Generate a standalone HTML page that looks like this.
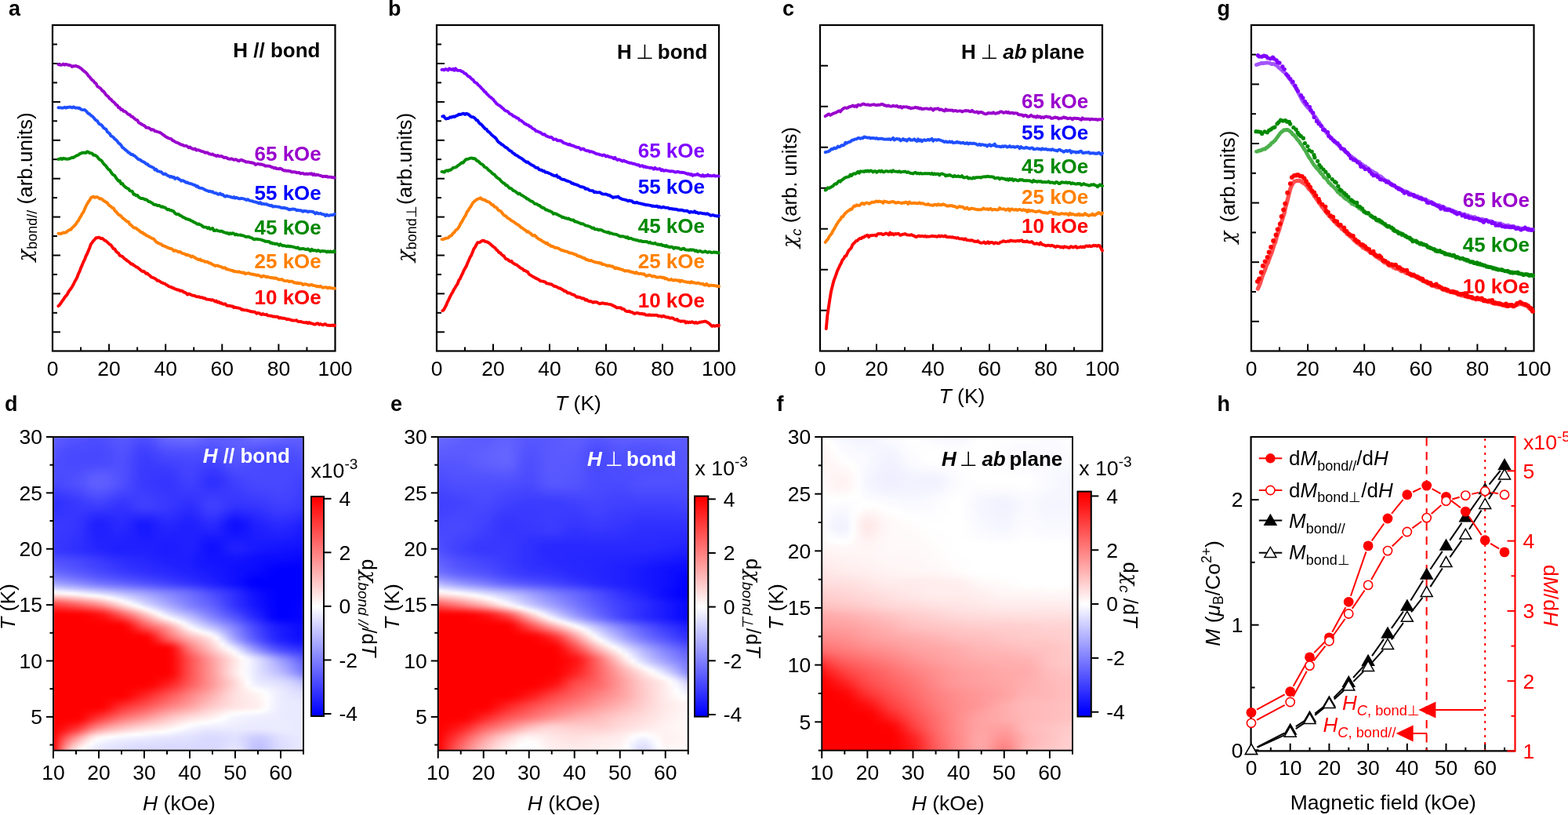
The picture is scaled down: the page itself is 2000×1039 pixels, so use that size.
<!DOCTYPE html>
<html><head><meta charset="utf-8"><title>Figure</title><style>
html,body{margin:0;padding:0;background:#fff}
#fig{position:relative;width:2000px;height:1039px;overflow:hidden;background:#fff}
svg{position:absolute;left:0;top:0}
svg text{font-family:'Liberation Sans', Arial, sans-serif}
</style></head><body><div id="fig">
<div style="position:absolute;left:68.00px;top:557.00px;width:319.00px;height:399.70px;overflow:hidden"><div style="filter:blur(1.2px);margin:-3px 0;padding:3px 0"><div style="height:3px;background:linear-gradient(90deg,#5f5fff 0.0%,#5b5bff 2.5%,#5858ff 5.0%,#5555ff 7.5%,#5353ff 10.0%,#5151ff 12.5%,#4f4fff 15.0%,#4f4fff 17.6%,#5050ff 20.1%,#5353ff 22.6%,#5757ff 25.1%,#5858ff 27.6%,#5656ff 30.1%,#5252ff 32.6%,#4f4fff 35.1%,#4f4fff 37.6%,#5757ff 40.1%,#6161ff 42.6%,#6767ff 45.1%,#6a6aff 47.6%,#6c6cff 50.2%,#6d6dff 52.7%,#6d6dff 55.2%,#6969ff 57.7%,#6363ff 60.2%,#5f5fff 62.7%,#5e5eff 65.2%,#5f5fff 67.7%,#5f5fff 70.2%,#5f5fff 72.7%,#6262ff 75.2%,#6767ff 77.7%,#6c6cff 80.3%,#6d6dff 82.8%,#6b6bff 85.3%,#6969ff 87.8%,#6666ff 90.3%,#6464ff 92.8%,#6262ff 95.3%,#6060ff 97.8%,#5f5fff 100.0%)"></div><div style="height:3px;background:linear-gradient(90deg,#5d5dff 0.0%,#5959ff 2.5%,#5555ff 5.0%,#5353ff 7.5%,#5151ff 10.0%,#4f4fff 12.5%,#4d4dff 15.0%,#4d4dff 17.6%,#4e4eff 20.1%,#5151ff 22.6%,#5555ff 25.1%,#5757ff 27.6%,#5555ff 30.1%,#5050ff 32.6%,#4c4cff 35.1%,#4c4cff 37.6%,#5353ff 40.1%,#5c5cff 42.6%,#6262ff 45.1%,#6565ff 47.6%,#6666ff 50.2%,#6767ff 52.7%,#6767ff 55.2%,#6464ff 57.7%,#5f5fff 60.2%,#5c5cff 62.7%,#5c5cff 65.2%,#5d5dff 67.7%,#5e5eff 70.2%,#5f5fff 72.7%,#6060ff 75.2%,#6464ff 77.7%,#6767ff 80.3%,#6767ff 82.8%,#6666ff 85.3%,#6363ff 87.8%,#6161ff 90.3%,#5f5fff 92.8%,#5e5eff 95.3%,#5e5eff 97.8%,#5d5dff 100.0%)"></div><div style="height:3px;background:linear-gradient(90deg,#5b5bff 0.0%,#5757ff 2.5%,#5353ff 5.0%,#5050ff 7.5%,#4f4fff 10.0%,#4d4dff 12.5%,#4c4cff 15.0%,#4b4bff 17.6%,#4c4cff 20.1%,#5050ff 22.6%,#5454ff 25.1%,#5656ff 27.6%,#5353ff 30.1%,#4d4dff 32.6%,#4949ff 35.1%,#4a4aff 37.6%,#5050ff 40.1%,#5858ff 42.6%,#5e5eff 45.1%,#6060ff 47.6%,#6161ff 50.2%,#6262ff 52.7%,#6262ff 55.2%,#6060ff 57.7%,#5c5cff 60.2%,#5959ff 62.7%,#5959ff 65.2%,#5b5bff 67.7%,#5d5dff 70.2%,#5e5eff 72.7%,#5f5fff 75.2%,#6060ff 77.7%,#6262ff 80.3%,#6262ff 82.8%,#6060ff 85.3%,#5e5eff 87.8%,#5c5cff 90.3%,#5b5bff 92.8%,#5b5bff 95.3%,#5b5bff 97.8%,#5b5bff 100.0%)"></div><div style="height:3px;background:linear-gradient(90deg,#5959ff 0.0%,#5555ff 2.5%,#5151ff 5.0%,#4e4eff 7.5%,#4d4dff 10.0%,#4c4cff 12.5%,#4b4bff 15.0%,#4a4aff 17.6%,#4b4bff 20.1%,#4f4fff 22.6%,#5353ff 25.1%,#5454ff 27.6%,#5151ff 30.1%,#4b4bff 32.6%,#4646ff 35.1%,#4747ff 37.6%,#4c4cff 40.1%,#5454ff 42.6%,#5959ff 45.1%,#5b5bff 47.6%,#5c5cff 50.2%,#5d5dff 52.7%,#5d5dff 55.2%,#5b5bff 57.7%,#5858ff 60.2%,#5656ff 62.7%,#5656ff 65.2%,#5959ff 67.7%,#5c5cff 70.2%,#5d5dff 72.7%,#5d5dff 75.2%,#5d5dff 77.7%,#5d5dff 80.3%,#5c5cff 82.8%,#5b5bff 85.3%,#5959ff 87.8%,#5757ff 90.3%,#5757ff 92.8%,#5757ff 95.3%,#5959ff 97.8%,#5a5aff 100.0%)"></div><div style="height:3px;background:linear-gradient(90deg,#5757ff 0.0%,#5353ff 2.5%,#4f4fff 5.0%,#4d4dff 7.5%,#4c4cff 10.0%,#4b4bff 12.5%,#4a4aff 15.0%,#4949ff 17.6%,#4a4aff 20.1%,#4e4eff 22.6%,#5151ff 25.1%,#5353ff 27.6%,#5050ff 30.1%,#4949ff 32.6%,#4444ff 35.1%,#4444ff 37.6%,#4949ff 40.1%,#5050ff 42.6%,#5555ff 45.1%,#5656ff 47.6%,#5858ff 50.2%,#5858ff 52.7%,#5858ff 55.2%,#5757ff 57.7%,#5555ff 60.2%,#5353ff 62.7%,#5454ff 65.2%,#5757ff 67.7%,#5a5aff 70.2%,#5c5cff 72.7%,#5b5bff 75.2%,#5a5aff 77.7%,#5858ff 80.3%,#5757ff 82.8%,#5656ff 85.3%,#5454ff 87.8%,#5353ff 90.3%,#5353ff 92.8%,#5454ff 95.3%,#5656ff 97.8%,#5858ff 100.0%)"></div><div style="height:3px;background:linear-gradient(90deg,#5555ff 0.0%,#5151ff 2.5%,#4d4dff 5.0%,#4b4bff 7.5%,#4a4aff 10.0%,#4a4aff 12.5%,#4949ff 15.0%,#4949ff 17.6%,#4a4aff 20.1%,#4d4dff 22.6%,#5050ff 25.1%,#5252ff 27.6%,#4f4fff 30.1%,#4848ff 32.6%,#4242ff 35.1%,#4242ff 37.6%,#4747ff 40.1%,#4c4cff 42.6%,#5151ff 45.1%,#5252ff 47.6%,#5353ff 50.2%,#5454ff 52.7%,#5454ff 55.2%,#5353ff 57.7%,#5252ff 60.2%,#5151ff 62.7%,#5151ff 65.2%,#5555ff 67.7%,#5959ff 70.2%,#5a5aff 72.7%,#5a5aff 75.2%,#5757ff 77.7%,#5454ff 80.3%,#5353ff 82.8%,#5252ff 85.3%,#5050ff 87.8%,#5050ff 90.3%,#5050ff 92.8%,#5151ff 95.3%,#5454ff 97.8%,#5656ff 100.0%)"></div><div style="height:3px;background:linear-gradient(90deg,#5454ff 0.0%,#5050ff 2.5%,#4c4cff 5.0%,#4a4aff 7.5%,#4949ff 10.0%,#4949ff 12.5%,#4848ff 15.0%,#4848ff 17.6%,#4949ff 20.1%,#4c4cff 22.6%,#5050ff 25.1%,#5151ff 27.6%,#4e4eff 30.1%,#4646ff 32.6%,#4040ff 35.1%,#4040ff 37.6%,#4444ff 40.1%,#4949ff 42.6%,#4d4dff 45.1%,#4e4eff 47.6%,#4f4fff 50.2%,#5050ff 52.7%,#5050ff 55.2%,#4f4fff 57.7%,#4f4fff 60.2%,#4e4eff 62.7%,#4f4fff 65.2%,#5353ff 67.7%,#5757ff 70.2%,#5959ff 72.7%,#5858ff 75.2%,#5555ff 77.7%,#5151ff 80.3%,#4f4fff 82.8%,#4e4eff 85.3%,#4d4dff 87.8%,#4c4cff 90.3%,#4d4dff 92.8%,#4f4fff 95.3%,#5252ff 97.8%,#5555ff 100.0%)"></div><div style="height:3px;background:linear-gradient(90deg,#5252ff 0.0%,#4e4eff 2.5%,#4b4bff 5.0%,#4949ff 7.5%,#4949ff 10.0%,#4848ff 12.5%,#4848ff 15.0%,#4848ff 17.6%,#4949ff 20.1%,#4c4cff 22.6%,#4f4fff 25.1%,#5050ff 27.6%,#4d4dff 30.1%,#4545ff 32.6%,#3f3fff 35.1%,#3e3eff 37.6%,#4242ff 40.1%,#4646ff 42.6%,#4a4aff 45.1%,#4b4bff 47.6%,#4c4cff 50.2%,#4c4cff 52.7%,#4d4dff 55.2%,#4c4cff 57.7%,#4c4cff 60.2%,#4b4bff 62.7%,#4c4cff 65.2%,#5151ff 67.7%,#5656ff 70.2%,#5858ff 72.7%,#5656ff 75.2%,#5353ff 77.7%,#4e4eff 80.3%,#4c4cff 82.8%,#4b4bff 85.3%,#4b4bff 87.8%,#4a4aff 90.3%,#4b4bff 92.8%,#4d4dff 95.3%,#5050ff 97.8%,#5353ff 100.0%)"></div><div style="height:3px;background:linear-gradient(90deg,#5151ff 0.0%,#4d4dff 2.5%,#4a4aff 5.0%,#4949ff 7.5%,#4848ff 10.0%,#4848ff 12.5%,#4848ff 15.0%,#4848ff 17.6%,#4949ff 20.1%,#4c4cff 22.6%,#4f4fff 25.1%,#5050ff 27.6%,#4c4cff 30.1%,#4444ff 32.6%,#3e3eff 35.1%,#3d3dff 37.6%,#4040ff 40.1%,#4444ff 42.6%,#4747ff 45.1%,#4848ff 47.6%,#4949ff 50.2%,#4a4aff 52.7%,#4a4aff 55.2%,#4a4aff 57.7%,#4949ff 60.2%,#4949ff 62.7%,#4a4aff 65.2%,#4f4fff 67.7%,#5454ff 70.2%,#5656ff 72.7%,#5555ff 75.2%,#5151ff 77.7%,#4c4cff 80.3%,#4b4bff 82.8%,#4a4aff 85.3%,#4949ff 87.8%,#4949ff 90.3%,#4949ff 92.8%,#4b4bff 95.3%,#4e4eff 97.8%,#5151ff 100.0%)"></div><div style="height:3px;background:linear-gradient(90deg,#5050ff 0.0%,#4d4dff 2.5%,#4a4aff 5.0%,#4848ff 7.5%,#4848ff 10.0%,#4848ff 12.5%,#4848ff 15.0%,#4848ff 17.6%,#4949ff 20.1%,#4c4cff 22.6%,#4f4fff 25.1%,#5050ff 27.6%,#4b4bff 30.1%,#4343ff 32.6%,#3d3dff 35.1%,#3c3cff 37.6%,#3f3fff 40.1%,#4242ff 42.6%,#4444ff 45.1%,#4646ff 47.6%,#4747ff 50.2%,#4848ff 52.7%,#4848ff 55.2%,#4848ff 57.7%,#4747ff 60.2%,#4646ff 62.7%,#4747ff 65.2%,#4c4cff 67.7%,#5252ff 70.2%,#5555ff 72.7%,#5353ff 75.2%,#4f4fff 77.7%,#4b4bff 80.3%,#4a4aff 82.8%,#4949ff 85.3%,#4848ff 87.8%,#4848ff 90.3%,#4848ff 92.8%,#4a4aff 95.3%,#4d4dff 97.8%,#5050ff 100.0%)"></div><div style="height:3px;background:linear-gradient(90deg,#4f4fff 0.0%,#4c4cff 2.5%,#4a4aff 5.0%,#4949ff 7.5%,#4848ff 10.0%,#4848ff 12.5%,#4949ff 15.0%,#4949ff 17.6%,#4a4aff 20.1%,#4c4cff 22.6%,#4f4fff 25.1%,#5050ff 27.6%,#4b4bff 30.1%,#4343ff 32.6%,#3d3dff 35.1%,#3c3cff 37.6%,#3d3dff 40.1%,#4040ff 42.6%,#4242ff 45.1%,#4343ff 47.6%,#4545ff 50.2%,#4646ff 52.7%,#4747ff 55.2%,#4646ff 57.7%,#4444ff 60.2%,#4444ff 62.7%,#4545ff 65.2%,#4a4aff 67.7%,#5050ff 70.2%,#5353ff 72.7%,#5151ff 75.2%,#4e4eff 77.7%,#4b4bff 80.3%,#4949ff 82.8%,#4949ff 85.3%,#4848ff 87.8%,#4848ff 90.3%,#4848ff 92.8%,#4949ff 95.3%,#4b4bff 97.8%,#4e4eff 100.0%)"></div><div style="height:3px;background:linear-gradient(90deg,#4e4eff 0.0%,#4c4cff 2.5%,#4a4aff 5.0%,#4949ff 7.5%,#4949ff 10.0%,#4a4aff 12.5%,#4a4aff 15.0%,#4b4bff 17.6%,#4b4bff 20.1%,#4d4dff 22.6%,#4f4fff 25.1%,#4f4fff 27.6%,#4a4aff 30.1%,#4343ff 32.6%,#3c3cff 35.1%,#3b3bff 37.6%,#3c3cff 40.1%,#3e3eff 42.6%,#3f3fff 45.1%,#4141ff 47.6%,#4343ff 50.2%,#4545ff 52.7%,#4646ff 55.2%,#4444ff 57.7%,#4242ff 60.2%,#4141ff 62.7%,#4242ff 65.2%,#4747ff 67.7%,#4e4eff 70.2%,#5151ff 72.7%,#5050ff 75.2%,#4d4dff 77.7%,#4a4aff 80.3%,#4949ff 82.8%,#4949ff 85.3%,#4848ff 87.8%,#4848ff 90.3%,#4848ff 92.8%,#4949ff 95.3%,#4a4aff 97.8%,#4c4cff 100.0%)"></div><div style="height:3px;background:linear-gradient(90deg,#4d4dff 0.0%,#4b4bff 2.5%,#4a4aff 5.0%,#4a4aff 7.5%,#4a4aff 10.0%,#4b4bff 12.5%,#4d4dff 15.0%,#4d4dff 17.6%,#4e4eff 20.1%,#4f4fff 22.6%,#5050ff 25.1%,#4f4fff 27.6%,#4a4aff 30.1%,#4242ff 32.6%,#3c3cff 35.1%,#3a3aff 37.6%,#3b3bff 40.1%,#3c3cff 42.6%,#3d3dff 45.1%,#3f3fff 47.6%,#4242ff 50.2%,#4444ff 52.7%,#4545ff 55.2%,#4343ff 57.7%,#3f3fff 60.2%,#3e3eff 62.7%,#3f3fff 65.2%,#4444ff 67.7%,#4b4bff 70.2%,#4f4fff 72.7%,#4e4eff 75.2%,#4c4cff 77.7%,#4a4aff 80.3%,#4949ff 82.8%,#4949ff 85.3%,#4848ff 87.8%,#4848ff 90.3%,#4848ff 92.8%,#4848ff 95.3%,#4949ff 97.8%,#4a4aff 100.0%)"></div><div style="height:3px;background:linear-gradient(90deg,#4d4dff 0.0%,#4b4bff 2.5%,#4b4bff 5.0%,#4a4aff 7.5%,#4b4bff 10.0%,#4d4dff 12.5%,#5050ff 15.0%,#5151ff 17.6%,#5151ff 20.1%,#5151ff 22.6%,#5151ff 25.1%,#4f4fff 27.6%,#4a4aff 30.1%,#4242ff 32.6%,#3c3cff 35.1%,#3a3aff 37.6%,#3a3aff 40.1%,#3a3aff 42.6%,#3b3bff 45.1%,#3d3dff 47.6%,#4141ff 50.2%,#4343ff 52.7%,#4444ff 55.2%,#4141ff 57.7%,#3d3dff 60.2%,#3b3bff 62.7%,#3b3bff 65.2%,#4141ff 67.7%,#4848ff 70.2%,#4c4cff 72.7%,#4c4cff 75.2%,#4b4bff 77.7%,#4a4aff 80.3%,#4949ff 82.8%,#4848ff 85.3%,#4848ff 87.8%,#4848ff 90.3%,#4848ff 92.8%,#4848ff 95.3%,#4848ff 97.8%,#4848ff 100.0%)"></div><div style="height:3px;background:linear-gradient(90deg,#4c4cff 0.0%,#4b4bff 2.5%,#4b4bff 5.0%,#4b4bff 7.5%,#4d4dff 10.0%,#5050ff 12.5%,#5353ff 15.0%,#5555ff 17.6%,#5454ff 20.1%,#5454ff 22.6%,#5252ff 25.1%,#4f4fff 27.6%,#4a4aff 30.1%,#4242ff 32.6%,#3b3bff 35.1%,#3939ff 37.6%,#3939ff 40.1%,#3939ff 42.6%,#3939ff 45.1%,#3b3bff 47.6%,#3f3fff 50.2%,#4343ff 52.7%,#4343ff 55.2%,#4040ff 57.7%,#3b3bff 60.2%,#3838ff 62.7%,#3838ff 65.2%,#3e3eff 67.7%,#4545ff 70.2%,#4a4aff 72.7%,#4a4aff 75.2%,#4a4aff 77.7%,#4949ff 80.3%,#4949ff 82.8%,#4848ff 85.3%,#4848ff 87.8%,#4848ff 90.3%,#4848ff 92.8%,#4848ff 95.3%,#4747ff 97.8%,#4747ff 100.0%)"></div><div style="height:3px;background:linear-gradient(90deg,#4b4bff 0.0%,#4b4bff 2.5%,#4b4bff 5.0%,#4c4cff 7.5%,#4e4eff 10.0%,#5252ff 12.5%,#5656ff 15.0%,#5858ff 17.6%,#5858ff 20.1%,#5656ff 22.6%,#5353ff 25.1%,#4f4fff 27.6%,#4a4aff 30.1%,#4242ff 32.6%,#3b3bff 35.1%,#3939ff 37.6%,#3838ff 40.1%,#3838ff 42.6%,#3838ff 45.1%,#3939ff 47.6%,#3e3eff 50.2%,#4242ff 52.7%,#4343ff 55.2%,#3f3fff 57.7%,#3939ff 60.2%,#3535ff 62.7%,#3636ff 65.2%,#3b3bff 67.7%,#4242ff 70.2%,#4747ff 72.7%,#4949ff 75.2%,#4949ff 77.7%,#4949ff 80.3%,#4949ff 82.8%,#4848ff 85.3%,#4848ff 87.8%,#4848ff 90.3%,#4848ff 92.8%,#4747ff 95.3%,#4646ff 97.8%,#4545ff 100.0%)"></div><div style="height:3px;background:linear-gradient(90deg,#4b4bff 0.0%,#4a4aff 2.5%,#4b4bff 5.0%,#4d4dff 7.5%,#4f4fff 10.0%,#5454ff 12.5%,#5959ff 15.0%,#5b5bff 17.6%,#5b5bff 20.1%,#5858ff 22.6%,#5454ff 25.1%,#4f4fff 27.6%,#4949ff 30.1%,#4242ff 32.6%,#3b3bff 35.1%,#3939ff 37.6%,#3737ff 40.1%,#3737ff 42.6%,#3636ff 45.1%,#3838ff 47.6%,#3d3dff 50.2%,#4141ff 52.7%,#4242ff 55.2%,#3e3eff 57.7%,#3737ff 60.2%,#3333ff 62.7%,#3434ff 65.2%,#3838ff 67.7%,#3f3fff 70.2%,#4545ff 72.7%,#4747ff 75.2%,#4848ff 77.7%,#4949ff 80.3%,#4949ff 82.8%,#4848ff 85.3%,#4848ff 87.8%,#4848ff 90.3%,#4848ff 92.8%,#4747ff 95.3%,#4545ff 97.8%,#4343ff 100.0%)"></div><div style="height:3px;background:linear-gradient(90deg,#4a4aff 0.0%,#4a4aff 2.5%,#4b4bff 5.0%,#4e4eff 7.5%,#5050ff 10.0%,#5555ff 12.5%,#5b5bff 15.0%,#5e5eff 17.6%,#5d5dff 20.1%,#5959ff 22.6%,#5454ff 25.1%,#4f4fff 27.6%,#4949ff 30.1%,#4141ff 32.6%,#3b3bff 35.1%,#3939ff 37.6%,#3737ff 40.1%,#3636ff 42.6%,#3535ff 45.1%,#3737ff 47.6%,#3c3cff 50.2%,#4040ff 52.7%,#4141ff 55.2%,#3d3dff 57.7%,#3636ff 60.2%,#3131ff 62.7%,#3232ff 65.2%,#3636ff 67.7%,#3d3dff 70.2%,#4343ff 72.7%,#4545ff 75.2%,#4747ff 77.7%,#4848ff 80.3%,#4848ff 82.8%,#4848ff 85.3%,#4848ff 87.8%,#4848ff 90.3%,#4848ff 92.8%,#4646ff 95.3%,#4444ff 97.8%,#4242ff 100.0%)"></div><div style="height:3px;background:linear-gradient(90deg,#4949ff 0.0%,#4a4aff 2.5%,#4b4bff 5.0%,#4e4eff 7.5%,#5151ff 10.0%,#5656ff 12.5%,#5c5cff 15.0%,#5f5fff 17.6%,#5e5eff 20.1%,#5a5aff 22.6%,#5555ff 25.1%,#4f4fff 27.6%,#4949ff 30.1%,#4141ff 32.6%,#3b3bff 35.1%,#3838ff 37.6%,#3737ff 40.1%,#3535ff 42.6%,#3535ff 45.1%,#3737ff 47.6%,#3b3bff 50.2%,#3f3fff 52.7%,#4040ff 55.2%,#3c3cff 57.7%,#3535ff 60.2%,#3030ff 62.7%,#3131ff 65.2%,#3535ff 67.7%,#3c3cff 70.2%,#4141ff 72.7%,#4444ff 75.2%,#4646ff 77.7%,#4848ff 80.3%,#4848ff 82.8%,#4848ff 85.3%,#4848ff 87.8%,#4848ff 90.3%,#4848ff 92.8%,#4646ff 95.3%,#4343ff 97.8%,#4040ff 100.0%)"></div><div style="height:3px;background:linear-gradient(90deg,#4747ff 0.0%,#4949ff 2.5%,#4b4bff 5.0%,#4e4eff 7.5%,#5151ff 10.0%,#5656ff 12.5%,#5c5cff 15.0%,#5f5fff 17.6%,#5e5eff 20.1%,#5a5aff 22.6%,#5454ff 25.1%,#4f4fff 27.6%,#4848ff 30.1%,#4141ff 32.6%,#3b3bff 35.1%,#3838ff 37.6%,#3737ff 40.1%,#3535ff 42.6%,#3535ff 45.1%,#3636ff 47.6%,#3a3aff 50.2%,#3e3eff 52.7%,#3f3fff 55.2%,#3b3bff 57.7%,#3535ff 60.2%,#3030ff 62.7%,#3131ff 65.2%,#3535ff 67.7%,#3b3bff 70.2%,#3f3fff 72.7%,#4242ff 75.2%,#4545ff 77.7%,#4747ff 80.3%,#4848ff 82.8%,#4848ff 85.3%,#4848ff 87.8%,#4848ff 90.3%,#4747ff 92.8%,#4545ff 95.3%,#4242ff 97.8%,#3f3fff 100.0%)"></div><div style="height:3px;background:linear-gradient(90deg,#4545ff 0.0%,#4747ff 2.5%,#4a4aff 5.0%,#4c4cff 7.5%,#5050ff 10.0%,#5555ff 12.5%,#5b5bff 15.0%,#5e5eff 17.6%,#5d5dff 20.1%,#5959ff 22.6%,#5353ff 25.1%,#4e4eff 27.6%,#4747ff 30.1%,#4040ff 32.6%,#3b3bff 35.1%,#3939ff 37.6%,#3737ff 40.1%,#3636ff 42.6%,#3535ff 45.1%,#3636ff 47.6%,#3939ff 50.2%,#3d3dff 52.7%,#3e3eff 55.2%,#3a3aff 57.7%,#3535ff 60.2%,#3131ff 62.7%,#3232ff 65.2%,#3636ff 67.7%,#3a3aff 70.2%,#3e3eff 72.7%,#4141ff 75.2%,#4444ff 77.7%,#4646ff 80.3%,#4747ff 82.8%,#4747ff 85.3%,#4848ff 87.8%,#4848ff 90.3%,#4747ff 92.8%,#4545ff 95.3%,#4242ff 97.8%,#3e3eff 100.0%)"></div><div style="height:3px;background:linear-gradient(90deg,#4242ff 0.0%,#4545ff 2.5%,#4848ff 5.0%,#4a4aff 7.5%,#4d4dff 10.0%,#5353ff 12.5%,#5858ff 15.0%,#5c5cff 17.6%,#5b5bff 20.1%,#5656ff 22.6%,#5151ff 25.1%,#4b4bff 27.6%,#4646ff 30.1%,#4040ff 32.6%,#3c3cff 35.1%,#3a3aff 37.6%,#3838ff 40.1%,#3636ff 42.6%,#3535ff 45.1%,#3636ff 47.6%,#3838ff 50.2%,#3b3bff 52.7%,#3c3cff 55.2%,#3939ff 57.7%,#3636ff 60.2%,#3333ff 62.7%,#3333ff 65.2%,#3636ff 67.7%,#3a3aff 70.2%,#3d3dff 72.7%,#3f3fff 75.2%,#4343ff 77.7%,#4545ff 80.3%,#4646ff 82.8%,#4747ff 85.3%,#4747ff 87.8%,#4747ff 90.3%,#4747ff 92.8%,#4444ff 95.3%,#4141ff 97.8%,#3e3eff 100.0%)"></div><div style="height:3px;background:linear-gradient(90deg,#3f3fff 0.0%,#4242ff 2.5%,#4545ff 5.0%,#4747ff 7.5%,#4a4aff 10.0%,#5050ff 12.5%,#5555ff 15.0%,#5959ff 17.6%,#5757ff 20.1%,#5353ff 22.6%,#4d4dff 25.1%,#4848ff 27.6%,#4444ff 30.1%,#4040ff 32.6%,#3c3cff 35.1%,#3b3bff 37.6%,#3939ff 40.1%,#3737ff 42.6%,#3636ff 45.1%,#3636ff 47.6%,#3838ff 50.2%,#3a3aff 52.7%,#3b3bff 55.2%,#3939ff 57.7%,#3737ff 60.2%,#3535ff 62.7%,#3535ff 65.2%,#3737ff 67.7%,#3939ff 70.2%,#3c3cff 72.7%,#3e3eff 75.2%,#4141ff 77.7%,#4444ff 80.3%,#4545ff 82.8%,#4545ff 85.3%,#4646ff 87.8%,#4747ff 90.3%,#4646ff 92.8%,#4343ff 95.3%,#4040ff 97.8%,#3d3dff 100.0%)"></div><div style="height:3px;background:linear-gradient(90deg,#3c3cff 0.0%,#3e3eff 2.5%,#4141ff 5.0%,#4444ff 7.5%,#4747ff 10.0%,#4c4cff 12.5%,#5252ff 15.0%,#5555ff 17.6%,#5454ff 20.1%,#4f4fff 22.6%,#4949ff 25.1%,#4545ff 27.6%,#4242ff 30.1%,#3f3fff 32.6%,#3d3dff 35.1%,#3c3cff 37.6%,#3a3aff 40.1%,#3838ff 42.6%,#3636ff 45.1%,#3636ff 47.6%,#3737ff 50.2%,#3838ff 52.7%,#3939ff 55.2%,#3838ff 57.7%,#3838ff 60.2%,#3737ff 62.7%,#3737ff 65.2%,#3838ff 67.7%,#3939ff 70.2%,#3b3bff 72.7%,#3d3dff 75.2%,#4040ff 77.7%,#4242ff 80.3%,#4343ff 82.8%,#4444ff 85.3%,#4545ff 87.8%,#4646ff 90.3%,#4545ff 92.8%,#4343ff 95.3%,#4040ff 97.8%,#3c3cff 100.0%)"></div><div style="height:3px;background:linear-gradient(90deg,#3838ff 0.0%,#3b3bff 2.5%,#3d3dff 5.0%,#4040ff 7.5%,#4444ff 10.0%,#4949ff 12.5%,#4e4eff 15.0%,#5050ff 17.6%,#4f4fff 20.1%,#4b4bff 22.6%,#4545ff 25.1%,#4141ff 27.6%,#4040ff 30.1%,#3f3fff 32.6%,#3e3eff 35.1%,#3d3dff 37.6%,#3b3bff 40.1%,#3939ff 42.6%,#3737ff 45.1%,#3636ff 47.6%,#3636ff 50.2%,#3737ff 52.7%,#3737ff 55.2%,#3737ff 57.7%,#3838ff 60.2%,#3939ff 62.7%,#3939ff 65.2%,#3939ff 67.7%,#3939ff 70.2%,#3a3aff 72.7%,#3c3cff 75.2%,#3e3eff 77.7%,#4040ff 80.3%,#4141ff 82.8%,#4242ff 85.3%,#4444ff 87.8%,#4545ff 90.3%,#4444ff 92.8%,#4242ff 95.3%,#3f3fff 97.8%,#3c3cff 100.0%)"></div><div style="height:3px;background:linear-gradient(90deg,#3535ff 0.0%,#3737ff 2.5%,#3a3aff 5.0%,#3d3dff 7.5%,#4040ff 10.0%,#4545ff 12.5%,#4a4aff 15.0%,#4c4cff 17.6%,#4b4bff 20.1%,#4646ff 22.6%,#4141ff 25.1%,#3e3eff 27.6%,#3e3eff 30.1%,#3e3eff 32.6%,#3e3eff 35.1%,#3e3eff 37.6%,#3c3cff 40.1%,#3a3aff 42.6%,#3838ff 45.1%,#3636ff 47.6%,#3636ff 50.2%,#3535ff 52.7%,#3535ff 55.2%,#3737ff 57.7%,#3939ff 60.2%,#3c3cff 62.7%,#3b3bff 65.2%,#3a3aff 67.7%,#3939ff 70.2%,#3939ff 72.7%,#3a3aff 75.2%,#3c3cff 77.7%,#3e3eff 80.3%,#3f3fff 82.8%,#4141ff 85.3%,#4242ff 87.8%,#4444ff 90.3%,#4343ff 92.8%,#4141ff 95.3%,#3e3eff 97.8%,#3b3bff 100.0%)"></div><div style="height:3px;background:linear-gradient(90deg,#3232ff 0.0%,#3535ff 2.5%,#3737ff 5.0%,#3a3aff 7.5%,#3d3dff 10.0%,#4141ff 12.5%,#4545ff 15.0%,#4848ff 17.6%,#4646ff 20.1%,#4242ff 22.6%,#3d3dff 25.1%,#3a3aff 27.6%,#3c3cff 30.1%,#3d3dff 32.6%,#3f3fff 35.1%,#3f3fff 37.6%,#3d3dff 40.1%,#3a3aff 42.6%,#3838ff 45.1%,#3636ff 47.6%,#3535ff 50.2%,#3434ff 52.7%,#3434ff 55.2%,#3636ff 57.7%,#3a3aff 60.2%,#3d3dff 62.7%,#3d3dff 65.2%,#3a3aff 67.7%,#3838ff 70.2%,#3838ff 72.7%,#3939ff 75.2%,#3a3aff 77.7%,#3c3cff 80.3%,#3d3dff 82.8%,#3f3fff 85.3%,#4141ff 87.8%,#4242ff 90.3%,#4242ff 92.8%,#4040ff 95.3%,#3d3dff 97.8%,#3a3aff 100.0%)"></div><div style="height:3px;background:linear-gradient(90deg,#3131ff 0.0%,#3333ff 2.5%,#3535ff 5.0%,#3838ff 7.5%,#3b3bff 10.0%,#3e3eff 12.5%,#4242ff 15.0%,#4444ff 17.6%,#4242ff 20.1%,#3e3eff 22.6%,#3939ff 25.1%,#3737ff 27.6%,#3939ff 30.1%,#3d3dff 32.6%,#3f3fff 35.1%,#3f3fff 37.6%,#3d3dff 40.1%,#3b3bff 42.6%,#3838ff 45.1%,#3636ff 47.6%,#3434ff 50.2%,#3232ff 52.7%,#3232ff 55.2%,#3535ff 57.7%,#3a3aff 60.2%,#3f3fff 62.7%,#3e3eff 65.2%,#3b3bff 67.7%,#3838ff 70.2%,#3737ff 72.7%,#3737ff 75.2%,#3838ff 77.7%,#3a3aff 80.3%,#3b3bff 82.8%,#3d3dff 85.3%,#4040ff 87.8%,#4141ff 90.3%,#4141ff 92.8%,#3f3fff 95.3%,#3d3dff 97.8%,#3939ff 100.0%)"></div><div style="height:3px;background:linear-gradient(90deg,#3030ff 0.0%,#3232ff 2.5%,#3434ff 5.0%,#3737ff 7.5%,#3939ff 10.0%,#3c3cff 12.5%,#3e3eff 15.0%,#4040ff 17.6%,#3f3fff 20.1%,#3b3bff 22.6%,#3737ff 25.1%,#3535ff 27.6%,#3737ff 30.1%,#3c3cff 32.6%,#3f3fff 35.1%,#3f3fff 37.6%,#3e3eff 40.1%,#3b3bff 42.6%,#3838ff 45.1%,#3636ff 47.6%,#3333ff 50.2%,#3131ff 52.7%,#3030ff 55.2%,#3434ff 57.7%,#3b3bff 60.2%,#3f3fff 62.7%,#3f3fff 65.2%,#3b3bff 67.7%,#3737ff 70.2%,#3535ff 72.7%,#3535ff 75.2%,#3636ff 77.7%,#3737ff 80.3%,#3939ff 82.8%,#3b3bff 85.3%,#3e3eff 87.8%,#4040ff 90.3%,#3f3fff 92.8%,#3e3eff 95.3%,#3b3bff 97.8%,#3838ff 100.0%)"></div><div style="height:3px;background:linear-gradient(90deg,#3030ff 0.0%,#3232ff 2.5%,#3535ff 5.0%,#3737ff 7.5%,#3838ff 10.0%,#3a3aff 12.5%,#3b3bff 15.0%,#3c3cff 17.6%,#3b3bff 20.1%,#3838ff 22.6%,#3434ff 25.1%,#3333ff 27.6%,#3535ff 30.1%,#3a3aff 32.6%,#3e3eff 35.1%,#3e3eff 37.6%,#3d3dff 40.1%,#3a3aff 42.6%,#3838ff 45.1%,#3535ff 47.6%,#3232ff 50.2%,#2f2fff 52.7%,#2e2eff 55.2%,#3333ff 57.7%,#3a3aff 60.2%,#3f3fff 62.7%,#3e3eff 65.2%,#3a3aff 67.7%,#3535ff 70.2%,#3333ff 72.7%,#3333ff 75.2%,#3434ff 77.7%,#3535ff 80.3%,#3737ff 82.8%,#3939ff 85.3%,#3c3cff 87.8%,#3e3eff 90.3%,#3e3eff 92.8%,#3d3dff 95.3%,#3a3aff 97.8%,#3636ff 100.0%)"></div><div style="height:3px;background:linear-gradient(90deg,#3131ff 0.0%,#3333ff 2.5%,#3535ff 5.0%,#3636ff 7.5%,#3737ff 10.0%,#3838ff 12.5%,#3838ff 15.0%,#3838ff 17.6%,#3737ff 20.1%,#3535ff 22.6%,#3232ff 25.1%,#3232ff 27.6%,#3333ff 30.1%,#3737ff 32.6%,#3b3bff 35.1%,#3b3bff 37.6%,#3a3aff 40.1%,#3939ff 42.6%,#3737ff 45.1%,#3434ff 47.6%,#3030ff 50.2%,#2d2dff 52.7%,#2c2cff 55.2%,#3131ff 57.7%,#3939ff 60.2%,#3e3eff 62.7%,#3d3dff 65.2%,#3838ff 67.7%,#3232ff 70.2%,#2f2fff 72.7%,#2f2fff 75.2%,#3030ff 77.7%,#3232ff 80.3%,#3434ff 82.8%,#3737ff 85.3%,#3a3aff 87.8%,#3c3cff 90.3%,#3c3cff 92.8%,#3a3aff 95.3%,#3838ff 97.8%,#3434ff 100.0%)"></div><div style="height:3px;background:linear-gradient(90deg,#3232ff 0.0%,#3333ff 2.5%,#3535ff 5.0%,#3636ff 7.5%,#3737ff 10.0%,#3636ff 12.5%,#3535ff 15.0%,#3434ff 17.6%,#3333ff 20.1%,#3232ff 22.6%,#3131ff 25.1%,#3030ff 27.6%,#3131ff 30.1%,#3434ff 32.6%,#3636ff 35.1%,#3737ff 37.6%,#3636ff 40.1%,#3636ff 42.6%,#3535ff 45.1%,#3232ff 47.6%,#2e2eff 50.2%,#2b2bff 52.7%,#2a2aff 55.2%,#2f2fff 57.7%,#3737ff 60.2%,#3b3bff 62.7%,#3b3bff 65.2%,#3535ff 67.7%,#2e2eff 70.2%,#2a2aff 72.7%,#2a2aff 75.2%,#2c2cff 77.7%,#2f2fff 80.3%,#3131ff 82.8%,#3535ff 85.3%,#3838ff 87.8%,#3a3aff 90.3%,#3a3aff 92.8%,#3838ff 95.3%,#3535ff 97.8%,#3131ff 100.0%)"></div><div style="height:3px;background:linear-gradient(90deg,#3333ff 0.0%,#3434ff 2.5%,#3535ff 5.0%,#3636ff 7.5%,#3636ff 10.0%,#3434ff 12.5%,#3131ff 15.0%,#2f2fff 17.6%,#2f2fff 20.1%,#2f2fff 22.6%,#2f2fff 25.1%,#2f2fff 27.6%,#2f2fff 30.1%,#2f2fff 32.6%,#3131ff 35.1%,#3131ff 37.6%,#3131ff 40.1%,#3333ff 42.6%,#3232ff 45.1%,#3030ff 47.6%,#2c2cff 50.2%,#2929ff 52.7%,#2828ff 55.2%,#2d2dff 57.7%,#3535ff 60.2%,#3939ff 62.7%,#3838ff 65.2%,#3131ff 67.7%,#2929ff 70.2%,#2525ff 72.7%,#2525ff 75.2%,#2828ff 77.7%,#2b2bff 80.3%,#2f2fff 82.8%,#3232ff 85.3%,#3535ff 87.8%,#3737ff 90.3%,#3737ff 92.8%,#3535ff 95.3%,#3232ff 97.8%,#2e2eff 100.0%)"></div><div style="height:3px;background:linear-gradient(90deg,#3434ff 0.0%,#3535ff 2.5%,#3636ff 5.0%,#3636ff 7.5%,#3636ff 10.0%,#3232ff 12.5%,#2e2eff 15.0%,#2b2bff 17.6%,#2b2bff 20.1%,#2c2cff 22.6%,#2d2dff 25.1%,#2d2dff 27.6%,#2c2cff 30.1%,#2b2bff 32.6%,#2b2bff 35.1%,#2b2bff 37.6%,#2c2cff 40.1%,#2f2fff 42.6%,#3030ff 45.1%,#2e2eff 47.6%,#2a2aff 50.2%,#2626ff 52.7%,#2626ff 55.2%,#2b2bff 57.7%,#3232ff 60.2%,#3636ff 62.7%,#3535ff 65.2%,#2d2dff 67.7%,#2424ff 70.2%,#1f1fff 72.7%,#2020ff 75.2%,#2424ff 77.7%,#2828ff 80.3%,#2c2cff 82.8%,#2f2fff 85.3%,#3333ff 87.8%,#3535ff 90.3%,#3434ff 92.8%,#3232ff 95.3%,#2f2fff 97.8%,#2a2aff 100.0%)"></div><div style="height:3px;background:linear-gradient(90deg,#3535ff 0.0%,#3636ff 2.5%,#3636ff 5.0%,#3636ff 7.5%,#3535ff 10.0%,#3131ff 12.5%,#2b2bff 15.0%,#2727ff 17.6%,#2727ff 20.1%,#2929ff 22.6%,#2b2bff 25.1%,#2c2cff 27.6%,#2a2aff 30.1%,#2727ff 32.6%,#2525ff 35.1%,#2525ff 37.6%,#2727ff 40.1%,#2b2bff 42.6%,#2d2dff 45.1%,#2b2bff 47.6%,#2828ff 50.2%,#2424ff 52.7%,#2424ff 55.2%,#2828ff 57.7%,#2f2fff 60.2%,#3333ff 62.7%,#3131ff 65.2%,#2929ff 67.7%,#1f1fff 70.2%,#1a1aff 72.7%,#1c1cff 75.2%,#1f1fff 77.7%,#2525ff 80.3%,#2929ff 82.8%,#2d2dff 85.3%,#3030ff 87.8%,#3232ff 90.3%,#3131ff 92.8%,#2f2fff 95.3%,#2b2bff 97.8%,#2626ff 100.0%)"></div><div style="height:3px;background:linear-gradient(90deg,#3737ff 0.0%,#3737ff 2.5%,#3737ff 5.0%,#3636ff 7.5%,#3535ff 10.0%,#2f2fff 12.5%,#2828ff 15.0%,#2424ff 17.6%,#2424ff 20.1%,#2727ff 22.6%,#2a2aff 25.1%,#2b2bff 27.6%,#2828ff 30.1%,#2323ff 32.6%,#2020ff 35.1%,#2020ff 37.6%,#2323ff 40.1%,#2828ff 42.6%,#2a2aff 45.1%,#2929ff 47.6%,#2626ff 50.2%,#2323ff 52.7%,#2222ff 55.2%,#2626ff 57.7%,#2c2cff 60.2%,#2f2fff 62.7%,#2e2eff 65.2%,#2525ff 67.7%,#1a1aff 70.2%,#1616ff 72.7%,#1818ff 75.2%,#1c1cff 77.7%,#2222ff 80.3%,#2626ff 82.8%,#2a2aff 85.3%,#2d2dff 87.8%,#2f2fff 90.3%,#2e2eff 92.8%,#2c2cff 95.3%,#2828ff 97.8%,#2323ff 100.0%)"></div><div style="height:3px;background:linear-gradient(90deg,#3838ff 0.0%,#3737ff 2.5%,#3737ff 5.0%,#3636ff 7.5%,#3535ff 10.0%,#2e2eff 12.5%,#2626ff 15.0%,#2222ff 17.6%,#2222ff 20.1%,#2525ff 22.6%,#2929ff 25.1%,#2a2aff 27.6%,#2626ff 30.1%,#2020ff 32.6%,#1c1cff 35.1%,#1c1cff 37.6%,#1f1fff 40.1%,#2525ff 42.6%,#2828ff 45.1%,#2727ff 47.6%,#2424ff 50.2%,#2121ff 52.7%,#2121ff 55.2%,#2424ff 57.7%,#2929ff 60.2%,#2c2cff 62.7%,#2b2bff 65.2%,#2121ff 67.7%,#1717ff 70.2%,#1212ff 72.7%,#1414ff 75.2%,#1919ff 77.7%,#2020ff 80.3%,#2424ff 82.8%,#2727ff 85.3%,#2a2aff 87.8%,#2c2cff 90.3%,#2c2cff 92.8%,#2929ff 95.3%,#2525ff 97.8%,#2020ff 100.0%)"></div><div style="height:3px;background:linear-gradient(90deg,#3838ff 0.0%,#3838ff 2.5%,#3737ff 5.0%,#3636ff 7.5%,#3434ff 10.0%,#2e2eff 12.5%,#2525ff 15.0%,#2020ff 17.6%,#2121ff 20.1%,#2424ff 22.6%,#2828ff 25.1%,#2929ff 27.6%,#2525ff 30.1%,#1e1eff 32.6%,#1919ff 35.1%,#1919ff 37.6%,#1d1dff 40.1%,#2323ff 42.6%,#2626ff 45.1%,#2525ff 47.6%,#2323ff 50.2%,#2121ff 52.7%,#2020ff 55.2%,#2323ff 57.7%,#2727ff 60.2%,#2929ff 62.7%,#2828ff 65.2%,#1f1fff 67.7%,#1515ff 70.2%,#1010ff 72.7%,#1313ff 75.2%,#1818ff 77.7%,#1e1eff 80.3%,#2222ff 82.8%,#2525ff 85.3%,#2828ff 87.8%,#2929ff 90.3%,#2929ff 92.8%,#2626ff 95.3%,#2222ff 97.8%,#1d1dff 100.0%)"></div><div style="height:3px;background:linear-gradient(90deg,#3838ff 0.0%,#3838ff 2.5%,#3737ff 5.0%,#3636ff 7.5%,#3434ff 10.0%,#2d2dff 12.5%,#2525ff 15.0%,#2020ff 17.6%,#2121ff 20.1%,#2424ff 22.6%,#2727ff 25.1%,#2828ff 27.6%,#2424ff 30.1%,#1e1eff 32.6%,#1919ff 35.1%,#1919ff 37.6%,#1d1dff 40.1%,#2222ff 42.6%,#2424ff 45.1%,#2424ff 47.6%,#2222ff 50.2%,#2020ff 52.7%,#2020ff 55.2%,#2222ff 57.7%,#2525ff 60.2%,#2727ff 62.7%,#2525ff 65.2%,#1d1dff 67.7%,#1515ff 70.2%,#1010ff 72.7%,#1212ff 75.2%,#1818ff 77.7%,#1d1dff 80.3%,#2020ff 82.8%,#2323ff 85.3%,#2626ff 87.8%,#2727ff 90.3%,#2727ff 92.8%,#2424ff 95.3%,#2020ff 97.8%,#1b1bff 100.0%)"></div><div style="height:3px;background:linear-gradient(90deg,#3838ff 0.0%,#3838ff 2.5%,#3737ff 5.0%,#3535ff 7.5%,#3333ff 10.0%,#2d2dff 12.5%,#2525ff 15.0%,#2020ff 17.6%,#2121ff 20.1%,#2323ff 22.6%,#2626ff 25.1%,#2727ff 27.6%,#2323ff 30.1%,#1e1eff 32.6%,#1919ff 35.1%,#1919ff 37.6%,#1d1dff 40.1%,#2121ff 42.6%,#2323ff 45.1%,#2323ff 47.6%,#2121ff 50.2%,#2020ff 52.7%,#2020ff 55.2%,#2121ff 57.7%,#2222ff 60.2%,#2424ff 62.7%,#2222ff 65.2%,#1c1cff 67.7%,#1515ff 70.2%,#1111ff 72.7%,#1313ff 75.2%,#1818ff 77.7%,#1d1dff 80.3%,#1f1fff 82.8%,#2222ff 85.3%,#2424ff 87.8%,#2525ff 90.3%,#2424ff 92.8%,#2222ff 95.3%,#1e1eff 97.8%,#1a1aff 100.0%)"></div><div style="height:3px;background:linear-gradient(90deg,#3838ff 0.0%,#3838ff 2.5%,#3636ff 5.0%,#3535ff 7.5%,#3232ff 10.0%,#2d2dff 12.5%,#2525ff 15.0%,#2121ff 17.6%,#2121ff 20.1%,#2323ff 22.6%,#2525ff 25.1%,#2525ff 27.6%,#2323ff 30.1%,#1e1eff 32.6%,#1a1aff 35.1%,#1a1aff 37.6%,#1d1dff 40.1%,#2020ff 42.6%,#2222ff 45.1%,#2121ff 47.6%,#2121ff 50.2%,#2020ff 52.7%,#2020ff 55.2%,#2020ff 57.7%,#2020ff 60.2%,#2121ff 62.7%,#2020ff 65.2%,#1b1bff 67.7%,#1616ff 70.2%,#1313ff 72.7%,#1414ff 75.2%,#1818ff 77.7%,#1c1cff 80.3%,#1e1eff 82.8%,#2020ff 85.3%,#2222ff 87.8%,#2323ff 90.3%,#2222ff 92.8%,#2020ff 95.3%,#1c1cff 97.8%,#1818ff 100.0%)"></div><div style="height:3px;background:linear-gradient(90deg,#3838ff 0.0%,#3737ff 2.5%,#3636ff 5.0%,#3434ff 7.5%,#3232ff 10.0%,#2c2cff 12.5%,#2626ff 15.0%,#2121ff 17.6%,#2121ff 20.1%,#2323ff 22.6%,#2424ff 25.1%,#2424ff 27.6%,#2222ff 30.1%,#1e1eff 32.6%,#1a1aff 35.1%,#1a1aff 37.6%,#1d1dff 40.1%,#1f1fff 42.6%,#2121ff 45.1%,#2020ff 47.6%,#2020ff 50.2%,#2020ff 52.7%,#2020ff 55.2%,#1f1fff 57.7%,#1e1eff 60.2%,#1d1dff 62.7%,#1d1dff 65.2%,#1b1bff 67.7%,#1717ff 70.2%,#1515ff 72.7%,#1616ff 75.2%,#1919ff 77.7%,#1c1cff 80.3%,#1d1dff 82.8%,#1f1fff 85.3%,#2020ff 87.8%,#2121ff 90.3%,#2020ff 92.8%,#1e1eff 95.3%,#1b1bff 97.8%,#1717ff 100.0%)"></div><div style="height:3px;background:linear-gradient(90deg,#3838ff 0.0%,#3737ff 2.5%,#3636ff 5.0%,#3434ff 7.5%,#3131ff 10.0%,#2c2cff 12.5%,#2626ff 15.0%,#2121ff 17.6%,#2121ff 20.1%,#2222ff 22.6%,#2323ff 25.1%,#2323ff 27.6%,#2121ff 30.1%,#1f1fff 32.6%,#1b1bff 35.1%,#1b1bff 37.6%,#1d1dff 40.1%,#1f1fff 42.6%,#1f1fff 45.1%,#1f1fff 47.6%,#1f1fff 50.2%,#2020ff 52.7%,#2020ff 55.2%,#1e1eff 57.7%,#1c1cff 60.2%,#1a1aff 62.7%,#1a1aff 65.2%,#1a1aff 67.7%,#1818ff 70.2%,#1717ff 72.7%,#1818ff 75.2%,#1a1aff 77.7%,#1c1cff 80.3%,#1d1dff 82.8%,#1e1eff 85.3%,#1e1eff 87.8%,#1f1fff 90.3%,#1e1eff 92.8%,#1c1cff 95.3%,#1919ff 97.8%,#1616ff 100.0%)"></div><div style="height:3px;background:linear-gradient(90deg,#3838ff 0.0%,#3737ff 2.5%,#3535ff 5.0%,#3333ff 7.5%,#3030ff 10.0%,#2c2cff 12.5%,#2626ff 15.0%,#2222ff 17.6%,#2222ff 20.1%,#2222ff 22.6%,#2222ff 25.1%,#2222ff 27.6%,#2121ff 30.1%,#1f1fff 32.6%,#1c1cff 35.1%,#1c1cff 37.6%,#1d1dff 40.1%,#1e1eff 42.6%,#1e1eff 45.1%,#1e1eff 47.6%,#1f1fff 50.2%,#2020ff 52.7%,#2020ff 55.2%,#1e1eff 57.7%,#1a1aff 60.2%,#1717ff 62.7%,#1717ff 65.2%,#1919ff 67.7%,#1a1aff 70.2%,#1a1aff 72.7%,#1a1aff 75.2%,#1a1aff 77.7%,#1b1bff 80.3%,#1c1cff 82.8%,#1c1cff 85.3%,#1d1dff 87.8%,#1d1dff 90.3%,#1c1cff 92.8%,#1a1aff 95.3%,#1818ff 97.8%,#1515ff 100.0%)"></div><div style="height:3px;background:linear-gradient(90deg,#3838ff 0.0%,#3636ff 2.5%,#3535ff 5.0%,#3232ff 7.5%,#3030ff 10.0%,#2c2cff 12.5%,#2727ff 15.0%,#2323ff 17.6%,#2222ff 20.1%,#2222ff 22.6%,#2121ff 25.1%,#2121ff 27.6%,#2020ff 30.1%,#1f1fff 32.6%,#1d1dff 35.1%,#1d1dff 37.6%,#1e1eff 40.1%,#1e1eff 42.6%,#1d1dff 45.1%,#1e1eff 47.6%,#1f1fff 50.2%,#2020ff 52.7%,#2020ff 55.2%,#1d1dff 57.7%,#1818ff 60.2%,#1515ff 62.7%,#1515ff 65.2%,#1919ff 67.7%,#1b1bff 70.2%,#1c1cff 72.7%,#1c1cff 75.2%,#1b1bff 77.7%,#1b1bff 80.3%,#1b1bff 82.8%,#1b1bff 85.3%,#1b1bff 87.8%,#1a1aff 90.3%,#1919ff 92.8%,#1818ff 95.3%,#1616ff 97.8%,#1414ff 100.0%)"></div><div style="height:3px;background:linear-gradient(90deg,#3838ff 0.0%,#3636ff 2.5%,#3434ff 5.0%,#3232ff 7.5%,#2f2fff 10.0%,#2c2cff 12.5%,#2727ff 15.0%,#2323ff 17.6%,#2222ff 20.1%,#2222ff 22.6%,#2121ff 25.1%,#2121ff 27.6%,#2020ff 30.1%,#1f1fff 32.6%,#1e1eff 35.1%,#1e1eff 37.6%,#1e1eff 40.1%,#1d1dff 42.6%,#1d1dff 45.1%,#1d1dff 47.6%,#1e1eff 50.2%,#2020ff 52.7%,#2020ff 55.2%,#1d1dff 57.7%,#1616ff 60.2%,#1212ff 62.7%,#1313ff 65.2%,#1818ff 67.7%,#1c1cff 70.2%,#1e1eff 72.7%,#1d1dff 75.2%,#1c1cff 77.7%,#1b1bff 80.3%,#1a1aff 82.8%,#1a1aff 85.3%,#1919ff 87.8%,#1818ff 90.3%,#1717ff 92.8%,#1616ff 95.3%,#1414ff 97.8%,#1313ff 100.0%)"></div><div style="height:3px;background:linear-gradient(90deg,#3838ff 0.0%,#3636ff 2.5%,#3434ff 5.0%,#3232ff 7.5%,#2f2fff 10.0%,#2c2cff 12.5%,#2828ff 15.0%,#2424ff 17.6%,#2323ff 20.1%,#2222ff 22.6%,#2020ff 25.1%,#2020ff 27.6%,#2020ff 30.1%,#2020ff 32.6%,#1f1fff 35.1%,#1f1fff 37.6%,#1e1eff 40.1%,#1d1dff 42.6%,#1c1cff 45.1%,#1d1dff 47.6%,#1e1eff 50.2%,#2020ff 52.7%,#2020ff 55.2%,#1c1cff 57.7%,#1515ff 60.2%,#1111ff 62.7%,#1212ff 65.2%,#1717ff 67.7%,#1d1dff 70.2%,#1f1fff 72.7%,#1e1eff 75.2%,#1c1cff 77.7%,#1a1aff 80.3%,#1919ff 82.8%,#1818ff 85.3%,#1717ff 87.8%,#1616ff 90.3%,#1515ff 92.8%,#1414ff 95.3%,#1313ff 97.8%,#1212ff 100.0%)"></div><div style="height:3px;background:linear-gradient(90deg,#3838ff 0.0%,#3636ff 2.5%,#3434ff 5.0%,#3131ff 7.5%,#2f2fff 10.0%,#2c2cff 12.5%,#2828ff 15.0%,#2525ff 17.6%,#2323ff 20.1%,#2222ff 22.6%,#2020ff 25.1%,#2020ff 27.6%,#2020ff 30.1%,#2020ff 32.6%,#2020ff 35.1%,#2020ff 37.6%,#1e1eff 40.1%,#1d1dff 42.6%,#1c1cff 45.1%,#1d1dff 47.6%,#1e1eff 50.2%,#1f1fff 52.7%,#2020ff 55.2%,#1c1cff 57.7%,#1515ff 60.2%,#1010ff 62.7%,#1111ff 65.2%,#1717ff 67.7%,#1d1dff 70.2%,#2020ff 72.7%,#1f1fff 75.2%,#1c1cff 77.7%,#1a1aff 80.3%,#1818ff 82.8%,#1616ff 85.3%,#1515ff 87.8%,#1414ff 90.3%,#1313ff 92.8%,#1212ff 95.3%,#1111ff 97.8%,#1010ff 100.0%)"></div><div style="height:3px;background:linear-gradient(90deg,#3a3aff 0.0%,#3838ff 2.5%,#3535ff 5.0%,#3333ff 7.5%,#3030ff 10.0%,#2d2dff 12.5%,#2a2aff 15.0%,#2828ff 17.6%,#2525ff 20.1%,#2323ff 22.6%,#2121ff 25.1%,#2121ff 27.6%,#2121ff 30.1%,#2121ff 32.6%,#2121ff 35.1%,#2121ff 37.6%,#1f1fff 40.1%,#1d1dff 42.6%,#1c1cff 45.1%,#1d1dff 47.6%,#1e1eff 50.2%,#1f1fff 52.7%,#1f1fff 55.2%,#1b1bff 57.7%,#1515ff 60.2%,#1111ff 62.7%,#1111ff 65.2%,#1616ff 67.7%,#1c1cff 70.2%,#1f1fff 72.7%,#1e1eff 75.2%,#1b1bff 77.7%,#1818ff 80.3%,#1616ff 82.8%,#1414ff 85.3%,#1313ff 87.8%,#1212ff 90.3%,#1111ff 92.8%,#1010ff 95.3%,#0f0fff 97.8%,#0e0eff 100.0%)"></div><div style="height:3px;background:linear-gradient(90deg,#3e3eff 0.0%,#3c3cff 2.5%,#3a3aff 5.0%,#3737ff 7.5%,#3535ff 10.0%,#3232ff 12.5%,#2f2fff 15.0%,#2c2cff 17.6%,#2929ff 20.1%,#2626ff 22.6%,#2424ff 25.1%,#2323ff 27.6%,#2323ff 30.1%,#2222ff 32.6%,#2222ff 35.1%,#2222ff 37.6%,#2020ff 40.1%,#1e1eff 42.6%,#1d1dff 45.1%,#1d1dff 47.6%,#1e1eff 50.2%,#1f1fff 52.7%,#1e1eff 55.2%,#1a1aff 57.7%,#1515ff 60.2%,#1111ff 62.7%,#1212ff 65.2%,#1515ff 67.7%,#1a1aff 70.2%,#1c1cff 72.7%,#1b1bff 75.2%,#1818ff 77.7%,#1515ff 80.3%,#1313ff 82.8%,#1212ff 85.3%,#1111ff 87.8%,#1010ff 90.3%,#0f0fff 92.8%,#0e0eff 95.3%,#0d0dff 97.8%,#0c0cff 100.0%)"></div><div style="height:3px;background:linear-gradient(90deg,#4444ff 0.0%,#4242ff 2.5%,#4040ff 5.0%,#3d3dff 7.5%,#3b3bff 10.0%,#3838ff 12.5%,#3434ff 15.0%,#3131ff 17.6%,#2e2eff 20.1%,#2b2bff 22.6%,#2828ff 25.1%,#2626ff 27.6%,#2525ff 30.1%,#2424ff 32.6%,#2424ff 35.1%,#2323ff 37.6%,#2121ff 40.1%,#1f1fff 42.6%,#1e1eff 45.1%,#1e1eff 47.6%,#1e1eff 50.2%,#1e1eff 52.7%,#1d1dff 55.2%,#1a1aff 57.7%,#1515ff 60.2%,#1212ff 62.7%,#1212ff 65.2%,#1414ff 67.7%,#1717ff 70.2%,#1818ff 72.7%,#1717ff 75.2%,#1515ff 77.7%,#1212ff 80.3%,#1010ff 82.8%,#0f0fff 85.3%,#0f0fff 87.8%,#0e0eff 90.3%,#0d0dff 92.8%,#0c0cff 95.3%,#0b0bff 97.8%,#0a0aff 100.0%)"></div><div style="height:3px;background:linear-gradient(90deg,#4b4bff 0.0%,#4949ff 2.5%,#4646ff 5.0%,#4444ff 7.5%,#4141ff 10.0%,#3d3dff 12.5%,#3a3aff 15.0%,#3737ff 17.6%,#3333ff 20.1%,#2f2fff 22.6%,#2c2cff 25.1%,#2a2aff 27.6%,#2828ff 30.1%,#2727ff 32.6%,#2626ff 35.1%,#2424ff 37.6%,#2222ff 40.1%,#2020ff 42.6%,#1f1fff 45.1%,#1e1eff 47.6%,#1e1eff 50.2%,#1e1eff 52.7%,#1d1dff 55.2%,#1919ff 57.7%,#1616ff 60.2%,#1313ff 62.7%,#1313ff 65.2%,#1313ff 67.7%,#1414ff 70.2%,#1515ff 72.7%,#1414ff 75.2%,#1212ff 77.7%,#0f0fff 80.3%,#0e0eff 82.8%,#0d0dff 85.3%,#0c0cff 87.8%,#0c0cff 90.3%,#0b0bff 92.8%,#0a0aff 95.3%,#0909ff 97.8%,#0808ff 100.0%)"></div><div style="height:3px;background:linear-gradient(90deg,#5050ff 0.0%,#4e4eff 2.5%,#4b4bff 5.0%,#4949ff 7.5%,#4646ff 10.0%,#4242ff 12.5%,#3f3fff 15.0%,#3b3bff 17.6%,#3737ff 20.1%,#3333ff 22.6%,#3030ff 25.1%,#2d2dff 27.6%,#2b2bff 30.1%,#2929ff 32.6%,#2727ff 35.1%,#2626ff 37.6%,#2424ff 40.1%,#2222ff 42.6%,#2020ff 45.1%,#1f1fff 47.6%,#1e1eff 50.2%,#1e1eff 52.7%,#1c1cff 55.2%,#1919ff 57.7%,#1616ff 60.2%,#1313ff 62.7%,#1313ff 65.2%,#1313ff 67.7%,#1313ff 70.2%,#1313ff 72.7%,#1212ff 75.2%,#1010ff 77.7%,#0e0eff 80.3%,#0c0cff 82.8%,#0b0bff 85.3%,#0a0aff 87.8%,#0909ff 90.3%,#0909ff 92.8%,#0808ff 95.3%,#0707ff 97.8%,#0606ff 100.0%)"></div><div style="height:3px;background:linear-gradient(90deg,#5555ff 0.0%,#5252ff 2.5%,#5050ff 5.0%,#4c4cff 7.5%,#4949ff 10.0%,#4646ff 12.5%,#4242ff 15.0%,#3e3eff 17.6%,#3a3aff 20.1%,#3636ff 22.6%,#3232ff 25.1%,#2f2fff 27.6%,#2d2dff 30.1%,#2b2bff 32.6%,#2929ff 35.1%,#2727ff 37.6%,#2525ff 40.1%,#2323ff 42.6%,#2121ff 45.1%,#2020ff 47.6%,#1f1fff 50.2%,#1e1eff 52.7%,#1c1cff 55.2%,#1a1aff 57.7%,#1616ff 60.2%,#1414ff 62.7%,#1414ff 65.2%,#1313ff 67.7%,#1313ff 70.2%,#1212ff 72.7%,#1111ff 75.2%,#0f0fff 77.7%,#0d0dff 80.3%,#0b0bff 82.8%,#0909ff 85.3%,#0808ff 87.8%,#0707ff 90.3%,#0606ff 92.8%,#0606ff 95.3%,#0505ff 97.8%,#0404ff 100.0%)"></div><div style="height:3px;background:linear-gradient(90deg,#5a5aff 0.0%,#5656ff 2.5%,#5353ff 5.0%,#5050ff 7.5%,#4c4cff 10.0%,#4848ff 12.5%,#4444ff 15.0%,#4141ff 17.6%,#3d3dff 20.1%,#3939ff 22.6%,#3535ff 25.1%,#3232ff 27.6%,#2f2fff 30.1%,#2d2dff 32.6%,#2b2bff 35.1%,#2929ff 37.6%,#2727ff 40.1%,#2525ff 42.6%,#2323ff 45.1%,#2121ff 47.6%,#2020ff 50.2%,#1f1fff 52.7%,#1d1dff 55.2%,#1a1aff 57.7%,#1717ff 60.2%,#1616ff 62.7%,#1515ff 65.2%,#1313ff 67.7%,#1212ff 70.2%,#1111ff 72.7%,#1010ff 75.2%,#0e0eff 77.7%,#0c0cff 80.3%,#0a0aff 82.8%,#0808ff 85.3%,#0606ff 87.8%,#0404ff 90.3%,#0404ff 92.8%,#0303ff 95.3%,#0303ff 97.8%,#0303ff 100.0%)"></div><div style="height:3px;background:linear-gradient(90deg,#5e5eff 0.0%,#5b5bff 2.5%,#5757ff 5.0%,#5353ff 7.5%,#4f4fff 10.0%,#4b4bff 12.5%,#4747ff 15.0%,#4343ff 17.6%,#3f3fff 20.1%,#3b3bff 22.6%,#3737ff 25.1%,#3434ff 27.6%,#3131ff 30.1%,#2f2fff 32.6%,#2d2dff 35.1%,#2b2bff 37.6%,#2929ff 40.1%,#2727ff 42.6%,#2525ff 45.1%,#2323ff 47.6%,#2121ff 50.2%,#2020ff 52.7%,#1e1eff 55.2%,#1b1bff 57.7%,#1919ff 60.2%,#1717ff 62.7%,#1515ff 65.2%,#1414ff 67.7%,#1212ff 70.2%,#1010ff 72.7%,#0f0fff 75.2%,#0d0dff 77.7%,#0b0bff 80.3%,#0909ff 82.8%,#0606ff 85.3%,#0404ff 87.8%,#0202ff 90.3%,#0202ff 92.8%,#0101ff 95.3%,#0101ff 97.8%,#0101ff 100.0%)"></div><div style="height:3px;background:linear-gradient(90deg,#6464ff 0.0%,#6060ff 2.5%,#5c5cff 5.0%,#5858ff 7.5%,#5353ff 10.0%,#4f4fff 12.5%,#4b4bff 15.0%,#4747ff 17.6%,#4343ff 20.1%,#3e3eff 22.6%,#3b3bff 25.1%,#3737ff 27.6%,#3434ff 30.1%,#3232ff 32.6%,#2f2fff 35.1%,#2d2dff 37.6%,#2b2bff 40.1%,#2929ff 42.6%,#2727ff 45.1%,#2525ff 47.6%,#2323ff 50.2%,#2121ff 52.7%,#1f1fff 55.2%,#1c1cff 57.7%,#1a1aff 60.2%,#1818ff 62.7%,#1616ff 65.2%,#1414ff 67.7%,#1212ff 70.2%,#1010ff 72.7%,#0e0eff 75.2%,#0c0cff 77.7%,#0a0aff 80.3%,#0808ff 82.8%,#0505ff 85.3%,#0202ff 87.8%,#0000ff 90.3%,#0000ff 92.8%,#0000ff 95.3%,#0000ff 97.8%,#0000ff 100.0%)"></div><div style="height:3px;background:linear-gradient(90deg,#6b6bff 0.0%,#6666ff 2.5%,#6262ff 5.0%,#5d5dff 7.5%,#5959ff 10.0%,#5454ff 12.5%,#4f4fff 15.0%,#4b4bff 17.6%,#4747ff 20.1%,#4343ff 22.6%,#3f3fff 25.1%,#3b3bff 27.6%,#3838ff 30.1%,#3535ff 32.6%,#3232ff 35.1%,#3030ff 37.6%,#2e2eff 40.1%,#2c2cff 42.6%,#2a2aff 45.1%,#2727ff 47.6%,#2525ff 50.2%,#2222ff 52.7%,#2020ff 55.2%,#1e1eff 57.7%,#1c1cff 60.2%,#1a1aff 62.7%,#1717ff 65.2%,#1515ff 67.7%,#1212ff 70.2%,#1010ff 72.7%,#0d0dff 75.2%,#0b0bff 77.7%,#0909ff 80.3%,#0707ff 82.8%,#0404ff 85.3%,#0101ff 87.8%,#0000ff 90.3%,#0000ff 92.8%,#0000ff 95.3%,#0000ff 97.8%,#0000ff 100.0%)"></div><div style="height:3px;background:linear-gradient(90deg,#7474ff 0.0%,#6f6fff 2.5%,#6a6aff 5.0%,#6565ff 7.5%,#6060ff 10.0%,#5b5bff 12.5%,#5656ff 15.0%,#5151ff 17.6%,#4d4dff 20.1%,#4949ff 22.6%,#4545ff 25.1%,#4141ff 27.6%,#3e3eff 30.1%,#3a3aff 32.6%,#3737ff 35.1%,#3434ff 37.6%,#3232ff 40.1%,#3030ff 42.6%,#2d2dff 45.1%,#2a2aff 47.6%,#2727ff 50.2%,#2525ff 52.7%,#2222ff 55.2%,#2020ff 57.7%,#1d1dff 60.2%,#1b1bff 62.7%,#1818ff 65.2%,#1515ff 67.7%,#1212ff 70.2%,#1010ff 72.7%,#0d0dff 75.2%,#0a0aff 77.7%,#0707ff 80.3%,#0505ff 82.8%,#0303ff 85.3%,#0101ff 87.8%,#0000ff 90.3%,#0000ff 92.8%,#0000ff 95.3%,#0000ff 97.8%,#0000ff 100.0%)"></div><div style="height:3px;background:linear-gradient(90deg,#7f7fff 0.0%,#7979ff 2.5%,#7474ff 5.0%,#6e6eff 7.5%,#6969ff 10.0%,#6363ff 12.5%,#5e5eff 15.0%,#5959ff 17.6%,#5454ff 20.1%,#5050ff 22.6%,#4c4cff 25.1%,#4848ff 27.6%,#4545ff 30.1%,#4141ff 32.6%,#3e3eff 35.1%,#3a3aff 37.6%,#3737ff 40.1%,#3535ff 42.6%,#3232ff 45.1%,#2e2eff 47.6%,#2b2bff 50.2%,#2828ff 52.7%,#2525ff 55.2%,#2222ff 57.7%,#1f1fff 60.2%,#1c1cff 62.7%,#1919ff 65.2%,#1616ff 67.7%,#1313ff 70.2%,#1010ff 72.7%,#0c0cff 75.2%,#0808ff 77.7%,#0404ff 80.3%,#0303ff 82.8%,#0202ff 85.3%,#0000ff 87.8%,#0000ff 90.3%,#0000ff 92.8%,#0000ff 95.3%,#0000ff 97.8%,#0000ff 100.0%)"></div><div style="height:3px;background:linear-gradient(90deg,#8b8bff 0.0%,#8585ff 2.5%,#8080ff 5.0%,#7a7aff 7.5%,#7474ff 10.0%,#6e6eff 12.5%,#6868ff 15.0%,#6262ff 17.6%,#5d5dff 20.1%,#5959ff 22.6%,#5555ff 25.1%,#5151ff 27.6%,#4d4dff 30.1%,#4949ff 32.6%,#4545ff 35.1%,#4242ff 37.6%,#3e3eff 40.1%,#3b3bff 42.6%,#3737ff 45.1%,#3333ff 47.6%,#3030ff 50.2%,#2c2cff 52.7%,#2828ff 55.2%,#2525ff 57.7%,#2222ff 60.2%,#1e1eff 62.7%,#1b1bff 65.2%,#1717ff 67.7%,#1313ff 70.2%,#1010ff 72.7%,#0b0bff 75.2%,#0606ff 77.7%,#0202ff 80.3%,#0101ff 82.8%,#0101ff 85.3%,#0000ff 87.8%,#0000ff 90.3%,#0000ff 92.8%,#0000ff 95.3%,#0000ff 97.8%,#0000ff 100.0%)"></div><div style="height:3px;background:linear-gradient(90deg,#9a9aff 0.0%,#9393ff 2.5%,#8d8dff 5.0%,#8787ff 7.5%,#8080ff 10.0%,#7a7aff 12.5%,#7373ff 15.0%,#6d6dff 17.6%,#6868ff 20.1%,#6464ff 22.6%,#5f5fff 25.1%,#5b5bff 27.6%,#5757ff 30.1%,#5353ff 32.6%,#4e4eff 35.1%,#4a4aff 37.6%,#4646ff 40.1%,#4242ff 42.6%,#3e3eff 45.1%,#3939ff 47.6%,#3535ff 50.2%,#3131ff 52.7%,#2d2dff 55.2%,#2929ff 57.7%,#2525ff 60.2%,#2020ff 62.7%,#1c1cff 65.2%,#1818ff 67.7%,#1414ff 70.2%,#1010ff 72.7%,#0b0bff 75.2%,#0505ff 77.7%,#0101ff 80.3%,#0000ff 82.8%,#0000ff 85.3%,#0000ff 87.8%,#0000ff 90.3%,#0000ff 92.8%,#0000ff 95.3%,#0000ff 97.8%,#0000ff 100.0%)"></div><div style="height:3px;background:linear-gradient(90deg,#aaaaff 0.0%,#a4a4ff 2.5%,#9d9dff 5.0%,#9696ff 7.5%,#9090ff 10.0%,#8989ff 12.5%,#8282ff 15.0%,#7b7bff 17.6%,#7676ff 20.1%,#7171ff 22.6%,#6c6cff 25.1%,#6868ff 27.6%,#6363ff 30.1%,#5e5eff 32.6%,#5a5aff 35.1%,#5555ff 37.6%,#5050ff 40.1%,#4b4bff 42.6%,#4747ff 45.1%,#4242ff 47.6%,#3d3dff 50.2%,#3838ff 52.7%,#3434ff 55.2%,#2f2fff 57.7%,#2a2aff 60.2%,#2525ff 62.7%,#2020ff 65.2%,#1b1bff 67.7%,#1616ff 70.2%,#1111ff 72.7%,#0c0cff 75.2%,#0606ff 77.7%,#0101ff 80.3%,#0000ff 82.8%,#0000ff 85.3%,#0000ff 87.8%,#0000ff 90.3%,#0000ff 92.8%,#0000ff 95.3%,#0000ff 97.8%,#0000ff 100.0%)"></div><div style="height:3px;background:linear-gradient(90deg,#bfbfff 0.0%,#b9b9ff 2.5%,#b2b2ff 5.0%,#ababff 7.5%,#a5a5ff 10.0%,#9d9dff 12.5%,#9696ff 15.0%,#8f8fff 17.6%,#8989ff 20.1%,#8484ff 22.6%,#7f7fff 25.1%,#7a7aff 27.6%,#7474ff 30.1%,#6f6fff 32.6%,#6a6aff 35.1%,#6565ff 37.6%,#6060ff 40.1%,#5a5aff 42.6%,#5555ff 45.1%,#5050ff 47.6%,#4b4bff 50.2%,#4646ff 52.7%,#4141ff 55.2%,#3b3bff 57.7%,#3434ff 60.2%,#2e2eff 62.7%,#2828ff 65.2%,#2323ff 67.7%,#1d1dff 70.2%,#1717ff 72.7%,#1111ff 75.2%,#0a0aff 77.7%,#0404ff 80.3%,#0202ff 82.8%,#0101ff 85.3%,#0000ff 87.8%,#0000ff 90.3%,#0000ff 92.8%,#0000ff 95.3%,#0000ff 97.8%,#0000ff 100.0%)"></div><div style="height:3px;background:linear-gradient(90deg,#d8d8ff 0.0%,#d1d1ff 2.5%,#cbcbff 5.0%,#c4c4ff 7.5%,#bebeff 10.0%,#b6b6ff 12.5%,#afafff 15.0%,#a8a8ff 17.6%,#a1a1ff 20.1%,#9b9bff 22.6%,#9595ff 25.1%,#8f8fff 27.6%,#8989ff 30.1%,#8484ff 32.6%,#7e7eff 35.1%,#7878ff 37.6%,#7272ff 40.1%,#6c6cff 42.6%,#6666ff 45.1%,#6161ff 47.6%,#5c5cff 50.2%,#5656ff 52.7%,#5050ff 55.2%,#4949ff 57.7%,#4242ff 60.2%,#3a3aff 62.7%,#3333ff 65.2%,#2d2dff 67.7%,#2626ff 70.2%,#1f1fff 72.7%,#1818ff 75.2%,#0f0fff 77.7%,#0909ff 80.3%,#0505ff 82.8%,#0303ff 85.3%,#0101ff 87.8%,#0000ff 90.3%,#0000ff 92.8%,#0000ff 95.3%,#0000ff 97.8%,#0000ff 100.0%)"></div><div style="height:3px;background:linear-gradient(90deg,#f2f2ff 0.0%,#ededff 2.5%,#e6e6ff 5.0%,#e0e0ff 7.5%,#d9d9ff 10.0%,#d2d2ff 12.5%,#cacaff 15.0%,#c3c3ff 17.6%,#bbbbff 20.1%,#b4b4ff 22.6%,#adadff 25.1%,#a6a6ff 27.6%,#9f9fff 30.1%,#9999ff 32.6%,#9393ff 35.1%,#8c8cff 37.6%,#8585ff 40.1%,#7e7eff 42.6%,#7878ff 45.1%,#7171ff 47.6%,#6c6cff 50.2%,#6666ff 52.7%,#5f5fff 55.2%,#5757ff 57.7%,#4f4fff 60.2%,#4646ff 62.7%,#3e3eff 65.2%,#3737ff 67.7%,#2f2fff 70.2%,#2727ff 72.7%,#1e1eff 75.2%,#1515ff 77.7%,#0d0dff 80.3%,#0808ff 82.8%,#0505ff 85.3%,#0202ff 87.8%,#0000ff 90.3%,#0000ff 92.8%,#0000ff 95.3%,#0000ff 97.8%,#0000ff 100.0%)"></div><div style="height:3px;background:linear-gradient(90deg,#ffefef 0.0%,#fff5f5 2.5%,#fffbfb 5.0%,#fdfdff 7.5%,#f6f6ff 10.0%,#eeeeff 12.5%,#e6e6ff 15.0%,#dedeff 17.6%,#d6d6ff 20.1%,#cdcdff 22.6%,#c4c4ff 25.1%,#bcbcff 27.6%,#b4b4ff 30.1%,#acacff 32.6%,#a5a5ff 35.1%,#9d9dff 37.6%,#9595ff 40.1%,#8d8dff 42.6%,#8686ff 45.1%,#7f7fff 47.6%,#7878ff 50.2%,#7171ff 52.7%,#6a6aff 55.2%,#6161ff 57.7%,#5858ff 60.2%,#4f4fff 62.7%,#4646ff 65.2%,#3e3eff 67.7%,#3535ff 70.2%,#2c2cff 72.7%,#2323ff 75.2%,#1919ff 77.7%,#1010ff 80.3%,#0b0bff 82.8%,#0606ff 85.3%,#0202ff 87.8%,#0000ff 90.3%,#0000ff 92.8%,#0000ff 95.3%,#0000ff 97.8%,#0000ff 100.0%)"></div><div style="height:3px;background:linear-gradient(90deg,#ffcece 0.0%,#ffd4d4 2.5%,#ffdada 5.0%,#ffe2e2 7.5%,#ffe9e9 10.0%,#fff1f1 12.5%,#fffafa 15.0%,#fbfbff 17.6%,#f1f1ff 20.1%,#e6e6ff 22.6%,#dbdbff 25.1%,#d0d0ff 27.6%,#c6c6ff 30.1%,#bdbdff 32.6%,#b3b3ff 35.1%,#aaaaff 37.6%,#a1a1ff 40.1%,#9898ff 42.6%,#8f8fff 45.1%,#8787ff 47.6%,#7f7fff 50.2%,#7777ff 52.7%,#6f6fff 55.2%,#6666ff 57.7%,#5d5dff 60.2%,#5454ff 62.7%,#4b4bff 65.2%,#4141ff 67.7%,#3838ff 70.2%,#2e2eff 72.7%,#2525ff 75.2%,#1b1bff 77.7%,#1212ff 80.3%,#0c0cff 82.8%,#0707ff 85.3%,#0202ff 87.8%,#0000ff 90.3%,#0000ff 92.8%,#0000ff 95.3%,#0000ff 97.8%,#0101ff 100.0%)"></div><div style="height:3px;background:linear-gradient(90deg,#ffa5a5 0.0%,#ffacac 2.5%,#ffb4b4 5.0%,#ffbcbc 7.5%,#ffc5c5 10.0%,#ffcfcf 12.5%,#ffd9d9 15.0%,#ffe4e4 17.6%,#fff0f0 20.1%,#fffefe 22.6%,#f1f1ff 25.1%,#e4e4ff 27.6%,#d7d7ff 30.1%,#cbcbff 32.6%,#c0c0ff 35.1%,#b5b5ff 37.6%,#aaaaff 40.1%,#a0a0ff 42.6%,#9797ff 45.1%,#8d8dff 47.6%,#8484ff 50.2%,#7b7bff 52.7%,#7272ff 55.2%,#6a6aff 57.7%,#6161ff 60.2%,#5858ff 62.7%,#4f4fff 65.2%,#4444ff 67.7%,#3939ff 70.2%,#2f2fff 72.7%,#2626ff 75.2%,#1c1cff 77.7%,#1414ff 80.3%,#0d0dff 82.8%,#0707ff 85.3%,#0303ff 87.8%,#0000ff 90.3%,#0000ff 92.8%,#0000ff 95.3%,#0101ff 97.8%,#0202ff 100.0%)"></div><div style="height:3px;background:linear-gradient(90deg,#ff7b7b 0.0%,#ff8383 2.5%,#ff8c8c 5.0%,#ff9696 7.5%,#ffa0a0 10.0%,#ffabab 12.5%,#ffb6b6 15.0%,#ffc3c3 17.6%,#ffd2d2 20.1%,#ffe3e3 22.6%,#fff5f5 25.1%,#f8f8ff 27.6%,#e9e9ff 30.1%,#dadaff 32.6%,#ccccff 35.1%,#bfbfff 37.6%,#b4b4ff 40.1%,#a9a9ff 42.6%,#9e9eff 45.1%,#9393ff 47.6%,#8989ff 50.2%,#7f7fff 52.7%,#7575ff 55.2%,#6d6dff 57.7%,#6464ff 60.2%,#5c5cff 62.7%,#5252ff 65.2%,#4646ff 67.7%,#3b3bff 70.2%,#3030ff 72.7%,#2626ff 75.2%,#1d1dff 77.7%,#1515ff 80.3%,#0e0eff 82.8%,#0808ff 85.3%,#0303ff 87.8%,#0000ff 90.3%,#0000ff 92.8%,#0000ff 95.3%,#0202ff 97.8%,#0404ff 100.0%)"></div><div style="height:3px;background:linear-gradient(90deg,#ff5757 0.0%,#ff5f5f 2.5%,#ff6868 5.0%,#ff7272 7.5%,#ff7d7d 10.0%,#ff8989 12.5%,#ff9595 15.0%,#ffa3a3 17.6%,#ffb3b3 20.1%,#ffc7c7 22.6%,#ffdcdc 25.1%,#fff0f0 27.6%,#fcfcff 30.1%,#eaeaff 32.6%,#dadaff 35.1%,#cbcbff 37.6%,#bebeff 40.1%,#b1b1ff 42.6%,#a6a6ff 45.1%,#9a9aff 47.6%,#8e8eff 50.2%,#8383ff 52.7%,#7979ff 55.2%,#7070ff 57.7%,#6868ff 60.2%,#5f5fff 62.7%,#5555ff 65.2%,#4949ff 67.7%,#3c3cff 70.2%,#3131ff 72.7%,#2828ff 75.2%,#1e1eff 77.7%,#1616ff 80.3%,#0f0fff 82.8%,#0909ff 85.3%,#0303ff 87.8%,#0000ff 90.3%,#0000ff 92.8%,#0101ff 95.3%,#0303ff 97.8%,#0606ff 100.0%)"></div><div style="height:3px;background:linear-gradient(90deg,#ff3d3d 0.0%,#ff4545 2.5%,#ff4d4d 5.0%,#ff5656 7.5%,#ff6060 10.0%,#ff6b6b 12.5%,#ff7777 15.0%,#ff8585 17.6%,#ff9696 20.1%,#ffabab 22.6%,#ffc3c3 25.1%,#ffd8d8 27.6%,#ffeded 30.1%,#fdfdff 32.6%,#eaeaff 35.1%,#d9d9ff 37.6%,#cacaff 40.1%,#bcbcff 42.6%,#afafff 45.1%,#a2a2ff 47.6%,#9595ff 50.2%,#8989ff 52.7%,#7e7eff 55.2%,#7575ff 57.7%,#6d6dff 60.2%,#6464ff 62.7%,#5959ff 65.2%,#4c4cff 67.7%,#3f3fff 70.2%,#3333ff 72.7%,#2929ff 75.2%,#2020ff 77.7%,#1818ff 80.3%,#1111ff 82.8%,#0a0aff 85.3%,#0303ff 87.8%,#0000ff 90.3%,#0000ff 92.8%,#0101ff 95.3%,#0303ff 97.8%,#0606ff 100.0%)"></div><div style="height:3px;background:linear-gradient(90deg,#ff2a2a 0.0%,#ff2f2f 2.5%,#ff3636 5.0%,#ff3d3d 7.5%,#ff4545 10.0%,#ff4e4e 12.5%,#ff5858 15.0%,#ff6565 17.6%,#ff7575 20.1%,#ff8c8c 22.6%,#ffa4a4 25.1%,#ffbcbc 27.6%,#ffd2d2 30.1%,#ffe9e9 32.6%,#fffefe 35.1%,#ececff 37.6%,#dbdbff 40.1%,#cacaff 42.6%,#bbbbff 45.1%,#acacff 47.6%,#9f9fff 50.2%,#9292ff 52.7%,#8686ff 55.2%,#7c7cff 57.7%,#7373ff 60.2%,#6a6aff 62.7%,#5e5eff 65.2%,#5151ff 67.7%,#4343ff 70.2%,#3737ff 72.7%,#2c2cff 75.2%,#2323ff 77.7%,#1a1aff 80.3%,#1212ff 82.8%,#0b0bff 85.3%,#0404ff 87.8%,#0000ff 90.3%,#0000ff 92.8%,#0101ff 95.3%,#0303ff 97.8%,#0606ff 100.0%)"></div><div style="height:3px;background:linear-gradient(90deg,#ff1818 0.0%,#ff1c1c 2.5%,#ff2020 5.0%,#ff2424 7.5%,#ff2929 10.0%,#ff3030 12.5%,#ff3939 15.0%,#ff4444 17.6%,#ff5353 20.1%,#ff6969 22.6%,#ff8383 25.1%,#ff9c9c 27.6%,#ffb4b4 30.1%,#ffcccc 32.6%,#ffe4e4 35.1%,#fffafa 37.6%,#eeeeff 40.1%,#dbdbff 42.6%,#c9c9ff 45.1%,#b9b9ff 47.6%,#ababff 50.2%,#9e9eff 52.7%,#9292ff 55.2%,#8686ff 57.7%,#7b7bff 60.2%,#7070ff 62.7%,#6464ff 65.2%,#5757ff 67.7%,#4949ff 70.2%,#3d3dff 72.7%,#3131ff 75.2%,#2727ff 77.7%,#1d1dff 80.3%,#1414ff 82.8%,#0c0cff 85.3%,#0404ff 87.8%,#0000ff 90.3%,#0000ff 92.8%,#0101ff 95.3%,#0303ff 97.8%,#0606ff 100.0%)"></div><div style="height:3px;background:linear-gradient(90deg,#ff0a0a 0.0%,#ff0c0c 2.5%,#ff0d0d 5.0%,#ff0f0f 7.5%,#ff1212 10.0%,#ff1616 12.5%,#ff1d1d 15.0%,#ff2626 17.6%,#ff3333 20.1%,#ff4949 22.6%,#ff6262 25.1%,#ff7b7b 27.6%,#ff9494 30.1%,#ffaeae 32.6%,#ffc8c8 35.1%,#ffe1e1 37.6%,#fffafa 40.1%,#ededff 42.6%,#d8d8ff 45.1%,#c8c8ff 47.6%,#b9b9ff 50.2%,#acacff 52.7%,#9f9fff 55.2%,#9191ff 57.7%,#8484ff 60.2%,#7777ff 62.7%,#6a6aff 65.2%,#5d5dff 67.7%,#5050ff 70.2%,#4343ff 72.7%,#3737ff 75.2%,#2b2bff 77.7%,#2020ff 80.3%,#1717ff 82.8%,#0d0dff 85.3%,#0505ff 87.8%,#0000ff 90.3%,#0000ff 92.8%,#0101ff 95.3%,#0303ff 97.8%,#0606ff 100.0%)"></div><div style="height:3px;background:linear-gradient(90deg,#ff0202 0.0%,#ff0202 2.5%,#ff0202 5.0%,#ff0303 7.5%,#ff0303 10.0%,#ff0606 12.5%,#ff0b0b 15.0%,#ff1111 17.6%,#ff1c1c 20.1%,#ff2f2f 22.6%,#ff4646 25.1%,#ff5e5e 27.6%,#ff7777 30.1%,#ff9292 32.6%,#ffaeae 35.1%,#ffc8c8 37.6%,#ffe4e4 40.1%,#fffefe 42.6%,#e9e9ff 45.1%,#d8d8ff 47.6%,#c9c9ff 50.2%,#bbbbff 52.7%,#acacff 55.2%,#9d9dff 57.7%,#8e8eff 60.2%,#7f7fff 62.7%,#7272ff 65.2%,#6464ff 67.7%,#5858ff 70.2%,#4b4bff 72.7%,#3e3eff 75.2%,#3131ff 77.7%,#2424ff 80.3%,#1a1aff 82.8%,#0f0fff 85.3%,#0505ff 87.8%,#0000ff 90.3%,#0000ff 92.8%,#0101ff 95.3%,#0303ff 97.8%,#0606ff 100.0%)"></div><div style="height:3px;background:linear-gradient(90deg,#ff0000 0.0%,#ff0000 2.5%,#ff0000 5.0%,#ff0000 7.5%,#ff0000 10.0%,#ff0202 12.5%,#ff0505 15.0%,#ff0a0a 17.6%,#ff1111 20.1%,#ff2020 22.6%,#ff3333 25.1%,#ff4747 27.6%,#ff5f5f 30.1%,#ff7a7a 32.6%,#ff9797 35.1%,#ffb2b2 37.6%,#ffcece 40.1%,#ffeaea 42.6%,#fcfcff 45.1%,#e9e9ff 47.6%,#d9d9ff 50.2%,#cacaff 52.7%,#babaff 55.2%,#a9a9ff 57.7%,#9898ff 60.2%,#8989ff 62.7%,#7a7aff 65.2%,#6d6dff 67.7%,#6060ff 70.2%,#5353ff 72.7%,#4545ff 75.2%,#3636ff 77.7%,#2929ff 80.3%,#1d1dff 82.8%,#1111ff 85.3%,#0606ff 87.8%,#0101ff 90.3%,#0000ff 92.8%,#0101ff 95.3%,#0303ff 97.8%,#0606ff 100.0%)"></div><div style="height:3px;background:linear-gradient(90deg,#ff0000 0.0%,#ff0000 2.5%,#ff0000 5.0%,#ff0000 7.5%,#ff0000 10.0%,#ff0101 12.5%,#ff0303 15.0%,#ff0606 17.6%,#ff0b0b 20.1%,#ff1515 22.6%,#ff2222 25.1%,#ff3131 27.6%,#ff4747 30.1%,#ff6363 32.6%,#ff8181 35.1%,#ff9c9c 37.6%,#ffb7b7 40.1%,#ffd2d2 42.6%,#ffeaea 45.1%,#ffffff 47.6%,#ebebff 50.2%,#d9d9ff 52.7%,#c7c7ff 55.2%,#b6b6ff 57.7%,#a5a5ff 60.2%,#9494ff 62.7%,#8585ff 65.2%,#7777ff 67.7%,#6a6aff 70.2%,#5c5cff 72.7%,#4d4dff 75.2%,#3e3eff 77.7%,#2f2fff 80.3%,#2323ff 82.8%,#1717ff 85.3%,#0b0bff 87.8%,#0505ff 90.3%,#0404ff 92.8%,#0404ff 95.3%,#0505ff 97.8%,#0707ff 100.0%)"></div><div style="height:3px;background:linear-gradient(90deg,#ff0000 0.0%,#ff0000 2.5%,#ff0000 5.0%,#ff0000 7.5%,#ff0000 10.0%,#ff0101 12.5%,#ff0202 15.0%,#ff0303 17.6%,#ff0606 20.1%,#ff0b0b 22.6%,#ff1313 25.1%,#ff1b1b 27.6%,#ff2f2f 30.1%,#ff4d4d 32.6%,#ff6c6c 35.1%,#ff8787 37.6%,#ffa0a0 40.1%,#ffb8b8 42.6%,#ffcfcf 45.1%,#ffe6e6 47.6%,#fffefe 50.2%,#eaeaff 52.7%,#d6d6ff 55.2%,#c3c3ff 57.7%,#b2b2ff 60.2%,#a2a2ff 62.7%,#9292ff 65.2%,#8383ff 67.7%,#7575ff 70.2%,#6767ff 72.7%,#5757ff 75.2%,#4747ff 77.7%,#3838ff 80.3%,#2b2bff 82.8%,#1e1eff 85.3%,#1313ff 87.8%,#0c0cff 90.3%,#0a0aff 92.8%,#0808ff 95.3%,#0808ff 97.8%,#0909ff 100.0%)"></div><div style="height:3px;background:linear-gradient(90deg,#ff0000 0.0%,#ff0000 2.5%,#ff0000 5.0%,#ff0000 7.5%,#ff0000 10.0%,#ff0000 12.5%,#ff0101 15.0%,#ff0101 17.6%,#ff0202 20.1%,#ff0404 22.6%,#ff0707 25.1%,#ff0a0a 27.6%,#ff1c1c 30.1%,#ff3a3a 32.6%,#ff5959 35.1%,#ff7272 37.6%,#ff8989 40.1%,#ff9e9e 42.6%,#ffb5b5 45.1%,#ffcece 47.6%,#ffe9e9 50.2%,#fafaff 52.7%,#e4e4ff 55.2%,#d2d2ff 57.7%,#c1c1ff 60.2%,#b0b0ff 62.7%,#a0a0ff 65.2%,#9090ff 67.7%,#8181ff 70.2%,#7272ff 72.7%,#6161ff 75.2%,#5050ff 77.7%,#4040ff 80.3%,#3232ff 82.8%,#2626ff 85.3%,#1b1bff 87.8%,#1414ff 90.3%,#1010ff 92.8%,#0d0dff 95.3%,#0b0bff 97.8%,#0b0bff 100.0%)"></div><div style="height:3px;background:linear-gradient(90deg,#ff0000 0.0%,#ff0000 2.5%,#ff0000 5.0%,#ff0000 7.5%,#ff0000 10.0%,#ff0000 12.5%,#ff0000 15.0%,#ff0000 17.6%,#ff0000 20.1%,#ff0000 22.6%,#ff0101 25.1%,#ff0101 27.6%,#ff0f0f 30.1%,#ff2a2a 32.6%,#ff4747 35.1%,#ff5e5e 37.6%,#ff7373 40.1%,#ff8787 42.6%,#ff9d9d 45.1%,#ffb8b8 47.6%,#ffd6d6 50.2%,#fff3f3 52.7%,#f4f4ff 55.2%,#e1e1ff 57.7%,#d0d0ff 60.2%,#c0c0ff 62.7%,#afafff 65.2%,#9e9eff 67.7%,#8d8dff 70.2%,#7c7cff 72.7%,#6a6aff 75.2%,#5858ff 77.7%,#4747ff 80.3%,#3939ff 82.8%,#2c2cff 85.3%,#2222ff 87.8%,#1a1aff 90.3%,#1515ff 92.8%,#1010ff 95.3%,#0d0dff 97.8%,#0c0cff 100.0%)"></div><div style="height:3px;background:linear-gradient(90deg,#ff0000 0.0%,#ff0000 2.5%,#ff0000 5.0%,#ff0000 7.5%,#ff0000 10.0%,#ff0000 12.5%,#ff0000 15.0%,#ff0000 17.6%,#ff0000 20.1%,#ff0000 22.6%,#ff0000 25.1%,#ff0000 27.6%,#ff0a0a 30.1%,#ff1e1e 32.6%,#ff3636 35.1%,#ff4a4a 37.6%,#ff5f5f 40.1%,#ff7575 42.6%,#ff8c8c 45.1%,#ffa7a7 47.6%,#ffc5c5 50.2%,#ffe3e3 52.7%,#fffafa 55.2%,#f1f1ff 57.7%,#e0e0ff 60.2%,#d0d0ff 62.7%,#bebeff 65.2%,#aaaaff 67.7%,#9797ff 70.2%,#8484ff 72.7%,#7171ff 75.2%,#5d5dff 77.7%,#4c4cff 80.3%,#3d3dff 82.8%,#3030ff 85.3%,#2525ff 87.8%,#1c1cff 90.3%,#1717ff 92.8%,#1212ff 95.3%,#0e0eff 97.8%,#0d0dff 100.0%)"></div><div style="height:3px;background:linear-gradient(90deg,#ff0000 0.0%,#ff0000 2.5%,#ff0000 5.0%,#ff0000 7.5%,#ff0000 10.0%,#ff0000 12.5%,#ff0000 15.0%,#ff0000 17.6%,#ff0000 20.1%,#ff0000 22.6%,#ff0000 25.1%,#ff0000 27.6%,#ff0606 30.1%,#ff1313 32.6%,#ff2424 35.1%,#ff3434 37.6%,#ff4a4a 40.1%,#ff6464 42.6%,#ff7e7e 45.1%,#ff9999 47.6%,#ffb6b6 50.2%,#ffd2d2 52.7%,#ffe9e9 55.2%,#fffbfb 57.7%,#f3f3ff 60.2%,#e3e3ff 62.7%,#cfcfff 65.2%,#b8b8ff 67.7%,#a0a0ff 70.2%,#8a8aff 72.7%,#7676ff 75.2%,#6161ff 77.7%,#4f4fff 80.3%,#4040ff 82.8%,#3232ff 85.3%,#2626ff 87.8%,#1d1dff 90.3%,#1818ff 92.8%,#1313ff 95.3%,#0f0fff 97.8%,#0e0eff 100.0%)"></div><div style="height:3px;background:linear-gradient(90deg,#ff0000 0.0%,#ff0000 2.5%,#ff0000 5.0%,#ff0000 7.5%,#ff0000 10.0%,#ff0000 12.5%,#ff0000 15.0%,#ff0000 17.6%,#ff0000 20.1%,#ff0000 22.6%,#ff0000 25.1%,#ff0000 27.6%,#ff0303 30.1%,#ff0a0a 32.6%,#ff1313 35.1%,#ff1e1e 37.6%,#ff3636 40.1%,#ff5555 42.6%,#ff7272 45.1%,#ff8d8d 47.6%,#ffa8a8 50.2%,#ffc2c2 52.7%,#ffd7d7 55.2%,#ffe8e8 57.7%,#fff7f7 60.2%,#f7f7ff 62.7%,#e1e1ff 65.2%,#c5c5ff 67.7%,#a9a9ff 70.2%,#9090ff 72.7%,#7a7aff 75.2%,#6565ff 77.7%,#5252ff 80.3%,#4242ff 82.8%,#3434ff 85.3%,#2828ff 87.8%,#1e1eff 90.3%,#1818ff 92.8%,#1313ff 95.3%,#0f0fff 97.8%,#0e0eff 100.0%)"></div><div style="height:3px;background:linear-gradient(90deg,#ff0000 0.0%,#ff0000 2.5%,#ff0000 5.0%,#ff0000 7.5%,#ff0000 10.0%,#ff0000 12.5%,#ff0000 15.0%,#ff0000 17.6%,#ff0000 20.1%,#ff0000 22.6%,#ff0000 25.1%,#ff0000 27.6%,#ff0101 30.1%,#ff0303 32.6%,#ff0606 35.1%,#ff0c0c 37.6%,#ff2626 40.1%,#ff4747 42.6%,#ff6666 45.1%,#ff8080 47.6%,#ff9a9a 50.2%,#ffb2b2 52.7%,#ffc6c6 55.2%,#ffd6d6 57.7%,#ffe4e4 60.2%,#fff5f5 62.7%,#f2f2ff 65.2%,#d3d3ff 67.7%,#b2b2ff 70.2%,#9696ff 72.7%,#7f7fff 75.2%,#6969ff 77.7%,#5555ff 80.3%,#4545ff 82.8%,#3636ff 85.3%,#2929ff 87.8%,#2020ff 90.3%,#1919ff 92.8%,#1414ff 95.3%,#1010ff 97.8%,#0f0fff 100.0%)"></div><div style="height:3px;background:linear-gradient(90deg,#ff0000 0.0%,#ff0000 2.5%,#ff0000 5.0%,#ff0000 7.5%,#ff0000 10.0%,#ff0000 12.5%,#ff0000 15.0%,#ff0000 17.6%,#ff0000 20.1%,#ff0000 22.6%,#ff0000 25.1%,#ff0000 27.6%,#ff0000 30.1%,#ff0000 32.6%,#ff0000 35.1%,#ff0404 37.6%,#ff1a1a 40.1%,#ff3a3a 42.6%,#ff5858 45.1%,#ff7171 47.6%,#ff8a8a 50.2%,#ffa2a2 52.7%,#ffb6b6 55.2%,#ffc6c6 57.7%,#ffd5d5 60.2%,#ffe6e6 62.7%,#fffefe 65.2%,#dfdfff 67.7%,#bcbcff 70.2%,#9e9eff 72.7%,#8585ff 75.2%,#6e6eff 77.7%,#5a5aff 80.3%,#4949ff 82.8%,#3939ff 85.3%,#2b2bff 87.8%,#2121ff 90.3%,#1b1bff 92.8%,#1515ff 95.3%,#1111ff 97.8%,#1010ff 100.0%)"></div><div style="height:3px;background:linear-gradient(90deg,#ff0000 0.0%,#ff0000 2.5%,#ff0000 5.0%,#ff0000 7.5%,#ff0000 10.0%,#ff0000 12.5%,#ff0000 15.0%,#ff0000 17.6%,#ff0000 20.1%,#ff0000 22.6%,#ff0000 25.1%,#ff0000 27.6%,#ff0000 30.1%,#ff0000 32.6%,#ff0000 35.1%,#ff0202 37.6%,#ff1212 40.1%,#ff2c2c 42.6%,#ff4646 45.1%,#ff5d5d 47.6%,#ff7878 50.2%,#ff9292 52.7%,#ffa8a8 55.2%,#ffbaba 57.7%,#ffcaca 60.2%,#ffdcdc 62.7%,#fff3f3 65.2%,#ebebff 67.7%,#c9c9ff 70.2%,#aaaaff 72.7%,#9090ff 75.2%,#7777ff 77.7%,#6262ff 80.3%,#4f4fff 82.8%,#3f3fff 85.3%,#3030ff 87.8%,#2525ff 90.3%,#1e1eff 92.8%,#1818ff 95.3%,#1414ff 97.8%,#1313ff 100.0%)"></div><div style="height:3px;background:linear-gradient(90deg,#ff0000 0.0%,#ff0000 2.5%,#ff0000 5.0%,#ff0000 7.5%,#ff0000 10.0%,#ff0000 12.5%,#ff0000 15.0%,#ff0000 17.6%,#ff0000 20.1%,#ff0000 22.6%,#ff0000 25.1%,#ff0000 27.6%,#ff0000 30.1%,#ff0000 32.6%,#ff0000 35.1%,#ff0101 37.6%,#ff0b0b 40.1%,#ff1c1c 42.6%,#ff2f2f 45.1%,#ff4343 47.6%,#ff6161 50.2%,#ff8181 52.7%,#ff9b9b 55.2%,#ffaeae 57.7%,#ffc0c0 60.2%,#ffd3d3 62.7%,#ffeaea 65.2%,#f7f7ff 67.7%,#d8d8ff 70.2%,#babaff 72.7%,#9f9fff 75.2%,#8585ff 77.7%,#6e6eff 80.3%,#5a5aff 82.8%,#4848ff 85.3%,#3939ff 87.8%,#2d2dff 90.3%,#2626ff 92.8%,#1f1fff 95.3%,#1a1aff 97.8%,#1919ff 100.0%)"></div><div style="height:3px;background:linear-gradient(90deg,#ff0000 0.0%,#ff0000 2.5%,#ff0000 5.0%,#ff0000 7.5%,#ff0000 10.0%,#ff0000 12.5%,#ff0000 15.0%,#ff0000 17.6%,#ff0000 20.1%,#ff0000 22.6%,#ff0000 25.1%,#ff0000 27.6%,#ff0000 30.1%,#ff0000 32.6%,#ff0000 35.1%,#ff0101 37.6%,#ff0505 40.1%,#ff0e0e 42.6%,#ff1717 45.1%,#ff2929 47.6%,#ff4b4b 50.2%,#ff7171 52.7%,#ff8e8e 55.2%,#ffa4a4 57.7%,#ffb7b7 60.2%,#ffcccc 62.7%,#ffe2e2 65.2%,#fffbfb 67.7%,#e8e8ff 70.2%,#cdcdff 72.7%,#b2b2ff 75.2%,#9696ff 77.7%,#7d7dff 80.3%,#6868ff 82.8%,#5555ff 85.3%,#4444ff 87.8%,#3838ff 90.3%,#2f2fff 92.8%,#2828ff 95.3%,#2323ff 97.8%,#2222ff 100.0%)"></div><div style="height:3px;background:linear-gradient(90deg,#ff0000 0.0%,#ff0000 2.5%,#ff0000 5.0%,#ff0000 7.5%,#ff0000 10.0%,#ff0000 12.5%,#ff0000 15.0%,#ff0000 17.6%,#ff0000 20.1%,#ff0000 22.6%,#ff0000 25.1%,#ff0000 27.6%,#ff0000 30.1%,#ff0000 32.6%,#ff0000 35.1%,#ff0000 37.6%,#ff0101 40.1%,#ff0303 42.6%,#ff0606 45.1%,#ff1515 47.6%,#ff3939 50.2%,#ff6363 52.7%,#ff8282 55.2%,#ff9a9a 57.7%,#ffafaf 60.2%,#ffc4c4 62.7%,#ffdada 65.2%,#fff0f0 67.7%,#f7f7ff 70.2%,#dfdfff 72.7%,#c4c4ff 75.2%,#a7a7ff 77.7%,#8d8dff 80.3%,#7777ff 82.8%,#6363ff 85.3%,#5151ff 87.8%,#4444ff 90.3%,#3b3bff 92.8%,#3333ff 95.3%,#2d2dff 97.8%,#2b2bff 100.0%)"></div><div style="height:3px;background:linear-gradient(90deg,#ff0000 0.0%,#ff0000 2.5%,#ff0000 5.0%,#ff0000 7.5%,#ff0000 10.0%,#ff0000 12.5%,#ff0000 15.0%,#ff0000 17.6%,#ff0000 20.1%,#ff0000 22.6%,#ff0000 25.1%,#ff0000 27.6%,#ff0000 30.1%,#ff0000 32.6%,#ff0000 35.1%,#ff0000 37.6%,#ff0000 40.1%,#ff0000 42.6%,#ff0000 45.1%,#ff0c0c 47.6%,#ff2f2f 50.2%,#ff5959 52.7%,#ff7878 55.2%,#ff9191 57.7%,#ffa7a7 60.2%,#ffbdbd 62.7%,#ffd2d2 65.2%,#ffe7e7 67.7%,#fffbfb 70.2%,#ededff 72.7%,#d3d3ff 75.2%,#b7b7ff 77.7%,#9c9cff 80.3%,#8686ff 82.8%,#7171ff 85.3%,#5f5fff 87.8%,#5050ff 90.3%,#4646ff 92.8%,#3d3dff 95.3%,#3737ff 97.8%,#3434ff 100.0%)"></div><div style="height:3px;background:linear-gradient(90deg,#ff0000 0.0%,#ff0000 2.5%,#ff0000 5.0%,#ff0000 7.5%,#ff0000 10.0%,#ff0000 12.5%,#ff0000 15.0%,#ff0000 17.6%,#ff0000 20.1%,#ff0000 22.6%,#ff0000 25.1%,#ff0000 27.6%,#ff0000 30.1%,#ff0000 32.6%,#ff0000 35.1%,#ff0000 37.6%,#ff0000 40.1%,#ff0000 42.6%,#ff0000 45.1%,#ff0b0b 47.6%,#ff2a2a 50.2%,#ff5050 52.7%,#ff6e6e 55.2%,#ff8787 57.7%,#ff9d9d 60.2%,#ffb3b3 62.7%,#ffc9c9 65.2%,#ffdcdc 67.7%,#fff0f0 70.2%,#fafaff 72.7%,#e2e2ff 75.2%,#c8c8ff 77.7%,#afafff 80.3%,#9999ff 82.8%,#8484ff 85.3%,#7171ff 87.8%,#6161ff 90.3%,#5555ff 92.8%,#4b4bff 95.3%,#4242ff 97.8%,#3d3dff 100.0%)"></div><div style="height:3px;background:linear-gradient(90deg,#ff0000 0.0%,#ff0000 2.5%,#ff0000 5.0%,#ff0000 7.5%,#ff0000 10.0%,#ff0000 12.5%,#ff0000 15.0%,#ff0000 17.6%,#ff0000 20.1%,#ff0000 22.6%,#ff0000 25.1%,#ff0000 27.6%,#ff0000 30.1%,#ff0000 32.6%,#ff0000 35.1%,#ff0000 37.6%,#ff0000 40.1%,#ff0000 42.6%,#ff0000 45.1%,#ff0a0a 47.6%,#ff2525 50.2%,#ff4848 52.7%,#ff6464 55.2%,#ff7c7c 57.7%,#ff9393 60.2%,#ffa9a9 62.7%,#ffbebe 65.2%,#ffd1d1 67.7%,#ffe4e4 70.2%,#fff8f8 72.7%,#f1f1ff 75.2%,#dbdbff 77.7%,#c4c4ff 80.3%,#b0b0ff 82.8%,#9b9bff 85.3%,#8787ff 87.8%,#7676ff 90.3%,#6868ff 92.8%,#5b5bff 95.3%,#5050ff 97.8%,#4747ff 100.0%)"></div><div style="height:3px;background:linear-gradient(90deg,#ff0000 0.0%,#ff0000 2.5%,#ff0000 5.0%,#ff0000 7.5%,#ff0000 10.0%,#ff0000 12.5%,#ff0000 15.0%,#ff0000 17.6%,#ff0000 20.1%,#ff0000 22.6%,#ff0000 25.1%,#ff0000 27.6%,#ff0000 30.1%,#ff0000 32.6%,#ff0000 35.1%,#ff0000 37.6%,#ff0000 40.1%,#ff0000 42.6%,#ff0000 45.1%,#ff0909 47.6%,#ff2222 50.2%,#ff4141 52.7%,#ff5c5c 55.2%,#ff7373 57.7%,#ff8a8a 60.2%,#ffa0a0 62.7%,#ffb5b5 65.2%,#ffc8c8 67.7%,#ffdbdb 70.2%,#ffeeee 72.7%,#fefeff 75.2%,#ebebff 77.7%,#d8d8ff 80.3%,#c5c5ff 82.8%,#b1b1ff 85.3%,#9d9dff 87.8%,#8b8bff 90.3%,#7b7bff 92.8%,#6b6bff 95.3%,#5d5dff 97.8%,#5151ff 100.0%)"></div><div style="height:3px;background:linear-gradient(90deg,#ff0000 0.0%,#ff0000 2.5%,#ff0000 5.0%,#ff0000 7.5%,#ff0000 10.0%,#ff0000 12.5%,#ff0000 15.0%,#ff0000 17.6%,#ff0000 20.1%,#ff0000 22.6%,#ff0000 25.1%,#ff0000 27.6%,#ff0000 30.1%,#ff0000 32.6%,#ff0000 35.1%,#ff0000 37.6%,#ff0000 40.1%,#ff0000 42.6%,#ff0000 45.1%,#ff0808 47.6%,#ff2020 50.2%,#ff3d3d 52.7%,#ff5656 55.2%,#ff6d6d 57.7%,#ff8484 60.2%,#ff9a9a 62.7%,#ffaeae 65.2%,#ffc2c2 67.7%,#ffd5d5 70.2%,#ffe7e7 72.7%,#fff8f8 75.2%,#f6f6ff 77.7%,#e6e6ff 80.3%,#d5d5ff 82.8%,#c2c2ff 85.3%,#afafff 87.8%,#9c9cff 90.3%,#8b8bff 92.8%,#7a7aff 95.3%,#6969ff 97.8%,#5b5bff 100.0%)"></div><div style="height:3px;background:linear-gradient(90deg,#ff0000 0.0%,#ff0000 2.5%,#ff0000 5.0%,#ff0000 7.5%,#ff0000 10.0%,#ff0000 12.5%,#ff0000 15.0%,#ff0000 17.6%,#ff0000 20.1%,#ff0000 22.6%,#ff0000 25.1%,#ff0000 27.6%,#ff0000 30.1%,#ff0000 32.6%,#ff0000 35.1%,#ff0000 37.6%,#ff0000 40.1%,#ff0000 42.6%,#ff0000 45.1%,#ff0808 47.6%,#ff2020 50.2%,#ff3c3c 52.7%,#ff5555 55.2%,#ff6b6b 57.7%,#ff8282 60.2%,#ff9797 62.7%,#ffacac 65.2%,#ffc0c0 67.7%,#ffd3d3 70.2%,#ffe6e6 72.7%,#fff6f6 75.2%,#f9f9ff 77.7%,#e9e9ff 80.3%,#d9d9ff 82.8%,#c9c9ff 85.3%,#b8b8ff 87.8%,#a6a6ff 90.3%,#9595ff 92.8%,#8383ff 95.3%,#7171ff 97.8%,#6262ff 100.0%)"></div><div style="height:3px;background:linear-gradient(90deg,#ff0000 0.0%,#ff0000 2.5%,#ff0000 5.0%,#ff0000 7.5%,#ff0000 10.0%,#ff0000 12.5%,#ff0000 15.0%,#ff0000 17.6%,#ff0000 20.1%,#ff0000 22.6%,#ff0000 25.1%,#ff0000 27.6%,#ff0000 30.1%,#ff0000 32.6%,#ff0000 35.1%,#ff0000 37.6%,#ff0000 40.1%,#ff0000 42.6%,#ff0000 45.1%,#ff0808 47.6%,#ff2020 50.2%,#ff3d3d 52.7%,#ff5555 55.2%,#ff6b6b 57.7%,#ff8181 60.2%,#ff9696 62.7%,#ffabab 65.2%,#ffc0c0 67.7%,#ffd4d4 70.2%,#ffe6e6 72.7%,#fff6f6 75.2%,#f8f8ff 77.7%,#eaeaff 80.3%,#dbdbff 82.8%,#ccccff 85.3%,#bcbcff 87.8%,#acacff 90.3%,#9b9bff 92.8%,#8a8aff 95.3%,#7878ff 97.8%,#6767ff 100.0%)"></div><div style="height:3px;background:linear-gradient(90deg,#ff0000 0.0%,#ff0000 2.5%,#ff0000 5.0%,#ff0000 7.5%,#ff0000 10.0%,#ff0000 12.5%,#ff0000 15.0%,#ff0000 17.6%,#ff0000 20.1%,#ff0000 22.6%,#ff0000 25.1%,#ff0000 27.6%,#ff0000 30.1%,#ff0000 32.6%,#ff0000 35.1%,#ff0000 37.6%,#ff0000 40.1%,#ff0000 42.6%,#ff0000 45.1%,#ff0808 47.6%,#ff2020 50.2%,#ff3d3d 52.7%,#ff5555 55.2%,#ff6b6b 57.7%,#ff8080 60.2%,#ff9595 62.7%,#ffabab 65.2%,#ffc0c0 67.7%,#ffd5d5 70.2%,#ffe7e7 72.7%,#fff7f7 75.2%,#f8f8ff 77.7%,#eaeaff 80.3%,#dcdcff 82.8%,#ceceff 85.3%,#c0c0ff 87.8%,#b1b1ff 90.3%,#a1a1ff 92.8%,#8f8fff 95.3%,#7c7cff 97.8%,#6c6cff 100.0%)"></div><div style="height:3px;background:linear-gradient(90deg,#ff0000 0.0%,#ff0000 2.5%,#ff0000 5.0%,#ff0000 7.5%,#ff0000 10.0%,#ff0000 12.5%,#ff0000 15.0%,#ff0000 17.6%,#ff0000 20.1%,#ff0000 22.6%,#ff0000 25.1%,#ff0000 27.6%,#ff0000 30.1%,#ff0000 32.6%,#ff0000 35.1%,#ff0000 37.6%,#ff0000 40.1%,#ff0000 42.6%,#ff0000 45.1%,#ff0808 47.6%,#ff2020 50.2%,#ff3d3d 52.7%,#ff5555 55.2%,#ff6a6a 57.7%,#ff8080 60.2%,#ff9595 62.7%,#ffaaaa 65.2%,#ffc0c0 67.7%,#ffd5d5 70.2%,#ffe8e8 72.7%,#fff8f8 75.2%,#f8f8ff 77.7%,#eaeaff 80.3%,#dcdcff 82.8%,#cfcfff 85.3%,#c3c3ff 87.8%,#b5b5ff 90.3%,#a5a5ff 92.8%,#9494ff 95.3%,#8181ff 97.8%,#7070ff 100.0%)"></div><div style="height:3px;background:linear-gradient(90deg,#ff0000 0.0%,#ff0000 2.5%,#ff0000 5.0%,#ff0000 7.5%,#ff0000 10.0%,#ff0000 12.5%,#ff0000 15.0%,#ff0000 17.6%,#ff0000 20.1%,#ff0000 22.6%,#ff0000 25.1%,#ff0000 27.6%,#ff0000 30.1%,#ff0000 32.6%,#ff0000 35.1%,#ff0000 37.6%,#ff0000 40.1%,#ff0000 42.6%,#ff0000 45.1%,#ff0808 47.6%,#ff2020 50.2%,#ff3d3d 52.7%,#ff5555 55.2%,#ff6a6a 57.7%,#ff7f7f 60.2%,#ff9494 62.7%,#ffaaaa 65.2%,#ffc0c0 67.7%,#ffd6d6 70.2%,#ffe9e9 72.7%,#fff8f8 75.2%,#f7f7ff 77.7%,#eaeaff 80.3%,#ddddff 82.8%,#d2d2ff 85.3%,#c6c6ff 87.8%,#babaff 90.3%,#ababff 92.8%,#9a9aff 95.3%,#8787ff 97.8%,#7676ff 100.0%)"></div><div style="height:3px;background:linear-gradient(90deg,#ff0000 0.0%,#ff0000 2.5%,#ff0000 5.0%,#ff0000 7.5%,#ff0000 10.0%,#ff0000 12.5%,#ff0000 15.0%,#ff0000 17.6%,#ff0000 20.1%,#ff0000 22.6%,#ff0000 25.1%,#ff0000 27.6%,#ff0000 30.1%,#ff0000 32.6%,#ff0000 35.1%,#ff0000 37.6%,#ff0000 40.1%,#ff0000 42.6%,#ff0101 45.1%,#ff0909 47.6%,#ff2020 50.2%,#ff3d3d 52.7%,#ff5555 55.2%,#ff6a6a 57.7%,#ff7f7f 60.2%,#ff9494 62.7%,#ffa9a9 65.2%,#ffc0c0 67.7%,#ffd5d5 70.2%,#ffe8e8 72.7%,#fff8f8 75.2%,#f8f8ff 77.7%,#ebebff 80.3%,#dfdfff 82.8%,#d5d5ff 85.3%,#cbcbff 87.8%,#c0c0ff 90.3%,#b3b3ff 92.8%,#a2a2ff 95.3%,#9090ff 97.8%,#7f7fff 100.0%)"></div><div style="height:3px;background:linear-gradient(90deg,#ff0000 0.0%,#ff0000 2.5%,#ff0000 5.0%,#ff0000 7.5%,#ff0000 10.0%,#ff0000 12.5%,#ff0000 15.0%,#ff0000 17.6%,#ff0000 20.1%,#ff0000 22.6%,#ff0000 25.1%,#ff0000 27.6%,#ff0000 30.1%,#ff0000 32.6%,#ff0000 35.1%,#ff0000 37.6%,#ff0101 40.1%,#ff0202 42.6%,#ff0404 45.1%,#ff0d0d 47.6%,#ff2424 50.2%,#ff3f3f 52.7%,#ff5656 55.2%,#ff6b6b 57.7%,#ff7f7f 60.2%,#ff9393 62.7%,#ffa8a8 65.2%,#ffbebe 67.7%,#ffd2d2 70.2%,#ffe5e5 72.7%,#fff6f6 75.2%,#f9f9ff 77.7%,#ebebff 80.3%,#e1e1ff 82.8%,#d8d8ff 85.3%,#d1d1ff 87.8%,#c8c8ff 90.3%,#bdbdff 92.8%,#aeaeff 95.3%,#9e9eff 97.8%,#8d8dff 100.0%)"></div><div style="height:3px;background:linear-gradient(90deg,#ff0000 0.0%,#ff0000 2.5%,#ff0000 5.0%,#ff0000 7.5%,#ff0000 10.0%,#ff0000 12.5%,#ff0000 15.0%,#ff0000 17.6%,#ff0000 20.1%,#ff0000 22.6%,#ff0000 25.1%,#ff0000 27.6%,#ff0000 30.1%,#ff0000 32.6%,#ff0000 35.1%,#ff0000 37.6%,#ff0202 40.1%,#ff0505 42.6%,#ff0909 45.1%,#ff1313 47.6%,#ff2929 50.2%,#ff4242 52.7%,#ff5858 55.2%,#ff6c6c 57.7%,#ff8080 60.2%,#ff9393 62.7%,#ffa6a6 65.2%,#ffbaba 67.7%,#ffcece 70.2%,#ffe0e0 72.7%,#fff2f2 75.2%,#fbfbff 77.7%,#ededff 80.3%,#e3e3ff 82.8%,#ddddff 85.3%,#d7d7ff 87.8%,#d1d1ff 90.3%,#c8c8ff 92.8%,#bcbcff 95.3%,#adadff 97.8%,#9f9fff 100.0%)"></div><div style="height:3px;background:linear-gradient(90deg,#ff0000 0.0%,#ff0000 2.5%,#ff0000 5.0%,#ff0000 7.5%,#ff0000 10.0%,#ff0000 12.5%,#ff0000 15.0%,#ff0000 17.6%,#ff0000 20.1%,#ff0000 22.6%,#ff0000 25.1%,#ff0000 27.6%,#ff0000 30.1%,#ff0000 32.6%,#ff0000 35.1%,#ff0000 37.6%,#ff0303 40.1%,#ff0909 42.6%,#ff1010 45.1%,#ff1b1b 47.6%,#ff2f2f 50.2%,#ff4646 52.7%,#ff5a5a 55.2%,#ff6d6d 57.7%,#ff8080 60.2%,#ff9393 62.7%,#ffa5a5 65.2%,#ffb8b8 67.7%,#ffcaca 70.2%,#ffdbdb 72.7%,#ffeeee 75.2%,#fdfdff 77.7%,#efefff 80.3%,#e6e6ff 82.8%,#e1e1ff 85.3%,#dedeff 87.8%,#d9d9ff 90.3%,#d2d2ff 92.8%,#c8c8ff 95.3%,#bcbcff 97.8%,#b0b0ff 100.0%)"></div><div style="height:3px;background:linear-gradient(90deg,#ff0000 0.0%,#ff0000 2.5%,#ff0000 5.0%,#ff0000 7.5%,#ff0000 10.0%,#ff0000 12.5%,#ff0000 15.0%,#ff0000 17.6%,#ff0000 20.1%,#ff0000 22.6%,#ff0000 25.1%,#ff0000 27.6%,#ff0000 30.1%,#ff0000 32.6%,#ff0000 35.1%,#ff0101 37.6%,#ff0505 40.1%,#ff0d0d 42.6%,#ff1717 45.1%,#ff2424 47.6%,#ff3636 50.2%,#ff4a4a 52.7%,#ff5d5d 55.2%,#ff6f6f 57.7%,#ff8181 60.2%,#ff9292 62.7%,#ffa4a4 65.2%,#ffb6b6 67.7%,#ffc8c8 70.2%,#ffd9d9 72.7%,#ffebeb 75.2%,#fffefe 77.7%,#f1f1ff 80.3%,#e9e9ff 82.8%,#e6e6ff 85.3%,#e3e3ff 87.8%,#e0e0ff 90.3%,#dadaff 92.8%,#d2d2ff 95.3%,#c7c7ff 97.8%,#bdbdff 100.0%)"></div><div style="height:3px;background:linear-gradient(90deg,#ff0000 0.0%,#ff0000 2.5%,#ff0000 5.0%,#ff0000 7.5%,#ff0000 10.0%,#ff0000 12.5%,#ff0000 15.0%,#ff0000 17.6%,#ff0000 20.1%,#ff0000 22.6%,#ff0000 25.1%,#ff0000 27.6%,#ff0000 30.1%,#ff0101 32.6%,#ff0101 35.1%,#ff0303 37.6%,#ff0909 40.1%,#ff1313 42.6%,#ff1f1f 45.1%,#ff2c2c 47.6%,#ff3e3e 50.2%,#ff5050 52.7%,#ff6161 55.2%,#ff7272 57.7%,#ff8383 60.2%,#ff9494 62.7%,#ffa5a5 65.2%,#ffb7b7 67.7%,#ffc8c8 70.2%,#ffd9d9 72.7%,#ffeaea 75.2%,#fffbfb 77.7%,#f5f5ff 80.3%,#eeeeff 82.8%,#eaeaff 85.3%,#e7e7ff 87.8%,#e4e4ff 90.3%,#dedeff 92.8%,#d7d7ff 95.3%,#cfcfff 97.8%,#c7c7ff 100.0%)"></div><div style="height:3px;background:linear-gradient(90deg,#ff0000 0.0%,#ff0000 2.5%,#ff0000 5.0%,#ff0000 7.5%,#ff0000 10.0%,#ff0000 12.5%,#ff0000 15.0%,#ff0000 17.6%,#ff0000 20.1%,#ff0000 22.6%,#ff0000 25.1%,#ff0000 27.6%,#ff0101 30.1%,#ff0303 32.6%,#ff0606 35.1%,#ff0909 37.6%,#ff1111 40.1%,#ff1d1d 42.6%,#ff2929 45.1%,#ff3737 47.6%,#ff4747 50.2%,#ff5959 52.7%,#ff6969 55.2%,#ff7878 57.7%,#ff8888 60.2%,#ff9898 62.7%,#ffa9a9 65.2%,#ffbaba 67.7%,#ffcbcb 70.2%,#ffdada 72.7%,#ffe8e8 75.2%,#fff7f7 77.7%,#fbfbff 80.3%,#f5f5ff 82.8%,#f0f0ff 85.3%,#ececff 87.8%,#e7e7ff 90.3%,#e2e2ff 92.8%,#dbdbff 95.3%,#d5d5ff 97.8%,#cfcfff 100.0%)"></div><div style="height:3px;background:linear-gradient(90deg,#ff0000 0.0%,#ff0000 2.5%,#ff0000 5.0%,#ff0000 7.5%,#ff0000 10.0%,#ff0000 12.5%,#ff0000 15.0%,#ff0000 17.6%,#ff0000 20.1%,#ff0000 22.6%,#ff0000 25.1%,#ff0000 27.6%,#ff0202 30.1%,#ff0606 32.6%,#ff0c0c 35.1%,#ff1212 37.6%,#ff1c1c 40.1%,#ff2828 42.6%,#ff3535 45.1%,#ff4343 47.6%,#ff5252 50.2%,#ff6363 52.7%,#ff7272 55.2%,#ff8181 57.7%,#ff8f8f 60.2%,#ff9e9e 62.7%,#ffaeae 65.2%,#ffbebe 67.7%,#ffcece 70.2%,#ffdcdc 72.7%,#ffe7e7 75.2%,#fff2f2 77.7%,#fffbfb 80.3%,#fcfcff 82.8%,#f6f6ff 85.3%,#f0f0ff 87.8%,#eaeaff 90.3%,#e5e5ff 92.8%,#dfdfff 95.3%,#dadaff 97.8%,#d6d6ff 100.0%)"></div><div style="height:3px;background:linear-gradient(90deg,#ff0000 0.0%,#ff0000 2.5%,#ff0000 5.0%,#ff0000 7.5%,#ff0000 10.0%,#ff0000 12.5%,#ff0000 15.0%,#ff0000 17.6%,#ff0000 20.1%,#ff0000 22.6%,#ff0000 25.1%,#ff0000 27.6%,#ff0303 30.1%,#ff0a0a 32.6%,#ff1313 35.1%,#ff1c1c 37.6%,#ff2727 40.1%,#ff3434 42.6%,#ff4141 45.1%,#ff4e4e 47.6%,#ff5d5d 50.2%,#ff6d6d 52.7%,#ff7b7b 55.2%,#ff8989 57.7%,#ff9797 60.2%,#ffa5a5 62.7%,#ffb3b3 65.2%,#ffc3c3 67.7%,#ffd2d2 70.2%,#ffdede 72.7%,#ffe7e7 75.2%,#ffeeee 77.7%,#fff5f5 80.3%,#fffcfc 82.8%,#fbfbff 85.3%,#f3f3ff 87.8%,#ececff 90.3%,#e7e7ff 92.8%,#e2e2ff 95.3%,#dedeff 97.8%,#dbdbff 100.0%)"></div><div style="height:3px;background:linear-gradient(90deg,#ff0000 0.0%,#ff0000 2.5%,#ff0000 5.0%,#ff0000 7.5%,#ff0000 10.0%,#ff0000 12.5%,#ff0000 15.0%,#ff0000 17.6%,#ff0000 20.1%,#ff0000 22.6%,#ff0000 25.1%,#ff0000 27.6%,#ff0505 30.1%,#ff0f0f 32.6%,#ff1b1b 35.1%,#ff2626 37.6%,#ff3232 40.1%,#ff3e3e 42.6%,#ff4b4b 45.1%,#ff5959 47.6%,#ff6767 50.2%,#ff7676 52.7%,#ff8383 55.2%,#ff9191 57.7%,#ff9e9e 60.2%,#ffabab 62.7%,#ffb8b8 65.2%,#ffc7c7 67.7%,#ffd5d5 70.2%,#ffdfdf 72.7%,#ffe6e6 75.2%,#ffecec 77.7%,#fff1f1 80.3%,#fff8f8 82.8%,#fdfdff 85.3%,#f4f4ff 87.8%,#ededff 90.3%,#e8e8ff 92.8%,#e4e4ff 95.3%,#e1e1ff 97.8%,#dfdfff 100.0%)"></div><div style="height:3px;background:linear-gradient(90deg,#ff0000 0.0%,#ff0000 2.5%,#ff0000 5.0%,#ff0000 7.5%,#ff0000 10.0%,#ff0000 12.5%,#ff0000 15.0%,#ff0000 17.6%,#ff0000 20.1%,#ff0101 22.6%,#ff0202 25.1%,#ff0404 27.6%,#ff0a0a 30.1%,#ff1616 32.6%,#ff2323 35.1%,#ff2f2f 37.6%,#ff3b3b 40.1%,#ff4848 42.6%,#ff5555 45.1%,#ff6262 47.6%,#ff6f6f 50.2%,#ff7d7d 52.7%,#ff8a8a 55.2%,#ff9797 57.7%,#ffa4a4 60.2%,#ffb0b0 62.7%,#ffbdbd 65.2%,#ffcaca 67.7%,#ffd6d6 70.2%,#ffe0e0 72.7%,#ffe6e6 75.2%,#ffebeb 77.7%,#fff0f0 80.3%,#fff6f6 82.8%,#ffffff 85.3%,#f5f5ff 87.8%,#ededff 90.3%,#e9e9ff 92.8%,#e6e6ff 95.3%,#e3e3ff 97.8%,#e2e2ff 100.0%)"></div><div style="height:3px;background:linear-gradient(90deg,#ff0000 0.0%,#ff0000 2.5%,#ff0000 5.0%,#ff0000 7.5%,#ff0000 10.0%,#ff0000 12.5%,#ff0000 15.0%,#ff0000 17.6%,#ff0101 20.1%,#ff0303 22.6%,#ff0808 25.1%,#ff0c0c 27.6%,#ff1414 30.1%,#ff2020 32.6%,#ff2c2c 35.1%,#ff3838 37.6%,#ff4545 40.1%,#ff5151 42.6%,#ff5e5e 45.1%,#ff6a6a 47.6%,#ff7777 50.2%,#ff8383 52.7%,#ff9090 55.2%,#ff9d9d 57.7%,#ffa9a9 60.2%,#ffb5b5 62.7%,#ffc1c1 65.2%,#ffcdcd 67.7%,#ffd8d8 70.2%,#ffe0e0 72.7%,#ffe6e6 75.2%,#ffeaea 77.7%,#ffeeee 80.3%,#fff4f4 82.8%,#fffefe 85.3%,#f5f5ff 87.8%,#ededff 90.3%,#eaeaff 92.8%,#e7e7ff 95.3%,#e6e6ff 97.8%,#e5e5ff 100.0%)"></div><div style="height:3px;background:linear-gradient(90deg,#ff0000 0.0%,#ff0000 2.5%,#ff0000 5.0%,#ff0000 7.5%,#ff0000 10.0%,#ff0000 12.5%,#ff0000 15.0%,#ff0000 17.6%,#ff0101 20.1%,#ff0707 22.6%,#ff0f0f 25.1%,#ff1717 27.6%,#ff2020 30.1%,#ff2b2b 32.6%,#ff3737 35.1%,#ff4343 37.6%,#ff4e4e 40.1%,#ff5b5b 42.6%,#ff6767 45.1%,#ff7373 47.6%,#ff7e7e 50.2%,#ff8a8a 52.7%,#ff9696 55.2%,#ffa2a2 57.7%,#ffafaf 60.2%,#ffbbbb 62.7%,#ffc5c5 65.2%,#ffd0d0 67.7%,#ffd9d9 70.2%,#ffe1e1 72.7%,#ffe6e6 75.2%,#ffe9e9 77.7%,#ffeded 80.3%,#fff3f3 82.8%,#fffdfd 85.3%,#f5f5ff 87.8%,#ededff 90.3%,#eaeaff 92.8%,#e9e9ff 95.3%,#e7e7ff 97.8%,#e7e7ff 100.0%)"></div><div style="height:3px;background:linear-gradient(90deg,#ff0000 0.0%,#ff0000 2.5%,#ff0000 5.0%,#ff0000 7.5%,#ff0000 10.0%,#ff0000 12.5%,#ff0000 15.0%,#ff0000 17.6%,#ff0202 20.1%,#ff0b0b 22.6%,#ff1818 25.1%,#ff2323 27.6%,#ff2d2d 30.1%,#ff3737 32.6%,#ff4242 35.1%,#ff4d4d 37.6%,#ff5959 40.1%,#ff6565 42.6%,#ff7070 45.1%,#ff7b7b 47.6%,#ff8686 50.2%,#ff9191 52.7%,#ff9d9d 55.2%,#ffa9a9 57.7%,#ffb5b5 60.2%,#ffc1c1 62.7%,#ffcaca 65.2%,#ffd3d3 67.7%,#ffdbdb 70.2%,#ffe2e2 72.7%,#ffe6e6 75.2%,#ffe9e9 77.7%,#ffecec 80.3%,#fff2f2 82.8%,#fffdfd 85.3%,#f5f5ff 87.8%,#ededff 90.3%,#ebebff 92.8%,#e9e9ff 95.3%,#e9e9ff 97.8%,#e8e8ff 100.0%)"></div><div style="height:3px;background:linear-gradient(90deg,#ff0000 0.0%,#ff0000 2.5%,#ff0000 5.0%,#ff0000 7.5%,#ff0000 10.0%,#ff0000 12.5%,#ff0000 15.0%,#ff0000 17.6%,#ff0404 20.1%,#ff1111 22.6%,#ff2121 25.1%,#ff2e2e 27.6%,#ff3939 30.1%,#ff4343 32.6%,#ff4e4e 35.1%,#ff5959 37.6%,#ff6464 40.1%,#ff7070 42.6%,#ff7b7b 45.1%,#ff8686 47.6%,#ff9090 50.2%,#ff9a9a 52.7%,#ffa5a5 55.2%,#ffb1b1 57.7%,#ffbdbd 60.2%,#ffc7c7 62.7%,#ffd0d0 65.2%,#ffd8d8 67.7%,#ffdede 70.2%,#ffe3e3 72.7%,#ffe6e6 75.2%,#ffe9e9 77.7%,#ffeded 80.3%,#fff2f2 82.8%,#fffdfd 85.3%,#f5f5ff 87.8%,#ededff 90.3%,#ebebff 92.8%,#eaeaff 95.3%,#e9e9ff 97.8%,#e9e9ff 100.0%)"></div><div style="height:3px;background:linear-gradient(90deg,#ff0000 0.0%,#ff0000 2.5%,#ff0000 5.0%,#ff0000 7.5%,#ff0000 10.0%,#ff0101 12.5%,#ff0303 15.0%,#ff0505 17.6%,#ff0b0b 20.1%,#ff1a1a 22.6%,#ff2b2b 25.1%,#ff3a3a 27.6%,#ff4545 30.1%,#ff5050 32.6%,#ff5a5a 35.1%,#ff6565 37.6%,#ff7171 40.1%,#ff7d7d 42.6%,#ff8888 45.1%,#ff9292 47.6%,#ff9c9c 50.2%,#ffa6a6 52.7%,#ffb0b0 55.2%,#ffbaba 57.7%,#ffc5c5 60.2%,#ffcfcf 62.7%,#ffd7d7 65.2%,#ffdfdf 67.7%,#ffe5e5 70.2%,#ffe9e9 72.7%,#ffecec 75.2%,#ffefef 77.7%,#fff2f2 80.3%,#fff7f7 82.8%,#fefeff 85.3%,#f4f4ff 87.8%,#ececff 90.3%,#ebebff 92.8%,#eaeaff 95.3%,#e9e9ff 97.8%,#e9e9ff 100.0%)"></div><div style="height:3px;background:linear-gradient(90deg,#ff0000 0.0%,#ff0000 2.5%,#ff0000 5.0%,#ff0000 7.5%,#ff0000 10.0%,#ff0303 12.5%,#ff0808 15.0%,#ff0e0e 17.6%,#ff1616 20.1%,#ff2626 22.6%,#ff3838 25.1%,#ff4747 27.6%,#ff5353 30.1%,#ff5d5d 32.6%,#ff6767 35.1%,#ff7272 37.6%,#ff7e7e 40.1%,#ff8a8a 42.6%,#ff9696 45.1%,#ffa0a0 47.6%,#ffaaaa 50.2%,#ffb3b3 52.7%,#ffbcbc 55.2%,#ffc5c5 57.7%,#ffcfcf 60.2%,#ffd8d8 62.7%,#ffdfdf 65.2%,#ffe7e7 67.7%,#ffefef 70.2%,#fff3f3 72.7%,#fff6f6 75.2%,#fff9f9 77.7%,#fffbfb 80.3%,#ffffff 82.8%,#f9f9ff 85.3%,#f1f1ff 87.8%,#ececff 90.3%,#ebebff 92.8%,#eaeaff 95.3%,#e9e9ff 97.8%,#e9e9ff 100.0%)"></div><div style="height:3px;background:linear-gradient(90deg,#ff0000 0.0%,#ff0000 2.5%,#ff0000 5.0%,#ff0000 7.5%,#ff0000 10.0%,#ff0606 12.5%,#ff0f0f 15.0%,#ff1919 17.6%,#ff2525 20.1%,#ff3535 22.6%,#ff4646 25.1%,#ff5555 27.6%,#ff6060 30.1%,#ff6b6b 32.6%,#ff7575 35.1%,#ff8080 37.6%,#ff8c8c 40.1%,#ff9999 42.6%,#ffa4a4 45.1%,#ffaeae 47.6%,#ffb8b8 50.2%,#ffc0c0 52.7%,#ffc9c9 55.2%,#ffd1d1 57.7%,#ffd9d9 60.2%,#ffe0e0 62.7%,#ffe8e8 65.2%,#fff1f1 67.7%,#fff9f9 70.2%,#fffefe 72.7%,#fdfdff 75.2%,#fbfbff 77.7%,#f9f9ff 80.3%,#f7f7ff 82.8%,#f3f3ff 85.3%,#efefff 87.8%,#ececff 90.3%,#ebebff 92.8%,#eaeaff 95.3%,#e9e9ff 97.8%,#e9e9ff 100.0%)"></div><div style="height:3px;background:linear-gradient(90deg,#ff0000 0.0%,#ff0000 2.5%,#ff0000 5.0%,#ff0000 7.5%,#ff0101 10.0%,#ff0909 12.5%,#ff1717 15.0%,#ff2626 17.6%,#ff3434 20.1%,#ff4545 22.6%,#ff5656 25.1%,#ff6464 27.6%,#ff6f6f 30.1%,#ff7979 32.6%,#ff8383 35.1%,#ff8e8e 37.6%,#ff9b9b 40.1%,#ffa7a7 42.6%,#ffb2b2 45.1%,#ffbcbc 47.6%,#ffc5c5 50.2%,#ffcece 52.7%,#ffd5d5 55.2%,#ffdcdc 57.7%,#ffe2e2 60.2%,#ffe9e9 62.7%,#fff0f0 65.2%,#fff9f9 67.7%,#fdfdff 70.2%,#f8f8ff 72.7%,#f5f5ff 75.2%,#f3f3ff 77.7%,#f2f2ff 80.3%,#f0f0ff 82.8%,#efefff 85.3%,#ededff 87.8%,#ececff 90.3%,#ebebff 92.8%,#eaeaff 95.3%,#e9e9ff 97.8%,#e9e9ff 100.0%)"></div><div style="height:3px;background:linear-gradient(90deg,#ff0000 0.0%,#ff0000 2.5%,#ff0000 5.0%,#ff0101 7.5%,#ff0202 10.0%,#ff0e0e 12.5%,#ff2121 15.0%,#ff3434 17.6%,#ff4444 20.1%,#ff5555 22.6%,#ff6666 25.1%,#ff7373 27.6%,#ff7f7f 30.1%,#ff8989 32.6%,#ff9292 35.1%,#ff9d9d 37.6%,#ffa9a9 40.1%,#ffb4b4 42.6%,#ffbebe 45.1%,#ffc8c8 47.6%,#ffd1d1 50.2%,#ffd9d9 52.7%,#ffe0e0 55.2%,#ffe6e6 57.7%,#ffecec 60.2%,#fff1f1 62.7%,#fff7f7 65.2%,#ffffff 67.7%,#f8f8ff 70.2%,#f4f4ff 72.7%,#f2f2ff 75.2%,#f0f0ff 77.7%,#efefff 80.3%,#eeeeff 82.8%,#ededff 85.3%,#ededff 87.8%,#ececff 90.3%,#ebebff 92.8%,#eaeaff 95.3%,#eaeaff 97.8%,#e9e9ff 100.0%)"></div><div style="height:3px;background:linear-gradient(90deg,#ff0000 0.0%,#ff0101 2.5%,#ff0303 5.0%,#ff0505 7.5%,#ff0909 10.0%,#ff1919 12.5%,#ff2f2f 15.0%,#ff4545 17.6%,#ff5757 20.1%,#ff6868 22.6%,#ff7777 25.1%,#ff8585 27.6%,#ff9090 30.1%,#ff9a9a 32.6%,#ffa3a3 35.1%,#ffadad 37.6%,#ffb7b7 40.1%,#ffc1c1 42.6%,#ffcaca 45.1%,#ffd3d3 47.6%,#ffdddd 50.2%,#ffe5e5 52.7%,#ffecec 55.2%,#fff1f1 57.7%,#fff5f5 60.2%,#fffafa 62.7%,#ffffff 65.2%,#fafaff 67.7%,#f5f5ff 70.2%,#f2f2ff 72.7%,#f0f0ff 75.2%,#eeeeff 77.7%,#ededff 80.3%,#ececff 82.8%,#ececff 85.3%,#ececff 87.8%,#ececff 90.3%,#ebebff 92.8%,#ebebff 95.3%,#eaeaff 97.8%,#e9e9ff 100.0%)"></div><div style="height:3px;background:linear-gradient(90deg,#ff0000 0.0%,#ff0303 2.5%,#ff0707 5.0%,#ff0d0d 7.5%,#ff1515 10.0%,#ff2828 12.5%,#ff4242 15.0%,#ff5959 17.6%,#ff6b6b 20.1%,#ff7c7c 22.6%,#ff8b8b 25.1%,#ff9898 27.6%,#ffa2a2 30.1%,#ffacac 32.6%,#ffb5b5 35.1%,#ffbdbd 37.6%,#ffc6c6 40.1%,#ffcece 42.6%,#ffd6d6 45.1%,#ffdfdf 47.6%,#ffe8e8 50.2%,#fff0f0 52.7%,#fff6f6 55.2%,#fffbfb 57.7%,#ffffff 60.2%,#fcfcff 62.7%,#f9f9ff 65.2%,#f5f5ff 67.7%,#f2f2ff 70.2%,#f0f0ff 72.7%,#efefff 75.2%,#ededff 77.7%,#ececff 80.3%,#ececff 82.8%,#ececff 85.3%,#ececff 87.8%,#ececff 90.3%,#ececff 92.8%,#ebebff 95.3%,#eaeaff 97.8%,#e9e9ff 100.0%)"></div><div style="height:3px;background:linear-gradient(90deg,#ff0000 0.0%,#ff0505 2.5%,#ff0d0d 5.0%,#ff1717 7.5%,#ff2424 10.0%,#ff3b3b 12.5%,#ff5757 15.0%,#ff7070 17.6%,#ff8181 20.1%,#ff9191 22.6%,#ff9f9f 25.1%,#ffaaaa 27.6%,#ffb5b5 30.1%,#ffbebe 32.6%,#ffc6c6 35.1%,#ffcdcd 37.6%,#ffd4d4 40.1%,#ffdbdb 42.6%,#ffe1e1 45.1%,#ffe9e9 47.6%,#fff2f2 50.2%,#fffafa 52.7%,#fefeff 55.2%,#fafaff 57.7%,#f6f6ff 60.2%,#f4f4ff 62.7%,#f2f2ff 65.2%,#f1f1ff 67.7%,#efefff 70.2%,#eeeeff 72.7%,#ededff 75.2%,#ececff 77.7%,#ebebff 80.3%,#ebebff 82.8%,#ebebff 85.3%,#ececff 87.8%,#ececff 90.3%,#ececff 92.8%,#ebebff 95.3%,#eaeaff 97.8%,#e9e9ff 100.0%)"></div><div style="height:3px;background:linear-gradient(90deg,#ff0000 0.0%,#ff0808 2.5%,#ff1414 5.0%,#ff2323 7.5%,#ff3434 10.0%,#ff4e4e 12.5%,#ff6c6c 15.0%,#ff8686 17.6%,#ff9797 20.1%,#ffa6a6 22.6%,#ffb2b2 25.1%,#ffbdbd 27.6%,#ffc6c6 30.1%,#ffcece 32.6%,#ffd6d6 35.1%,#ffdcdc 37.6%,#ffe1e1 40.1%,#ffe6e6 42.6%,#ffecec 45.1%,#fff3f3 47.6%,#fffbfb 50.2%,#fbfbff 52.7%,#f6f6ff 55.2%,#f2f2ff 57.7%,#efefff 60.2%,#ededff 62.7%,#ededff 65.2%,#ededff 67.7%,#ededff 70.2%,#ececff 72.7%,#ececff 75.2%,#ebebff 77.7%,#e9e9ff 80.3%,#e9e9ff 82.8%,#eaeaff 85.3%,#ebebff 87.8%,#ececff 90.3%,#ececff 92.8%,#ebebff 95.3%,#eaeaff 97.8%,#e9e9ff 100.0%)"></div><div style="height:3px;background:linear-gradient(90deg,#ff0000 0.0%,#ff0d0d 2.5%,#ff1d1d 5.0%,#ff3131 7.5%,#ff4646 10.0%,#ff6464 12.5%,#ff8484 15.0%,#ff9e9e 17.6%,#ffaeae 20.1%,#ffbbbb 22.6%,#ffc6c6 25.1%,#ffcfcf 27.6%,#ffd7d7 30.1%,#ffdede 32.6%,#ffe4e4 35.1%,#ffeaea 37.6%,#ffeeee 40.1%,#fff2f2 42.6%,#fff7f7 45.1%,#fffdfd 47.6%,#fafaff 50.2%,#f4f4ff 52.7%,#f0f0ff 55.2%,#ececff 57.7%,#e9e9ff 60.2%,#e8e8ff 62.7%,#e8e8ff 65.2%,#e9e9ff 67.7%,#e9e9ff 70.2%,#eaeaff 72.7%,#e9e9ff 75.2%,#e7e7ff 77.7%,#e6e6ff 80.3%,#e6e6ff 82.8%,#e7e7ff 85.3%,#e9e9ff 87.8%,#ebebff 90.3%,#ebebff 92.8%,#ebebff 95.3%,#eaeaff 97.8%,#e9e9ff 100.0%)"></div><div style="height:3px;background:linear-gradient(90deg,#ff0000 0.0%,#ff1515 2.5%,#ff2c2c 5.0%,#ff4545 7.5%,#ff5f5f 10.0%,#ff8080 12.5%,#ffa1a1 15.0%,#ffbaba 17.6%,#ffc8c8 20.1%,#ffd3d3 22.6%,#ffdcdc 25.1%,#ffe3e3 27.6%,#ffe9e9 30.1%,#ffefef 32.6%,#fff3f3 35.1%,#fff8f8 37.6%,#fffbfb 40.1%,#ffffff 42.6%,#fcfcff 45.1%,#f7f7ff 47.6%,#f2f2ff 50.2%,#ededff 52.7%,#eaeaff 55.2%,#e7e7ff 57.7%,#e4e4ff 60.2%,#e2e2ff 62.7%,#e3e3ff 65.2%,#e4e4ff 67.7%,#e5e5ff 70.2%,#e6e6ff 72.7%,#e5e5ff 75.2%,#e1e1ff 77.7%,#dfdfff 80.3%,#dfdfff 82.8%,#e1e1ff 85.3%,#e5e5ff 87.8%,#e8e8ff 90.3%,#e9e9ff 92.8%,#e9e9ff 95.3%,#e9e9ff 97.8%,#e9e9ff 100.0%)"></div><div style="height:3px;background:linear-gradient(90deg,#ff0000 0.0%,#ff1f1f 2.5%,#ff3e3e 5.0%,#ff5d5d 7.5%,#ff7b7b 10.0%,#ff9e9e 12.5%,#ffbfbf 15.0%,#ffd7d7 17.6%,#ffe2e2 20.1%,#ffebeb 22.6%,#fff1f1 25.1%,#fff6f6 27.6%,#fffbfb 30.1%,#fffefe 32.6%,#fdfdff 35.1%,#f9f9ff 37.6%,#f6f6ff 40.1%,#f3f3ff 42.6%,#f1f1ff 45.1%,#eeeeff 47.6%,#eaeaff 50.2%,#e8e8ff 52.7%,#e5e5ff 55.2%,#e2e2ff 57.7%,#dfdfff 60.2%,#dedeff 62.7%,#dedeff 65.2%,#e0e0ff 67.7%,#e2e2ff 70.2%,#e3e3ff 72.7%,#e0e0ff 75.2%,#dadaff 77.7%,#d7d7ff 80.3%,#d6d6ff 82.8%,#dadaff 85.3%,#dfdfff 87.8%,#e4e4ff 90.3%,#e6e6ff 92.8%,#e8e8ff 95.3%,#e9e9ff 97.8%,#e9e9ff 100.0%)"></div><div style="height:3px;background:linear-gradient(90deg,#ff0000 0.0%,#ff2a2a 2.5%,#ff5151 5.0%,#ff7575 7.5%,#ff9696 10.0%,#ffb9b9 12.5%,#ffd9d9 15.0%,#ffefef 17.6%,#fff8f8 20.1%,#fffefe 22.6%,#fcfcff 25.1%,#f8f8ff 27.6%,#f5f5ff 30.1%,#f3f3ff 32.6%,#f1f1ff 35.1%,#efefff 37.6%,#ececff 40.1%,#eaeaff 42.6%,#e8e8ff 45.1%,#e6e6ff 47.6%,#e4e4ff 50.2%,#e3e3ff 52.7%,#e1e1ff 55.2%,#dfdfff 57.7%,#dcdcff 60.2%,#dadaff 62.7%,#dbdbff 65.2%,#ddddff 67.7%,#dfdfff 70.2%,#e0e0ff 72.7%,#dcdcff 75.2%,#d5d5ff 77.7%,#cfcfff 80.3%,#ceceff 82.8%,#d3d3ff 85.3%,#dadaff 87.8%,#e0e0ff 90.3%,#e3e3ff 92.8%,#e6e6ff 95.3%,#e8e8ff 97.8%,#e9e9ff 100.0%)"></div><div style="height:3px;background:linear-gradient(90deg,#ff0000 0.0%,#ff3333 2.5%,#ff6161 5.0%,#ff8a8a 7.5%,#ffacac 10.0%,#ffcece 12.5%,#ffeaea 15.0%,#fffdfd 17.6%,#fafaff 20.1%,#f5f5ff 22.6%,#f1f1ff 25.1%,#efefff 27.6%,#ededff 30.1%,#ebebff 32.6%,#e9e9ff 35.1%,#e8e8ff 37.6%,#e6e6ff 40.1%,#e4e4ff 42.6%,#e2e2ff 45.1%,#e1e1ff 47.6%,#e1e1ff 50.2%,#e0e0ff 52.7%,#dfdfff 55.2%,#ddddff 57.7%,#dadaff 60.2%,#d9d9ff 62.7%,#d9d9ff 65.2%,#dbdbff 67.7%,#dedeff 70.2%,#dfdfff 72.7%,#dbdbff 75.2%,#d2d2ff 77.7%,#cbcbff 80.3%,#c9c9ff 82.8%,#cfcfff 85.3%,#d7d7ff 87.8%,#dedeff 90.3%,#e2e2ff 92.8%,#e5e5ff 95.3%,#e7e7ff 97.8%,#e9e9ff 100.0%)"></div><div style="height:3px;background:linear-gradient(90deg,#ff0000 0.0%,#ff3b3b 2.5%,#ff7070 5.0%,#ff9c9c 7.5%,#ffbebe 10.0%,#ffdddd 12.5%,#fff5f5 15.0%,#f9f9ff 17.6%,#f3f3ff 20.1%,#efefff 22.6%,#ececff 25.1%,#e9e9ff 27.6%,#e7e7ff 30.1%,#e6e6ff 32.6%,#e4e4ff 35.1%,#e3e3ff 37.6%,#e2e2ff 40.1%,#e0e0ff 42.6%,#dfdfff 45.1%,#dfdfff 47.6%,#dedeff 50.2%,#dedeff 52.7%,#ddddff 55.2%,#dbdbff 57.7%,#dadaff 60.2%,#d9d9ff 62.7%,#d9d9ff 65.2%,#dbdbff 67.7%,#dedeff 70.2%,#e0e0ff 72.7%,#dbdbff 75.2%,#d2d2ff 77.7%,#c8c8ff 80.3%,#c6c6ff 82.8%,#ccccff 85.3%,#d5d5ff 87.8%,#ddddff 90.3%,#e1e1ff 92.8%,#e5e5ff 95.3%,#e7e7ff 97.8%,#e9e9ff 100.0%)"></div><div style="height:3px;background:linear-gradient(90deg,#ff0000 0.0%,#ff4343 2.5%,#ff7e7e 5.0%,#ffaeae 7.5%,#ffcfcf 10.0%,#ffeaea 12.5%,#ffffff 15.0%,#f3f3ff 17.6%,#ededff 20.1%,#eaeaff 22.6%,#e7e7ff 25.1%,#e5e5ff 27.6%,#e3e3ff 30.1%,#e1e1ff 32.6%,#dfdfff 35.1%,#dfdfff 37.6%,#dedeff 40.1%,#ddddff 42.6%,#dcdcff 45.1%,#dcdcff 47.6%,#dcdcff 50.2%,#dcdcff 52.7%,#dbdbff 55.2%,#dadaff 57.7%,#d9d9ff 60.2%,#d9d9ff 62.7%,#d9d9ff 65.2%,#dcdcff 67.7%,#dfdfff 70.2%,#e1e1ff 72.7%,#dcdcff 75.2%,#d1d1ff 77.7%,#c6c6ff 80.3%,#c4c4ff 82.8%,#cacaff 85.3%,#d4d4ff 87.8%,#dcdcff 90.3%,#e0e0ff 92.8%,#e4e4ff 95.3%,#e7e7ff 97.8%,#e9e9ff 100.0%)"></div><div style="height:3px;background:linear-gradient(90deg,#ff0000 0.0%,#ff4b4b 2.5%,#ff8c8c 5.0%,#ffbebe 7.5%,#ffdede 10.0%,#fff6f6 12.5%,#f7f7ff 15.0%,#eeeeff 17.6%,#e9e9ff 20.1%,#e6e6ff 22.6%,#e4e4ff 25.1%,#e1e1ff 27.6%,#dfdfff 30.1%,#ddddff 32.6%,#dcdcff 35.1%,#dbdbff 37.6%,#dbdbff 40.1%,#dbdbff 42.6%,#dadaff 45.1%,#dadaff 47.6%,#dadaff 50.2%,#dadaff 52.7%,#dadaff 55.2%,#d9d9ff 57.7%,#d9d9ff 60.2%,#d9d9ff 62.7%,#d9d9ff 65.2%,#dcdcff 67.7%,#e1e1ff 70.2%,#e3e3ff 72.7%,#ddddff 75.2%,#d1d1ff 77.7%,#c4c4ff 80.3%,#c2c2ff 82.8%,#c8c8ff 85.3%,#d2d2ff 87.8%,#dbdbff 90.3%,#e0e0ff 92.8%,#e4e4ff 95.3%,#e7e7ff 97.8%,#e9e9ff 100.0%)"></div><div style="height:3px;background:linear-gradient(90deg,#ff0000 0.0%,#ff5353 2.5%,#ff9a9a 5.0%,#ffcece 7.5%,#ffebeb 10.0%,#fffefe 12.5%,#f2f2ff 15.0%,#ebebff 17.6%,#e6e6ff 20.1%,#e4e4ff 22.6%,#e1e1ff 25.1%,#dfdfff 27.6%,#ddddff 30.1%,#dbdbff 32.6%,#d9d9ff 35.1%,#d9d9ff 37.6%,#d9d9ff 40.1%,#d9d9ff 42.6%,#d9d9ff 45.1%,#d9d9ff 47.6%,#d9d9ff 50.2%,#d9d9ff 52.7%,#d9d9ff 55.2%,#d9d9ff 57.7%,#d9d9ff 60.2%,#d9d9ff 62.7%,#dadaff 65.2%,#dedeff 67.7%,#e3e3ff 70.2%,#e6e6ff 72.7%,#dfdfff 75.2%,#d1d1ff 77.7%,#c3c3ff 80.3%,#c0c0ff 82.8%,#c7c7ff 85.3%,#d2d2ff 87.8%,#dbdbff 90.3%,#e0e0ff 92.8%,#e4e4ff 95.3%,#e7e7ff 97.8%,#e9e9ff 100.0%)"></div><div style="height:3px;background:linear-gradient(90deg,#ff0000 0.0%,#ff5858 2.5%,#ffa3a3 5.0%,#ffd9d9 7.5%,#fff3f3 10.0%,#fcfcff 12.5%,#f1f1ff 15.0%,#eaeaff 17.6%,#e6e6ff 20.1%,#e3e3ff 22.6%,#e1e1ff 25.1%,#dfdfff 27.6%,#ddddff 30.1%,#dadaff 32.6%,#d9d9ff 35.1%,#d9d9ff 37.6%,#d9d9ff 40.1%,#d9d9ff 42.6%,#d9d9ff 45.1%,#d9d9ff 47.6%,#d9d9ff 50.2%,#d9d9ff 52.7%,#d9d9ff 55.2%,#d9d9ff 57.7%,#d9d9ff 60.2%,#d9d9ff 62.7%,#dadaff 65.2%,#dfdfff 67.7%,#e6e6ff 70.2%,#e9e9ff 72.7%,#e1e1ff 75.2%,#d1d1ff 77.7%,#c3c3ff 80.3%,#c0c0ff 82.8%,#c7c7ff 85.3%,#d1d1ff 87.8%,#dadaff 90.3%,#dfdfff 92.8%,#e4e4ff 95.3%,#e7e7ff 97.8%,#e9e9ff 100.0%)"></div></div></div>
<div style="position:absolute;left:558.75px;top:557.00px;width:319.00px;height:399.70px;overflow:hidden"><div style="filter:blur(1.2px);margin:-3px 0;padding:3px 0"><div style="height:3px;background:linear-gradient(90deg,#6969ff 0.0%,#6666ff 2.5%,#6363ff 5.0%,#6161ff 7.5%,#5e5eff 10.0%,#5c5cff 12.5%,#5a5aff 15.0%,#5959ff 17.6%,#5a5aff 20.1%,#5d5dff 22.6%,#5f5fff 25.1%,#6060ff 27.6%,#5e5eff 30.1%,#5b5bff 32.6%,#5858ff 35.1%,#5858ff 37.6%,#5858ff 40.1%,#5959ff 42.6%,#5959ff 45.1%,#5a5aff 47.6%,#5d5dff 50.2%,#5f5fff 52.7%,#5f5fff 55.2%,#5d5dff 57.7%,#5a5aff 60.2%,#5858ff 62.7%,#5858ff 65.2%,#5b5bff 67.7%,#5d5dff 70.2%,#5f5fff 72.7%,#5e5eff 75.2%,#5e5eff 77.7%,#5e5eff 80.3%,#5e5eff 82.8%,#5e5eff 85.3%,#5e5eff 87.8%,#5e5eff 90.3%,#5e5eff 92.8%,#5d5dff 95.3%,#5b5bff 97.8%,#5959ff 100.0%)"></div><div style="height:3px;background:linear-gradient(90deg,#6767ff 0.0%,#6565ff 2.5%,#6262ff 5.0%,#6060ff 7.5%,#5e5eff 10.0%,#5c5cff 12.5%,#5b5bff 15.0%,#5b5bff 17.6%,#5c5cff 20.1%,#5e5eff 22.6%,#6161ff 25.1%,#6161ff 27.6%,#5e5eff 30.1%,#5b5bff 32.6%,#5757ff 35.1%,#5757ff 37.6%,#5757ff 40.1%,#5858ff 42.6%,#5959ff 45.1%,#5a5aff 47.6%,#5c5cff 50.2%,#5e5eff 52.7%,#5e5eff 55.2%,#5c5cff 57.7%,#5858ff 60.2%,#5555ff 62.7%,#5656ff 65.2%,#5858ff 67.7%,#5b5bff 70.2%,#5c5cff 72.7%,#5c5cff 75.2%,#5c5cff 77.7%,#5b5bff 80.3%,#5b5bff 82.8%,#5b5bff 85.3%,#5b5bff 87.8%,#5c5cff 90.3%,#5c5cff 92.8%,#5b5bff 95.3%,#5b5bff 97.8%,#5959ff 100.0%)"></div><div style="height:3px;background:linear-gradient(90deg,#6565ff 0.0%,#6363ff 2.5%,#6161ff 5.0%,#5f5fff 7.5%,#5d5dff 10.0%,#5c5cff 12.5%,#5b5bff 15.0%,#5c5cff 17.6%,#5d5dff 20.1%,#6060ff 22.6%,#6262ff 25.1%,#6262ff 27.6%,#5f5fff 30.1%,#5a5aff 32.6%,#5656ff 35.1%,#5656ff 37.6%,#5757ff 40.1%,#5858ff 42.6%,#5959ff 45.1%,#5a5aff 47.6%,#5c5cff 50.2%,#5d5dff 52.7%,#5d5dff 55.2%,#5a5aff 57.7%,#5656ff 60.2%,#5353ff 62.7%,#5353ff 65.2%,#5656ff 67.7%,#5959ff 70.2%,#5a5aff 72.7%,#5a5aff 75.2%,#5959ff 77.7%,#5858ff 80.3%,#5858ff 82.8%,#5858ff 85.3%,#5959ff 87.8%,#5959ff 90.3%,#5a5aff 92.8%,#5a5aff 95.3%,#5a5aff 97.8%,#5959ff 100.0%)"></div><div style="height:3px;background:linear-gradient(90deg,#6363ff 0.0%,#6161ff 2.5%,#5f5fff 5.0%,#5e5eff 7.5%,#5c5cff 10.0%,#5c5cff 12.5%,#5c5cff 15.0%,#5d5dff 17.6%,#5e5eff 20.1%,#6161ff 22.6%,#6262ff 25.1%,#6363ff 27.6%,#5f5fff 30.1%,#5a5aff 32.6%,#5555ff 35.1%,#5555ff 37.6%,#5656ff 40.1%,#5858ff 42.6%,#5959ff 45.1%,#5a5aff 47.6%,#5b5bff 50.2%,#5c5cff 52.7%,#5c5cff 55.2%,#5959ff 57.7%,#5454ff 60.2%,#5050ff 62.7%,#5151ff 65.2%,#5353ff 67.7%,#5757ff 70.2%,#5858ff 72.7%,#5858ff 75.2%,#5656ff 77.7%,#5656ff 80.3%,#5555ff 82.8%,#5656ff 85.3%,#5656ff 87.8%,#5757ff 90.3%,#5858ff 92.8%,#5959ff 95.3%,#5959ff 97.8%,#5959ff 100.0%)"></div><div style="height:3px;background:linear-gradient(90deg,#6161ff 0.0%,#6060ff 2.5%,#5e5eff 5.0%,#5d5dff 7.5%,#5c5cff 10.0%,#5b5bff 12.5%,#5c5cff 15.0%,#5e5eff 17.6%,#5f5fff 20.1%,#6161ff 22.6%,#6363ff 25.1%,#6363ff 27.6%,#5f5fff 30.1%,#5a5aff 32.6%,#5555ff 35.1%,#5454ff 37.6%,#5656ff 40.1%,#5858ff 42.6%,#5959ff 45.1%,#5a5aff 47.6%,#5b5bff 50.2%,#5b5bff 52.7%,#5b5bff 55.2%,#5757ff 57.7%,#5252ff 60.2%,#4e4eff 62.7%,#4e4eff 65.2%,#5151ff 67.7%,#5555ff 70.2%,#5757ff 72.7%,#5656ff 75.2%,#5454ff 77.7%,#5353ff 80.3%,#5353ff 82.8%,#5353ff 85.3%,#5454ff 87.8%,#5555ff 90.3%,#5656ff 92.8%,#5757ff 95.3%,#5959ff 97.8%,#5959ff 100.0%)"></div><div style="height:3px;background:linear-gradient(90deg,#5f5fff 0.0%,#5e5eff 2.5%,#5d5dff 5.0%,#5c5cff 7.5%,#5b5bff 10.0%,#5b5bff 12.5%,#5c5cff 15.0%,#5e5eff 17.6%,#6060ff 20.1%,#6262ff 22.6%,#6363ff 25.1%,#6464ff 27.6%,#5f5fff 30.1%,#5959ff 32.6%,#5454ff 35.1%,#5353ff 37.6%,#5555ff 40.1%,#5858ff 42.6%,#5959ff 45.1%,#5a5aff 47.6%,#5a5aff 50.2%,#5b5bff 52.7%,#5a5aff 55.2%,#5656ff 57.7%,#5050ff 60.2%,#4c4cff 62.7%,#4d4dff 65.2%,#5050ff 67.7%,#5353ff 70.2%,#5555ff 72.7%,#5454ff 75.2%,#5252ff 77.7%,#5151ff 80.3%,#5151ff 82.8%,#5151ff 85.3%,#5252ff 87.8%,#5353ff 90.3%,#5555ff 92.8%,#5656ff 95.3%,#5858ff 97.8%,#5959ff 100.0%)"></div><div style="height:3px;background:linear-gradient(90deg,#5d5dff 0.0%,#5c5cff 2.5%,#5c5cff 5.0%,#5b5bff 7.5%,#5a5aff 10.0%,#5b5bff 12.5%,#5d5dff 15.0%,#5f5fff 17.6%,#6060ff 20.1%,#6262ff 22.6%,#6464ff 25.1%,#6464ff 27.6%,#5f5fff 30.1%,#5959ff 32.6%,#5353ff 35.1%,#5252ff 37.6%,#5555ff 40.1%,#5858ff 42.6%,#5959ff 45.1%,#5a5aff 47.6%,#5a5aff 50.2%,#5a5aff 52.7%,#5959ff 55.2%,#5555ff 57.7%,#4f4fff 60.2%,#4b4bff 62.7%,#4b4bff 65.2%,#4e4eff 67.7%,#5252ff 70.2%,#5353ff 72.7%,#5252ff 75.2%,#5050ff 77.7%,#4f4fff 80.3%,#4f4fff 82.8%,#5050ff 85.3%,#5050ff 87.8%,#5252ff 90.3%,#5353ff 92.8%,#5555ff 95.3%,#5757ff 97.8%,#5959ff 100.0%)"></div><div style="height:3px;background:linear-gradient(90deg,#5b5bff 0.0%,#5b5bff 2.5%,#5a5aff 5.0%,#5a5aff 7.5%,#5a5aff 10.0%,#5b5bff 12.5%,#5d5dff 15.0%,#5f5fff 17.6%,#6161ff 20.1%,#6262ff 22.6%,#6464ff 25.1%,#6464ff 27.6%,#5f5fff 30.1%,#5858ff 32.6%,#5252ff 35.1%,#5252ff 37.6%,#5454ff 40.1%,#5757ff 42.6%,#5959ff 45.1%,#5959ff 47.6%,#5a5aff 50.2%,#5959ff 52.7%,#5959ff 55.2%,#5454ff 57.7%,#4e4eff 60.2%,#4a4aff 62.7%,#4a4aff 65.2%,#4d4dff 67.7%,#5050ff 70.2%,#5252ff 72.7%,#5151ff 75.2%,#4f4fff 77.7%,#4e4eff 80.3%,#4e4eff 82.8%,#4e4eff 85.3%,#4f4fff 87.8%,#5050ff 90.3%,#5252ff 92.8%,#5454ff 95.3%,#5757ff 97.8%,#5858ff 100.0%)"></div><div style="height:3px;background:linear-gradient(90deg,#5a5aff 0.0%,#5959ff 2.5%,#5959ff 5.0%,#5959ff 7.5%,#5959ff 10.0%,#5a5aff 12.5%,#5d5dff 15.0%,#5f5fff 17.6%,#6161ff 20.1%,#6262ff 22.6%,#6464ff 25.1%,#6464ff 27.6%,#5f5fff 30.1%,#5858ff 32.6%,#5252ff 35.1%,#5151ff 37.6%,#5454ff 40.1%,#5757ff 42.6%,#5959ff 45.1%,#5959ff 47.6%,#5959ff 50.2%,#5959ff 52.7%,#5858ff 55.2%,#5454ff 57.7%,#4d4dff 60.2%,#4949ff 62.7%,#4949ff 65.2%,#4c4cff 67.7%,#4f4fff 70.2%,#5151ff 72.7%,#5050ff 75.2%,#4e4eff 77.7%,#4d4dff 80.3%,#4d4dff 82.8%,#4d4dff 85.3%,#4e4eff 87.8%,#5050ff 90.3%,#5151ff 92.8%,#5454ff 95.3%,#5656ff 97.8%,#5858ff 100.0%)"></div><div style="height:3px;background:linear-gradient(90deg,#5858ff 0.0%,#5858ff 2.5%,#5858ff 5.0%,#5858ff 7.5%,#5858ff 10.0%,#5a5aff 12.5%,#5d5dff 15.0%,#5f5fff 17.6%,#6161ff 20.1%,#6262ff 22.6%,#6464ff 25.1%,#6464ff 27.6%,#5f5fff 30.1%,#5757ff 32.6%,#5151ff 35.1%,#5050ff 37.6%,#5353ff 40.1%,#5757ff 42.6%,#5959ff 45.1%,#5959ff 47.6%,#5959ff 50.2%,#5858ff 52.7%,#5858ff 55.2%,#5353ff 57.7%,#4d4dff 60.2%,#4848ff 62.7%,#4949ff 65.2%,#4b4bff 67.7%,#4e4eff 70.2%,#5050ff 72.7%,#4f4fff 75.2%,#4e4eff 77.7%,#4d4dff 80.3%,#4d4dff 82.8%,#4d4dff 85.3%,#4e4eff 87.8%,#4f4fff 90.3%,#5151ff 92.8%,#5353ff 95.3%,#5555ff 97.8%,#5858ff 100.0%)"></div><div style="height:3px;background:linear-gradient(90deg,#5656ff 0.0%,#5757ff 2.5%,#5757ff 5.0%,#5757ff 7.5%,#5757ff 10.0%,#5959ff 12.5%,#5c5cff 15.0%,#5f5fff 17.6%,#6060ff 20.1%,#6262ff 22.6%,#6363ff 25.1%,#6464ff 27.6%,#5f5fff 30.1%,#5757ff 32.6%,#5050ff 35.1%,#5050ff 37.6%,#5353ff 40.1%,#5757ff 42.6%,#5959ff 45.1%,#5959ff 47.6%,#5959ff 50.2%,#5858ff 52.7%,#5757ff 55.2%,#5353ff 57.7%,#4d4dff 60.2%,#4949ff 62.7%,#4949ff 65.2%,#4b4bff 67.7%,#4e4eff 70.2%,#4f4fff 72.7%,#4e4eff 75.2%,#4e4eff 77.7%,#4d4dff 80.3%,#4d4dff 82.8%,#4d4dff 85.3%,#4e4eff 87.8%,#4f4fff 90.3%,#5151ff 92.8%,#5252ff 95.3%,#5555ff 97.8%,#5858ff 100.0%)"></div><div style="height:3px;background:linear-gradient(90deg,#5555ff 0.0%,#5555ff 2.5%,#5656ff 5.0%,#5656ff 7.5%,#5757ff 10.0%,#5959ff 12.5%,#5c5cff 15.0%,#5e5eff 17.6%,#5f5fff 20.1%,#6161ff 22.6%,#6262ff 25.1%,#6262ff 27.6%,#5e5eff 30.1%,#5656ff 32.6%,#4f4fff 35.1%,#4f4fff 37.6%,#5252ff 40.1%,#5757ff 42.6%,#5959ff 45.1%,#5959ff 47.6%,#5858ff 50.2%,#5858ff 52.7%,#5757ff 55.2%,#5353ff 57.7%,#4d4dff 60.2%,#4949ff 62.7%,#4949ff 65.2%,#4b4bff 67.7%,#4d4dff 70.2%,#4e4eff 72.7%,#4e4eff 75.2%,#4e4eff 77.7%,#4d4dff 80.3%,#4d4dff 82.8%,#4d4dff 85.3%,#4e4eff 87.8%,#4f4fff 90.3%,#5151ff 92.8%,#5252ff 95.3%,#5454ff 97.8%,#5757ff 100.0%)"></div><div style="height:3px;background:linear-gradient(90deg,#5353ff 0.0%,#5454ff 2.5%,#5555ff 5.0%,#5555ff 7.5%,#5656ff 10.0%,#5858ff 12.5%,#5a5aff 15.0%,#5c5cff 17.6%,#5e5eff 20.1%,#5f5fff 22.6%,#6060ff 25.1%,#6060ff 27.6%,#5d5dff 30.1%,#5555ff 32.6%,#4f4fff 35.1%,#4e4eff 37.6%,#5252ff 40.1%,#5757ff 42.6%,#5959ff 45.1%,#5959ff 47.6%,#5858ff 50.2%,#5858ff 52.7%,#5757ff 55.2%,#5252ff 57.7%,#4d4dff 60.2%,#4949ff 62.7%,#4949ff 65.2%,#4b4bff 67.7%,#4d4dff 70.2%,#4e4eff 72.7%,#4e4eff 75.2%,#4e4eff 77.7%,#4d4dff 80.3%,#4d4dff 82.8%,#4e4eff 85.3%,#4e4eff 87.8%,#4f4fff 90.3%,#5050ff 92.8%,#5252ff 95.3%,#5454ff 97.8%,#5656ff 100.0%)"></div><div style="height:3px;background:linear-gradient(90deg,#5252ff 0.0%,#5353ff 2.5%,#5454ff 5.0%,#5555ff 7.5%,#5555ff 10.0%,#5757ff 12.5%,#5959ff 15.0%,#5a5aff 17.6%,#5b5bff 20.1%,#5d5dff 22.6%,#5e5eff 25.1%,#5e5eff 27.6%,#5b5bff 30.1%,#5454ff 32.6%,#4e4eff 35.1%,#4e4eff 37.6%,#5252ff 40.1%,#5656ff 42.6%,#5959ff 45.1%,#5959ff 47.6%,#5858ff 50.2%,#5757ff 52.7%,#5656ff 55.2%,#5252ff 57.7%,#4d4dff 60.2%,#4949ff 62.7%,#4949ff 65.2%,#4b4bff 67.7%,#4c4cff 70.2%,#4d4dff 72.7%,#4d4dff 75.2%,#4e4eff 77.7%,#4e4eff 80.3%,#4e4eff 82.8%,#4e4eff 85.3%,#4f4fff 87.8%,#4f4fff 90.3%,#5050ff 92.8%,#5252ff 95.3%,#5353ff 97.8%,#5656ff 100.0%)"></div><div style="height:3px;background:linear-gradient(90deg,#5050ff 0.0%,#5252ff 2.5%,#5353ff 5.0%,#5454ff 7.5%,#5454ff 10.0%,#5555ff 12.5%,#5757ff 15.0%,#5858ff 17.6%,#5959ff 20.1%,#5a5aff 22.6%,#5b5bff 25.1%,#5b5bff 27.6%,#5858ff 30.1%,#5252ff 32.6%,#4e4eff 35.1%,#4e4eff 37.6%,#5151ff 40.1%,#5656ff 42.6%,#5959ff 45.1%,#5959ff 47.6%,#5858ff 50.2%,#5757ff 52.7%,#5656ff 55.2%,#5252ff 57.7%,#4d4dff 60.2%,#4949ff 62.7%,#4949ff 65.2%,#4b4bff 67.7%,#4c4cff 70.2%,#4d4dff 72.7%,#4d4dff 75.2%,#4e4eff 77.7%,#4e4eff 80.3%,#4e4eff 82.8%,#4e4eff 85.3%,#4f4fff 87.8%,#5050ff 90.3%,#5050ff 92.8%,#5151ff 95.3%,#5353ff 97.8%,#5555ff 100.0%)"></div><div style="height:3px;background:linear-gradient(90deg,#4f4fff 0.0%,#5050ff 2.5%,#5252ff 5.0%,#5353ff 7.5%,#5353ff 10.0%,#5454ff 12.5%,#5555ff 15.0%,#5656ff 17.6%,#5757ff 20.1%,#5858ff 22.6%,#5858ff 25.1%,#5959ff 27.6%,#5656ff 30.1%,#5151ff 32.6%,#4d4dff 35.1%,#4d4dff 37.6%,#5151ff 40.1%,#5656ff 42.6%,#5959ff 45.1%,#5858ff 47.6%,#5858ff 50.2%,#5757ff 52.7%,#5656ff 55.2%,#5252ff 57.7%,#4d4dff 60.2%,#4a4aff 62.7%,#4a4aff 65.2%,#4a4aff 67.7%,#4c4cff 70.2%,#4c4cff 72.7%,#4d4dff 75.2%,#4e4eff 77.7%,#4e4eff 80.3%,#4f4fff 82.8%,#4f4fff 85.3%,#4f4fff 87.8%,#5050ff 90.3%,#5050ff 92.8%,#5151ff 95.3%,#5252ff 97.8%,#5353ff 100.0%)"></div><div style="height:3px;background:linear-gradient(90deg,#4d4dff 0.0%,#4f4fff 2.5%,#5151ff 5.0%,#5252ff 7.5%,#5252ff 10.0%,#5353ff 12.5%,#5353ff 15.0%,#5454ff 17.6%,#5454ff 20.1%,#5555ff 22.6%,#5656ff 25.1%,#5656ff 27.6%,#5454ff 30.1%,#5050ff 32.6%,#4c4cff 35.1%,#4c4cff 37.6%,#5151ff 40.1%,#5656ff 42.6%,#5959ff 45.1%,#5858ff 47.6%,#5858ff 50.2%,#5757ff 52.7%,#5555ff 55.2%,#5252ff 57.7%,#4d4dff 60.2%,#4a4aff 62.7%,#4a4aff 65.2%,#4a4aff 67.7%,#4b4bff 70.2%,#4c4cff 72.7%,#4c4cff 75.2%,#4d4dff 77.7%,#4f4fff 80.3%,#4f4fff 82.8%,#4f4fff 85.3%,#4f4fff 87.8%,#5050ff 90.3%,#5050ff 92.8%,#5151ff 95.3%,#5252ff 97.8%,#5252ff 100.0%)"></div><div style="height:3px;background:linear-gradient(90deg,#4c4cff 0.0%,#4e4eff 2.5%,#5050ff 5.0%,#5151ff 7.5%,#5151ff 10.0%,#5151ff 12.5%,#5252ff 15.0%,#5252ff 17.6%,#5252ff 20.1%,#5353ff 22.6%,#5353ff 25.1%,#5353ff 27.6%,#5151ff 30.1%,#4e4eff 32.6%,#4c4cff 35.1%,#4c4cff 37.6%,#5050ff 40.1%,#5555ff 42.6%,#5858ff 45.1%,#5858ff 47.6%,#5757ff 50.2%,#5656ff 52.7%,#5555ff 55.2%,#5252ff 57.7%,#4d4dff 60.2%,#4a4aff 62.7%,#4a4aff 65.2%,#4a4aff 67.7%,#4b4bff 70.2%,#4b4bff 72.7%,#4c4cff 75.2%,#4d4dff 77.7%,#4f4fff 80.3%,#4f4fff 82.8%,#5050ff 85.3%,#5050ff 87.8%,#5050ff 90.3%,#5050ff 92.8%,#5050ff 95.3%,#5151ff 97.8%,#5151ff 100.0%)"></div><div style="height:3px;background:linear-gradient(90deg,#4b4bff 0.0%,#4d4dff 2.5%,#4f4fff 5.0%,#5050ff 7.5%,#5050ff 10.0%,#5050ff 12.5%,#5050ff 15.0%,#5050ff 17.6%,#5050ff 20.1%,#5151ff 22.6%,#5151ff 25.1%,#5151ff 27.6%,#4f4fff 30.1%,#4d4dff 32.6%,#4b4bff 35.1%,#4b4bff 37.6%,#5050ff 40.1%,#5555ff 42.6%,#5858ff 45.1%,#5858ff 47.6%,#5757ff 50.2%,#5656ff 52.7%,#5555ff 55.2%,#5151ff 57.7%,#4d4dff 60.2%,#4a4aff 62.7%,#4a4aff 65.2%,#4a4aff 67.7%,#4a4aff 70.2%,#4a4aff 72.7%,#4b4bff 75.2%,#4d4dff 77.7%,#4f4fff 80.3%,#5050ff 82.8%,#5050ff 85.3%,#5050ff 87.8%,#5050ff 90.3%,#5050ff 92.8%,#5050ff 95.3%,#5050ff 97.8%,#5050ff 100.0%)"></div><div style="height:3px;background:linear-gradient(90deg,#4949ff 0.0%,#4c4cff 2.5%,#4e4eff 5.0%,#4f4fff 7.5%,#4f4fff 10.0%,#4f4fff 12.5%,#4f4fff 15.0%,#4f4fff 17.6%,#4f4fff 20.1%,#4f4fff 22.6%,#4f4fff 25.1%,#4f4fff 27.6%,#4e4eff 30.1%,#4b4bff 32.6%,#4a4aff 35.1%,#4a4aff 37.6%,#4f4fff 40.1%,#5454ff 42.6%,#5858ff 45.1%,#5757ff 47.6%,#5757ff 50.2%,#5555ff 52.7%,#5454ff 55.2%,#5151ff 57.7%,#4d4dff 60.2%,#4a4aff 62.7%,#4a4aff 65.2%,#4a4aff 67.7%,#4a4aff 70.2%,#4a4aff 72.7%,#4b4bff 75.2%,#4d4dff 77.7%,#4f4fff 80.3%,#5050ff 82.8%,#5050ff 85.3%,#5050ff 87.8%,#5050ff 90.3%,#5050ff 92.8%,#4f4fff 95.3%,#4f4fff 97.8%,#4f4fff 100.0%)"></div><div style="height:3px;background:linear-gradient(90deg,#4848ff 0.0%,#4a4aff 2.5%,#4c4cff 5.0%,#4e4eff 7.5%,#4e4eff 10.0%,#4e4eff 12.5%,#4e4eff 15.0%,#4e4eff 17.6%,#4e4eff 20.1%,#4e4eff 22.6%,#4d4dff 25.1%,#4d4dff 27.6%,#4c4cff 30.1%,#4a4aff 32.6%,#4848ff 35.1%,#4949ff 37.6%,#4d4dff 40.1%,#5353ff 42.6%,#5656ff 45.1%,#5656ff 47.6%,#5555ff 50.2%,#5454ff 52.7%,#5353ff 55.2%,#5050ff 57.7%,#4d4dff 60.2%,#4a4aff 62.7%,#4a4aff 65.2%,#4949ff 67.7%,#4949ff 70.2%,#4949ff 72.7%,#4a4aff 75.2%,#4d4dff 77.7%,#4f4fff 80.3%,#4f4fff 82.8%,#4f4fff 85.3%,#4f4fff 87.8%,#4f4fff 90.3%,#4f4fff 92.8%,#4e4eff 95.3%,#4e4eff 97.8%,#4e4eff 100.0%)"></div><div style="height:3px;background:linear-gradient(90deg,#4747ff 0.0%,#4949ff 2.5%,#4b4bff 5.0%,#4c4cff 7.5%,#4c4cff 10.0%,#4d4dff 12.5%,#4d4dff 15.0%,#4d4dff 17.6%,#4d4dff 20.1%,#4c4cff 22.6%,#4c4cff 25.1%,#4b4bff 27.6%,#4a4aff 30.1%,#4848ff 32.6%,#4747ff 35.1%,#4747ff 37.6%,#4b4bff 40.1%,#5050ff 42.6%,#5353ff 45.1%,#5353ff 47.6%,#5353ff 50.2%,#5252ff 52.7%,#5151ff 55.2%,#4f4fff 57.7%,#4c4cff 60.2%,#4a4aff 62.7%,#4949ff 65.2%,#4949ff 67.7%,#4848ff 70.2%,#4848ff 72.7%,#4949ff 75.2%,#4c4cff 77.7%,#4d4dff 80.3%,#4e4eff 82.8%,#4e4eff 85.3%,#4e4eff 87.8%,#4e4eff 90.3%,#4e4eff 92.8%,#4d4dff 95.3%,#4d4dff 97.8%,#4d4dff 100.0%)"></div><div style="height:3px;background:linear-gradient(90deg,#4545ff 0.0%,#4747ff 2.5%,#4949ff 5.0%,#4a4aff 7.5%,#4b4bff 10.0%,#4b4bff 12.5%,#4c4cff 15.0%,#4d4dff 17.6%,#4c4cff 20.1%,#4b4bff 22.6%,#4a4aff 25.1%,#4949ff 27.6%,#4848ff 30.1%,#4646ff 32.6%,#4545ff 35.1%,#4646ff 37.6%,#4949ff 40.1%,#4d4dff 42.6%,#4f4fff 45.1%,#4f4fff 47.6%,#4f4fff 50.2%,#4f4fff 52.7%,#4f4fff 55.2%,#4d4dff 57.7%,#4b4bff 60.2%,#4949ff 62.7%,#4949ff 65.2%,#4848ff 67.7%,#4747ff 70.2%,#4747ff 72.7%,#4848ff 75.2%,#4a4aff 77.7%,#4c4cff 80.3%,#4c4cff 82.8%,#4c4cff 85.3%,#4c4cff 87.8%,#4c4cff 90.3%,#4c4cff 92.8%,#4c4cff 95.3%,#4c4cff 97.8%,#4c4cff 100.0%)"></div><div style="height:3px;background:linear-gradient(90deg,#4444ff 0.0%,#4646ff 2.5%,#4747ff 5.0%,#4949ff 7.5%,#4949ff 10.0%,#4a4aff 12.5%,#4b4bff 15.0%,#4c4cff 17.6%,#4b4bff 20.1%,#4a4aff 22.6%,#4949ff 25.1%,#4747ff 27.6%,#4646ff 30.1%,#4545ff 32.6%,#4343ff 35.1%,#4444ff 37.6%,#4646ff 40.1%,#4949ff 42.6%,#4b4bff 45.1%,#4b4bff 47.6%,#4c4cff 50.2%,#4c4cff 52.7%,#4c4cff 55.2%,#4b4bff 57.7%,#4a4aff 60.2%,#4848ff 62.7%,#4848ff 65.2%,#4747ff 67.7%,#4646ff 70.2%,#4646ff 72.7%,#4646ff 75.2%,#4949ff 77.7%,#4a4aff 80.3%,#4a4aff 82.8%,#4a4aff 85.3%,#4a4aff 87.8%,#4a4aff 90.3%,#4a4aff 92.8%,#4a4aff 95.3%,#4b4bff 97.8%,#4b4bff 100.0%)"></div><div style="height:3px;background:linear-gradient(90deg,#4242ff 0.0%,#4444ff 2.5%,#4646ff 5.0%,#4747ff 7.5%,#4848ff 10.0%,#4949ff 12.5%,#4a4aff 15.0%,#4b4bff 17.6%,#4b4bff 20.1%,#4949ff 22.6%,#4747ff 25.1%,#4646ff 27.6%,#4444ff 30.1%,#4343ff 32.6%,#4242ff 35.1%,#4242ff 37.6%,#4343ff 40.1%,#4545ff 42.6%,#4747ff 45.1%,#4747ff 47.6%,#4848ff 50.2%,#4949ff 52.7%,#4949ff 55.2%,#4949ff 57.7%,#4949ff 60.2%,#4848ff 62.7%,#4747ff 65.2%,#4646ff 67.7%,#4545ff 70.2%,#4444ff 72.7%,#4545ff 75.2%,#4747ff 77.7%,#4848ff 80.3%,#4848ff 82.8%,#4848ff 85.3%,#4848ff 87.8%,#4848ff 90.3%,#4848ff 92.8%,#4848ff 95.3%,#4949ff 97.8%,#4a4aff 100.0%)"></div><div style="height:3px;background:linear-gradient(90deg,#4141ff 0.0%,#4343ff 2.5%,#4444ff 5.0%,#4646ff 7.5%,#4747ff 10.0%,#4848ff 12.5%,#4949ff 15.0%,#4a4aff 17.6%,#4a4aff 20.1%,#4848ff 22.6%,#4646ff 25.1%,#4444ff 27.6%,#4343ff 30.1%,#4141ff 32.6%,#4040ff 35.1%,#4040ff 37.6%,#4141ff 40.1%,#4242ff 42.6%,#4343ff 45.1%,#4343ff 47.6%,#4545ff 50.2%,#4646ff 52.7%,#4747ff 55.2%,#4747ff 57.7%,#4747ff 60.2%,#4747ff 62.7%,#4747ff 65.2%,#4545ff 67.7%,#4444ff 70.2%,#4343ff 72.7%,#4444ff 75.2%,#4545ff 77.7%,#4646ff 80.3%,#4646ff 82.8%,#4646ff 85.3%,#4646ff 87.8%,#4646ff 90.3%,#4646ff 92.8%,#4747ff 95.3%,#4848ff 97.8%,#4848ff 100.0%)"></div><div style="height:3px;background:linear-gradient(90deg,#4141ff 0.0%,#4242ff 2.5%,#4343ff 5.0%,#4545ff 7.5%,#4646ff 10.0%,#4747ff 12.5%,#4949ff 15.0%,#4a4aff 17.6%,#4949ff 20.1%,#4747ff 22.6%,#4444ff 25.1%,#4343ff 27.6%,#4141ff 30.1%,#3f3fff 32.6%,#3e3eff 35.1%,#3e3eff 37.6%,#3e3eff 40.1%,#3f3fff 42.6%,#3f3fff 45.1%,#4040ff 47.6%,#4141ff 50.2%,#4343ff 52.7%,#4444ff 55.2%,#4545ff 57.7%,#4646ff 60.2%,#4646ff 62.7%,#4646ff 65.2%,#4444ff 67.7%,#4343ff 70.2%,#4242ff 72.7%,#4242ff 75.2%,#4343ff 77.7%,#4444ff 80.3%,#4444ff 82.8%,#4444ff 85.3%,#4444ff 87.8%,#4444ff 90.3%,#4444ff 92.8%,#4545ff 95.3%,#4646ff 97.8%,#4747ff 100.0%)"></div><div style="height:3px;background:linear-gradient(90deg,#4040ff 0.0%,#4141ff 2.5%,#4343ff 5.0%,#4444ff 7.5%,#4545ff 10.0%,#4646ff 12.5%,#4848ff 15.0%,#4949ff 17.6%,#4848ff 20.1%,#4646ff 22.6%,#4343ff 25.1%,#4141ff 27.6%,#3f3fff 30.1%,#3e3eff 32.6%,#3d3dff 35.1%,#3d3dff 37.6%,#3d3dff 40.1%,#3d3dff 42.6%,#3d3dff 45.1%,#3d3dff 47.6%,#3f3fff 50.2%,#4141ff 52.7%,#4242ff 55.2%,#4343ff 57.7%,#4444ff 60.2%,#4545ff 62.7%,#4545ff 65.2%,#4343ff 67.7%,#4242ff 70.2%,#4141ff 72.7%,#4141ff 75.2%,#4141ff 77.7%,#4242ff 80.3%,#4242ff 82.8%,#4242ff 85.3%,#4242ff 87.8%,#4242ff 90.3%,#4242ff 92.8%,#4343ff 95.3%,#4444ff 97.8%,#4646ff 100.0%)"></div><div style="height:3px;background:linear-gradient(90deg,#4040ff 0.0%,#4141ff 2.5%,#4242ff 5.0%,#4343ff 7.5%,#4545ff 10.0%,#4646ff 12.5%,#4747ff 15.0%,#4848ff 17.6%,#4747ff 20.1%,#4545ff 22.6%,#4242ff 25.1%,#4040ff 27.6%,#3e3eff 30.1%,#3d3dff 32.6%,#3c3cff 35.1%,#3c3cff 37.6%,#3c3cff 40.1%,#3c3cff 42.6%,#3c3cff 45.1%,#3c3cff 47.6%,#3d3dff 50.2%,#3f3fff 52.7%,#4040ff 55.2%,#4242ff 57.7%,#4343ff 60.2%,#4444ff 62.7%,#4444ff 65.2%,#4242ff 67.7%,#4141ff 70.2%,#4040ff 72.7%,#4040ff 75.2%,#4040ff 77.7%,#4040ff 80.3%,#4040ff 82.8%,#4040ff 85.3%,#4040ff 87.8%,#4040ff 90.3%,#4040ff 92.8%,#4141ff 95.3%,#4343ff 97.8%,#4444ff 100.0%)"></div><div style="height:3px;background:linear-gradient(90deg,#4040ff 0.0%,#4141ff 2.5%,#4242ff 5.0%,#4444ff 7.5%,#4545ff 10.0%,#4646ff 12.5%,#4747ff 15.0%,#4747ff 17.6%,#4646ff 20.1%,#4444ff 22.6%,#4040ff 25.1%,#3e3eff 27.6%,#3d3dff 30.1%,#3c3cff 32.6%,#3b3bff 35.1%,#3b3bff 37.6%,#3c3cff 40.1%,#3c3cff 42.6%,#3c3cff 45.1%,#3c3cff 47.6%,#3d3dff 50.2%,#3e3eff 52.7%,#3f3fff 55.2%,#4040ff 57.7%,#4242ff 60.2%,#4343ff 62.7%,#4343ff 65.2%,#4141ff 67.7%,#4040ff 70.2%,#3f3fff 72.7%,#3f3fff 75.2%,#3e3eff 77.7%,#3e3eff 80.3%,#3e3eff 82.8%,#3e3eff 85.3%,#3e3eff 87.8%,#3e3eff 90.3%,#3e3eff 92.8%,#3f3fff 95.3%,#4141ff 97.8%,#4343ff 100.0%)"></div><div style="height:3px;background:linear-gradient(90deg,#4040ff 0.0%,#4242ff 2.5%,#4343ff 5.0%,#4444ff 7.5%,#4545ff 10.0%,#4646ff 12.5%,#4646ff 15.0%,#4646ff 17.6%,#4545ff 20.1%,#4242ff 22.6%,#3f3fff 25.1%,#3d3dff 27.6%,#3c3cff 30.1%,#3b3bff 32.6%,#3b3bff 35.1%,#3b3bff 37.6%,#3b3bff 40.1%,#3c3cff 42.6%,#3c3cff 45.1%,#3c3cff 47.6%,#3c3cff 50.2%,#3c3cff 52.7%,#3d3dff 55.2%,#3f3fff 57.7%,#4141ff 60.2%,#4242ff 62.7%,#4242ff 65.2%,#4040ff 67.7%,#3f3fff 70.2%,#3e3eff 72.7%,#3d3dff 75.2%,#3d3dff 77.7%,#3c3cff 80.3%,#3c3cff 82.8%,#3c3cff 85.3%,#3c3cff 87.8%,#3c3cff 90.3%,#3d3dff 92.8%,#3e3eff 95.3%,#3f3fff 97.8%,#4141ff 100.0%)"></div><div style="height:3px;background:linear-gradient(90deg,#4141ff 0.0%,#4242ff 2.5%,#4444ff 5.0%,#4545ff 7.5%,#4545ff 10.0%,#4646ff 12.5%,#4646ff 15.0%,#4646ff 17.6%,#4444ff 20.1%,#4141ff 22.6%,#3d3dff 25.1%,#3b3bff 27.6%,#3a3aff 30.1%,#3a3aff 32.6%,#3a3aff 35.1%,#3b3bff 37.6%,#3b3bff 40.1%,#3c3cff 42.6%,#3c3cff 45.1%,#3c3cff 47.6%,#3b3bff 50.2%,#3c3cff 52.7%,#3c3cff 55.2%,#3e3eff 57.7%,#4040ff 60.2%,#4141ff 62.7%,#4141ff 65.2%,#3f3fff 67.7%,#3e3eff 70.2%,#3c3cff 72.7%,#3c3cff 75.2%,#3b3bff 77.7%,#3b3bff 80.3%,#3a3aff 82.8%,#3a3aff 85.3%,#3b3bff 87.8%,#3b3bff 90.3%,#3b3bff 92.8%,#3c3cff 95.3%,#3d3dff 97.8%,#3f3fff 100.0%)"></div><div style="height:3px;background:linear-gradient(90deg,#4141ff 0.0%,#4343ff 2.5%,#4444ff 5.0%,#4545ff 7.5%,#4646ff 10.0%,#4646ff 12.5%,#4646ff 15.0%,#4545ff 17.6%,#4343ff 20.1%,#3f3fff 22.6%,#3c3cff 25.1%,#3a3aff 27.6%,#3939ff 30.1%,#3939ff 32.6%,#3a3aff 35.1%,#3a3aff 37.6%,#3b3bff 40.1%,#3c3cff 42.6%,#3c3cff 45.1%,#3c3cff 47.6%,#3b3bff 50.2%,#3b3bff 52.7%,#3b3bff 55.2%,#3d3dff 57.7%,#3e3eff 60.2%,#4040ff 62.7%,#4040ff 65.2%,#3e3eff 67.7%,#3c3cff 70.2%,#3b3bff 72.7%,#3b3bff 75.2%,#3a3aff 77.7%,#3939ff 80.3%,#3939ff 82.8%,#3939ff 85.3%,#3939ff 87.8%,#3939ff 90.3%,#3939ff 92.8%,#3a3aff 95.3%,#3b3bff 97.8%,#3c3cff 100.0%)"></div><div style="height:3px;background:linear-gradient(90deg,#4242ff 0.0%,#4444ff 2.5%,#4545ff 5.0%,#4646ff 7.5%,#4646ff 10.0%,#4646ff 12.5%,#4545ff 15.0%,#4444ff 17.6%,#4242ff 20.1%,#3e3eff 22.6%,#3a3aff 25.1%,#3838ff 27.6%,#3838ff 30.1%,#3939ff 32.6%,#3a3aff 35.1%,#3a3aff 37.6%,#3b3bff 40.1%,#3c3cff 42.6%,#3c3cff 45.1%,#3c3cff 47.6%,#3b3bff 50.2%,#3a3aff 52.7%,#3a3aff 55.2%,#3b3bff 57.7%,#3d3dff 60.2%,#3f3fff 62.7%,#3e3eff 65.2%,#3d3dff 67.7%,#3b3bff 70.2%,#3a3aff 72.7%,#3939ff 75.2%,#3838ff 77.7%,#3737ff 80.3%,#3737ff 82.8%,#3737ff 85.3%,#3737ff 87.8%,#3737ff 90.3%,#3737ff 92.8%,#3838ff 95.3%,#3939ff 97.8%,#3a3aff 100.0%)"></div><div style="height:3px;background:linear-gradient(90deg,#4343ff 0.0%,#4545ff 2.5%,#4646ff 5.0%,#4747ff 7.5%,#4747ff 10.0%,#4646ff 12.5%,#4545ff 15.0%,#4343ff 17.6%,#4141ff 20.1%,#3c3cff 22.6%,#3939ff 25.1%,#3737ff 27.6%,#3737ff 30.1%,#3838ff 32.6%,#3939ff 35.1%,#3a3aff 37.6%,#3b3bff 40.1%,#3c3cff 42.6%,#3c3cff 45.1%,#3b3bff 47.6%,#3a3aff 50.2%,#3939ff 52.7%,#3939ff 55.2%,#3a3aff 57.7%,#3c3cff 60.2%,#3d3dff 62.7%,#3d3dff 65.2%,#3c3cff 67.7%,#3a3aff 70.2%,#3939ff 72.7%,#3838ff 75.2%,#3636ff 77.7%,#3535ff 80.3%,#3535ff 82.8%,#3535ff 85.3%,#3535ff 87.8%,#3535ff 90.3%,#3636ff 92.8%,#3636ff 95.3%,#3737ff 97.8%,#3838ff 100.0%)"></div><div style="height:3px;background:linear-gradient(90deg,#4444ff 0.0%,#4646ff 2.5%,#4747ff 5.0%,#4747ff 7.5%,#4747ff 10.0%,#4646ff 12.5%,#4545ff 15.0%,#4343ff 17.6%,#4040ff 20.1%,#3b3bff 22.6%,#3737ff 25.1%,#3636ff 27.6%,#3636ff 30.1%,#3838ff 32.6%,#3939ff 35.1%,#3a3aff 37.6%,#3b3bff 40.1%,#3c3cff 42.6%,#3c3cff 45.1%,#3b3bff 47.6%,#3a3aff 50.2%,#3838ff 52.7%,#3838ff 55.2%,#3939ff 57.7%,#3b3bff 60.2%,#3c3cff 62.7%,#3c3cff 65.2%,#3b3bff 67.7%,#3939ff 70.2%,#3838ff 72.7%,#3737ff 75.2%,#3535ff 77.7%,#3434ff 80.3%,#3333ff 82.8%,#3333ff 85.3%,#3434ff 87.8%,#3434ff 90.3%,#3434ff 92.8%,#3434ff 95.3%,#3535ff 97.8%,#3535ff 100.0%)"></div><div style="height:3px;background:linear-gradient(90deg,#4545ff 0.0%,#4646ff 2.5%,#4747ff 5.0%,#4848ff 7.5%,#4848ff 10.0%,#4646ff 12.5%,#4444ff 15.0%,#4242ff 17.6%,#3f3fff 20.1%,#3a3aff 22.6%,#3737ff 25.1%,#3535ff 27.6%,#3636ff 30.1%,#3737ff 32.6%,#3838ff 35.1%,#3939ff 37.6%,#3a3aff 40.1%,#3b3bff 42.6%,#3c3cff 45.1%,#3b3bff 47.6%,#3939ff 50.2%,#3737ff 52.7%,#3737ff 55.2%,#3838ff 57.7%,#3939ff 60.2%,#3a3aff 62.7%,#3a3aff 65.2%,#3939ff 67.7%,#3838ff 70.2%,#3737ff 72.7%,#3535ff 75.2%,#3434ff 77.7%,#3232ff 80.3%,#3232ff 82.8%,#3232ff 85.3%,#3232ff 87.8%,#3232ff 90.3%,#3232ff 92.8%,#3232ff 95.3%,#3333ff 97.8%,#3333ff 100.0%)"></div><div style="height:3px;background:linear-gradient(90deg,#4646ff 0.0%,#4747ff 2.5%,#4848ff 5.0%,#4848ff 7.5%,#4848ff 10.0%,#4646ff 12.5%,#4444ff 15.0%,#4141ff 17.6%,#3e3eff 20.1%,#3a3aff 22.6%,#3636ff 25.1%,#3535ff 27.6%,#3535ff 30.1%,#3737ff 32.6%,#3838ff 35.1%,#3939ff 37.6%,#3a3aff 40.1%,#3b3bff 42.6%,#3c3cff 45.1%,#3b3bff 47.6%,#3939ff 50.2%,#3636ff 52.7%,#3636ff 55.2%,#3737ff 57.7%,#3838ff 60.2%,#3939ff 62.7%,#3939ff 65.2%,#3838ff 67.7%,#3737ff 70.2%,#3636ff 72.7%,#3434ff 75.2%,#3232ff 77.7%,#3131ff 80.3%,#3030ff 82.8%,#3030ff 85.3%,#3131ff 87.8%,#3131ff 90.3%,#3131ff 92.8%,#3131ff 95.3%,#3131ff 97.8%,#3131ff 100.0%)"></div><div style="height:3px;background:linear-gradient(90deg,#4646ff 0.0%,#4747ff 2.5%,#4848ff 5.0%,#4848ff 7.5%,#4848ff 10.0%,#4646ff 12.5%,#4343ff 15.0%,#4040ff 17.6%,#3d3dff 20.1%,#3939ff 22.6%,#3636ff 25.1%,#3535ff 27.6%,#3535ff 30.1%,#3636ff 32.6%,#3737ff 35.1%,#3838ff 37.6%,#3a3aff 40.1%,#3b3bff 42.6%,#3c3cff 45.1%,#3b3bff 47.6%,#3838ff 50.2%,#3535ff 52.7%,#3434ff 55.2%,#3535ff 57.7%,#3636ff 60.2%,#3737ff 62.7%,#3737ff 65.2%,#3737ff 67.7%,#3636ff 70.2%,#3434ff 72.7%,#3333ff 75.2%,#3131ff 77.7%,#3030ff 80.3%,#2f2fff 82.8%,#2f2fff 85.3%,#2f2fff 87.8%,#2f2fff 90.3%,#2f2fff 92.8%,#2f2fff 95.3%,#2f2fff 97.8%,#2f2fff 100.0%)"></div><div style="height:3px;background:linear-gradient(90deg,#4747ff 0.0%,#4848ff 2.5%,#4848ff 5.0%,#4848ff 7.5%,#4747ff 10.0%,#4646ff 12.5%,#4242ff 15.0%,#3f3fff 17.6%,#3c3cff 20.1%,#3939ff 22.6%,#3636ff 25.1%,#3535ff 27.6%,#3535ff 30.1%,#3636ff 32.6%,#3737ff 35.1%,#3838ff 37.6%,#3939ff 40.1%,#3a3aff 42.6%,#3b3bff 45.1%,#3939ff 47.6%,#3636ff 50.2%,#3434ff 52.7%,#3333ff 55.2%,#3434ff 57.7%,#3535ff 60.2%,#3636ff 62.7%,#3636ff 65.2%,#3535ff 67.7%,#3434ff 70.2%,#3333ff 72.7%,#3232ff 75.2%,#3030ff 77.7%,#2f2fff 80.3%,#2e2eff 82.8%,#2e2eff 85.3%,#2e2eff 87.8%,#2e2eff 90.3%,#2e2eff 92.8%,#2e2eff 95.3%,#2e2eff 97.8%,#2d2dff 100.0%)"></div><div style="height:3px;background:linear-gradient(90deg,#4848ff 0.0%,#4848ff 2.5%,#4848ff 5.0%,#4747ff 7.5%,#4646ff 10.0%,#4545ff 12.5%,#4141ff 15.0%,#3e3eff 17.6%,#3c3cff 20.1%,#3939ff 22.6%,#3636ff 25.1%,#3535ff 27.6%,#3636ff 30.1%,#3636ff 32.6%,#3636ff 35.1%,#3636ff 37.6%,#3737ff 40.1%,#3838ff 42.6%,#3939ff 45.1%,#3737ff 47.6%,#3535ff 50.2%,#3232ff 52.7%,#3131ff 55.2%,#3232ff 57.7%,#3333ff 60.2%,#3434ff 62.7%,#3434ff 65.2%,#3333ff 67.7%,#3333ff 70.2%,#3232ff 72.7%,#3030ff 75.2%,#2f2fff 77.7%,#2e2eff 80.3%,#2e2eff 82.8%,#2e2eff 85.3%,#2d2dff 87.8%,#2d2dff 90.3%,#2d2dff 92.8%,#2c2cff 95.3%,#2c2cff 97.8%,#2c2cff 100.0%)"></div><div style="height:3px;background:linear-gradient(90deg,#4949ff 0.0%,#4848ff 2.5%,#4747ff 5.0%,#4646ff 7.5%,#4545ff 10.0%,#4343ff 12.5%,#4040ff 15.0%,#3d3dff 17.6%,#3b3bff 20.1%,#3939ff 22.6%,#3636ff 25.1%,#3636ff 27.6%,#3636ff 30.1%,#3535ff 32.6%,#3535ff 35.1%,#3535ff 37.6%,#3535ff 40.1%,#3636ff 42.6%,#3636ff 45.1%,#3535ff 47.6%,#3333ff 50.2%,#3030ff 52.7%,#3030ff 55.2%,#3030ff 57.7%,#3131ff 60.2%,#3232ff 62.7%,#3232ff 65.2%,#3232ff 67.7%,#3131ff 70.2%,#3030ff 72.7%,#2f2fff 75.2%,#2e2eff 77.7%,#2d2dff 80.3%,#2d2dff 82.8%,#2d2dff 85.3%,#2c2cff 87.8%,#2c2cff 90.3%,#2c2cff 92.8%,#2b2bff 95.3%,#2b2bff 97.8%,#2a2aff 100.0%)"></div><div style="height:3px;background:linear-gradient(90deg,#4a4aff 0.0%,#4949ff 2.5%,#4747ff 5.0%,#4545ff 7.5%,#4444ff 10.0%,#4242ff 12.5%,#3e3eff 15.0%,#3c3cff 17.6%,#3a3aff 20.1%,#3939ff 22.6%,#3737ff 25.1%,#3636ff 27.6%,#3636ff 30.1%,#3535ff 32.6%,#3434ff 35.1%,#3333ff 37.6%,#3333ff 40.1%,#3333ff 42.6%,#3333ff 45.1%,#3232ff 47.6%,#3030ff 50.2%,#2f2fff 52.7%,#2e2eff 55.2%,#2f2fff 57.7%,#2f2fff 60.2%,#3030ff 62.7%,#3030ff 65.2%,#3030ff 67.7%,#2f2fff 70.2%,#2f2fff 72.7%,#2e2eff 75.2%,#2d2dff 77.7%,#2c2cff 80.3%,#2c2cff 82.8%,#2c2cff 85.3%,#2c2cff 87.8%,#2b2bff 90.3%,#2b2bff 92.8%,#2a2aff 95.3%,#2929ff 97.8%,#2929ff 100.0%)"></div><div style="height:3px;background:linear-gradient(90deg,#4b4bff 0.0%,#4949ff 2.5%,#4747ff 5.0%,#4444ff 7.5%,#4242ff 10.0%,#4040ff 12.5%,#3d3dff 15.0%,#3b3bff 17.6%,#3939ff 20.1%,#3838ff 22.6%,#3737ff 25.1%,#3737ff 27.6%,#3636ff 30.1%,#3535ff 32.6%,#3333ff 35.1%,#3232ff 37.6%,#3131ff 40.1%,#3030ff 42.6%,#3030ff 45.1%,#2f2fff 47.6%,#2e2eff 50.2%,#2d2dff 52.7%,#2d2dff 55.2%,#2d2dff 57.7%,#2e2eff 60.2%,#2e2eff 62.7%,#2e2eff 65.2%,#2e2eff 67.7%,#2e2eff 70.2%,#2e2eff 72.7%,#2d2dff 75.2%,#2c2cff 77.7%,#2c2cff 80.3%,#2c2cff 82.8%,#2b2bff 85.3%,#2b2bff 87.8%,#2a2aff 90.3%,#2a2aff 92.8%,#2929ff 95.3%,#2828ff 97.8%,#2727ff 100.0%)"></div><div style="height:3px;background:linear-gradient(90deg,#4c4cff 0.0%,#4949ff 2.5%,#4646ff 5.0%,#4343ff 7.5%,#4141ff 10.0%,#3e3eff 12.5%,#3b3bff 15.0%,#3a3aff 17.6%,#3939ff 20.1%,#3838ff 22.6%,#3737ff 25.1%,#3737ff 27.6%,#3636ff 30.1%,#3535ff 32.6%,#3232ff 35.1%,#3131ff 37.6%,#2f2fff 40.1%,#2e2eff 42.6%,#2d2dff 45.1%,#2d2dff 47.6%,#2c2cff 50.2%,#2b2bff 52.7%,#2b2bff 55.2%,#2c2cff 57.7%,#2c2cff 60.2%,#2c2cff 62.7%,#2c2cff 65.2%,#2c2cff 67.7%,#2c2cff 70.2%,#2c2cff 72.7%,#2c2cff 75.2%,#2b2bff 77.7%,#2b2bff 80.3%,#2b2bff 82.8%,#2b2bff 85.3%,#2a2aff 87.8%,#2929ff 90.3%,#2828ff 92.8%,#2828ff 95.3%,#2727ff 97.8%,#2626ff 100.0%)"></div><div style="height:3px;background:linear-gradient(90deg,#4d4dff 0.0%,#4949ff 2.5%,#4646ff 5.0%,#4343ff 7.5%,#4040ff 10.0%,#3d3dff 12.5%,#3a3aff 15.0%,#3939ff 17.6%,#3838ff 20.1%,#3838ff 22.6%,#3737ff 25.1%,#3737ff 27.6%,#3737ff 30.1%,#3434ff 32.6%,#3232ff 35.1%,#3030ff 37.6%,#2d2dff 40.1%,#2c2cff 42.6%,#2b2bff 45.1%,#2a2aff 47.6%,#2a2aff 50.2%,#2a2aff 52.7%,#2a2aff 55.2%,#2a2aff 57.7%,#2b2bff 60.2%,#2b2bff 62.7%,#2b2bff 65.2%,#2b2bff 67.7%,#2b2bff 70.2%,#2b2bff 72.7%,#2b2bff 75.2%,#2a2aff 77.7%,#2a2aff 80.3%,#2a2aff 82.8%,#2a2aff 85.3%,#2929ff 87.8%,#2828ff 90.3%,#2727ff 92.8%,#2626ff 95.3%,#2525ff 97.8%,#2424ff 100.0%)"></div><div style="height:3px;background:linear-gradient(90deg,#4e4eff 0.0%,#4a4aff 2.5%,#4646ff 5.0%,#4242ff 7.5%,#3f3fff 10.0%,#3c3cff 12.5%,#3a3aff 15.0%,#3838ff 17.6%,#3838ff 20.1%,#3838ff 22.6%,#3838ff 25.1%,#3838ff 27.6%,#3737ff 30.1%,#3434ff 32.6%,#3131ff 35.1%,#2f2fff 37.6%,#2c2cff 40.1%,#2a2aff 42.6%,#2929ff 45.1%,#2929ff 47.6%,#2929ff 50.2%,#2929ff 52.7%,#2929ff 55.2%,#2929ff 57.7%,#2929ff 60.2%,#2929ff 62.7%,#2929ff 65.2%,#2929ff 67.7%,#2929ff 70.2%,#2929ff 72.7%,#2929ff 75.2%,#2929ff 77.7%,#2929ff 80.3%,#2929ff 82.8%,#2929ff 85.3%,#2828ff 87.8%,#2727ff 90.3%,#2626ff 92.8%,#2525ff 95.3%,#2323ff 97.8%,#2222ff 100.0%)"></div><div style="height:3px;background:linear-gradient(90deg,#5050ff 0.0%,#4a4aff 2.5%,#4646ff 5.0%,#4242ff 7.5%,#3f3fff 10.0%,#3c3cff 12.5%,#3939ff 15.0%,#3838ff 17.6%,#3838ff 20.1%,#3838ff 22.6%,#3838ff 25.1%,#3838ff 27.6%,#3737ff 30.1%,#3434ff 32.6%,#3131ff 35.1%,#2f2fff 37.6%,#2c2cff 40.1%,#2929ff 42.6%,#2828ff 45.1%,#2828ff 47.6%,#2828ff 50.2%,#2828ff 52.7%,#2828ff 55.2%,#2828ff 57.7%,#2828ff 60.2%,#2828ff 62.7%,#2828ff 65.2%,#2828ff 67.7%,#2828ff 70.2%,#2828ff 72.7%,#2828ff 75.2%,#2828ff 77.7%,#2828ff 80.3%,#2828ff 82.8%,#2828ff 85.3%,#2727ff 87.8%,#2525ff 90.3%,#2424ff 92.8%,#2323ff 95.3%,#2121ff 97.8%,#2020ff 100.0%)"></div><div style="height:3px;background:linear-gradient(90deg,#5252ff 0.0%,#4c4cff 2.5%,#4747ff 5.0%,#4343ff 7.5%,#3f3fff 10.0%,#3d3dff 12.5%,#3a3aff 15.0%,#3939ff 17.6%,#3939ff 20.1%,#3838ff 22.6%,#3939ff 25.1%,#3838ff 27.6%,#3737ff 30.1%,#3434ff 32.6%,#3131ff 35.1%,#2f2fff 37.6%,#2c2cff 40.1%,#2929ff 42.6%,#2828ff 45.1%,#2828ff 47.6%,#2828ff 50.2%,#2828ff 52.7%,#2828ff 55.2%,#2828ff 57.7%,#2727ff 60.2%,#2727ff 62.7%,#2727ff 65.2%,#2727ff 67.7%,#2727ff 70.2%,#2727ff 72.7%,#2727ff 75.2%,#2727ff 77.7%,#2727ff 80.3%,#2727ff 82.8%,#2626ff 85.3%,#2525ff 87.8%,#2424ff 90.3%,#2222ff 92.8%,#2121ff 95.3%,#1f1fff 97.8%,#1e1eff 100.0%)"></div><div style="height:3px;background:linear-gradient(90deg,#5555ff 0.0%,#4f4fff 2.5%,#4949ff 5.0%,#4545ff 7.5%,#4242ff 10.0%,#3f3fff 12.5%,#3d3dff 15.0%,#3b3bff 17.6%,#3a3aff 20.1%,#3a3aff 22.6%,#3939ff 25.1%,#3838ff 27.6%,#3737ff 30.1%,#3434ff 32.6%,#3131ff 35.1%,#2f2fff 37.6%,#2c2cff 40.1%,#2a2aff 42.6%,#2828ff 45.1%,#2828ff 47.6%,#2828ff 50.2%,#2727ff 52.7%,#2727ff 55.2%,#2727ff 57.7%,#2727ff 60.2%,#2626ff 62.7%,#2626ff 65.2%,#2626ff 67.7%,#2626ff 70.2%,#2626ff 72.7%,#2626ff 75.2%,#2626ff 77.7%,#2525ff 80.3%,#2525ff 82.8%,#2424ff 85.3%,#2323ff 87.8%,#2121ff 90.3%,#2020ff 92.8%,#1e1eff 95.3%,#1d1dff 97.8%,#1b1bff 100.0%)"></div><div style="height:3px;background:linear-gradient(90deg,#5959ff 0.0%,#5252ff 2.5%,#4d4dff 5.0%,#4949ff 7.5%,#4545ff 10.0%,#4242ff 12.5%,#4040ff 15.0%,#3e3eff 17.6%,#3d3dff 20.1%,#3b3bff 22.6%,#3a3aff 25.1%,#3939ff 27.6%,#3636ff 30.1%,#3434ff 32.6%,#3131ff 35.1%,#2f2fff 37.6%,#2c2cff 40.1%,#2a2aff 42.6%,#2929ff 45.1%,#2828ff 47.6%,#2828ff 50.2%,#2727ff 52.7%,#2727ff 55.2%,#2626ff 57.7%,#2626ff 60.2%,#2626ff 62.7%,#2626ff 65.2%,#2525ff 67.7%,#2525ff 70.2%,#2525ff 72.7%,#2424ff 75.2%,#2424ff 77.7%,#2424ff 80.3%,#2323ff 82.8%,#2222ff 85.3%,#2020ff 87.8%,#1f1fff 90.3%,#1d1dff 92.8%,#1b1bff 95.3%,#1a1aff 97.8%,#1818ff 100.0%)"></div><div style="height:3px;background:linear-gradient(90deg,#5d5dff 0.0%,#5656ff 2.5%,#5151ff 5.0%,#4c4cff 7.5%,#4949ff 10.0%,#4646ff 12.5%,#4343ff 15.0%,#4141ff 17.6%,#3f3fff 20.1%,#3d3dff 22.6%,#3b3bff 25.1%,#3939ff 27.6%,#3636ff 30.1%,#3434ff 32.6%,#3131ff 35.1%,#2f2fff 37.6%,#2d2dff 40.1%,#2b2bff 42.6%,#2929ff 45.1%,#2828ff 47.6%,#2828ff 50.2%,#2727ff 52.7%,#2626ff 55.2%,#2626ff 57.7%,#2626ff 60.2%,#2525ff 62.7%,#2525ff 65.2%,#2525ff 67.7%,#2424ff 70.2%,#2424ff 72.7%,#2323ff 75.2%,#2323ff 77.7%,#2222ff 80.3%,#2121ff 82.8%,#2020ff 85.3%,#1e1eff 87.8%,#1c1cff 90.3%,#1a1aff 92.8%,#1919ff 95.3%,#1717ff 97.8%,#1515ff 100.0%)"></div><div style="height:3px;background:linear-gradient(90deg,#6060ff 0.0%,#5a5aff 2.5%,#5454ff 5.0%,#4f4fff 7.5%,#4c4cff 10.0%,#4949ff 12.5%,#4646ff 15.0%,#4444ff 17.6%,#4141ff 20.1%,#3f3fff 22.6%,#3c3cff 25.1%,#3939ff 27.6%,#3636ff 30.1%,#3434ff 32.6%,#3131ff 35.1%,#2f2fff 37.6%,#2d2dff 40.1%,#2b2bff 42.6%,#2a2aff 45.1%,#2828ff 47.6%,#2727ff 50.2%,#2727ff 52.7%,#2626ff 55.2%,#2626ff 57.7%,#2525ff 60.2%,#2525ff 62.7%,#2525ff 65.2%,#2424ff 67.7%,#2424ff 70.2%,#2323ff 72.7%,#2222ff 75.2%,#2121ff 77.7%,#2020ff 80.3%,#1f1fff 82.8%,#1d1dff 85.3%,#1c1cff 87.8%,#1a1aff 90.3%,#1818ff 92.8%,#1616ff 95.3%,#1414ff 97.8%,#1313ff 100.0%)"></div><div style="height:3px;background:linear-gradient(90deg,#6363ff 0.0%,#5d5dff 2.5%,#5757ff 5.0%,#5252ff 7.5%,#4e4eff 10.0%,#4b4bff 12.5%,#4949ff 15.0%,#4646ff 17.6%,#4343ff 20.1%,#4040ff 22.6%,#3d3dff 25.1%,#3a3aff 27.6%,#3737ff 30.1%,#3434ff 32.6%,#3131ff 35.1%,#2f2fff 37.6%,#2d2dff 40.1%,#2c2cff 42.6%,#2a2aff 45.1%,#2929ff 47.6%,#2828ff 50.2%,#2727ff 52.7%,#2626ff 55.2%,#2626ff 57.7%,#2525ff 60.2%,#2525ff 62.7%,#2525ff 65.2%,#2424ff 67.7%,#2323ff 70.2%,#2222ff 72.7%,#2121ff 75.2%,#2020ff 77.7%,#1f1fff 80.3%,#1d1dff 82.8%,#1b1bff 85.3%,#1919ff 87.8%,#1717ff 90.3%,#1515ff 92.8%,#1414ff 95.3%,#1212ff 97.8%,#1010ff 100.0%)"></div><div style="height:3px;background:linear-gradient(90deg,#6666ff 0.0%,#5f5fff 2.5%,#5959ff 5.0%,#5454ff 7.5%,#5151ff 10.0%,#4e4eff 12.5%,#4b4bff 15.0%,#4949ff 17.6%,#4545ff 20.1%,#4242ff 22.6%,#3e3eff 25.1%,#3b3bff 27.6%,#3838ff 30.1%,#3535ff 32.6%,#3232ff 35.1%,#3030ff 37.6%,#2e2eff 40.1%,#2d2dff 42.6%,#2c2cff 45.1%,#2a2aff 47.6%,#2929ff 50.2%,#2727ff 52.7%,#2727ff 55.2%,#2626ff 57.7%,#2626ff 60.2%,#2525ff 62.7%,#2424ff 65.2%,#2323ff 67.7%,#2222ff 70.2%,#2121ff 72.7%,#2020ff 75.2%,#1e1eff 77.7%,#1d1dff 80.3%,#1b1bff 82.8%,#1919ff 85.3%,#1717ff 87.8%,#1414ff 90.3%,#1313ff 92.8%,#1111ff 95.3%,#0f0fff 97.8%,#0e0eff 100.0%)"></div><div style="height:3px;background:linear-gradient(90deg,#6969ff 0.0%,#6262ff 2.5%,#5c5cff 5.0%,#5757ff 7.5%,#5353ff 10.0%,#5050ff 12.5%,#4e4eff 15.0%,#4b4bff 17.6%,#4848ff 20.1%,#4444ff 22.6%,#4040ff 25.1%,#3c3cff 27.6%,#3939ff 30.1%,#3636ff 32.6%,#3333ff 35.1%,#3131ff 37.6%,#3030ff 40.1%,#2e2eff 42.6%,#2d2dff 45.1%,#2b2bff 47.6%,#2a2aff 50.2%,#2828ff 52.7%,#2727ff 55.2%,#2626ff 57.7%,#2626ff 60.2%,#2525ff 62.7%,#2424ff 65.2%,#2323ff 67.7%,#2222ff 70.2%,#2020ff 72.7%,#1f1fff 75.2%,#1d1dff 77.7%,#1b1bff 80.3%,#1919ff 82.8%,#1717ff 85.3%,#1414ff 87.8%,#1212ff 90.3%,#1010ff 92.8%,#0f0fff 95.3%,#0d0dff 97.8%,#0c0cff 100.0%)"></div><div style="height:3px;background:linear-gradient(90deg,#6d6dff 0.0%,#6666ff 2.5%,#6060ff 5.0%,#5b5bff 7.5%,#5757ff 10.0%,#5454ff 12.5%,#5151ff 15.0%,#4e4eff 17.6%,#4b4bff 20.1%,#4646ff 22.6%,#4242ff 25.1%,#3e3eff 27.6%,#3b3bff 30.1%,#3838ff 32.6%,#3535ff 35.1%,#3333ff 37.6%,#3232ff 40.1%,#3030ff 42.6%,#2f2fff 45.1%,#2d2dff 47.6%,#2b2bff 50.2%,#2929ff 52.7%,#2727ff 55.2%,#2727ff 57.7%,#2626ff 60.2%,#2525ff 62.7%,#2424ff 65.2%,#2323ff 67.7%,#2222ff 70.2%,#2020ff 72.7%,#1e1eff 75.2%,#1c1cff 77.7%,#1a1aff 80.3%,#1818ff 82.8%,#1515ff 85.3%,#1313ff 87.8%,#1111ff 90.3%,#0f0fff 92.8%,#0d0dff 95.3%,#0b0bff 97.8%,#0a0aff 100.0%)"></div><div style="height:3px;background:linear-gradient(90deg,#7373ff 0.0%,#6c6cff 2.5%,#6565ff 5.0%,#6060ff 7.5%,#5b5bff 10.0%,#5858ff 12.5%,#5555ff 15.0%,#5252ff 17.6%,#4e4eff 20.1%,#4949ff 22.6%,#4545ff 25.1%,#4040ff 27.6%,#3d3dff 30.1%,#3a3aff 32.6%,#3737ff 35.1%,#3535ff 37.6%,#3434ff 40.1%,#3232ff 42.6%,#3131ff 45.1%,#2f2fff 47.6%,#2c2cff 50.2%,#2a2aff 52.7%,#2828ff 55.2%,#2727ff 57.7%,#2626ff 60.2%,#2525ff 62.7%,#2424ff 65.2%,#2323ff 67.7%,#2121ff 70.2%,#2020ff 72.7%,#1e1eff 75.2%,#1c1cff 77.7%,#1a1aff 80.3%,#1717ff 82.8%,#1515ff 85.3%,#1313ff 87.8%,#1010ff 90.3%,#0e0eff 92.8%,#0c0cff 95.3%,#0909ff 97.8%,#0707ff 100.0%)"></div><div style="height:3px;background:linear-gradient(90deg,#7c7cff 0.0%,#7575ff 2.5%,#6e6eff 5.0%,#6868ff 7.5%,#6363ff 10.0%,#5f5fff 12.5%,#5c5cff 15.0%,#5858ff 17.6%,#5454ff 20.1%,#4e4eff 22.6%,#4949ff 25.1%,#4545ff 27.6%,#4141ff 30.1%,#3d3dff 32.6%,#3a3aff 35.1%,#3838ff 37.6%,#3737ff 40.1%,#3636ff 42.6%,#3434ff 45.1%,#3131ff 47.6%,#2f2fff 50.2%,#2c2cff 52.7%,#2a2aff 55.2%,#2828ff 57.7%,#2727ff 60.2%,#2626ff 62.7%,#2424ff 65.2%,#2323ff 67.7%,#2222ff 70.2%,#2020ff 72.7%,#1e1eff 75.2%,#1c1cff 77.7%,#1a1aff 80.3%,#1717ff 82.8%,#1515ff 85.3%,#1313ff 87.8%,#1111ff 90.3%,#0e0eff 92.8%,#0b0bff 95.3%,#0808ff 97.8%,#0505ff 100.0%)"></div><div style="height:3px;background:linear-gradient(90deg,#8989ff 0.0%,#8181ff 2.5%,#7979ff 5.0%,#7373ff 7.5%,#6d6dff 10.0%,#6969ff 12.5%,#6565ff 15.0%,#6060ff 17.6%,#5b5bff 20.1%,#5555ff 22.6%,#5050ff 25.1%,#4b4bff 27.6%,#4747ff 30.1%,#4343ff 32.6%,#4040ff 35.1%,#3d3dff 37.6%,#3c3cff 40.1%,#3a3aff 42.6%,#3838ff 45.1%,#3535ff 47.6%,#3232ff 50.2%,#2e2eff 52.7%,#2c2cff 55.2%,#2a2aff 57.7%,#2828ff 60.2%,#2626ff 62.7%,#2525ff 65.2%,#2323ff 67.7%,#2222ff 70.2%,#2020ff 72.7%,#1e1eff 75.2%,#1c1cff 77.7%,#1a1aff 80.3%,#1717ff 82.8%,#1515ff 85.3%,#1313ff 87.8%,#1111ff 90.3%,#0e0eff 92.8%,#0b0bff 95.3%,#0707ff 97.8%,#0303ff 100.0%)"></div><div style="height:3px;background:linear-gradient(90deg,#9999ff 0.0%,#9090ff 2.5%,#8787ff 5.0%,#8080ff 7.5%,#7979ff 10.0%,#7474ff 12.5%,#6f6fff 15.0%,#6a6aff 17.6%,#6464ff 20.1%,#5e5eff 22.6%,#5858ff 25.1%,#5252ff 27.6%,#4e4eff 30.1%,#4a4aff 32.6%,#4747ff 35.1%,#4444ff 37.6%,#4141ff 40.1%,#3f3fff 42.6%,#3d3dff 45.1%,#3939ff 47.6%,#3636ff 50.2%,#3232ff 52.7%,#2f2fff 55.2%,#2c2cff 57.7%,#2a2aff 60.2%,#2727ff 62.7%,#2525ff 65.2%,#2424ff 67.7%,#2222ff 70.2%,#2020ff 72.7%,#1e1eff 75.2%,#1c1cff 77.7%,#1a1aff 80.3%,#1717ff 82.8%,#1515ff 85.3%,#1313ff 87.8%,#1111ff 90.3%,#0e0eff 92.8%,#0a0aff 95.3%,#0606ff 97.8%,#0101ff 100.0%)"></div><div style="height:3px;background:linear-gradient(90deg,#a9a9ff 0.0%,#a0a0ff 2.5%,#9797ff 5.0%,#8f8fff 7.5%,#8787ff 10.0%,#8181ff 12.5%,#7b7bff 15.0%,#7575ff 17.6%,#6f6fff 20.1%,#6868ff 22.6%,#6161ff 25.1%,#5b5bff 27.6%,#5757ff 30.1%,#5252ff 32.6%,#4f4fff 35.1%,#4b4bff 37.6%,#4848ff 40.1%,#4545ff 42.6%,#4242ff 45.1%,#3f3fff 47.6%,#3b3bff 50.2%,#3636ff 52.7%,#3333ff 55.2%,#2f2fff 57.7%,#2c2cff 60.2%,#2929ff 62.7%,#2626ff 65.2%,#2424ff 67.7%,#2222ff 70.2%,#2020ff 72.7%,#1e1eff 75.2%,#1c1cff 77.7%,#1a1aff 80.3%,#1717ff 82.8%,#1515ff 85.3%,#1313ff 87.8%,#1111ff 90.3%,#0e0eff 92.8%,#0a0aff 95.3%,#0505ff 97.8%,#0000ff 100.0%)"></div><div style="height:3px;background:linear-gradient(90deg,#bbbbff 0.0%,#b1b1ff 2.5%,#a8a8ff 5.0%,#9f9fff 7.5%,#9797ff 10.0%,#9090ff 12.5%,#8a8aff 15.0%,#8383ff 17.6%,#7c7cff 20.1%,#7474ff 22.6%,#6d6dff 25.1%,#6767ff 27.6%,#6262ff 30.1%,#5d5dff 32.6%,#5959ff 35.1%,#5555ff 37.6%,#5151ff 40.1%,#4e4eff 42.6%,#4a4aff 45.1%,#4646ff 47.6%,#4141ff 50.2%,#3c3cff 52.7%,#3838ff 55.2%,#3434ff 57.7%,#2f2fff 60.2%,#2c2cff 62.7%,#2828ff 65.2%,#2626ff 67.7%,#2323ff 70.2%,#2121ff 72.7%,#1e1eff 75.2%,#1c1cff 77.7%,#1a1aff 80.3%,#1818ff 82.8%,#1515ff 85.3%,#1313ff 87.8%,#1111ff 90.3%,#0d0dff 92.8%,#0909ff 95.3%,#0404ff 97.8%,#0000ff 100.0%)"></div><div style="height:3px;background:linear-gradient(90deg,#cfcfff 0.0%,#c6c6ff 2.5%,#bdbdff 5.0%,#b4b4ff 7.5%,#adadff 10.0%,#a5a5ff 12.5%,#9e9eff 15.0%,#9696ff 17.6%,#8f8fff 20.1%,#8787ff 22.6%,#8080ff 25.1%,#7a7aff 27.6%,#7474ff 30.1%,#6f6fff 32.6%,#6a6aff 35.1%,#6565ff 37.6%,#6060ff 40.1%,#5b5bff 42.6%,#5656ff 45.1%,#5151ff 47.6%,#4c4cff 50.2%,#4747ff 52.7%,#4242ff 55.2%,#3d3dff 57.7%,#3838ff 60.2%,#3333ff 62.7%,#2f2fff 65.2%,#2b2bff 67.7%,#2727ff 70.2%,#2424ff 72.7%,#2121ff 75.2%,#1e1eff 77.7%,#1b1bff 80.3%,#1919ff 82.8%,#1616ff 85.3%,#1313ff 87.8%,#1010ff 90.3%,#0c0cff 92.8%,#0808ff 95.3%,#0404ff 97.8%,#0000ff 100.0%)"></div><div style="height:3px;background:linear-gradient(90deg,#e5e5ff 0.0%,#ddddff 2.5%,#d5d5ff 5.0%,#cdcdff 7.5%,#c5c5ff 10.0%,#bdbdff 12.5%,#b5b5ff 15.0%,#aeaeff 17.6%,#a6a6ff 20.1%,#9f9fff 22.6%,#9797ff 25.1%,#9090ff 27.6%,#8a8aff 30.1%,#8484ff 32.6%,#7e7eff 35.1%,#7878ff 37.6%,#7171ff 40.1%,#6b6bff 42.6%,#6565ff 45.1%,#5f5fff 47.6%,#5a5aff 50.2%,#5454ff 52.7%,#4f4fff 55.2%,#4949ff 57.7%,#4343ff 60.2%,#3d3dff 62.7%,#3838ff 65.2%,#3333ff 67.7%,#2e2eff 70.2%,#2929ff 72.7%,#2525ff 75.2%,#2121ff 77.7%,#1e1eff 80.3%,#1a1aff 82.8%,#1616ff 85.3%,#1313ff 87.8%,#0f0fff 90.3%,#0b0bff 92.8%,#0707ff 95.3%,#0303ff 97.8%,#0000ff 100.0%)"></div><div style="height:3px;background:linear-gradient(90deg,#fdfdff 0.0%,#f6f6ff 2.5%,#eeeeff 5.0%,#e7e7ff 7.5%,#dfdfff 10.0%,#d7d7ff 12.5%,#cfcfff 15.0%,#c7c7ff 17.6%,#bfbfff 20.1%,#b7b7ff 22.6%,#afafff 25.1%,#a8a8ff 27.6%,#a0a0ff 30.1%,#9999ff 32.6%,#9292ff 35.1%,#8a8aff 37.6%,#8383ff 40.1%,#7b7bff 42.6%,#7474ff 45.1%,#6d6dff 47.6%,#6767ff 50.2%,#6161ff 52.7%,#5b5bff 55.2%,#5454ff 57.7%,#4e4eff 60.2%,#4747ff 62.7%,#4141ff 65.2%,#3a3aff 67.7%,#3434ff 70.2%,#2e2eff 72.7%,#2929ff 75.2%,#2525ff 77.7%,#2020ff 80.3%,#1c1cff 82.8%,#1717ff 85.3%,#1313ff 87.8%,#0e0eff 90.3%,#0a0aff 92.8%,#0606ff 95.3%,#0303ff 97.8%,#0000ff 100.0%)"></div><div style="height:3px;background:linear-gradient(90deg,#ffe8e8 0.0%,#ffefef 2.5%,#fff6f6 5.0%,#fffdfd 7.5%,#f9f9ff 10.0%,#f1f1ff 12.5%,#e8e8ff 15.0%,#dfdfff 17.6%,#d6d6ff 20.1%,#cdcdff 22.6%,#c5c5ff 25.1%,#bcbcff 27.6%,#b3b3ff 30.1%,#ababff 32.6%,#a2a2ff 35.1%,#9a9aff 37.6%,#9191ff 40.1%,#8888ff 42.6%,#7f7fff 45.1%,#7878ff 47.6%,#7171ff 50.2%,#6a6aff 52.7%,#6464ff 55.2%,#5d5dff 57.7%,#5656ff 60.2%,#4f4fff 62.7%,#4848ff 65.2%,#4040ff 67.7%,#3939ff 70.2%,#3333ff 72.7%,#2d2dff 75.2%,#2828ff 77.7%,#2323ff 80.3%,#1e1eff 82.8%,#1818ff 85.3%,#1313ff 87.8%,#0e0eff 90.3%,#0a0aff 92.8%,#0606ff 95.3%,#0303ff 97.8%,#0000ff 100.0%)"></div><div style="height:3px;background:linear-gradient(90deg,#ffcdcd 0.0%,#ffd4d4 2.5%,#ffdbdb 5.0%,#ffe3e3 7.5%,#ffecec 10.0%,#fff5f5 12.5%,#ffffff 15.0%,#f5f5ff 17.6%,#ebebff 20.1%,#e0e0ff 22.6%,#d6d6ff 25.1%,#ccccff 27.6%,#c2c2ff 30.1%,#b8b8ff 32.6%,#aeaeff 35.1%,#a4a4ff 37.6%,#9a9aff 40.1%,#9090ff 42.6%,#8787ff 45.1%,#7f7fff 47.6%,#7777ff 50.2%,#7070ff 52.7%,#6969ff 55.2%,#6161ff 57.7%,#5a5aff 60.2%,#5252ff 62.7%,#4b4bff 65.2%,#4444ff 67.7%,#3c3cff 70.2%,#3636ff 72.7%,#3030ff 75.2%,#2b2bff 77.7%,#2626ff 80.3%,#2020ff 82.8%,#1a1aff 85.3%,#1414ff 87.8%,#0f0fff 90.3%,#0b0bff 92.8%,#0707ff 95.3%,#0303ff 97.8%,#0101ff 100.0%)"></div><div style="height:3px;background:linear-gradient(90deg,#ffaeae 0.0%,#ffb6b6 2.5%,#ffbebe 5.0%,#ffc8c8 7.5%,#ffd2d2 10.0%,#ffdcdc 12.5%,#ffe8e8 15.0%,#fff4f4 17.6%,#fefeff 20.1%,#f2f2ff 22.6%,#e5e5ff 25.1%,#d9d9ff 27.6%,#cdcdff 30.1%,#c2c2ff 32.6%,#b6b6ff 35.1%,#ababff 37.6%,#a1a1ff 40.1%,#9797ff 42.6%,#8e8eff 45.1%,#8585ff 47.6%,#7c7cff 50.2%,#7474ff 52.7%,#6c6cff 55.2%,#6464ff 57.7%,#5d5dff 60.2%,#5555ff 62.7%,#4e4eff 65.2%,#4646ff 67.7%,#3f3fff 70.2%,#3939ff 72.7%,#3333ff 75.2%,#2e2eff 77.7%,#2929ff 80.3%,#2424ff 82.8%,#1d1dff 85.3%,#1717ff 87.8%,#1212ff 90.3%,#0e0eff 92.8%,#0909ff 95.3%,#0505ff 97.8%,#0202ff 100.0%)"></div><div style="height:3px;background:linear-gradient(90deg,#ff8e8e 0.0%,#ff9797 2.5%,#ffa1a1 5.0%,#ffacac 7.5%,#ffb7b7 10.0%,#ffc3c3 12.5%,#ffd0d0 15.0%,#ffdddd 17.6%,#ffebeb 20.1%,#fffafa 22.6%,#f5f5ff 25.1%,#e6e6ff 27.6%,#d9d9ff 30.1%,#cbcbff 32.6%,#bebeff 35.1%,#b3b3ff 37.6%,#a8a8ff 40.1%,#9d9dff 42.6%,#9393ff 45.1%,#8a8aff 47.6%,#8181ff 50.2%,#7878ff 52.7%,#6f6fff 55.2%,#6767ff 57.7%,#5f5fff 60.2%,#5757ff 62.7%,#5050ff 65.2%,#4949ff 67.7%,#4242ff 70.2%,#3c3cff 72.7%,#3636ff 75.2%,#3131ff 77.7%,#2c2cff 80.3%,#2727ff 82.8%,#2121ff 85.3%,#1c1cff 87.8%,#1616ff 90.3%,#1111ff 92.8%,#0d0dff 95.3%,#0808ff 97.8%,#0404ff 100.0%)"></div><div style="height:3px;background:linear-gradient(90deg,#ff7070 0.0%,#ff7a7a 2.5%,#ff8484 5.0%,#ff9090 7.5%,#ff9c9c 10.0%,#ffa9a9 12.5%,#ffb7b7 15.0%,#ffc5c5 17.6%,#ffd5d5 20.1%,#ffe7e7 22.6%,#fff8f8 25.1%,#f6f6ff 27.6%,#e6e6ff 30.1%,#d6d6ff 32.6%,#c8c8ff 35.1%,#bbbbff 37.6%,#afafff 40.1%,#a4a4ff 42.6%,#9a9aff 45.1%,#8f8fff 47.6%,#8585ff 50.2%,#7c7cff 52.7%,#7373ff 55.2%,#6a6aff 57.7%,#6262ff 60.2%,#5a5aff 62.7%,#5252ff 65.2%,#4b4bff 67.7%,#4444ff 70.2%,#3e3eff 72.7%,#3939ff 75.2%,#3434ff 77.7%,#2f2fff 80.3%,#2a2aff 82.8%,#2424ff 85.3%,#1f1fff 87.8%,#1a1aff 90.3%,#1414ff 92.8%,#0f0fff 95.3%,#0a0aff 97.8%,#0606ff 100.0%)"></div><div style="height:3px;background:linear-gradient(90deg,#ff5656 0.0%,#ff6060 2.5%,#ff6a6a 5.0%,#ff7575 7.5%,#ff8181 10.0%,#ff8e8e 12.5%,#ff9c9c 15.0%,#ffabab 17.6%,#ffbcbc 20.1%,#ffcfcf 22.6%,#ffe2e2 25.1%,#fff5f5 27.6%,#f7f7ff 30.1%,#e6e6ff 32.6%,#d5d5ff 35.1%,#c7c7ff 37.6%,#babaff 40.1%,#aeaeff 42.6%,#a2a2ff 45.1%,#9797ff 47.6%,#8c8cff 50.2%,#8181ff 52.7%,#7777ff 55.2%,#6e6eff 57.7%,#6565ff 60.2%,#5d5dff 62.7%,#5555ff 65.2%,#4d4dff 67.7%,#4646ff 70.2%,#4040ff 72.7%,#3a3aff 75.2%,#3535ff 77.7%,#3030ff 80.3%,#2b2bff 82.8%,#2525ff 85.3%,#2020ff 87.8%,#1b1bff 90.3%,#1616ff 92.8%,#1010ff 95.3%,#0b0bff 97.8%,#0606ff 100.0%)"></div><div style="height:3px;background:linear-gradient(90deg,#ff3e3e 0.0%,#ff4545 2.5%,#ff4d4d 5.0%,#ff5656 7.5%,#ff6060 10.0%,#ff6b6b 12.5%,#ff7878 15.0%,#ff8686 17.6%,#ff9797 20.1%,#ffaaaa 22.6%,#ffbfbf 25.1%,#ffd4d4 27.6%,#ffe9e9 30.1%,#ffffff 32.6%,#ebebff 35.1%,#d9d9ff 37.6%,#cacaff 40.1%,#bbbbff 42.6%,#adadff 45.1%,#a0a0ff 47.6%,#9494ff 50.2%,#8888ff 52.7%,#7d7dff 55.2%,#7373ff 57.7%,#6969ff 60.2%,#6060ff 62.7%,#5858ff 65.2%,#5050ff 67.7%,#4848ff 70.2%,#4141ff 72.7%,#3b3bff 75.2%,#3636ff 77.7%,#3030ff 80.3%,#2b2bff 82.8%,#2525ff 85.3%,#2020ff 87.8%,#1b1bff 90.3%,#1616ff 92.8%,#1010ff 95.3%,#0b0bff 97.8%,#0606ff 100.0%)"></div><div style="height:3px;background:linear-gradient(90deg,#ff2525 0.0%,#ff2929 2.5%,#ff2f2f 5.0%,#ff3535 7.5%,#ff3b3b 10.0%,#ff4444 12.5%,#ff4e4e 15.0%,#ff5a5a 17.6%,#ff6969 20.1%,#ff7c7c 22.6%,#ff9292 25.1%,#ffa8a8 27.6%,#ffc1c1 30.1%,#ffdcdc 32.6%,#fff5f5 35.1%,#f3f3ff 37.6%,#dedeff 40.1%,#ccccff 42.6%,#bbbbff 45.1%,#ababff 47.6%,#9d9dff 50.2%,#9090ff 52.7%,#8383ff 55.2%,#7878ff 57.7%,#6d6dff 60.2%,#6363ff 62.7%,#5a5aff 65.2%,#5252ff 67.7%,#4a4aff 70.2%,#4242ff 72.7%,#3c3cff 75.2%,#3636ff 77.7%,#3030ff 80.3%,#2b2bff 82.8%,#2525ff 85.3%,#2020ff 87.8%,#1b1bff 90.3%,#1616ff 92.8%,#1010ff 95.3%,#0b0bff 97.8%,#0606ff 100.0%)"></div><div style="height:3px;background:linear-gradient(90deg,#ff1010 0.0%,#ff1212 2.5%,#ff1414 5.0%,#ff1717 7.5%,#ff1a1a 10.0%,#ff2020 12.5%,#ff2828 15.0%,#ff3131 17.6%,#ff3d3d 20.1%,#ff4e4e 22.6%,#ff6363 25.1%,#ff7a7a 27.6%,#ff9696 30.1%,#ffb5b5 32.6%,#ffd4d4 35.1%,#ffefef 37.6%,#f6f6ff 40.1%,#dfdfff 42.6%,#cbcbff 45.1%,#b9b9ff 47.6%,#a8a8ff 50.2%,#9999ff 52.7%,#8b8bff 55.2%,#7e7eff 57.7%,#7373ff 60.2%,#6868ff 62.7%,#5d5dff 65.2%,#5454ff 67.7%,#4b4bff 70.2%,#4343ff 72.7%,#3c3cff 75.2%,#3636ff 77.7%,#3030ff 80.3%,#2a2aff 82.8%,#2525ff 85.3%,#2020ff 87.8%,#1b1bff 90.3%,#1616ff 92.8%,#1010ff 95.3%,#0b0bff 97.8%,#0606ff 100.0%)"></div><div style="height:3px;background:linear-gradient(90deg,#ff0303 0.0%,#ff0303 2.5%,#ff0303 5.0%,#ff0404 7.5%,#ff0505 10.0%,#ff0808 12.5%,#ff0d0d 15.0%,#ff1313 17.6%,#ff1c1c 20.1%,#ff2b2b 22.6%,#ff3e3e 25.1%,#ff5353 27.6%,#ff6f6f 30.1%,#ff9292 32.6%,#ffb4b4 35.1%,#ffd2d2 37.6%,#ffefef 40.1%,#f4f4ff 42.6%,#dcdcff 45.1%,#c8c8ff 47.6%,#b5b5ff 50.2%,#a4a4ff 52.7%,#9494ff 55.2%,#8686ff 57.7%,#7979ff 60.2%,#6d6dff 62.7%,#6262ff 65.2%,#5757ff 67.7%,#4d4dff 70.2%,#4545ff 72.7%,#3d3dff 75.2%,#3737ff 77.7%,#3030ff 80.3%,#2a2aff 82.8%,#2525ff 85.3%,#2020ff 87.8%,#1b1bff 90.3%,#1616ff 92.8%,#1010ff 95.3%,#0b0bff 97.8%,#0606ff 100.0%)"></div><div style="height:3px;background:linear-gradient(90deg,#ff0000 0.0%,#ff0000 2.5%,#ff0000 5.0%,#ff0000 7.5%,#ff0000 10.0%,#ff0202 12.5%,#ff0505 15.0%,#ff0a0a 17.6%,#ff1010 20.1%,#ff1b1b 22.6%,#ff2a2a 25.1%,#ff3b3b 27.6%,#ff5555 30.1%,#ff7676 32.6%,#ff9999 35.1%,#ffb8b8 37.6%,#ffd7d7 40.1%,#fff4f4 42.6%,#f0f0ff 45.1%,#d9d9ff 47.6%,#c4c4ff 50.2%,#b1b1ff 52.7%,#a0a0ff 55.2%,#9090ff 57.7%,#8282ff 60.2%,#7474ff 62.7%,#6868ff 65.2%,#5c5cff 67.7%,#5151ff 70.2%,#4848ff 72.7%,#3f3fff 75.2%,#3838ff 77.7%,#3131ff 80.3%,#2b2bff 82.8%,#2525ff 85.3%,#2020ff 87.8%,#1b1bff 90.3%,#1616ff 92.8%,#1111ff 95.3%,#0b0bff 97.8%,#0707ff 100.0%)"></div><div style="height:3px;background:linear-gradient(90deg,#ff0000 0.0%,#ff0000 2.5%,#ff0000 5.0%,#ff0000 7.5%,#ff0000 10.0%,#ff0101 12.5%,#ff0303 15.0%,#ff0606 17.6%,#ff0a0a 20.1%,#ff1111 22.6%,#ff1b1b 25.1%,#ff2727 27.6%,#ff3d3d 30.1%,#ff5d5d 32.6%,#ff7f7f 35.1%,#ff9e9e 37.6%,#ffbcbc 40.1%,#ffdada 42.6%,#fff6f6 45.1%,#f0f0ff 47.6%,#dadaff 50.2%,#c5c5ff 52.7%,#b3b3ff 55.2%,#a1a1ff 57.7%,#9191ff 60.2%,#8282ff 62.7%,#7575ff 65.2%,#6868ff 67.7%,#5c5cff 70.2%,#5151ff 72.7%,#4848ff 75.2%,#4040ff 77.7%,#3838ff 80.3%,#3131ff 82.8%,#2b2bff 85.3%,#2525ff 87.8%,#2020ff 90.3%,#1a1aff 92.8%,#1414ff 95.3%,#0f0fff 97.8%,#0a0aff 100.0%)"></div><div style="height:3px;background:linear-gradient(90deg,#ff0000 0.0%,#ff0000 2.5%,#ff0000 5.0%,#ff0000 7.5%,#ff0000 10.0%,#ff0101 12.5%,#ff0202 15.0%,#ff0303 17.6%,#ff0505 20.1%,#ff0909 22.6%,#ff0e0e 25.1%,#ff1515 27.6%,#ff2828 30.1%,#ff4545 32.6%,#ff6666 35.1%,#ff8383 37.6%,#ffa1a1 40.1%,#ffbebe 42.6%,#ffdada 45.1%,#fff3f3 47.6%,#f4f4ff 50.2%,#dedeff 52.7%,#cacaff 55.2%,#b8b8ff 57.7%,#a6a6ff 60.2%,#9696ff 62.7%,#8787ff 65.2%,#7979ff 67.7%,#6c6cff 70.2%,#6161ff 72.7%,#5656ff 75.2%,#4c4cff 77.7%,#4343ff 80.3%,#3b3bff 82.8%,#3434ff 85.3%,#2e2eff 87.8%,#2727ff 90.3%,#2121ff 92.8%,#1b1bff 95.3%,#1515ff 97.8%,#1010ff 100.0%)"></div><div style="height:3px;background:linear-gradient(90deg,#ff0000 0.0%,#ff0000 2.5%,#ff0000 5.0%,#ff0000 7.5%,#ff0000 10.0%,#ff0000 12.5%,#ff0101 15.0%,#ff0101 17.6%,#ff0202 20.1%,#ff0303 22.6%,#ff0505 25.1%,#ff0808 27.6%,#ff1717 30.1%,#ff3131 32.6%,#ff4f4f 35.1%,#ff6969 37.6%,#ff8585 40.1%,#ffa2a2 42.6%,#ffbdbd 45.1%,#ffd6d6 47.6%,#ffeeee 50.2%,#f9f9ff 52.7%,#e4e4ff 55.2%,#d0d0ff 57.7%,#bdbdff 60.2%,#acacff 62.7%,#9c9cff 65.2%,#8d8dff 67.7%,#7f7fff 70.2%,#7272ff 72.7%,#6666ff 75.2%,#5b5bff 77.7%,#5050ff 80.3%,#4747ff 82.8%,#3f3fff 85.3%,#3838ff 87.8%,#3030ff 90.3%,#2929ff 92.8%,#2323ff 95.3%,#1d1dff 97.8%,#1717ff 100.0%)"></div><div style="height:3px;background:linear-gradient(90deg,#ff0000 0.0%,#ff0000 2.5%,#ff0000 5.0%,#ff0000 7.5%,#ff0000 10.0%,#ff0000 12.5%,#ff0000 15.0%,#ff0000 17.6%,#ff0000 20.1%,#ff0000 22.6%,#ff0000 25.1%,#ff0101 27.6%,#ff0c0c 30.1%,#ff2222 32.6%,#ff3b3b 35.1%,#ff5252 37.6%,#ff6c6c 40.1%,#ff8686 42.6%,#ffa0a0 45.1%,#ffb9b9 47.6%,#ffd2d2 50.2%,#ffeaea 52.7%,#fdfdff 55.2%,#e8e8ff 57.7%,#d3d3ff 60.2%,#c0c0ff 62.7%,#aeaeff 65.2%,#9e9eff 67.7%,#8f8fff 70.2%,#8181ff 72.7%,#7474ff 75.2%,#6868ff 77.7%,#5c5cff 80.3%,#5252ff 82.8%,#4949ff 85.3%,#4141ff 87.8%,#3939ff 90.3%,#3131ff 92.8%,#2a2aff 95.3%,#2323ff 97.8%,#1e1eff 100.0%)"></div><div style="height:3px;background:linear-gradient(90deg,#ff0000 0.0%,#ff0000 2.5%,#ff0000 5.0%,#ff0000 7.5%,#ff0000 10.0%,#ff0000 12.5%,#ff0000 15.0%,#ff0000 17.6%,#ff0000 20.1%,#ff0000 22.6%,#ff0000 25.1%,#ff0000 27.6%,#ff0808 30.1%,#ff1818 32.6%,#ff2c2c 35.1%,#ff3e3e 37.6%,#ff5454 40.1%,#ff6d6d 42.6%,#ff8585 45.1%,#ff9e9e 47.6%,#ffb8b8 50.2%,#ffd2d2 52.7%,#ffebeb 55.2%,#fcfcff 57.7%,#e5e5ff 60.2%,#cfcfff 62.7%,#bdbdff 65.2%,#ababff 67.7%,#9b9bff 70.2%,#8c8cff 72.7%,#7e7eff 75.2%,#7171ff 77.7%,#6565ff 80.3%,#5a5aff 82.8%,#5050ff 85.3%,#4747ff 87.8%,#3f3fff 90.3%,#3737ff 92.8%,#2f2fff 95.3%,#2828ff 97.8%,#2222ff 100.0%)"></div><div style="height:3px;background:linear-gradient(90deg,#ff0000 0.0%,#ff0000 2.5%,#ff0000 5.0%,#ff0000 7.5%,#ff0000 10.0%,#ff0000 12.5%,#ff0000 15.0%,#ff0000 17.6%,#ff0000 20.1%,#ff0000 22.6%,#ff0000 25.1%,#ff0000 27.6%,#ff0505 30.1%,#ff0f0f 32.6%,#ff1c1c 35.1%,#ff2a2a 37.6%,#ff3c3c 40.1%,#ff5151 42.6%,#ff6767 45.1%,#ff8080 47.6%,#ff9c9c 50.2%,#ffbaba 52.7%,#ffd5d5 55.2%,#ffefef 57.7%,#f5f5ff 60.2%,#ddddff 62.7%,#c9c9ff 65.2%,#b6b6ff 67.7%,#a5a5ff 70.2%,#9595ff 72.7%,#8686ff 75.2%,#7878ff 77.7%,#6b6bff 80.3%,#6060ff 82.8%,#5656ff 85.3%,#4d4dff 87.8%,#4444ff 90.3%,#3c3cff 92.8%,#3434ff 95.3%,#2c2cff 97.8%,#2626ff 100.0%)"></div><div style="height:3px;background:linear-gradient(90deg,#ff0000 0.0%,#ff0000 2.5%,#ff0000 5.0%,#ff0000 7.5%,#ff0000 10.0%,#ff0000 12.5%,#ff0000 15.0%,#ff0000 17.6%,#ff0000 20.1%,#ff0000 22.6%,#ff0000 25.1%,#ff0000 27.6%,#ff0202 30.1%,#ff0808 32.6%,#ff0f0f 35.1%,#ff1616 37.6%,#ff2424 40.1%,#ff3636 42.6%,#ff4a4a 45.1%,#ff6262 47.6%,#ff8181 50.2%,#ffa1a1 52.7%,#ffbfbf 55.2%,#ffdcdc 57.7%,#fff9f9 60.2%,#ebebff 62.7%,#d5d5ff 65.2%,#c1c1ff 67.7%,#afafff 70.2%,#9e9eff 72.7%,#8e8eff 75.2%,#7f7fff 77.7%,#7272ff 80.3%,#6666ff 82.8%,#5b5bff 85.3%,#5252ff 87.8%,#4949ff 90.3%,#4040ff 92.8%,#3838ff 95.3%,#3030ff 97.8%,#2a2aff 100.0%)"></div><div style="height:3px;background:linear-gradient(90deg,#ff0000 0.0%,#ff0000 2.5%,#ff0000 5.0%,#ff0000 7.5%,#ff0000 10.0%,#ff0000 12.5%,#ff0000 15.0%,#ff0000 17.6%,#ff0000 20.1%,#ff0000 22.6%,#ff0000 25.1%,#ff0000 27.6%,#ff0101 30.1%,#ff0202 32.6%,#ff0505 35.1%,#ff0808 37.6%,#ff1111 40.1%,#ff2020 42.6%,#ff3131 45.1%,#ff4848 47.6%,#ff6767 50.2%,#ff8a8a 52.7%,#ffaaaa 55.2%,#ffcaca 57.7%,#ffe9e9 60.2%,#f8f8ff 62.7%,#e0e0ff 65.2%,#cbcbff 67.7%,#b8b8ff 70.2%,#a7a7ff 72.7%,#9696ff 75.2%,#8686ff 77.7%,#7878ff 80.3%,#6c6cff 82.8%,#6161ff 85.3%,#5757ff 87.8%,#4e4eff 90.3%,#4545ff 92.8%,#3d3dff 95.3%,#3434ff 97.8%,#2e2eff 100.0%)"></div><div style="height:3px;background:linear-gradient(90deg,#ff0000 0.0%,#ff0000 2.5%,#ff0000 5.0%,#ff0000 7.5%,#ff0000 10.0%,#ff0000 12.5%,#ff0000 15.0%,#ff0000 17.6%,#ff0000 20.1%,#ff0000 22.6%,#ff0000 25.1%,#ff0000 27.6%,#ff0000 30.1%,#ff0000 32.6%,#ff0000 35.1%,#ff0101 37.6%,#ff0707 40.1%,#ff1212 42.6%,#ff2020 45.1%,#ff3434 47.6%,#ff5353 50.2%,#ff7676 52.7%,#ff9797 55.2%,#ffb8b8 57.7%,#ffd9d9 60.2%,#fff7f7 62.7%,#eeeeff 65.2%,#d7d7ff 67.7%,#c3c3ff 70.2%,#b1b1ff 72.7%,#9f9fff 75.2%,#8f8fff 77.7%,#8080ff 80.3%,#7373ff 82.8%,#6868ff 85.3%,#5e5eff 87.8%,#5454ff 90.3%,#4b4bff 92.8%,#4242ff 95.3%,#3939ff 97.8%,#3232ff 100.0%)"></div><div style="height:3px;background:linear-gradient(90deg,#ff0000 0.0%,#ff0000 2.5%,#ff0000 5.0%,#ff0000 7.5%,#ff0000 10.0%,#ff0000 12.5%,#ff0000 15.0%,#ff0000 17.6%,#ff0000 20.1%,#ff0000 22.6%,#ff0000 25.1%,#ff0000 27.6%,#ff0000 30.1%,#ff0000 32.6%,#ff0000 35.1%,#ff0101 37.6%,#ff0505 40.1%,#ff0c0c 42.6%,#ff1616 45.1%,#ff2626 47.6%,#ff4343 50.2%,#ff6565 52.7%,#ff8484 55.2%,#ffa6a6 57.7%,#ffc8c8 60.2%,#ffe7e7 62.7%,#fdfdff 65.2%,#e6e6ff 67.7%,#d1d1ff 70.2%,#bdbdff 72.7%,#ababff 75.2%,#9a9aff 77.7%,#8a8aff 80.3%,#7d7dff 82.8%,#7171ff 85.3%,#6666ff 87.8%,#5c5cff 90.3%,#5252ff 92.8%,#4949ff 95.3%,#4040ff 97.8%,#3838ff 100.0%)"></div><div style="height:3px;background:linear-gradient(90deg,#ff0000 0.0%,#ff0000 2.5%,#ff0000 5.0%,#ff0000 7.5%,#ff0000 10.0%,#ff0000 12.5%,#ff0000 15.0%,#ff0000 17.6%,#ff0000 20.1%,#ff0000 22.6%,#ff0000 25.1%,#ff0000 27.6%,#ff0000 30.1%,#ff0000 32.6%,#ff0000 35.1%,#ff0000 37.6%,#ff0303 40.1%,#ff0707 42.6%,#ff0d0d 45.1%,#ff1a1a 47.6%,#ff3434 50.2%,#ff5454 52.7%,#ff7272 55.2%,#ff9393 57.7%,#ffb5b5 60.2%,#ffd5d5 62.7%,#fff0f0 65.2%,#f6f6ff 67.7%,#e0e0ff 70.2%,#ccccff 72.7%,#b9b9ff 75.2%,#a7a7ff 77.7%,#9797ff 80.3%,#8989ff 82.8%,#7c7cff 85.3%,#7171ff 87.8%,#6666ff 90.3%,#5b5bff 92.8%,#5252ff 95.3%,#4848ff 97.8%,#4141ff 100.0%)"></div><div style="height:3px;background:linear-gradient(90deg,#ff0000 0.0%,#ff0000 2.5%,#ff0000 5.0%,#ff0000 7.5%,#ff0000 10.0%,#ff0000 12.5%,#ff0000 15.0%,#ff0000 17.6%,#ff0000 20.1%,#ff0000 22.6%,#ff0000 25.1%,#ff0000 27.6%,#ff0000 30.1%,#ff0000 32.6%,#ff0000 35.1%,#ff0000 37.6%,#ff0101 40.1%,#ff0303 42.6%,#ff0606 45.1%,#ff1010 47.6%,#ff2828 50.2%,#ff4545 52.7%,#ff6161 55.2%,#ff8181 57.7%,#ffa3a3 60.2%,#ffc3c3 62.7%,#ffdede 65.2%,#fff6f6 67.7%,#f1f1ff 70.2%,#dcdcff 72.7%,#c8c8ff 75.2%,#b6b6ff 77.7%,#a5a5ff 80.3%,#9696ff 82.8%,#8888ff 85.3%,#7c7cff 87.8%,#7070ff 90.3%,#6565ff 92.8%,#5b5bff 95.3%,#5151ff 97.8%,#4a4aff 100.0%)"></div><div style="height:3px;background:linear-gradient(90deg,#ff0000 0.0%,#ff0000 2.5%,#ff0000 5.0%,#ff0000 7.5%,#ff0000 10.0%,#ff0000 12.5%,#ff0000 15.0%,#ff0000 17.6%,#ff0000 20.1%,#ff0000 22.6%,#ff0000 25.1%,#ff0000 27.6%,#ff0000 30.1%,#ff0000 32.6%,#ff0000 35.1%,#ff0000 37.6%,#ff0000 40.1%,#ff0101 42.6%,#ff0101 45.1%,#ff0909 47.6%,#ff1e1e 50.2%,#ff3838 52.7%,#ff5252 55.2%,#ff7070 57.7%,#ff9191 60.2%,#ffb1b1 62.7%,#ffcccc 65.2%,#ffe5e5 67.7%,#fffdfd 70.2%,#ececff 72.7%,#d7d7ff 75.2%,#c4c4ff 77.7%,#b3b3ff 80.3%,#a3a3ff 82.8%,#9494ff 85.3%,#8787ff 87.8%,#7a7aff 90.3%,#6f6fff 92.8%,#6464ff 95.3%,#5a5aff 97.8%,#5353ff 100.0%)"></div><div style="height:3px;background:linear-gradient(90deg,#ff0000 0.0%,#ff0000 2.5%,#ff0000 5.0%,#ff0000 7.5%,#ff0000 10.0%,#ff0000 12.5%,#ff0000 15.0%,#ff0000 17.6%,#ff0000 20.1%,#ff0000 22.6%,#ff0000 25.1%,#ff0000 27.6%,#ff0000 30.1%,#ff0000 32.6%,#ff0000 35.1%,#ff0000 37.6%,#ff0000 40.1%,#ff0000 42.6%,#ff0000 45.1%,#ff0606 47.6%,#ff1717 50.2%,#ff2d2d 52.7%,#ff4444 55.2%,#ff6060 57.7%,#ff8181 60.2%,#ffa0a0 62.7%,#ffbbbb 65.2%,#ffd5d5 67.7%,#ffeded 70.2%,#fafaff 72.7%,#e5e5ff 75.2%,#d1d1ff 77.7%,#bebeff 80.3%,#adadff 82.8%,#9e9eff 85.3%,#9090ff 87.8%,#8383ff 90.3%,#7777ff 92.8%,#6c6cff 95.3%,#6262ff 97.8%,#5a5aff 100.0%)"></div><div style="height:3px;background:linear-gradient(90deg,#ff0000 0.0%,#ff0000 2.5%,#ff0000 5.0%,#ff0000 7.5%,#ff0000 10.0%,#ff0000 12.5%,#ff0000 15.0%,#ff0000 17.6%,#ff0000 20.1%,#ff0000 22.6%,#ff0000 25.1%,#ff0000 27.6%,#ff0000 30.1%,#ff0000 32.6%,#ff0000 35.1%,#ff0000 37.6%,#ff0000 40.1%,#ff0000 42.6%,#ff0000 45.1%,#ff0404 47.6%,#ff1111 50.2%,#ff2424 52.7%,#ff3737 55.2%,#ff5151 57.7%,#ff6f6f 60.2%,#ff8e8e 62.7%,#ffaaaa 65.2%,#ffc5c5 67.7%,#ffdfdf 70.2%,#fff7f7 72.7%,#f0f0ff 75.2%,#dbdbff 77.7%,#c7c7ff 80.3%,#b6b6ff 82.8%,#a6a6ff 85.3%,#9898ff 87.8%,#8a8aff 90.3%,#7e7eff 92.8%,#7373ff 95.3%,#6868ff 97.8%,#6060ff 100.0%)"></div><div style="height:3px;background:linear-gradient(90deg,#ff0000 0.0%,#ff0000 2.5%,#ff0000 5.0%,#ff0000 7.5%,#ff0000 10.0%,#ff0000 12.5%,#ff0000 15.0%,#ff0000 17.6%,#ff0000 20.1%,#ff0000 22.6%,#ff0000 25.1%,#ff0000 27.6%,#ff0000 30.1%,#ff0000 32.6%,#ff0000 35.1%,#ff0000 37.6%,#ff0000 40.1%,#ff0000 42.6%,#ff0000 45.1%,#ff0303 47.6%,#ff0d0d 50.2%,#ff1a1a 52.7%,#ff2a2a 55.2%,#ff4040 57.7%,#ff5d5d 60.2%,#ff7b7b 62.7%,#ff9898 65.2%,#ffb4b4 67.7%,#ffd0d0 70.2%,#ffeaea 72.7%,#fbfbff 75.2%,#e4e4ff 77.7%,#cfcfff 80.3%,#bdbdff 82.8%,#adadff 85.3%,#9e9eff 87.8%,#9090ff 90.3%,#8484ff 92.8%,#7878ff 95.3%,#6e6eff 97.8%,#6666ff 100.0%)"></div><div style="height:3px;background:linear-gradient(90deg,#ff0000 0.0%,#ff0000 2.5%,#ff0000 5.0%,#ff0000 7.5%,#ff0000 10.0%,#ff0000 12.5%,#ff0000 15.0%,#ff0000 17.6%,#ff0000 20.1%,#ff0000 22.6%,#ff0000 25.1%,#ff0000 27.6%,#ff0000 30.1%,#ff0000 32.6%,#ff0000 35.1%,#ff0000 37.6%,#ff0000 40.1%,#ff0000 42.6%,#ff0000 45.1%,#ff0202 47.6%,#ff0909 50.2%,#ff1313 52.7%,#ff1e1e 55.2%,#ff3232 57.7%,#ff4d4d 60.2%,#ff6b6b 62.7%,#ff8787 65.2%,#ffa5a5 67.7%,#ffc2c2 70.2%,#ffdede 72.7%,#fff8f8 75.2%,#ededff 77.7%,#d7d7ff 80.3%,#c4c4ff 82.8%,#b3b3ff 85.3%,#a4a4ff 87.8%,#9797ff 90.3%,#8a8aff 92.8%,#7e7eff 95.3%,#7373ff 97.8%,#6b6bff 100.0%)"></div><div style="height:3px;background:linear-gradient(90deg,#ff0000 0.0%,#ff0000 2.5%,#ff0000 5.0%,#ff0000 7.5%,#ff0000 10.0%,#ff0000 12.5%,#ff0000 15.0%,#ff0000 17.6%,#ff0000 20.1%,#ff0000 22.6%,#ff0000 25.1%,#ff0000 27.6%,#ff0000 30.1%,#ff0000 32.6%,#ff0000 35.1%,#ff0000 37.6%,#ff0000 40.1%,#ff0000 42.6%,#ff0000 45.1%,#ff0202 47.6%,#ff0707 50.2%,#ff0e0e 52.7%,#ff1717 55.2%,#ff2929 57.7%,#ff4343 60.2%,#ff5f5f 62.7%,#ff7b7b 65.2%,#ff9999 67.7%,#ffb7b7 70.2%,#ffd3d3 72.7%,#ffeded 75.2%,#f7f7ff 77.7%,#dfdfff 80.3%,#ccccff 82.8%,#bbbbff 85.3%,#ababff 87.8%,#9d9dff 90.3%,#9090ff 92.8%,#8484ff 95.3%,#7878ff 97.8%,#7070ff 100.0%)"></div><div style="height:3px;background:linear-gradient(90deg,#ff0000 0.0%,#ff0000 2.5%,#ff0000 5.0%,#ff0000 7.5%,#ff0000 10.0%,#ff0000 12.5%,#ff0000 15.0%,#ff0000 17.6%,#ff0000 20.1%,#ff0000 22.6%,#ff0000 25.1%,#ff0000 27.6%,#ff0000 30.1%,#ff0000 32.6%,#ff0000 35.1%,#ff0000 37.6%,#ff0000 40.1%,#ff0000 42.6%,#ff0000 45.1%,#ff0101 47.6%,#ff0606 50.2%,#ff0d0d 52.7%,#ff1616 55.2%,#ff2727 57.7%,#ff4141 60.2%,#ff5c5c 62.7%,#ff7575 65.2%,#ff9191 67.7%,#ffadad 70.2%,#ffc9c9 72.7%,#ffe3e3 75.2%,#fffdfd 77.7%,#e9e9ff 80.3%,#d5d5ff 82.8%,#c4c4ff 85.3%,#b4b4ff 87.8%,#a6a6ff 90.3%,#9898ff 92.8%,#8b8bff 95.3%,#7e7eff 97.8%,#7474ff 100.0%)"></div><div style="height:3px;background:linear-gradient(90deg,#ff0000 0.0%,#ff0000 2.5%,#ff0000 5.0%,#ff0000 7.5%,#ff0000 10.0%,#ff0000 12.5%,#ff0000 15.0%,#ff0000 17.6%,#ff0000 20.1%,#ff0000 22.6%,#ff0000 25.1%,#ff0000 27.6%,#ff0000 30.1%,#ff0000 32.6%,#ff0000 35.1%,#ff0000 37.6%,#ff0000 40.1%,#ff0000 42.6%,#ff0000 45.1%,#ff0202 47.6%,#ff0707 50.2%,#ff0e0e 52.7%,#ff1717 55.2%,#ff2929 57.7%,#ff4141 60.2%,#ff5b5b 62.7%,#ff7272 65.2%,#ff8b8b 67.7%,#ffa6a6 70.2%,#ffbfbf 72.7%,#ffd8d8 75.2%,#fff0f0 77.7%,#f7f7ff 80.3%,#e3e3ff 82.8%,#d1d1ff 85.3%,#c1c1ff 87.8%,#b1b1ff 90.3%,#a2a2ff 92.8%,#9393ff 95.3%,#8484ff 97.8%,#7878ff 100.0%)"></div><div style="height:3px;background:linear-gradient(90deg,#ff0000 0.0%,#ff0000 2.5%,#ff0000 5.0%,#ff0000 7.5%,#ff0000 10.0%,#ff0000 12.5%,#ff0000 15.0%,#ff0000 17.6%,#ff0000 20.1%,#ff0000 22.6%,#ff0000 25.1%,#ff0000 27.6%,#ff0000 30.1%,#ff0000 32.6%,#ff0000 35.1%,#ff0000 37.6%,#ff0000 40.1%,#ff0000 42.6%,#ff0000 45.1%,#ff0202 47.6%,#ff0707 50.2%,#ff1010 52.7%,#ff1a1a 55.2%,#ff2b2b 57.7%,#ff4242 60.2%,#ff5a5a 62.7%,#ff6f6f 65.2%,#ff8686 67.7%,#ff9e9e 70.2%,#ffb6b6 72.7%,#ffcdcd 75.2%,#ffe3e3 77.7%,#fff8f8 80.3%,#f2f2ff 82.8%,#e0e0ff 85.3%,#cfcfff 87.8%,#bebeff 90.3%,#adadff 92.8%,#9b9bff 95.3%,#8a8aff 97.8%,#7b7bff 100.0%)"></div><div style="height:3px;background:linear-gradient(90deg,#ff0000 0.0%,#ff0000 2.5%,#ff0000 5.0%,#ff0000 7.5%,#ff0000 10.0%,#ff0000 12.5%,#ff0000 15.0%,#ff0000 17.6%,#ff0000 20.1%,#ff0000 22.6%,#ff0000 25.1%,#ff0000 27.6%,#ff0000 30.1%,#ff0000 32.6%,#ff0000 35.1%,#ff0000 37.6%,#ff0000 40.1%,#ff0000 42.6%,#ff0000 45.1%,#ff0202 47.6%,#ff0909 50.2%,#ff1212 52.7%,#ff1d1d 55.2%,#ff2e2e 57.7%,#ff4343 60.2%,#ff5959 62.7%,#ff6d6d 65.2%,#ff8282 67.7%,#ff9898 70.2%,#ffaeae 72.7%,#ffc2c2 75.2%,#ffd6d6 77.7%,#ffeaea 80.3%,#fffdfd 82.8%,#efefff 85.3%,#dedeff 87.8%,#cbcbff 90.3%,#b8b8ff 92.8%,#a5a5ff 95.3%,#9090ff 97.8%,#7f7fff 100.0%)"></div><div style="height:3px;background:linear-gradient(90deg,#ff0000 0.0%,#ff0000 2.5%,#ff0000 5.0%,#ff0000 7.5%,#ff0000 10.0%,#ff0000 12.5%,#ff0000 15.0%,#ff0000 17.6%,#ff0000 20.1%,#ff0000 22.6%,#ff0000 25.1%,#ff0000 27.6%,#ff0000 30.1%,#ff0000 32.6%,#ff0000 35.1%,#ff0000 37.6%,#ff0000 40.1%,#ff0000 42.6%,#ff0000 45.1%,#ff0303 47.6%,#ff0a0a 50.2%,#ff1515 52.7%,#ff2121 55.2%,#ff3131 57.7%,#ff4444 60.2%,#ff5959 62.7%,#ff6c6c 65.2%,#ff8080 67.7%,#ff9494 70.2%,#ffa8a8 72.7%,#ffbaba 75.2%,#ffcccc 77.7%,#ffdede 80.3%,#fff0f0 82.8%,#fdfdff 85.3%,#ebebff 87.8%,#d9d9ff 90.3%,#c4c4ff 92.8%,#afafff 95.3%,#9898ff 97.8%,#8383ff 100.0%)"></div><div style="height:3px;background:linear-gradient(90deg,#ff0000 0.0%,#ff0000 2.5%,#ff0000 5.0%,#ff0000 7.5%,#ff0000 10.0%,#ff0000 12.5%,#ff0000 15.0%,#ff0000 17.6%,#ff0000 20.1%,#ff0000 22.6%,#ff0000 25.1%,#ff0000 27.6%,#ff0000 30.1%,#ff0000 32.6%,#ff0000 35.1%,#ff0000 37.6%,#ff0000 40.1%,#ff0000 42.6%,#ff0000 45.1%,#ff0303 47.6%,#ff0d0d 50.2%,#ff1919 52.7%,#ff2626 55.2%,#ff3535 57.7%,#ff4646 60.2%,#ff5959 62.7%,#ff6b6b 65.2%,#ff7e7e 67.7%,#ff9191 70.2%,#ffa3a3 72.7%,#ffb5b5 75.2%,#ffc6c6 77.7%,#ffd7d7 80.3%,#ffe7e7 82.8%,#fff7f7 85.3%,#f7f7ff 87.8%,#e5e5ff 90.3%,#d1d1ff 92.8%,#babaff 95.3%,#a2a2ff 97.8%,#8b8bff 100.0%)"></div><div style="height:3px;background:linear-gradient(90deg,#ff0000 0.0%,#ff0000 2.5%,#ff0000 5.0%,#ff0000 7.5%,#ff0000 10.0%,#ff0000 12.5%,#ff0000 15.0%,#ff0000 17.6%,#ff0000 20.1%,#ff0000 22.6%,#ff0000 25.1%,#ff0000 27.6%,#ff0000 30.1%,#ff0000 32.6%,#ff0000 35.1%,#ff0000 37.6%,#ff0000 40.1%,#ff0101 42.6%,#ff0202 45.1%,#ff0606 47.6%,#ff1212 50.2%,#ff2020 52.7%,#ff2d2d 55.2%,#ff3b3b 57.7%,#ff4a4a 60.2%,#ff5a5a 62.7%,#ff6c6c 65.2%,#ff7d7d 67.7%,#ff8f8f 70.2%,#ffa0a0 72.7%,#ffb0b0 75.2%,#ffc0c0 77.7%,#ffd0d0 80.3%,#ffe0e0 82.8%,#ffeded 85.3%,#fffbfb 87.8%,#f3f3ff 90.3%,#e0e0ff 92.8%,#cacaff 95.3%,#b1b1ff 97.8%,#9a9aff 100.0%)"></div><div style="height:3px;background:linear-gradient(90deg,#ff0000 0.0%,#ff0000 2.5%,#ff0000 5.0%,#ff0000 7.5%,#ff0000 10.0%,#ff0000 12.5%,#ff0000 15.0%,#ff0000 17.6%,#ff0000 20.1%,#ff0000 22.6%,#ff0000 25.1%,#ff0000 27.6%,#ff0000 30.1%,#ff0000 32.6%,#ff0000 35.1%,#ff0000 37.6%,#ff0101 40.1%,#ff0202 42.6%,#ff0404 45.1%,#ff0a0a 47.6%,#ff1818 50.2%,#ff2929 52.7%,#ff3636 55.2%,#ff4242 57.7%,#ff4e4e 60.2%,#ff5c5c 62.7%,#ff6c6c 65.2%,#ff7c7c 67.7%,#ff8c8c 70.2%,#ff9c9c 72.7%,#ffacac 75.2%,#ffbcbc 77.7%,#ffcbcb 80.3%,#ffd9d9 82.8%,#ffe4e4 85.3%,#fff0f0 87.8%,#fffdfd 90.3%,#efefff 92.8%,#dbdbff 95.3%,#c3c3ff 97.8%,#acacff 100.0%)"></div><div style="height:3px;background:linear-gradient(90deg,#ff0000 0.0%,#ff0000 2.5%,#ff0000 5.0%,#ff0000 7.5%,#ff0000 10.0%,#ff0000 12.5%,#ff0000 15.0%,#ff0000 17.6%,#ff0000 20.1%,#ff0000 22.6%,#ff0000 25.1%,#ff0000 27.6%,#ff0000 30.1%,#ff0000 32.6%,#ff0000 35.1%,#ff0000 37.6%,#ff0202 40.1%,#ff0404 42.6%,#ff0707 45.1%,#ff0f0f 47.6%,#ff1f1f 50.2%,#ff3232 52.7%,#ff4040 55.2%,#ff4a4a 57.7%,#ff5454 60.2%,#ff5f5f 62.7%,#ff6d6d 65.2%,#ff7c7c 67.7%,#ff8b8b 70.2%,#ff9a9a 72.7%,#ffa9a9 75.2%,#ffb8b8 77.7%,#ffc7c7 80.3%,#ffd3d3 82.8%,#ffdddd 85.3%,#ffe7e7 87.8%,#fff2f2 90.3%,#fcfcff 92.8%,#e9e9ff 95.3%,#d4d4ff 97.8%,#bfbfff 100.0%)"></div><div style="height:3px;background:linear-gradient(90deg,#ff0000 0.0%,#ff0000 2.5%,#ff0000 5.0%,#ff0000 7.5%,#ff0000 10.0%,#ff0000 12.5%,#ff0000 15.0%,#ff0000 17.6%,#ff0000 20.1%,#ff0000 22.6%,#ff0000 25.1%,#ff0000 27.6%,#ff0000 30.1%,#ff0000 32.6%,#ff0000 35.1%,#ff0000 37.6%,#ff0202 40.1%,#ff0606 42.6%,#ff0b0b 45.1%,#ff1515 47.6%,#ff2727 50.2%,#ff3a3a 52.7%,#ff4848 55.2%,#ff5151 57.7%,#ff5959 60.2%,#ff6262 62.7%,#ff6d6d 65.2%,#ff7b7b 67.7%,#ff8a8a 70.2%,#ff9999 72.7%,#ffa8a8 75.2%,#ffb6b6 77.7%,#ffc5c5 80.3%,#ffd0d0 82.8%,#ffdada 85.3%,#ffe2e2 87.8%,#ffecec 90.3%,#fffafa 92.8%,#f3f3ff 95.3%,#e0e0ff 97.8%,#cdcdff 100.0%)"></div><div style="height:3px;background:linear-gradient(90deg,#ff0000 0.0%,#ff0000 2.5%,#ff0000 5.0%,#ff0000 7.5%,#ff0000 10.0%,#ff0000 12.5%,#ff0000 15.0%,#ff0000 17.6%,#ff0000 20.1%,#ff0000 22.6%,#ff0000 25.1%,#ff0000 27.6%,#ff0000 30.1%,#ff0000 32.6%,#ff0101 35.1%,#ff0101 37.6%,#ff0505 40.1%,#ff0a0a 42.6%,#ff1111 45.1%,#ff1c1c 47.6%,#ff2e2e 50.2%,#ff4141 52.7%,#ff4e4e 55.2%,#ff5656 57.7%,#ff5e5e 60.2%,#ff6565 62.7%,#ff6f6f 65.2%,#ff7c7c 67.7%,#ff8b8b 70.2%,#ff9999 72.7%,#ffa8a8 75.2%,#ffb6b6 77.7%,#ffc4c4 80.3%,#ffcfcf 82.8%,#ffd9d9 85.3%,#ffe1e1 87.8%,#ffebeb 90.3%,#fff8f8 92.8%,#f8f8ff 95.3%,#e7e7ff 97.8%,#d7d7ff 100.0%)"></div><div style="height:3px;background:linear-gradient(90deg,#ff0000 0.0%,#ff0000 2.5%,#ff0000 5.0%,#ff0000 7.5%,#ff0000 10.0%,#ff0000 12.5%,#ff0000 15.0%,#ff0000 17.6%,#ff0000 20.1%,#ff0000 22.6%,#ff0000 25.1%,#ff0000 27.6%,#ff0000 30.1%,#ff0101 32.6%,#ff0303 35.1%,#ff0505 37.6%,#ff0a0a 40.1%,#ff1212 42.6%,#ff1a1a 45.1%,#ff2626 47.6%,#ff3636 50.2%,#ff4747 52.7%,#ff5353 55.2%,#ff5c5c 57.7%,#ff6363 60.2%,#ff6a6a 62.7%,#ff7373 65.2%,#ff7f7f 67.7%,#ff8d8d 70.2%,#ff9a9a 72.7%,#ffa8a8 75.2%,#ffb6b6 77.7%,#ffc3c3 80.3%,#ffcece 82.8%,#ffd8d8 85.3%,#ffe1e1 87.8%,#ffebeb 90.3%,#fff6f6 92.8%,#fbfbff 95.3%,#ededff 97.8%,#dfdfff 100.0%)"></div><div style="height:3px;background:linear-gradient(90deg,#ff0000 0.0%,#ff0000 2.5%,#ff0000 5.0%,#ff0000 7.5%,#ff0000 10.0%,#ff0000 12.5%,#ff0000 15.0%,#ff0000 17.6%,#ff0000 20.1%,#ff0000 22.6%,#ff0000 25.1%,#ff0000 27.6%,#ff0101 30.1%,#ff0303 32.6%,#ff0606 35.1%,#ff0a0a 37.6%,#ff1212 40.1%,#ff1b1b 42.6%,#ff2626 45.1%,#ff3131 47.6%,#ff3f3f 50.2%,#ff4d4d 52.7%,#ff5858 55.2%,#ff6161 57.7%,#ff6969 60.2%,#ff7070 62.7%,#ff7979 65.2%,#ff8484 67.7%,#ff9090 70.2%,#ff9c9c 72.7%,#ffa9a9 75.2%,#ffb6b6 77.7%,#ffc2c2 80.3%,#ffcdcd 82.8%,#ffd7d7 85.3%,#ffe1e1 87.8%,#ffeaea 90.3%,#fff5f5 92.8%,#fefeff 95.3%,#f2f2ff 97.8%,#e6e6ff 100.0%)"></div><div style="height:3px;background:linear-gradient(90deg,#ff0000 0.0%,#ff0000 2.5%,#ff0000 5.0%,#ff0000 7.5%,#ff0000 10.0%,#ff0000 12.5%,#ff0000 15.0%,#ff0000 17.6%,#ff0000 20.1%,#ff0000 22.6%,#ff0000 25.1%,#ff0000 27.6%,#ff0202 30.1%,#ff0606 32.6%,#ff0b0b 35.1%,#ff1111 37.6%,#ff1a1a 40.1%,#ff2626 42.6%,#ff3131 45.1%,#ff3c3c 47.6%,#ff4848 50.2%,#ff5353 52.7%,#ff5d5d 55.2%,#ff6666 57.7%,#ff6e6e 60.2%,#ff7777 62.7%,#ff8080 65.2%,#ff8989 67.7%,#ff9393 70.2%,#ff9e9e 72.7%,#ffa9a9 75.2%,#ffb6b6 77.7%,#ffc2c2 80.3%,#ffcdcd 82.8%,#ffd7d7 85.3%,#ffe0e0 87.8%,#ffeaea 90.3%,#fff4f4 92.8%,#fffefe 95.3%,#f6f6ff 97.8%,#ededff 100.0%)"></div><div style="height:3px;background:linear-gradient(90deg,#ff0000 0.0%,#ff0000 2.5%,#ff0000 5.0%,#ff0000 7.5%,#ff0000 10.0%,#ff0000 12.5%,#ff0000 15.0%,#ff0000 17.6%,#ff0000 20.1%,#ff0000 22.6%,#ff0000 25.1%,#ff0000 27.6%,#ff0303 30.1%,#ff0808 32.6%,#ff1010 35.1%,#ff1818 37.6%,#ff2323 40.1%,#ff3030 42.6%,#ff3c3c 45.1%,#ff4646 47.6%,#ff5050 50.2%,#ff5959 52.7%,#ff6262 55.2%,#ff6b6b 57.7%,#ff7474 60.2%,#ff7d7d 62.7%,#ff8585 65.2%,#ff8e8e 67.7%,#ff9696 70.2%,#ff9f9f 72.7%,#ffaaaa 75.2%,#ffb6b6 77.7%,#ffc2c2 80.3%,#ffcdcd 82.8%,#ffd7d7 85.3%,#ffe0e0 87.8%,#ffeaea 90.3%,#fff3f3 92.8%,#fffbfb 95.3%,#fafaff 97.8%,#f3f3ff 100.0%)"></div><div style="height:3px;background:linear-gradient(90deg,#ff0000 0.0%,#ff0000 2.5%,#ff0000 5.0%,#ff0000 7.5%,#ff0000 10.0%,#ff0000 12.5%,#ff0000 15.0%,#ff0000 17.6%,#ff0000 20.1%,#ff0101 22.6%,#ff0202 25.1%,#ff0303 27.6%,#ff0707 30.1%,#ff0e0e 32.6%,#ff1717 35.1%,#ff2020 37.6%,#ff2c2c 40.1%,#ff3939 42.6%,#ff4545 45.1%,#ff4f4f 47.6%,#ff5757 50.2%,#ff6060 52.7%,#ff6868 55.2%,#ff7171 57.7%,#ff7979 60.2%,#ff8282 62.7%,#ff8a8a 65.2%,#ff9292 67.7%,#ff9a9a 70.2%,#ffa2a2 72.7%,#ffacac 75.2%,#ffb7b7 77.7%,#ffc3c3 80.3%,#ffcdcd 82.8%,#ffd7d7 85.3%,#ffe0e0 87.8%,#ffe9e9 90.3%,#fff1f1 92.8%,#fff8f8 95.3%,#fefeff 97.8%,#f9f9ff 100.0%)"></div><div style="height:3px;background:linear-gradient(90deg,#ff0000 0.0%,#ff0000 2.5%,#ff0000 5.0%,#ff0000 7.5%,#ff0000 10.0%,#ff0000 12.5%,#ff0000 15.0%,#ff0000 17.6%,#ff0000 20.1%,#ff0303 22.6%,#ff0606 25.1%,#ff0909 27.6%,#ff0f0f 30.1%,#ff1818 32.6%,#ff2222 35.1%,#ff2b2b 37.6%,#ff3737 40.1%,#ff4343 42.6%,#ff4e4e 45.1%,#ff5757 47.6%,#ff5f5f 50.2%,#ff6767 52.7%,#ff6f6f 55.2%,#ff7777 57.7%,#ff7f7f 60.2%,#ff8787 62.7%,#ff8f8f 65.2%,#ff9797 67.7%,#ff9e9e 70.2%,#ffa6a6 72.7%,#ffafaf 75.2%,#ffb9b9 77.7%,#ffc4c4 80.3%,#ffcece 82.8%,#ffd7d7 85.3%,#ffe0e0 87.8%,#ffe8e8 90.3%,#ffefef 92.8%,#fff5f5 95.3%,#fffbfb 97.8%,#ffffff 100.0%)"></div><div style="height:3px;background:linear-gradient(90deg,#ff0000 0.0%,#ff0000 2.5%,#ff0000 5.0%,#ff0000 7.5%,#ff0000 10.0%,#ff0000 12.5%,#ff0000 15.0%,#ff0000 17.6%,#ff0101 20.1%,#ff0505 22.6%,#ff0b0b 25.1%,#ff1212 27.6%,#ff1a1a 30.1%,#ff2323 32.6%,#ff2e2e 35.1%,#ff3838 37.6%,#ff4242 40.1%,#ff4d4d 42.6%,#ff5656 45.1%,#ff5f5f 47.6%,#ff6666 50.2%,#ff6e6e 52.7%,#ff7575 55.2%,#ff7d7d 57.7%,#ff8585 60.2%,#ff8d8d 62.7%,#ff9494 65.2%,#ff9b9b 67.7%,#ffa3a3 70.2%,#ffaaaa 72.7%,#ffb3b3 75.2%,#ffbdbd 77.7%,#ffc6c6 80.3%,#ffcfcf 82.8%,#ffd8d8 85.3%,#ffe1e1 87.8%,#ffe8e8 90.3%,#ffeded 92.8%,#fff2f2 95.3%,#fff7f7 97.8%,#fffafa 100.0%)"></div><div style="height:3px;background:linear-gradient(90deg,#ff0000 0.0%,#ff0000 2.5%,#ff0000 5.0%,#ff0000 7.5%,#ff0000 10.0%,#ff0000 12.5%,#ff0000 15.0%,#ff0000 17.6%,#ff0202 20.1%,#ff0808 22.6%,#ff1212 25.1%,#ff1b1b 27.6%,#ff2424 30.1%,#ff2f2f 32.6%,#ff3a3a 35.1%,#ff4444 37.6%,#ff4d4d 40.1%,#ff5656 42.6%,#ff5f5f 45.1%,#ff6767 47.6%,#ff6e6e 50.2%,#ff7575 52.7%,#ff7c7c 55.2%,#ff8383 57.7%,#ff8b8b 60.2%,#ff9292 62.7%,#ff9999 65.2%,#ffa1a1 67.7%,#ffa8a8 70.2%,#ffafaf 72.7%,#ffb7b7 75.2%,#ffc0c0 77.7%,#ffc9c9 80.3%,#ffd1d1 82.8%,#ffd9d9 85.3%,#ffe1e1 87.8%,#ffe8e8 90.3%,#ffecec 92.8%,#fff1f1 95.3%,#fff4f4 97.8%,#fff6f6 100.0%)"></div><div style="height:3px;background:linear-gradient(90deg,#ff0000 0.0%,#ff0000 2.5%,#ff0000 5.0%,#ff0000 7.5%,#ff0000 10.0%,#ff0000 12.5%,#ff0000 15.0%,#ff0000 17.6%,#ff0303 20.1%,#ff0c0c 22.6%,#ff1818 25.1%,#ff2424 27.6%,#ff2e2e 30.1%,#ff3939 32.6%,#ff4444 35.1%,#ff4e4e 37.6%,#ff5757 40.1%,#ff5f5f 42.6%,#ff6868 45.1%,#ff6f6f 47.6%,#ff7676 50.2%,#ff7d7d 52.7%,#ff8484 55.2%,#ff8a8a 57.7%,#ff9191 60.2%,#ff9898 62.7%,#ff9f9f 65.2%,#ffa6a6 67.7%,#ffadad 70.2%,#ffb4b4 72.7%,#ffbbbb 75.2%,#ffc3c3 77.7%,#ffcbcb 80.3%,#ffd3d3 82.8%,#ffdada 85.3%,#ffe1e1 87.8%,#ffe7e7 90.3%,#ffecec 92.8%,#fff0f0 95.3%,#fff3f3 97.8%,#fff5f5 100.0%)"></div><div style="height:3px;background:linear-gradient(90deg,#ff0000 0.0%,#ff0000 2.5%,#ff0000 5.0%,#ff0000 7.5%,#ff0000 10.0%,#ff0101 12.5%,#ff0202 15.0%,#ff0303 17.6%,#ff0707 20.1%,#ff1313 22.6%,#ff2020 25.1%,#ff2d2d 27.6%,#ff3737 30.1%,#ff4242 32.6%,#ff4c4c 35.1%,#ff5656 37.6%,#ff5f5f 40.1%,#ff6868 42.6%,#ff7070 45.1%,#ff7777 47.6%,#ff7e7e 50.2%,#ff8585 52.7%,#ff8c8c 55.2%,#ff9292 57.7%,#ff9999 60.2%,#ff9f9f 62.7%,#ffa6a6 65.2%,#ffacac 67.7%,#ffb3b3 70.2%,#ffb9b9 72.7%,#ffc0c0 75.2%,#ffc7c7 77.7%,#ffcece 80.3%,#ffd5d5 82.8%,#ffdcdc 85.3%,#ffe2e2 87.8%,#ffe8e8 90.3%,#ffecec 92.8%,#fff0f0 95.3%,#fff4f4 97.8%,#fff6f6 100.0%)"></div><div style="height:3px;background:linear-gradient(90deg,#ff0000 0.0%,#ff0000 2.5%,#ff0000 5.0%,#ff0000 7.5%,#ff0000 10.0%,#ff0202 12.5%,#ff0505 15.0%,#ff0909 17.6%,#ff0f0f 20.1%,#ff1c1c 22.6%,#ff2a2a 25.1%,#ff3636 27.6%,#ff4141 30.1%,#ff4b4b 32.6%,#ff5454 35.1%,#ff5e5e 37.6%,#ff6767 40.1%,#ff7070 42.6%,#ff7878 45.1%,#ff8080 47.6%,#ff8787 50.2%,#ff8e8e 52.7%,#ff9595 55.2%,#ff9b9b 57.7%,#ffa0a0 60.2%,#ffa6a6 62.7%,#ffadad 65.2%,#ffb3b3 67.7%,#ffb9b9 70.2%,#ffbfbf 72.7%,#ffc5c5 75.2%,#ffcbcb 77.7%,#ffd1d1 80.3%,#ffd7d7 82.8%,#ffdddd 85.3%,#ffe3e3 87.8%,#ffe9e9 90.3%,#ffeded 92.8%,#fff1f1 95.3%,#fff4f4 97.8%,#fff7f7 100.0%)"></div><div style="height:3px;background:linear-gradient(90deg,#ff0000 0.0%,#ff0000 2.5%,#ff0000 5.0%,#ff0000 7.5%,#ff0000 10.0%,#ff0404 12.5%,#ff0a0a 15.0%,#ff1111 17.6%,#ff1919 20.1%,#ff2626 22.6%,#ff3535 25.1%,#ff4141 27.6%,#ff4b4b 30.1%,#ff5454 32.6%,#ff5d5d 35.1%,#ff6666 37.6%,#ff6f6f 40.1%,#ff7878 42.6%,#ff8080 45.1%,#ff8888 47.6%,#ff9090 50.2%,#ff9797 52.7%,#ff9e9e 55.2%,#ffa3a3 57.7%,#ffa8a8 60.2%,#ffaeae 62.7%,#ffb3b3 65.2%,#ffb9b9 67.7%,#ffbfbf 70.2%,#ffc5c5 72.7%,#ffcaca 75.2%,#ffcfcf 77.7%,#ffd5d5 80.3%,#ffdada 82.8%,#ffdfdf 85.3%,#ffe5e5 87.8%,#ffe9e9 90.3%,#ffeeee 92.8%,#fff2f2 95.3%,#fff5f5 97.8%,#fff8f8 100.0%)"></div><div style="height:3px;background:linear-gradient(90deg,#ff0000 0.0%,#ff0000 2.5%,#ff0000 5.0%,#ff0000 7.5%,#ff0000 10.0%,#ff0606 12.5%,#ff0f0f 15.0%,#ff1919 17.6%,#ff2424 20.1%,#ff3232 22.6%,#ff4040 25.1%,#ff4c4c 27.6%,#ff5555 30.1%,#ff5e5e 32.6%,#ff6666 35.1%,#ff6f6f 37.6%,#ff7878 40.1%,#ff8181 42.6%,#ff8a8a 45.1%,#ff9292 47.6%,#ff9999 50.2%,#ffa0a0 52.7%,#ffa6a6 55.2%,#ffabab 57.7%,#ffb0b0 60.2%,#ffb4b4 62.7%,#ffbaba 65.2%,#ffbfbf 67.7%,#ffc5c5 70.2%,#ffcaca 72.7%,#ffcfcf 75.2%,#ffd3d3 77.7%,#ffd8d8 80.3%,#ffdcdc 82.8%,#ffe1e1 85.3%,#ffe6e6 87.8%,#ffeaea 90.3%,#ffeeee 92.8%,#fff2f2 95.3%,#fff6f6 97.8%,#fff9f9 100.0%)"></div><div style="height:3px;background:linear-gradient(90deg,#ff0000 0.0%,#ff0000 2.5%,#ff0000 5.0%,#ff0101 7.5%,#ff0202 10.0%,#ff0909 12.5%,#ff1515 15.0%,#ff2222 17.6%,#ff2f2f 20.1%,#ff3d3d 22.6%,#ff4b4b 25.1%,#ff5757 27.6%,#ff6161 30.1%,#ff6a6a 32.6%,#ff7272 35.1%,#ff7b7b 37.6%,#ff8484 40.1%,#ff8d8d 42.6%,#ff9595 45.1%,#ff9d9d 47.6%,#ffa3a3 50.2%,#ffaaaa 52.7%,#ffafaf 55.2%,#ffb3b3 57.7%,#ffb6b6 60.2%,#ffbaba 62.7%,#ffbfbf 65.2%,#ffc4c4 67.7%,#ffc9c9 70.2%,#ffcece 72.7%,#ffd3d3 75.2%,#ffd7d7 77.7%,#ffdbdb 80.3%,#ffdfdf 82.8%,#ffe3e3 85.3%,#ffe7e7 87.8%,#ffecec 90.3%,#ffefef 92.8%,#fff3f3 95.3%,#fff6f6 97.8%,#fff9f9 100.0%)"></div><div style="height:3px;background:linear-gradient(90deg,#ff0000 0.0%,#ff0101 2.5%,#ff0202 5.0%,#ff0404 7.5%,#ff0707 10.0%,#ff1111 12.5%,#ff1f1f 15.0%,#ff2e2e 17.6%,#ff3c3c 20.1%,#ff4a4a 22.6%,#ff5858 25.1%,#ff6464 27.6%,#ff6f6f 30.1%,#ff7979 32.6%,#ff8282 35.1%,#ff8b8b 37.6%,#ff9595 40.1%,#ff9e9e 42.6%,#ffa6a6 45.1%,#ffabab 47.6%,#ffb0b0 50.2%,#ffb4b4 52.7%,#ffb7b7 55.2%,#ffbaba 57.7%,#ffbdbd 60.2%,#ffbfbf 62.7%,#ffc3c3 65.2%,#ffc8c8 67.7%,#ffcdcd 70.2%,#ffd2d2 72.7%,#ffd6d6 75.2%,#ffd9d9 77.7%,#ffdddd 80.3%,#ffe1e1 82.8%,#ffe5e5 85.3%,#ffe9e9 87.8%,#ffeded 90.3%,#fff1f1 92.8%,#fff4f4 95.3%,#fff6f6 97.8%,#fff9f9 100.0%)"></div><div style="height:3px;background:linear-gradient(90deg,#ff0000 0.0%,#ff0202 2.5%,#ff0505 5.0%,#ff0a0a 7.5%,#ff0f0f 10.0%,#ff1b1b 12.5%,#ff2c2c 15.0%,#ff3c3c 17.6%,#ff4a4a 20.1%,#ff5858 22.6%,#ff6565 25.1%,#ff7272 27.6%,#ff7e7e 30.1%,#ff8989 32.6%,#ff9494 35.1%,#ff9e9e 37.6%,#ffa8a8 40.1%,#ffb1b1 42.6%,#ffb8b8 45.1%,#ffbbbb 47.6%,#ffbdbd 50.2%,#ffbebe 52.7%,#ffc0c0 55.2%,#ffc1c1 57.7%,#ffc3c3 60.2%,#ffc4c4 62.7%,#ffc7c7 65.2%,#ffcbcb 67.7%,#ffd0d0 70.2%,#ffd5d5 72.7%,#ffd9d9 75.2%,#ffdcdc 77.7%,#ffe0e0 80.3%,#ffe3e3 82.8%,#ffe7e7 85.3%,#ffebeb 87.8%,#ffefef 90.3%,#fff2f2 92.8%,#fff5f5 95.3%,#fff7f7 97.8%,#fff9f9 100.0%)"></div><div style="height:3px;background:linear-gradient(90deg,#ff0000 0.0%,#ff0404 2.5%,#ff0909 5.0%,#ff1010 7.5%,#ff1919 10.0%,#ff2727 12.5%,#ff3939 15.0%,#ff4b4b 17.6%,#ff5959 20.1%,#ff6666 22.6%,#ff7373 25.1%,#ff8080 27.6%,#ff8d8d 30.1%,#ff9a9a 32.6%,#ffa6a6 35.1%,#ffb0b0 37.6%,#ffbaba 40.1%,#ffc3c3 42.6%,#ffc8c8 45.1%,#ffc9c9 47.6%,#ffc8c8 50.2%,#ffc7c7 52.7%,#ffc7c7 55.2%,#ffc8c8 57.7%,#ffc9c9 60.2%,#ffc9c9 62.7%,#ffcbcb 65.2%,#ffcece 67.7%,#ffd3d3 70.2%,#ffd8d8 72.7%,#ffdbdb 75.2%,#ffdfdf 77.7%,#ffe2e2 80.3%,#ffe6e6 82.8%,#ffe9e9 85.3%,#ffeded 87.8%,#fff1f1 90.3%,#fff3f3 92.8%,#fff5f5 95.3%,#fff7f7 97.8%,#fff9f9 100.0%)"></div><div style="height:3px;background:linear-gradient(90deg,#ff0000 0.0%,#ff0606 2.5%,#ff0d0d 5.0%,#ff1717 7.5%,#ff2323 10.0%,#ff3333 12.5%,#ff4747 15.0%,#ff5959 17.6%,#ff6767 20.1%,#ff7474 22.6%,#ff8181 25.1%,#ff8e8e 27.6%,#ff9c9c 30.1%,#ffabab 32.6%,#ffb7b7 35.1%,#ffc1c1 37.6%,#ffc9c9 40.1%,#ffd0d0 42.6%,#ffd4d4 45.1%,#ffd3d3 47.6%,#ffd1d1 50.2%,#ffcfcf 52.7%,#ffcece 55.2%,#ffcece 57.7%,#ffcece 60.2%,#ffcece 62.7%,#ffcfcf 65.2%,#ffd2d2 67.7%,#ffd7d7 70.2%,#ffdbdb 72.7%,#ffdfdf 75.2%,#ffe2e2 77.7%,#ffe6e6 80.3%,#ffe9e9 82.8%,#ffecec 85.3%,#ffefef 87.8%,#fff2f2 90.3%,#fff4f4 92.8%,#fff6f6 95.3%,#fff7f7 97.8%,#fff9f9 100.0%)"></div><div style="height:3px;background:linear-gradient(90deg,#ff0000 0.0%,#ff0808 2.5%,#ff1212 5.0%,#ff1e1e 7.5%,#ff2c2c 10.0%,#ff3f3f 12.5%,#ff5353 15.0%,#ff6666 17.6%,#ff7676 20.1%,#ff8484 22.6%,#ff9090 25.1%,#ff9d9d 27.6%,#ffacac 30.1%,#ffbaba 32.6%,#ffc6c6 35.1%,#ffcece 37.6%,#ffd4d4 40.1%,#ffd9d9 42.6%,#ffdada 45.1%,#ffd9d9 47.6%,#ffd6d6 50.2%,#ffd4d4 52.7%,#ffd3d3 55.2%,#ffd3d3 57.7%,#ffd3d3 60.2%,#ffd4d4 62.7%,#ffd4d4 65.2%,#ffd7d7 67.7%,#ffdbdb 70.2%,#ffdfdf 72.7%,#ffe3e3 75.2%,#ffe7e7 77.7%,#ffebeb 80.3%,#ffeeee 82.8%,#fff0f0 85.3%,#fff1f1 87.8%,#fff2f2 90.3%,#fff4f4 92.8%,#fff5f5 95.3%,#fff7f7 97.8%,#fff9f9 100.0%)"></div><div style="height:3px;background:linear-gradient(90deg,#ff0000 0.0%,#ff0b0b 2.5%,#ff1818 5.0%,#ff2727 7.5%,#ff3838 10.0%,#ff4c4c 12.5%,#ff6161 15.0%,#ff7575 17.6%,#ff8585 20.1%,#ff9494 22.6%,#ffa2a2 25.1%,#ffafaf 27.6%,#ffbdbd 30.1%,#ffcbcb 32.6%,#ffd6d6 35.1%,#ffdcdc 37.6%,#ffdfdf 40.1%,#ffe0e0 42.6%,#ffdfdf 45.1%,#ffdddd 47.6%,#ffdbdb 50.2%,#ffd9d9 52.7%,#ffd8d8 55.2%,#ffd8d8 57.7%,#ffd9d9 60.2%,#ffdada 62.7%,#ffdada 65.2%,#ffdddd 67.7%,#ffe0e0 70.2%,#ffe4e4 72.7%,#ffe8e8 75.2%,#ffeeee 77.7%,#fff3f3 80.3%,#fff6f6 82.8%,#fff5f5 85.3%,#fff3f3 87.8%,#fff2f2 90.3%,#fff3f3 92.8%,#fff5f5 95.3%,#fff7f7 97.8%,#fff9f9 100.0%)"></div><div style="height:3px;background:linear-gradient(90deg,#ff0000 0.0%,#ff0f0f 2.5%,#ff1f1f 5.0%,#ff3131 7.5%,#ff4343 10.0%,#ff5959 12.5%,#ff6f6f 15.0%,#ff8383 17.6%,#ff9595 20.1%,#ffa5a5 22.6%,#ffb4b4 25.1%,#ffc1c1 27.6%,#ffcfcf 30.1%,#ffdbdb 32.6%,#ffe5e5 35.1%,#ffe8e8 37.6%,#ffe8e8 40.1%,#ffe6e6 42.6%,#ffe3e3 45.1%,#ffe1e1 47.6%,#ffdfdf 50.2%,#ffdddd 52.7%,#ffdcdc 55.2%,#ffdddd 57.7%,#ffdede 60.2%,#ffe0e0 62.7%,#ffe1e1 65.2%,#ffe3e3 67.7%,#ffe5e5 70.2%,#ffe8e8 72.7%,#ffeeee 75.2%,#fff6f6 77.7%,#fffdfd 80.3%,#fffefe 82.8%,#fffbfb 85.3%,#fff5f5 87.8%,#fff2f2 90.3%,#fff3f3 92.8%,#fff4f4 95.3%,#fff6f6 97.8%,#fff9f9 100.0%)"></div><div style="height:3px;background:linear-gradient(90deg,#ff0000 0.0%,#ff1313 2.5%,#ff2626 5.0%,#ff3a3a 7.5%,#ff4f4f 10.0%,#ff6565 12.5%,#ff7c7c 15.0%,#ff9090 17.6%,#ffa3a3 20.1%,#ffb4b4 22.6%,#ffc3c3 25.1%,#ffd0d0 27.6%,#ffdddd 30.1%,#ffe9e9 32.6%,#fff1f1 35.1%,#fff2f2 37.6%,#ffefef 40.1%,#ffebeb 42.6%,#ffe7e7 45.1%,#ffe4e4 47.6%,#ffe2e2 50.2%,#ffe0e0 52.7%,#ffdfdf 55.2%,#ffe1e1 57.7%,#ffe3e3 60.2%,#ffe5e5 62.7%,#ffe6e6 65.2%,#ffe8e8 67.7%,#ffeaea 70.2%,#ffecec 72.7%,#fff3f3 75.2%,#fffdfd 77.7%,#f8f8ff 80.3%,#f7f7ff 82.8%,#fdfdff 85.3%,#fff8f8 87.8%,#fff2f2 90.3%,#fff2f2 92.8%,#fff3f3 95.3%,#fff5f5 97.8%,#fff9f9 100.0%)"></div><div style="height:3px;background:linear-gradient(90deg,#ff0000 0.0%,#ff1616 2.5%,#ff2c2c 5.0%,#ff4242 7.5%,#ff5858 10.0%,#ff6f6f 12.5%,#ff8686 15.0%,#ff9b9b 17.6%,#ffadad 20.1%,#ffbebe 22.6%,#ffcece 25.1%,#ffdada 27.6%,#ffe6e6 30.1%,#fff1f1 32.6%,#fff8f8 35.1%,#fff8f8 37.6%,#fff4f4 40.1%,#ffeeee 42.6%,#ffe9e9 45.1%,#ffe7e7 47.6%,#ffe4e4 50.2%,#ffe3e3 52.7%,#ffe2e2 55.2%,#ffe4e4 57.7%,#ffe6e6 60.2%,#ffe8e8 62.7%,#ffeaea 65.2%,#ffebeb 67.7%,#ffeded 70.2%,#ffefef 72.7%,#fff7f7 75.2%,#fbfbff 77.7%,#f1f1ff 80.3%,#f0f0ff 82.8%,#f8f8ff 85.3%,#fffafa 87.8%,#fff3f3 90.3%,#fff2f2 92.8%,#fff3f3 95.3%,#fff5f5 97.8%,#fff9f9 100.0%)"></div><div style="height:3px;background:linear-gradient(90deg,#ff0000 0.0%,#ff1919 2.5%,#ff3131 5.0%,#ff4949 7.5%,#ff6060 10.0%,#ff7878 12.5%,#ff8f8f 15.0%,#ffa4a4 17.6%,#ffb6b6 20.1%,#ffc7c7 22.6%,#ffd5d5 25.1%,#ffe1e1 27.6%,#ffecec 30.1%,#fff6f6 32.6%,#fffcfc 35.1%,#fffcfc 37.6%,#fff7f7 40.1%,#fff0f0 42.6%,#ffebeb 45.1%,#ffe9e9 47.6%,#ffe7e7 50.2%,#ffe5e5 52.7%,#ffe5e5 55.2%,#ffe6e6 57.7%,#ffe8e8 60.2%,#ffeaea 62.7%,#ffecec 65.2%,#ffeded 67.7%,#ffefef 70.2%,#fff1f1 72.7%,#fff9f9 75.2%,#f7f7ff 77.7%,#ececff 80.3%,#eaeaff 82.8%,#f4f4ff 85.3%,#fffdfd 87.8%,#fff4f4 90.3%,#fff3f3 92.8%,#fff4f4 95.3%,#fff6f6 97.8%,#fff9f9 100.0%)"></div><div style="height:3px;background:linear-gradient(90deg,#ff0000 0.0%,#ff1c1c 2.5%,#ff3636 5.0%,#ff5050 7.5%,#ff6868 10.0%,#ff8080 12.5%,#ff9797 15.0%,#ffabab 17.6%,#ffbdbd 20.1%,#ffcece 22.6%,#ffdcdc 25.1%,#ffe7e7 27.6%,#fff1f1 30.1%,#fffafa 32.6%,#fefeff 35.1%,#fefeff 37.6%,#fffafa 40.1%,#fff2f2 42.6%,#ffeded 45.1%,#ffebeb 47.6%,#ffe9e9 50.2%,#ffe8e8 52.7%,#ffe7e7 55.2%,#ffe8e8 57.7%,#ffeaea 60.2%,#ffecec 62.7%,#ffeded 65.2%,#ffefef 67.7%,#fff0f0 70.2%,#fff3f3 72.7%,#fffcfc 75.2%,#f3f3ff 77.7%,#e7e7ff 80.3%,#e5e5ff 82.8%,#f0f0ff 85.3%,#ffffff 87.8%,#fff5f5 90.3%,#fff4f4 92.8%,#fff5f5 95.3%,#fff7f7 97.8%,#fffafa 100.0%)"></div><div style="height:3px;background:linear-gradient(90deg,#ff0000 0.0%,#ff1e1e 2.5%,#ff3b3b 5.0%,#ff5656 7.5%,#ff6f6f 10.0%,#ff8787 12.5%,#ff9e9e 15.0%,#ffb2b2 17.6%,#ffc4c4 20.1%,#ffd4d4 22.6%,#ffe2e2 25.1%,#ffecec 27.6%,#fff6f6 30.1%,#fffefe 32.6%,#fbfbff 35.1%,#fcfcff 37.6%,#fffcfc 40.1%,#fff4f4 42.6%,#ffeeee 45.1%,#ffecec 47.6%,#ffebeb 50.2%,#ffeaea 52.7%,#ffe9e9 55.2%,#ffeaea 57.7%,#ffecec 60.2%,#ffeded 62.7%,#ffefef 65.2%,#fff0f0 67.7%,#fff2f2 70.2%,#fff4f4 72.7%,#fffefe 75.2%,#f0f0ff 77.7%,#e2e2ff 80.3%,#e0e0ff 82.8%,#ececff 85.3%,#fcfcff 87.8%,#fff8f8 90.3%,#fff7f7 92.8%,#fff7f7 95.3%,#fff9f9 97.8%,#fffcfc 100.0%)"></div><div style="height:3px;background:linear-gradient(90deg,#ff0000 0.0%,#ff2020 2.5%,#ff3f3f 5.0%,#ff5b5b 7.5%,#ff7575 10.0%,#ff8e8e 12.5%,#ffa4a4 15.0%,#ffb8b8 17.6%,#ffc9c9 20.1%,#ffd8d8 22.6%,#ffe6e6 25.1%,#ffefef 27.6%,#fff8f8 30.1%,#fefeff 32.6%,#fafaff 35.1%,#fafaff 37.6%,#fffdfd 40.1%,#fff5f5 42.6%,#ffefef 45.1%,#ffeded 47.6%,#ffecec 50.2%,#ffebeb 52.7%,#ffebeb 55.2%,#ffecec 57.7%,#ffeded 60.2%,#ffeeee 62.7%,#fff0f0 65.2%,#fff1f1 67.7%,#fff3f3 70.2%,#fff5f5 72.7%,#ffffff 75.2%,#ededff 77.7%,#dedeff 80.3%,#dcdcff 82.8%,#e8e8ff 85.3%,#f9f9ff 87.8%,#fffafa 90.3%,#fffafa 92.8%,#fffafa 95.3%,#fffbfb 97.8%,#fffefe 100.0%)"></div><div style="height:3px;background:linear-gradient(90deg,#ff0000 0.0%,#ff2222 2.5%,#ff4242 5.0%,#ff5f5f 7.5%,#ff7979 10.0%,#ff9292 12.5%,#ffa8a8 15.0%,#ffbbbb 17.6%,#ffcbcb 20.1%,#ffdada 22.6%,#ffe6e6 25.1%,#fff0f0 27.6%,#fff9f9 30.1%,#fefeff 32.6%,#f9f9ff 35.1%,#fafaff 37.6%,#fffefe 40.1%,#fff5f5 42.6%,#ffefef 45.1%,#ffeeee 47.6%,#ffeded 50.2%,#ffecec 52.7%,#ffecec 55.2%,#ffecec 57.7%,#ffeded 60.2%,#ffefef 62.7%,#fff0f0 65.2%,#fff1f1 67.7%,#fff3f3 70.2%,#fff5f5 72.7%,#fefeff 75.2%,#ececff 77.7%,#dcdcff 80.3%,#dadaff 82.8%,#e6e6ff 85.3%,#f7f7ff 87.8%,#fffcfc 90.3%,#fffcfc 92.8%,#fffcfc 95.3%,#fffdfd 97.8%,#ffffff 100.0%)"></div></div></div>
<div style="position:absolute;left:1048.25px;top:557.00px;width:319.75px;height:399.70px;overflow:hidden"><div style="filter:blur(1.2px);margin:-3px 0;padding:3px 0"><div style="height:3px;background:linear-gradient(90deg,#fffbfb 0.0%,#fefeff 2.5%,#fafaff 5.0%,#f7f7ff 7.5%,#f5f5ff 10.0%,#f4f4ff 12.5%,#f3f3ff 15.0%,#f3f3ff 17.5%,#f4f4ff 20.0%,#f6f6ff 22.5%,#f9f9ff 25.0%,#fbfbff 27.5%,#fdfdff 30.0%,#fefeff 32.5%,#ffffff 35.0%,#ffffff 37.5%,#fdfdff 40.0%,#fbfbff 42.5%,#fafaff 45.0%,#f8f8ff 47.5%,#f7f7ff 50.0%,#f7f7ff 52.5%,#f6f6ff 55.0%,#f8f8ff 57.5%,#fcfcff 60.0%,#ffffff 62.5%,#ffffff 65.1%,#ffffff 67.6%,#ffffff 70.1%,#ffffff 72.6%,#ffffff 75.1%,#fefeff 77.6%,#fefeff 80.1%,#fefeff 82.6%,#fefeff 85.1%,#fcfcff 87.6%,#fcfcff 90.1%,#fcfcff 92.6%,#fcfcff 95.1%,#fdfdff 97.6%,#ffffff 100.0%)"></div><div style="height:3px;background:linear-gradient(90deg,#fff9f9 0.0%,#fffefe 2.5%,#fbfbff 5.0%,#f8f8ff 7.5%,#f6f6ff 10.0%,#f5f5ff 12.5%,#f4f4ff 15.0%,#f4f4ff 17.5%,#f4f4ff 20.0%,#f6f6ff 22.5%,#f8f8ff 25.0%,#fafaff 27.5%,#fbfbff 30.0%,#fdfdff 32.5%,#ffffff 35.0%,#ffffff 37.5%,#fdfdff 40.0%,#fcfcff 42.5%,#fbfbff 45.0%,#fafaff 47.5%,#f9f9ff 50.0%,#f8f8ff 52.5%,#f8f8ff 55.0%,#fafaff 57.5%,#fdfdff 60.0%,#ffffff 62.5%,#ffffff 65.1%,#ffffff 67.6%,#fefeff 70.1%,#fefeff 72.6%,#fefeff 75.1%,#fdfdff 77.6%,#fdfdff 80.1%,#fdfdff 82.6%,#fdfdff 85.1%,#fcfcff 87.6%,#fbfbff 90.1%,#fbfbff 92.6%,#fcfcff 95.1%,#fdfdff 97.6%,#ffffff 100.0%)"></div><div style="height:3px;background:linear-gradient(90deg,#fff7f7 0.0%,#fffdfd 2.5%,#fdfdff 5.0%,#f9f9ff 7.5%,#f7f7ff 10.0%,#f6f6ff 12.5%,#f5f5ff 15.0%,#f5f5ff 17.5%,#f5f5ff 20.0%,#f6f6ff 22.5%,#f8f8ff 25.0%,#f9f9ff 27.5%,#fafaff 30.0%,#fcfcff 32.5%,#fefeff 35.0%,#ffffff 37.5%,#fdfdff 40.0%,#fdfdff 42.5%,#fcfcff 45.0%,#fbfbff 47.5%,#fafaff 50.0%,#fafaff 52.5%,#f9f9ff 55.0%,#fbfbff 57.5%,#fdfdff 60.0%,#ffffff 62.5%,#ffffff 65.1%,#ffffff 67.6%,#fefeff 70.1%,#fefeff 72.6%,#fdfdff 75.1%,#fdfdff 77.6%,#fcfcff 80.1%,#fcfcff 82.6%,#fcfcff 85.1%,#fbfbff 87.6%,#fbfbff 90.1%,#fbfbff 92.6%,#fcfcff 95.1%,#fdfdff 97.6%,#fefeff 100.0%)"></div><div style="height:3px;background:linear-gradient(90deg,#fff6f6 0.0%,#fffbfb 2.5%,#fefeff 5.0%,#fafaff 7.5%,#f8f8ff 10.0%,#f7f7ff 12.5%,#f6f6ff 15.0%,#f6f6ff 17.5%,#f5f5ff 20.0%,#f6f6ff 22.5%,#f7f7ff 25.0%,#f7f7ff 27.5%,#f9f9ff 30.0%,#fcfcff 32.5%,#fefeff 35.0%,#fefeff 37.5%,#fefeff 40.0%,#fefeff 42.5%,#fdfdff 45.0%,#fcfcff 47.5%,#fcfcff 50.0%,#fbfbff 52.5%,#fbfbff 55.0%,#fcfcff 57.5%,#fdfdff 60.0%,#ffffff 62.5%,#ffffff 65.1%,#fefeff 67.6%,#fefeff 70.1%,#fdfdff 72.6%,#fdfdff 75.1%,#fcfcff 77.6%,#fbfbff 80.1%,#fbfbff 82.6%,#fbfbff 85.1%,#fafaff 87.6%,#fafaff 90.1%,#fafaff 92.6%,#fbfbff 95.1%,#fdfdff 97.6%,#fefeff 100.0%)"></div><div style="height:3px;background:linear-gradient(90deg,#fff5f5 0.0%,#fffafa 2.5%,#ffffff 5.0%,#fbfbff 7.5%,#f9f9ff 10.0%,#f8f8ff 12.5%,#f7f7ff 15.0%,#f7f7ff 17.5%,#f6f6ff 20.0%,#f6f6ff 22.5%,#f6f6ff 25.0%,#f6f6ff 27.5%,#f8f8ff 30.0%,#fbfbff 32.5%,#fdfdff 35.0%,#fefeff 37.5%,#fefeff 40.0%,#fefeff 42.5%,#fefeff 45.0%,#fdfdff 47.5%,#fdfdff 50.0%,#fcfcff 52.5%,#fcfcff 55.0%,#fdfdff 57.5%,#fefeff 60.0%,#ffffff 62.5%,#ffffff 65.1%,#fefeff 67.6%,#fefeff 70.1%,#fdfdff 72.6%,#fcfcff 75.1%,#fbfbff 77.6%,#fbfbff 80.1%,#fafaff 82.6%,#fafaff 85.1%,#fafaff 87.6%,#fafaff 90.1%,#fafaff 92.6%,#fbfbff 95.1%,#fcfcff 97.6%,#fefeff 100.0%)"></div><div style="height:3px;background:linear-gradient(90deg,#fff4f4 0.0%,#fff9f9 2.5%,#fffefe 5.0%,#fcfcff 7.5%,#fafaff 10.0%,#f9f9ff 12.5%,#f8f8ff 15.0%,#f8f8ff 17.5%,#f6f6ff 20.0%,#f6f6ff 22.5%,#f5f5ff 25.0%,#f5f5ff 27.5%,#f7f7ff 30.0%,#fafaff 32.5%,#fdfdff 35.0%,#fefeff 37.5%,#fefeff 40.0%,#fefeff 42.5%,#fefeff 45.0%,#fefeff 47.5%,#fdfdff 50.0%,#fdfdff 52.5%,#fdfdff 55.0%,#fdfdff 57.5%,#fefeff 60.0%,#ffffff 62.5%,#ffffff 65.1%,#fefeff 67.6%,#fdfdff 70.1%,#fcfcff 72.6%,#fcfcff 75.1%,#fbfbff 77.6%,#fafaff 80.1%,#fafaff 82.6%,#fafaff 85.1%,#f9f9ff 87.6%,#f9f9ff 90.1%,#fafaff 92.6%,#fbfbff 95.1%,#fcfcff 97.6%,#fdfdff 100.0%)"></div><div style="height:3px;background:linear-gradient(90deg,#fff3f3 0.0%,#fff8f8 2.5%,#fffdfd 5.0%,#fdfdff 7.5%,#fbfbff 10.0%,#f9f9ff 12.5%,#f9f9ff 15.0%,#f8f8ff 17.5%,#f7f7ff 20.0%,#f5f5ff 22.5%,#f5f5ff 25.0%,#f4f4ff 27.5%,#f6f6ff 30.0%,#fafaff 32.5%,#fcfcff 35.0%,#fefeff 37.5%,#fefeff 40.0%,#fefeff 42.5%,#ffffff 45.0%,#fefeff 47.5%,#fefeff 50.0%,#fefeff 52.5%,#fefeff 55.0%,#fefeff 57.5%,#ffffff 60.0%,#ffffff 62.5%,#ffffff 65.1%,#fefeff 67.6%,#fdfdff 70.1%,#fcfcff 72.6%,#fbfbff 75.1%,#fafaff 77.6%,#f9f9ff 80.1%,#f9f9ff 82.6%,#f9f9ff 85.1%,#f9f9ff 87.6%,#f9f9ff 90.1%,#f9f9ff 92.6%,#fafaff 95.1%,#fcfcff 97.6%,#fdfdff 100.0%)"></div><div style="height:3px;background:linear-gradient(90deg,#fff3f3 0.0%,#fff7f7 2.5%,#fffcfc 5.0%,#fefeff 7.5%,#fcfcff 10.0%,#fafaff 12.5%,#fafaff 15.0%,#f9f9ff 17.5%,#f7f7ff 20.0%,#f5f5ff 22.5%,#f4f4ff 25.0%,#f4f4ff 27.5%,#f5f5ff 30.0%,#f9f9ff 32.5%,#fcfcff 35.0%,#fdfdff 37.5%,#fefeff 40.0%,#ffffff 42.5%,#ffffff 45.0%,#ffffff 47.5%,#ffffff 50.0%,#ffffff 52.5%,#fefeff 55.0%,#ffffff 57.5%,#ffffff 60.0%,#ffffff 62.5%,#ffffff 65.1%,#fefeff 67.6%,#fdfdff 70.1%,#fcfcff 72.6%,#fbfbff 75.1%,#fafaff 77.6%,#f9f9ff 80.1%,#f9f9ff 82.6%,#f9f9ff 85.1%,#f9f9ff 87.6%,#f9f9ff 90.1%,#f9f9ff 92.6%,#fafaff 95.1%,#fbfbff 97.6%,#fdfdff 100.0%)"></div><div style="height:3px;background:linear-gradient(90deg,#fff2f2 0.0%,#fff7f7 2.5%,#fffbfb 5.0%,#fffefe 7.5%,#fdfdff 10.0%,#fbfbff 12.5%,#fafaff 15.0%,#f9f9ff 17.5%,#f7f7ff 20.0%,#f5f5ff 22.5%,#f3f3ff 25.0%,#f3f3ff 27.5%,#f5f5ff 30.0%,#f8f8ff 32.5%,#fbfbff 35.0%,#fdfdff 37.5%,#fefeff 40.0%,#ffffff 42.5%,#ffffff 45.0%,#ffffff 47.5%,#ffffff 50.0%,#ffffff 52.5%,#ffffff 55.0%,#ffffff 57.5%,#ffffff 60.0%,#ffffff 62.5%,#ffffff 65.1%,#fefeff 67.6%,#fdfdff 70.1%,#fcfcff 72.6%,#fbfbff 75.1%,#fafaff 77.6%,#f9f9ff 80.1%,#f9f9ff 82.6%,#f9f9ff 85.1%,#f9f9ff 87.6%,#f9f9ff 90.1%,#f9f9ff 92.6%,#fafaff 95.1%,#fbfbff 97.6%,#fcfcff 100.0%)"></div><div style="height:3px;background:linear-gradient(90deg,#fff2f2 0.0%,#fff6f6 2.5%,#fffafa 5.0%,#fffdfd 7.5%,#fefeff 10.0%,#fcfcff 12.5%,#fbfbff 15.0%,#f9f9ff 17.5%,#f7f7ff 20.0%,#f5f5ff 22.5%,#f3f3ff 25.0%,#f2f2ff 27.5%,#f4f4ff 30.0%,#f7f7ff 32.5%,#fbfbff 35.0%,#fcfcff 37.5%,#fefeff 40.0%,#ffffff 42.5%,#ffffff 45.0%,#ffffff 47.5%,#ffffff 50.0%,#ffffff 52.5%,#ffffff 55.0%,#ffffff 57.5%,#ffffff 60.0%,#ffffff 62.5%,#ffffff 65.1%,#fefeff 67.6%,#fdfdff 70.1%,#fcfcff 72.6%,#fbfbff 75.1%,#fafaff 77.6%,#f9f9ff 80.1%,#f9f9ff 82.6%,#f9f9ff 85.1%,#f9f9ff 87.6%,#f9f9ff 90.1%,#f9f9ff 92.6%,#f9f9ff 95.1%,#fbfbff 97.6%,#fcfcff 100.0%)"></div><div style="height:3px;background:linear-gradient(90deg,#fff2f2 0.0%,#fff6f6 2.5%,#fff9f9 5.0%,#fffcfc 7.5%,#ffffff 10.0%,#fdfdff 12.5%,#fbfbff 15.0%,#f9f9ff 17.5%,#f7f7ff 20.0%,#f5f5ff 22.5%,#f2f2ff 25.0%,#f2f2ff 27.5%,#f3f3ff 30.0%,#f7f7ff 32.5%,#fafaff 35.0%,#fcfcff 37.5%,#fdfdff 40.0%,#fefeff 42.5%,#ffffff 45.0%,#ffffff 47.5%,#ffffff 50.0%,#ffffff 52.5%,#ffffff 55.0%,#ffffff 57.5%,#ffffff 60.0%,#ffffff 62.5%,#ffffff 65.1%,#fefeff 67.6%,#fdfdff 70.1%,#fcfcff 72.6%,#fbfbff 75.1%,#fafaff 77.6%,#f9f9ff 80.1%,#f9f9ff 82.6%,#f9f9ff 85.1%,#f9f9ff 87.6%,#f9f9ff 90.1%,#f9f9ff 92.6%,#f9f9ff 95.1%,#fafaff 97.6%,#fbfbff 100.0%)"></div><div style="height:3px;background:linear-gradient(90deg,#fff3f3 0.0%,#fff6f6 2.5%,#fff8f8 5.0%,#fffbfb 7.5%,#fffdfd 10.0%,#fefeff 12.5%,#fbfbff 15.0%,#f9f9ff 17.5%,#f7f7ff 20.0%,#f4f4ff 22.5%,#f2f2ff 25.0%,#f1f1ff 27.5%,#f3f3ff 30.0%,#f6f6ff 32.5%,#f9f9ff 35.0%,#fbfbff 37.5%,#fcfcff 40.0%,#fdfdff 42.5%,#fefeff 45.0%,#fefeff 47.5%,#fefeff 50.0%,#fefeff 52.5%,#ffffff 55.0%,#ffffff 57.5%,#ffffff 60.0%,#ffffff 62.5%,#ffffff 65.1%,#fefeff 67.6%,#fdfdff 70.1%,#fcfcff 72.6%,#fbfbff 75.1%,#fafaff 77.6%,#fafaff 80.1%,#f9f9ff 82.6%,#f9f9ff 85.1%,#f9f9ff 87.6%,#f9f9ff 90.1%,#f9f9ff 92.6%,#f9f9ff 95.1%,#fafaff 97.6%,#fbfbff 100.0%)"></div><div style="height:3px;background:linear-gradient(90deg,#fff4f4 0.0%,#fff6f6 2.5%,#fff7f7 5.0%,#fff9f9 7.5%,#fffbfb 10.0%,#fffefe 12.5%,#fcfcff 15.0%,#f8f8ff 17.5%,#f6f6ff 20.0%,#f4f4ff 22.5%,#f1f1ff 25.0%,#f1f1ff 27.5%,#f2f2ff 30.0%,#f5f5ff 32.5%,#f8f8ff 35.0%,#f9f9ff 37.5%,#fbfbff 40.0%,#fcfcff 42.5%,#fcfcff 45.0%,#fcfcff 47.5%,#fdfdff 50.0%,#fefeff 52.5%,#fefeff 55.0%,#ffffff 57.5%,#ffffff 60.0%,#ffffff 62.5%,#ffffff 65.1%,#fefeff 67.6%,#fdfdff 70.1%,#fdfdff 72.6%,#fcfcff 75.1%,#fbfbff 77.6%,#fafaff 80.1%,#fafaff 82.6%,#fafaff 85.1%,#f9f9ff 87.6%,#f9f9ff 90.1%,#f8f8ff 92.6%,#f9f9ff 95.1%,#f9f9ff 97.6%,#fafaff 100.0%)"></div><div style="height:3px;background:linear-gradient(90deg,#fff5f5 0.0%,#fff6f6 2.5%,#fff7f7 5.0%,#fff8f8 7.5%,#fff9f9 10.0%,#fffdfd 12.5%,#fcfcff 15.0%,#f8f8ff 17.5%,#f6f6ff 20.0%,#f3f3ff 22.5%,#f1f1ff 25.0%,#f0f0ff 27.5%,#f2f2ff 30.0%,#f4f4ff 32.5%,#f7f7ff 35.0%,#f8f8ff 37.5%,#f9f9ff 40.0%,#fafaff 42.5%,#fafaff 45.0%,#fbfbff 47.5%,#fcfcff 50.0%,#fdfdff 52.5%,#fefeff 55.0%,#fefeff 57.5%,#ffffff 60.0%,#ffffff 62.5%,#ffffff 65.1%,#fefeff 67.6%,#fefeff 70.1%,#fdfdff 72.6%,#fcfcff 75.1%,#fcfcff 77.6%,#fbfbff 80.1%,#fbfbff 82.6%,#fafaff 85.1%,#fafaff 87.6%,#f9f9ff 90.1%,#f8f8ff 92.6%,#f8f8ff 95.1%,#f8f8ff 97.6%,#f9f9ff 100.0%)"></div><div style="height:3px;background:linear-gradient(90deg,#fff7f7 0.0%,#fff6f6 2.5%,#fff6f6 5.0%,#fff6f6 7.5%,#fff8f8 10.0%,#fffcfc 12.5%,#fcfcff 15.0%,#f8f8ff 17.5%,#f5f5ff 20.0%,#f3f3ff 22.5%,#f1f1ff 25.0%,#f0f0ff 27.5%,#f1f1ff 30.0%,#f3f3ff 32.5%,#f5f5ff 35.0%,#f7f7ff 37.5%,#f8f8ff 40.0%,#f8f8ff 42.5%,#f8f8ff 45.0%,#f9f9ff 47.5%,#fafaff 50.0%,#fcfcff 52.5%,#fdfdff 55.0%,#fefeff 57.5%,#ffffff 60.0%,#ffffff 62.5%,#ffffff 65.1%,#ffffff 67.6%,#fefeff 70.1%,#fefeff 72.6%,#fdfdff 75.1%,#fdfdff 77.6%,#fcfcff 80.1%,#fcfcff 82.6%,#fbfbff 85.1%,#fafaff 87.6%,#f9f9ff 90.1%,#f8f8ff 92.6%,#f8f8ff 95.1%,#f8f8ff 97.6%,#f8f8ff 100.0%)"></div><div style="height:3px;background:linear-gradient(90deg,#fff8f8 0.0%,#fff6f6 2.5%,#fff5f5 5.0%,#fff5f5 7.5%,#fff6f6 10.0%,#fffbfb 12.5%,#fdfdff 15.0%,#f7f7ff 17.5%,#f5f5ff 20.0%,#f2f2ff 22.5%,#f0f0ff 25.0%,#f0f0ff 27.5%,#f1f1ff 30.0%,#f2f2ff 32.5%,#f4f4ff 35.0%,#f5f5ff 37.5%,#f6f6ff 40.0%,#f6f6ff 42.5%,#f6f6ff 45.0%,#f7f7ff 47.5%,#f9f9ff 50.0%,#fcfcff 52.5%,#fdfdff 55.0%,#fefeff 57.5%,#ffffff 60.0%,#ffffff 62.5%,#ffffff 65.1%,#ffffff 67.6%,#fefeff 70.1%,#fefeff 72.6%,#fefeff 75.1%,#fdfdff 77.6%,#fdfdff 80.1%,#fdfdff 82.6%,#fcfcff 85.1%,#fafaff 87.6%,#f9f9ff 90.1%,#f8f8ff 92.6%,#f8f8ff 95.1%,#f7f7ff 97.6%,#f7f7ff 100.0%)"></div><div style="height:3px;background:linear-gradient(90deg,#fff9f9 0.0%,#fff6f6 2.5%,#fff4f4 5.0%,#fff4f4 7.5%,#fff5f5 10.0%,#fffafa 12.5%,#fdfdff 15.0%,#f7f7ff 17.5%,#f4f4ff 20.0%,#f2f2ff 22.5%,#f0f0ff 25.0%,#efefff 27.5%,#f0f0ff 30.0%,#f2f2ff 32.5%,#f3f3ff 35.0%,#f4f4ff 37.5%,#f4f4ff 40.0%,#f4f4ff 42.5%,#f4f4ff 45.0%,#f5f5ff 47.5%,#f8f8ff 50.0%,#fbfbff 52.5%,#fdfdff 55.0%,#fefeff 57.5%,#ffffff 60.0%,#ffffff 62.5%,#ffffff 65.1%,#ffffff 67.6%,#ffffff 70.1%,#fefeff 72.6%,#fefeff 75.1%,#fefeff 77.6%,#fefeff 80.1%,#fefeff 82.6%,#fdfdff 85.1%,#fbfbff 87.6%,#f9f9ff 90.1%,#f8f8ff 92.6%,#f7f7ff 95.1%,#f7f7ff 97.6%,#f6f6ff 100.0%)"></div><div style="height:3px;background:linear-gradient(90deg,#fffbfb 0.0%,#fff6f6 2.5%,#fff4f4 5.0%,#fff3f3 7.5%,#fff3f3 10.0%,#fff9f9 12.5%,#fdfdff 15.0%,#f7f7ff 17.5%,#f4f4ff 20.0%,#f1f1ff 22.5%,#f0f0ff 25.0%,#efefff 27.5%,#f0f0ff 30.0%,#f1f1ff 32.5%,#f3f3ff 35.0%,#f3f3ff 37.5%,#f3f3ff 40.0%,#f3f3ff 42.5%,#f3f3ff 45.0%,#f4f4ff 47.5%,#f7f7ff 50.0%,#fafaff 52.5%,#fcfcff 55.0%,#fefeff 57.5%,#ffffff 60.0%,#ffffff 62.5%,#ffffff 65.1%,#ffffff 67.6%,#ffffff 70.1%,#ffffff 72.6%,#ffffff 75.1%,#ffffff 77.6%,#ffffff 80.1%,#fefeff 82.6%,#fdfdff 85.1%,#fbfbff 87.6%,#f9f9ff 90.1%,#f8f8ff 92.6%,#f7f7ff 95.1%,#f6f6ff 97.6%,#f6f6ff 100.0%)"></div><div style="height:3px;background:linear-gradient(90deg,#fffbfb 0.0%,#fff6f6 2.5%,#fff4f4 5.0%,#fff2f2 7.5%,#fff3f3 10.0%,#fff9f9 12.5%,#fdfdff 15.0%,#f6f6ff 17.5%,#f4f4ff 20.0%,#f1f1ff 22.5%,#f0f0ff 25.0%,#efefff 27.5%,#f0f0ff 30.0%,#f1f1ff 32.5%,#f2f2ff 35.0%,#f2f2ff 37.5%,#f2f2ff 40.0%,#f2f2ff 42.5%,#f2f2ff 45.0%,#f3f3ff 47.5%,#f7f7ff 50.0%,#fafaff 52.5%,#fcfcff 55.0%,#fdfdff 57.5%,#fefeff 60.0%,#ffffff 62.5%,#ffffff 65.1%,#ffffff 67.6%,#ffffff 70.1%,#ffffff 72.6%,#ffffff 75.1%,#ffffff 77.6%,#ffffff 80.1%,#ffffff 82.6%,#fdfdff 85.1%,#fbfbff 87.6%,#f9f9ff 90.1%,#f8f8ff 92.6%,#f7f7ff 95.1%,#f6f6ff 97.6%,#f5f5ff 100.0%)"></div><div style="height:3px;background:linear-gradient(90deg,#fffcfc 0.0%,#fff6f6 2.5%,#fff4f4 5.0%,#fff2f2 7.5%,#fff3f3 10.0%,#fff9f9 12.5%,#fdfdff 15.0%,#f6f6ff 17.5%,#f4f4ff 20.0%,#f1f1ff 22.5%,#f0f0ff 25.0%,#efefff 27.5%,#f0f0ff 30.0%,#f1f1ff 32.5%,#f2f2ff 35.0%,#f2f2ff 37.5%,#f2f2ff 40.0%,#f2f2ff 42.5%,#f2f2ff 45.0%,#f3f3ff 47.5%,#f7f7ff 50.0%,#fafaff 52.5%,#fcfcff 55.0%,#fdfdff 57.5%,#fefeff 60.0%,#ffffff 62.5%,#ffffff 65.1%,#ffffff 67.6%,#ffffff 70.1%,#ffffff 72.6%,#ffffff 75.1%,#ffffff 77.6%,#ffffff 80.1%,#ffffff 82.6%,#fdfdff 85.1%,#fbfbff 87.6%,#f9f9ff 90.1%,#f8f8ff 92.6%,#f7f7ff 95.1%,#f6f6ff 97.6%,#f5f5ff 100.0%)"></div><div style="height:3px;background:linear-gradient(90deg,#fffdfd 0.0%,#fff7f7 2.5%,#fff4f4 5.0%,#fff3f3 7.5%,#fff4f4 10.0%,#fff9f9 12.5%,#fdfdff 15.0%,#f7f7ff 17.5%,#f4f4ff 20.0%,#f2f2ff 22.5%,#f0f0ff 25.0%,#f0f0ff 27.5%,#f0f0ff 30.0%,#f1f1ff 32.5%,#f2f2ff 35.0%,#f3f3ff 37.5%,#f3f3ff 40.0%,#f3f3ff 42.5%,#f3f3ff 45.0%,#f4f4ff 47.5%,#f7f7ff 50.0%,#fafaff 52.5%,#fcfcff 55.0%,#fdfdff 57.5%,#fefeff 60.0%,#fefeff 62.5%,#fefeff 65.1%,#fefeff 67.6%,#fefeff 70.1%,#fefeff 72.6%,#fefeff 75.1%,#fefeff 77.6%,#ffffff 80.1%,#fefeff 82.6%,#fdfdff 85.1%,#fbfbff 87.6%,#f9f9ff 90.1%,#f8f8ff 92.6%,#f7f7ff 95.1%,#f6f6ff 97.6%,#f5f5ff 100.0%)"></div><div style="height:3px;background:linear-gradient(90deg,#fffdfd 0.0%,#fff8f8 2.5%,#fff5f5 5.0%,#fff4f4 7.5%,#fff5f5 10.0%,#fffafa 12.5%,#fdfdff 15.0%,#f7f7ff 17.5%,#f5f5ff 20.0%,#f3f3ff 22.5%,#f1f1ff 25.0%,#f1f1ff 27.5%,#f1f1ff 30.0%,#f2f2ff 32.5%,#f3f3ff 35.0%,#f3f3ff 37.5%,#f3f3ff 40.0%,#f3f3ff 42.5%,#f4f4ff 45.0%,#f5f5ff 47.5%,#f8f8ff 50.0%,#fbfbff 52.5%,#fdfdff 55.0%,#fdfdff 57.5%,#fdfdff 60.0%,#fdfdff 62.5%,#fdfdff 65.1%,#fdfdff 67.6%,#fdfdff 70.1%,#fdfdff 72.6%,#fdfdff 75.1%,#fdfdff 77.6%,#fefeff 80.1%,#fefeff 82.6%,#fdfdff 85.1%,#fafaff 87.6%,#f9f9ff 90.1%,#f7f7ff 92.6%,#f6f6ff 95.1%,#f6f6ff 97.6%,#f5f5ff 100.0%)"></div><div style="height:3px;background:linear-gradient(90deg,#fffdfd 0.0%,#fff9f9 2.5%,#fff7f7 5.0%,#fff6f6 7.5%,#fff6f6 10.0%,#fffbfb 12.5%,#fdfdff 15.0%,#f8f8ff 17.5%,#f6f6ff 20.0%,#f4f4ff 22.5%,#f3f3ff 25.0%,#f2f2ff 27.5%,#f2f2ff 30.0%,#f3f3ff 32.5%,#f3f3ff 35.0%,#f4f4ff 37.5%,#f4f4ff 40.0%,#f4f4ff 42.5%,#f5f5ff 45.0%,#f6f6ff 47.5%,#f9f9ff 50.0%,#fbfbff 52.5%,#fdfdff 55.0%,#fdfdff 57.5%,#fdfdff 60.0%,#fcfcff 62.5%,#fcfcff 65.1%,#fcfcff 67.6%,#fbfbff 70.1%,#fbfbff 72.6%,#fbfbff 75.1%,#fcfcff 77.6%,#fdfdff 80.1%,#fdfdff 82.6%,#fcfcff 85.1%,#fafaff 87.6%,#f8f8ff 90.1%,#f7f7ff 92.6%,#f6f6ff 95.1%,#f6f6ff 97.6%,#f5f5ff 100.0%)"></div><div style="height:3px;background:linear-gradient(90deg,#fffefe 0.0%,#fffafa 2.5%,#fff9f9 5.0%,#fff8f8 7.5%,#fff8f8 10.0%,#fffcfc 12.5%,#fefeff 15.0%,#f9f9ff 17.5%,#f7f7ff 20.0%,#f5f5ff 22.5%,#f4f4ff 25.0%,#f4f4ff 27.5%,#f4f4ff 30.0%,#f4f4ff 32.5%,#f4f4ff 35.0%,#f4f4ff 37.5%,#f5f5ff 40.0%,#f5f5ff 42.5%,#f6f6ff 45.0%,#f7f7ff 47.5%,#fafaff 50.0%,#fcfcff 52.5%,#fdfdff 55.0%,#fdfdff 57.5%,#fcfcff 60.0%,#fbfbff 62.5%,#fafaff 65.1%,#fafaff 67.6%,#f9f9ff 70.1%,#f9f9ff 72.6%,#fafaff 75.1%,#fbfbff 77.6%,#fcfcff 80.1%,#fcfcff 82.6%,#fbfbff 85.1%,#f9f9ff 87.6%,#f7f7ff 90.1%,#f7f7ff 92.6%,#f6f6ff 95.1%,#f6f6ff 97.6%,#f5f5ff 100.0%)"></div><div style="height:3px;background:linear-gradient(90deg,#fffefe 0.0%,#fffcfc 2.5%,#fffbfb 5.0%,#fffafa 7.5%,#fffbfb 10.0%,#fffefe 12.5%,#fefeff 15.0%,#fafaff 17.5%,#f8f8ff 20.0%,#f7f7ff 22.5%,#f6f6ff 25.0%,#f5f5ff 27.5%,#f5f5ff 30.0%,#f5f5ff 32.5%,#f5f5ff 35.0%,#f5f5ff 37.5%,#f6f6ff 40.0%,#f6f6ff 42.5%,#f7f7ff 45.0%,#f9f9ff 47.5%,#fbfbff 50.0%,#fdfdff 52.5%,#fefeff 55.0%,#fdfdff 57.5%,#fbfbff 60.0%,#fafaff 62.5%,#f9f9ff 65.1%,#f8f8ff 67.6%,#f7f7ff 70.1%,#f7f7ff 72.6%,#f8f8ff 75.1%,#f9f9ff 77.6%,#fbfbff 80.1%,#fbfbff 82.6%,#fafaff 85.1%,#f8f8ff 87.6%,#f7f7ff 90.1%,#f6f6ff 92.6%,#f6f6ff 95.1%,#f6f6ff 97.6%,#f5f5ff 100.0%)"></div><div style="height:3px;background:linear-gradient(90deg,#ffffff 0.0%,#fffdfd 2.5%,#fffdfd 5.0%,#fffdfd 7.5%,#fffdfd 10.0%,#ffffff 12.5%,#fefeff 15.0%,#fbfbff 17.5%,#fafaff 20.0%,#f9f9ff 22.5%,#f8f8ff 25.0%,#f7f7ff 27.5%,#f7f7ff 30.0%,#f6f6ff 32.5%,#f6f6ff 35.0%,#f6f6ff 37.5%,#f7f7ff 40.0%,#f8f8ff 42.5%,#f9f9ff 45.0%,#fafaff 47.5%,#fcfcff 50.0%,#fdfdff 52.5%,#fefeff 55.0%,#fdfdff 57.5%,#fbfbff 60.0%,#f8f8ff 62.5%,#f7f7ff 65.1%,#f6f6ff 67.6%,#f6f6ff 70.1%,#f5f5ff 72.6%,#f6f6ff 75.1%,#f8f8ff 77.6%,#fafaff 80.1%,#fafaff 82.6%,#f9f9ff 85.1%,#f8f8ff 87.6%,#f6f6ff 90.1%,#f6f6ff 92.6%,#f6f6ff 95.1%,#f6f6ff 97.6%,#f5f5ff 100.0%)"></div><div style="height:3px;background:linear-gradient(90deg,#ffffff 0.0%,#ffffff 2.5%,#ffffff 5.0%,#ffffff 7.5%,#ffffff 10.0%,#fefeff 12.5%,#fefeff 15.0%,#fcfcff 17.5%,#fbfbff 20.0%,#fafaff 22.5%,#fafaff 25.0%,#f9f9ff 27.5%,#f8f8ff 30.0%,#f7f7ff 32.5%,#f7f7ff 35.0%,#f7f7ff 37.5%,#f8f8ff 40.0%,#f9f9ff 42.5%,#fafaff 45.0%,#fbfbff 47.5%,#fdfdff 50.0%,#fefeff 52.5%,#ffffff 55.0%,#fdfdff 57.5%,#fafaff 60.0%,#f7f7ff 62.5%,#f6f6ff 65.1%,#f5f5ff 67.6%,#f4f4ff 70.1%,#f4f4ff 72.6%,#f5f5ff 75.1%,#f7f7ff 77.6%,#f9f9ff 80.1%,#f9f9ff 82.6%,#f8f8ff 85.1%,#f7f7ff 87.6%,#f6f6ff 90.1%,#f6f6ff 92.6%,#f6f6ff 95.1%,#f5f5ff 97.6%,#f5f5ff 100.0%)"></div><div style="height:3px;background:linear-gradient(90deg,#ffffff 0.0%,#fefeff 2.5%,#fefeff 5.0%,#fdfdff 7.5%,#fdfdff 10.0%,#fdfdff 12.5%,#fefeff 15.0%,#fefeff 17.5%,#fdfdff 20.0%,#fcfcff 22.5%,#fbfbff 25.0%,#fafaff 27.5%,#f9f9ff 30.0%,#f8f8ff 32.5%,#f8f8ff 35.0%,#f8f8ff 37.5%,#f9f9ff 40.0%,#fafaff 42.5%,#fbfbff 45.0%,#fcfcff 47.5%,#fdfdff 50.0%,#ffffff 52.5%,#ffffff 55.0%,#fdfdff 57.5%,#fafaff 60.0%,#f7f7ff 62.5%,#f5f5ff 65.1%,#f4f4ff 67.6%,#f3f3ff 70.1%,#f3f3ff 72.6%,#f4f4ff 75.1%,#f6f6ff 77.6%,#f8f8ff 80.1%,#f9f9ff 82.6%,#f8f8ff 85.1%,#f7f7ff 87.6%,#f6f6ff 90.1%,#f6f6ff 92.6%,#f5f5ff 95.1%,#f5f5ff 97.6%,#f5f5ff 100.0%)"></div><div style="height:3px;background:linear-gradient(90deg,#ffffff 0.0%,#fefeff 2.5%,#fdfdff 5.0%,#fcfcff 7.5%,#fcfcff 10.0%,#fdfdff 12.5%,#fefeff 15.0%,#ffffff 17.5%,#ffffff 20.0%,#fefeff 22.5%,#fdfdff 25.0%,#fcfcff 27.5%,#fbfbff 30.0%,#f9f9ff 32.5%,#f9f9ff 35.0%,#f9f9ff 37.5%,#f9f9ff 40.0%,#fbfbff 42.5%,#fcfcff 45.0%,#fdfdff 47.5%,#fefeff 50.0%,#ffffff 52.5%,#ffffff 55.0%,#fdfdff 57.5%,#f9f9ff 60.0%,#f6f6ff 62.5%,#f5f5ff 65.1%,#f4f4ff 67.6%,#f3f3ff 70.1%,#f2f2ff 72.6%,#f3f3ff 75.1%,#f6f6ff 77.6%,#f8f8ff 80.1%,#f9f9ff 82.6%,#f8f8ff 85.1%,#f6f6ff 87.6%,#f6f6ff 90.1%,#f5f5ff 92.6%,#f5f5ff 95.1%,#f5f5ff 97.6%,#f5f5ff 100.0%)"></div><div style="height:3px;background:linear-gradient(90deg,#ffffff 0.0%,#fdfdff 2.5%,#fbfbff 5.0%,#fbfbff 7.5%,#fbfbff 10.0%,#fdfdff 12.5%,#ffffff 15.0%,#fffdfd 17.5%,#fffdfd 20.0%,#fffefe 22.5%,#fefeff 25.0%,#fdfdff 27.5%,#fcfcff 30.0%,#fbfbff 32.5%,#fafaff 35.0%,#fafaff 37.5%,#fafaff 40.0%,#fbfbff 42.5%,#fcfcff 45.0%,#fdfdff 47.5%,#fefeff 50.0%,#ffffff 52.5%,#ffffff 55.0%,#fdfdff 57.5%,#f9f9ff 60.0%,#f6f6ff 62.5%,#f5f5ff 65.1%,#f4f4ff 67.6%,#f3f3ff 70.1%,#f2f2ff 72.6%,#f3f3ff 75.1%,#f6f6ff 77.6%,#f8f8ff 80.1%,#f9f9ff 82.6%,#f8f8ff 85.1%,#f6f6ff 87.6%,#f6f6ff 90.1%,#f5f5ff 92.6%,#f5f5ff 95.1%,#f5f5ff 97.6%,#f5f5ff 100.0%)"></div><div style="height:3px;background:linear-gradient(90deg,#ffffff 0.0%,#fcfcff 2.5%,#fafaff 5.0%,#f9f9ff 7.5%,#fafaff 10.0%,#fdfdff 12.5%,#fffefe 15.0%,#fffbfb 17.5%,#fffbfb 20.0%,#fffcfc 22.5%,#fffefe 25.0%,#fefeff 27.5%,#fdfdff 30.0%,#fcfcff 32.5%,#fbfbff 35.0%,#fbfbff 37.5%,#fbfbff 40.0%,#fcfcff 42.5%,#fdfdff 45.0%,#fdfdff 47.5%,#fefeff 50.0%,#ffffff 52.5%,#ffffff 55.0%,#fdfdff 57.5%,#fafaff 60.0%,#f6f6ff 62.5%,#f5f5ff 65.1%,#f4f4ff 67.6%,#f3f3ff 70.1%,#f2f2ff 72.6%,#f3f3ff 75.1%,#f6f6ff 77.6%,#f8f8ff 80.1%,#f9f9ff 82.6%,#f8f8ff 85.1%,#f7f7ff 87.6%,#f6f6ff 90.1%,#f6f6ff 92.6%,#f6f6ff 95.1%,#f6f6ff 97.6%,#f6f6ff 100.0%)"></div><div style="height:3px;background:linear-gradient(90deg,#ffffff 0.0%,#fcfcff 2.5%,#f9f9ff 5.0%,#f8f8ff 7.5%,#f8f8ff 10.0%,#fdfdff 12.5%,#fffdfd 15.0%,#fff8f8 17.5%,#fff8f8 20.0%,#fffafa 22.5%,#fffdfd 25.0%,#ffffff 27.5%,#fefeff 30.0%,#fdfdff 32.5%,#fcfcff 35.0%,#fcfcff 37.5%,#fcfcff 40.0%,#fcfcff 42.5%,#fdfdff 45.0%,#fefeff 47.5%,#fefeff 50.0%,#ffffff 52.5%,#ffffff 55.0%,#fdfdff 57.5%,#fafaff 60.0%,#f7f7ff 62.5%,#f5f5ff 65.1%,#f4f4ff 67.6%,#f3f3ff 70.1%,#f3f3ff 72.6%,#f4f4ff 75.1%,#f6f6ff 77.6%,#f9f9ff 80.1%,#f9f9ff 82.6%,#f8f8ff 85.1%,#f7f7ff 87.6%,#f6f6ff 90.1%,#f6f6ff 92.6%,#f6f6ff 95.1%,#f6f6ff 97.6%,#f6f6ff 100.0%)"></div><div style="height:3px;background:linear-gradient(90deg,#fffefe 0.0%,#fbfbff 2.5%,#f8f8ff 5.0%,#f7f7ff 7.5%,#f7f7ff 10.0%,#fdfdff 12.5%,#fffbfb 15.0%,#fff5f5 17.5%,#fff5f5 20.0%,#fff8f8 22.5%,#fffbfb 25.0%,#fffdfd 27.5%,#ffffff 30.0%,#fefeff 32.5%,#fdfdff 35.0%,#fdfdff 37.5%,#fdfdff 40.0%,#fdfdff 42.5%,#fdfdff 45.0%,#fefeff 47.5%,#fefeff 50.0%,#ffffff 52.5%,#ffffff 55.0%,#fdfdff 57.5%,#fafaff 60.0%,#f7f7ff 62.5%,#f5f5ff 65.1%,#f4f4ff 67.6%,#f3f3ff 70.1%,#f3f3ff 72.6%,#f4f4ff 75.1%,#f7f7ff 77.6%,#f9f9ff 80.1%,#f9f9ff 82.6%,#f9f9ff 85.1%,#f7f7ff 87.6%,#f6f6ff 90.1%,#f6f6ff 92.6%,#f6f6ff 95.1%,#f6f6ff 97.6%,#f6f6ff 100.0%)"></div><div style="height:3px;background:linear-gradient(90deg,#fffefe 0.0%,#fbfbff 2.5%,#f7f7ff 5.0%,#f6f6ff 7.5%,#f6f6ff 10.0%,#fdfdff 12.5%,#fff9f9 15.0%,#fff2f2 17.5%,#fff2f2 20.0%,#fff6f6 22.5%,#fff9f9 25.0%,#fffcfc 27.5%,#fffdfd 30.0%,#ffffff 32.5%,#fefeff 35.0%,#fefeff 37.5%,#fdfdff 40.0%,#fdfdff 42.5%,#fefeff 45.0%,#fefeff 47.5%,#ffffff 50.0%,#ffffff 52.5%,#ffffff 55.0%,#fdfdff 57.5%,#fafaff 60.0%,#f7f7ff 62.5%,#f6f6ff 65.1%,#f5f5ff 67.6%,#f4f4ff 70.1%,#f3f3ff 72.6%,#f4f4ff 75.1%,#f7f7ff 77.6%,#f9f9ff 80.1%,#fafaff 82.6%,#f9f9ff 85.1%,#f8f8ff 87.6%,#f7f7ff 90.1%,#f7f7ff 92.6%,#f7f7ff 95.1%,#f7f7ff 97.6%,#f7f7ff 100.0%)"></div><div style="height:3px;background:linear-gradient(90deg,#fffdfd 0.0%,#fafaff 2.5%,#f6f6ff 5.0%,#f4f4ff 7.5%,#f5f5ff 10.0%,#fdfdff 12.5%,#fff7f7 15.0%,#ffefef 17.5%,#fff0f0 20.0%,#fff3f3 22.5%,#fff8f8 25.0%,#fffbfb 27.5%,#fffcfc 30.0%,#fffdfd 32.5%,#fffefe 35.0%,#ffffff 37.5%,#fefeff 40.0%,#fefeff 42.5%,#fefeff 45.0%,#fefeff 47.5%,#ffffff 50.0%,#ffffff 52.5%,#ffffff 55.0%,#fdfdff 57.5%,#fafaff 60.0%,#f8f8ff 62.5%,#f6f6ff 65.1%,#f5f5ff 67.6%,#f4f4ff 70.1%,#f4f4ff 72.6%,#f5f5ff 75.1%,#f7f7ff 77.6%,#fafaff 80.1%,#fafaff 82.6%,#f9f9ff 85.1%,#f8f8ff 87.6%,#f7f7ff 90.1%,#f7f7ff 92.6%,#f7f7ff 95.1%,#f7f7ff 97.6%,#f7f7ff 100.0%)"></div><div style="height:3px;background:linear-gradient(90deg,#fffdfd 0.0%,#fafaff 2.5%,#f5f5ff 5.0%,#f4f4ff 7.5%,#f4f4ff 10.0%,#fdfdff 12.5%,#fff5f5 15.0%,#ffecec 17.5%,#ffeded 20.0%,#fff2f2 22.5%,#fff7f7 25.0%,#fffafa 27.5%,#fffbfb 30.0%,#fffcfc 32.5%,#fffdfd 35.0%,#fffefe 37.5%,#ffffff 40.0%,#fefeff 42.5%,#fefeff 45.0%,#fefeff 47.5%,#ffffff 50.0%,#ffffff 52.5%,#ffffff 55.0%,#fdfdff 57.5%,#fbfbff 60.0%,#f8f8ff 62.5%,#f7f7ff 65.1%,#f6f6ff 67.6%,#f5f5ff 70.1%,#f4f4ff 72.6%,#f5f5ff 75.1%,#f8f8ff 77.6%,#fafaff 80.1%,#fbfbff 82.6%,#fafaff 85.1%,#f8f8ff 87.6%,#f8f8ff 90.1%,#f7f7ff 92.6%,#f7f7ff 95.1%,#f7f7ff 97.6%,#f7f7ff 100.0%)"></div><div style="height:3px;background:linear-gradient(90deg,#fffdfd 0.0%,#f9f9ff 2.5%,#f5f5ff 5.0%,#f3f3ff 7.5%,#f4f4ff 10.0%,#fdfdff 12.5%,#fff3f3 15.0%,#ffebeb 17.5%,#ffebeb 20.0%,#fff0f0 22.5%,#fff6f6 25.0%,#fff9f9 27.5%,#fffbfb 30.0%,#fffcfc 32.5%,#fffcfc 35.0%,#fffdfd 37.5%,#fffefe 40.0%,#ffffff 42.5%,#fefeff 45.0%,#ffffff 47.5%,#ffffff 50.0%,#ffffff 52.5%,#ffffff 55.0%,#fefeff 57.5%,#fbfbff 60.0%,#f9f9ff 62.5%,#f7f7ff 65.1%,#f6f6ff 67.6%,#f5f5ff 70.1%,#f5f5ff 72.6%,#f6f6ff 75.1%,#f8f8ff 77.6%,#fbfbff 80.1%,#fbfbff 82.6%,#fafaff 85.1%,#f9f9ff 87.6%,#f8f8ff 90.1%,#f8f8ff 92.6%,#f8f8ff 95.1%,#f8f8ff 97.6%,#f8f8ff 100.0%)"></div><div style="height:3px;background:linear-gradient(90deg,#fffcfc 0.0%,#f9f9ff 2.5%,#f4f4ff 5.0%,#f3f3ff 7.5%,#f3f3ff 10.0%,#fdfdff 12.5%,#fff3f3 15.0%,#ffe9e9 17.5%,#ffeaea 20.0%,#fff0f0 22.5%,#fff6f6 25.0%,#fff9f9 27.5%,#fffafa 30.0%,#fffbfb 32.5%,#fffcfc 35.0%,#fffdfd 37.5%,#fffefe 40.0%,#ffffff 42.5%,#ffffff 45.0%,#ffffff 47.5%,#ffffff 50.0%,#ffffff 52.5%,#ffffff 55.0%,#fefeff 57.5%,#fbfbff 60.0%,#f9f9ff 62.5%,#f8f8ff 65.1%,#f6f6ff 67.6%,#f6f6ff 70.1%,#f5f5ff 72.6%,#f6f6ff 75.1%,#f9f9ff 77.6%,#fbfbff 80.1%,#fcfcff 82.6%,#fbfbff 85.1%,#f9f9ff 87.6%,#f8f8ff 90.1%,#f8f8ff 92.6%,#f8f8ff 95.1%,#f8f8ff 97.6%,#f8f8ff 100.0%)"></div><div style="height:3px;background:linear-gradient(90deg,#fffcfc 0.0%,#f9f9ff 2.5%,#f4f4ff 5.0%,#f3f3ff 7.5%,#f3f3ff 10.0%,#fdfdff 12.5%,#fff3f3 15.0%,#ffe9e9 17.5%,#ffeaea 20.0%,#fff0f0 22.5%,#fff5f5 25.0%,#fff9f9 27.5%,#fffafa 30.0%,#fffbfb 32.5%,#fffbfb 35.0%,#fffcfc 37.5%,#fffdfd 40.0%,#fffefe 42.5%,#ffffff 45.0%,#ffffff 47.5%,#ffffff 50.0%,#ffffff 52.5%,#ffffff 55.0%,#fefeff 57.5%,#fcfcff 60.0%,#f9f9ff 62.5%,#f8f8ff 65.1%,#f7f7ff 67.6%,#f6f6ff 70.1%,#f6f6ff 72.6%,#f7f7ff 75.1%,#f9f9ff 77.6%,#fbfbff 80.1%,#fcfcff 82.6%,#fbfbff 85.1%,#fafaff 87.6%,#f9f9ff 90.1%,#f9f9ff 92.6%,#f9f9ff 95.1%,#f9f9ff 97.6%,#f9f9ff 100.0%)"></div><div style="height:3px;background:linear-gradient(90deg,#fffbfb 0.0%,#fafaff 2.5%,#f5f5ff 5.0%,#f3f3ff 7.5%,#f4f4ff 10.0%,#fefeff 12.5%,#fff3f3 15.0%,#ffeaea 17.5%,#ffebeb 20.0%,#fff0f0 22.5%,#fff6f6 25.0%,#fff9f9 27.5%,#fffafa 30.0%,#fffafa 32.5%,#fffbfb 35.0%,#fffcfc 37.5%,#fffdfd 40.0%,#fffefe 42.5%,#fffefe 45.0%,#ffffff 47.5%,#ffffff 50.0%,#ffffff 52.5%,#ffffff 55.0%,#fefeff 57.5%,#fcfcff 60.0%,#fafaff 62.5%,#f9f9ff 65.1%,#f8f8ff 67.6%,#f7f7ff 70.1%,#f7f7ff 72.6%,#f8f8ff 75.1%,#fafaff 77.6%,#fcfcff 80.1%,#fcfcff 82.6%,#fcfcff 85.1%,#fafaff 87.6%,#fafaff 90.1%,#f9f9ff 92.6%,#f9f9ff 95.1%,#f9f9ff 97.6%,#f9f9ff 100.0%)"></div><div style="height:3px;background:linear-gradient(90deg,#fffbfb 0.0%,#fbfbff 2.5%,#f7f7ff 5.0%,#f5f5ff 7.5%,#f6f6ff 10.0%,#ffffff 12.5%,#fff3f3 15.0%,#ffebeb 17.5%,#ffecec 20.0%,#fff1f1 22.5%,#fff6f6 25.0%,#fff9f9 27.5%,#fff9f9 30.0%,#fffafa 32.5%,#fffafa 35.0%,#fffbfb 37.5%,#fffcfc 40.0%,#fffdfd 42.5%,#fffefe 45.0%,#fffefe 47.5%,#ffffff 50.0%,#ffffff 52.5%,#ffffff 55.0%,#fefeff 57.5%,#fcfcff 60.0%,#fbfbff 62.5%,#fafaff 65.1%,#f9f9ff 67.6%,#f8f8ff 70.1%,#f8f8ff 72.6%,#f9f9ff 75.1%,#fbfbff 77.6%,#fcfcff 80.1%,#fdfdff 82.6%,#fcfcff 85.1%,#fbfbff 87.6%,#fafaff 90.1%,#fafaff 92.6%,#fafaff 95.1%,#fafaff 97.6%,#fafaff 100.0%)"></div><div style="height:3px;background:linear-gradient(90deg,#fffafa 0.0%,#fcfcff 2.5%,#f9f9ff 5.0%,#f7f7ff 7.5%,#f8f8ff 10.0%,#fffefe 12.5%,#fff4f4 15.0%,#ffeded 17.5%,#ffeeee 20.0%,#fff2f2 22.5%,#fff6f6 25.0%,#fff9f9 27.5%,#fff9f9 30.0%,#fffafa 32.5%,#fffafa 35.0%,#fffbfb 37.5%,#fffcfc 40.0%,#fffdfd 42.5%,#fffefe 45.0%,#fffefe 47.5%,#ffffff 50.0%,#ffffff 52.5%,#ffffff 55.0%,#fefeff 57.5%,#fdfdff 60.0%,#fcfcff 62.5%,#fbfbff 65.1%,#fafaff 67.6%,#f9f9ff 70.1%,#f9f9ff 72.6%,#fafaff 75.1%,#fbfbff 77.6%,#fdfdff 80.1%,#fdfdff 82.6%,#fdfdff 85.1%,#fcfcff 87.6%,#fbfbff 90.1%,#fbfbff 92.6%,#fbfbff 95.1%,#fbfbff 97.6%,#fbfbff 100.0%)"></div><div style="height:3px;background:linear-gradient(90deg,#fff9f9 0.0%,#fefeff 2.5%,#fbfbff 5.0%,#fafaff 7.5%,#fafaff 10.0%,#fffdfd 12.5%,#fff4f4 15.0%,#ffefef 17.5%,#ffefef 20.0%,#fff3f3 22.5%,#fff7f7 25.0%,#fff9f9 27.5%,#fff9f9 30.0%,#fffafa 32.5%,#fffafa 35.0%,#fffafa 37.5%,#fffbfb 40.0%,#fffdfd 42.5%,#fffdfd 45.0%,#fffefe 47.5%,#ffffff 50.0%,#ffffff 52.5%,#ffffff 55.0%,#fefeff 57.5%,#fdfdff 60.0%,#fcfcff 62.5%,#fcfcff 65.1%,#fbfbff 67.6%,#fbfbff 70.1%,#fafaff 72.6%,#fbfbff 75.1%,#fcfcff 77.6%,#fdfdff 80.1%,#fefeff 82.6%,#fdfdff 85.1%,#fdfdff 87.6%,#fcfcff 90.1%,#fcfcff 92.6%,#fcfcff 95.1%,#fcfcff 97.6%,#fcfcff 100.0%)"></div><div style="height:3px;background:linear-gradient(90deg,#fff9f9 0.0%,#fffefe 2.5%,#fefeff 5.0%,#fdfdff 7.5%,#fdfdff 10.0%,#fffcfc 12.5%,#fff5f5 15.0%,#fff1f1 17.5%,#fff1f1 20.0%,#fff4f4 22.5%,#fff7f7 25.0%,#fff9f9 27.5%,#fff9f9 30.0%,#fff9f9 32.5%,#fffafa 35.0%,#fffafa 37.5%,#fffbfb 40.0%,#fffcfc 42.5%,#fffdfd 45.0%,#fffefe 47.5%,#fffefe 50.0%,#ffffff 52.5%,#ffffff 55.0%,#fefeff 57.5%,#fefeff 60.0%,#fdfdff 62.5%,#fdfdff 65.1%,#fcfcff 67.6%,#fcfcff 70.1%,#fcfcff 72.6%,#fcfcff 75.1%,#fdfdff 77.6%,#fefeff 80.1%,#fefeff 82.6%,#fefeff 85.1%,#fdfdff 87.6%,#fdfdff 90.1%,#fdfdff 92.6%,#fdfdff 95.1%,#fdfdff 97.6%,#fdfdff 100.0%)"></div><div style="height:3px;background:linear-gradient(90deg,#fff8f8 0.0%,#fffcfc 2.5%,#fffefe 5.0%,#ffffff 7.5%,#fffefe 10.0%,#fffbfb 12.5%,#fff5f5 15.0%,#fff2f2 17.5%,#fff3f3 20.0%,#fff5f5 22.5%,#fff7f7 25.0%,#fff9f9 27.5%,#fff9f9 30.0%,#fff9f9 32.5%,#fff9f9 35.0%,#fffafa 37.5%,#fffbfb 40.0%,#fffcfc 42.5%,#fffdfd 45.0%,#fffefe 47.5%,#fffefe 50.0%,#ffffff 52.5%,#ffffff 55.0%,#ffffff 57.5%,#fefeff 60.0%,#fefeff 62.5%,#fefeff 65.1%,#fdfdff 67.6%,#fdfdff 70.1%,#fdfdff 72.6%,#fdfdff 75.1%,#fefeff 77.6%,#fefeff 80.1%,#fefeff 82.6%,#fefeff 85.1%,#fefeff 87.6%,#fefeff 90.1%,#fefeff 92.6%,#fefeff 95.1%,#fefeff 97.6%,#fefeff 100.0%)"></div><div style="height:3px;background:linear-gradient(90deg,#fff7f7 0.0%,#fffafa 2.5%,#fffbfb 5.0%,#fffcfc 7.5%,#fffcfc 10.0%,#fff9f9 12.5%,#fff6f6 15.0%,#fff4f4 17.5%,#fff4f4 20.0%,#fff6f6 22.5%,#fff8f8 25.0%,#fff9f9 27.5%,#fff9f9 30.0%,#fff9f9 32.5%,#fff9f9 35.0%,#fff9f9 37.5%,#fffafa 40.0%,#fffbfb 42.5%,#fffcfc 45.0%,#fffdfd 47.5%,#fffefe 50.0%,#ffffff 52.5%,#ffffff 55.0%,#ffffff 57.5%,#fefeff 60.0%,#fefeff 62.5%,#fefeff 65.1%,#fefeff 67.6%,#fefeff 70.1%,#fefeff 72.6%,#fefeff 75.1%,#fefeff 77.6%,#ffffff 80.1%,#ffffff 82.6%,#ffffff 85.1%,#fefeff 87.6%,#fefeff 90.1%,#fefeff 92.6%,#fefeff 95.1%,#fefeff 97.6%,#fefeff 100.0%)"></div><div style="height:3px;background:linear-gradient(90deg,#fff6f6 0.0%,#fff8f8 2.5%,#fff9f9 5.0%,#fff9f9 7.5%,#fff9f9 10.0%,#fff8f8 12.5%,#fff6f6 15.0%,#fff5f5 17.5%,#fff5f5 20.0%,#fff7f7 22.5%,#fff8f8 25.0%,#fff9f9 27.5%,#fff9f9 30.0%,#fff9f9 32.5%,#fff9f9 35.0%,#fff9f9 37.5%,#fffafa 40.0%,#fffbfb 42.5%,#fffcfc 45.0%,#fffdfd 47.5%,#fffefe 50.0%,#ffffff 52.5%,#ffffff 55.0%,#ffffff 57.5%,#ffffff 60.0%,#ffffff 62.5%,#ffffff 65.1%,#ffffff 67.6%,#ffffff 70.1%,#ffffff 72.6%,#ffffff 75.1%,#ffffff 77.6%,#ffffff 80.1%,#ffffff 82.6%,#ffffff 85.1%,#ffffff 87.6%,#ffffff 90.1%,#ffffff 92.6%,#ffffff 95.1%,#ffffff 97.6%,#ffffff 100.0%)"></div><div style="height:3px;background:linear-gradient(90deg,#fff6f6 0.0%,#fff6f6 2.5%,#fff7f7 5.0%,#fff7f7 7.5%,#fff7f7 10.0%,#fff7f7 12.5%,#fff6f6 15.0%,#fff5f5 17.5%,#fff6f6 20.0%,#fff7f7 22.5%,#fff8f8 25.0%,#fff9f9 27.5%,#fff9f9 30.0%,#fff9f9 32.5%,#fff9f9 35.0%,#fff9f9 37.5%,#fff9f9 40.0%,#fffbfb 42.5%,#fffcfc 45.0%,#fffdfd 47.5%,#fffefe 50.0%,#ffffff 52.5%,#ffffff 55.0%,#ffffff 57.5%,#ffffff 60.0%,#ffffff 62.5%,#ffffff 65.1%,#ffffff 67.6%,#ffffff 70.1%,#ffffff 72.6%,#ffffff 75.1%,#ffffff 77.6%,#ffffff 80.1%,#ffffff 82.6%,#ffffff 85.1%,#ffffff 87.6%,#ffffff 90.1%,#ffffff 92.6%,#ffffff 95.1%,#ffffff 97.6%,#ffffff 100.0%)"></div><div style="height:3px;background:linear-gradient(90deg,#fff4f4 0.0%,#fff5f5 2.5%,#fff6f6 5.0%,#fff6f6 7.5%,#fff6f6 10.0%,#fff6f6 12.5%,#fff6f6 15.0%,#fff5f5 17.5%,#fff6f6 20.0%,#fff7f7 22.5%,#fff8f8 25.0%,#fff9f9 27.5%,#fff8f8 30.0%,#fff8f8 32.5%,#fff8f8 35.0%,#fff8f8 37.5%,#fff9f9 40.0%,#fffafa 42.5%,#fffbfb 45.0%,#fffcfc 47.5%,#fffefe 50.0%,#ffffff 52.5%,#ffffff 55.0%,#ffffff 57.5%,#ffffff 60.0%,#ffffff 62.5%,#ffffff 65.1%,#ffffff 67.6%,#ffffff 70.1%,#ffffff 72.6%,#ffffff 75.1%,#ffffff 77.6%,#ffffff 80.1%,#ffffff 82.6%,#ffffff 85.1%,#ffffff 87.6%,#ffffff 90.1%,#ffffff 92.6%,#ffffff 95.1%,#ffffff 97.6%,#ffffff 100.0%)"></div><div style="height:3px;background:linear-gradient(90deg,#fff3f3 0.0%,#fff3f3 2.5%,#fff4f4 5.0%,#fff5f5 7.5%,#fff5f5 10.0%,#fff5f5 12.5%,#fff6f6 15.0%,#fff5f5 17.5%,#fff5f5 20.0%,#fff7f7 22.5%,#fff8f8 25.0%,#fff8f8 27.5%,#fff8f8 30.0%,#fff8f8 32.5%,#fff8f8 35.0%,#fff8f8 37.5%,#fff9f9 40.0%,#fffafa 42.5%,#fffbfb 45.0%,#fffcfc 47.5%,#fffdfd 50.0%,#fffefe 52.5%,#ffffff 55.0%,#ffffff 57.5%,#ffffff 60.0%,#ffffff 62.5%,#ffffff 65.1%,#ffffff 67.6%,#ffffff 70.1%,#ffffff 72.6%,#ffffff 75.1%,#ffffff 77.6%,#ffffff 80.1%,#ffffff 82.6%,#ffffff 85.1%,#ffffff 87.6%,#ffffff 90.1%,#ffffff 92.6%,#ffffff 95.1%,#ffffff 97.6%,#ffffff 100.0%)"></div><div style="height:3px;background:linear-gradient(90deg,#fff1f1 0.0%,#fff2f2 2.5%,#fff3f3 5.0%,#fff3f3 7.5%,#fff4f4 10.0%,#fff4f4 12.5%,#fff5f5 15.0%,#fff5f5 17.5%,#fff5f5 20.0%,#fff6f6 22.5%,#fff7f7 25.0%,#fff8f8 27.5%,#fff8f8 30.0%,#fff8f8 32.5%,#fff8f8 35.0%,#fff8f8 37.5%,#fff9f9 40.0%,#fffafa 42.5%,#fffbfb 45.0%,#fffcfc 47.5%,#fffdfd 50.0%,#fffefe 52.5%,#ffffff 55.0%,#ffffff 57.5%,#ffffff 60.0%,#ffffff 62.5%,#ffffff 65.1%,#ffffff 67.6%,#ffffff 70.1%,#ffffff 72.6%,#ffffff 75.1%,#ffffff 77.6%,#ffffff 80.1%,#ffffff 82.6%,#ffffff 85.1%,#ffffff 87.6%,#ffffff 90.1%,#ffffff 92.6%,#ffffff 95.1%,#ffffff 97.6%,#ffffff 100.0%)"></div><div style="height:3px;background:linear-gradient(90deg,#fff0f0 0.0%,#fff0f0 2.5%,#fff1f1 5.0%,#fff2f2 7.5%,#fff3f3 10.0%,#fff3f3 12.5%,#fff4f4 15.0%,#fff4f4 17.5%,#fff5f5 20.0%,#fff6f6 22.5%,#fff7f7 25.0%,#fff8f8 27.5%,#fff7f7 30.0%,#fff7f7 32.5%,#fff8f8 35.0%,#fff8f8 37.5%,#fff8f8 40.0%,#fff9f9 42.5%,#fffafa 45.0%,#fffbfb 47.5%,#fffdfd 50.0%,#fffefe 52.5%,#fffefe 55.0%,#fffefe 57.5%,#ffffff 60.0%,#ffffff 62.5%,#ffffff 65.1%,#ffffff 67.6%,#ffffff 70.1%,#ffffff 72.6%,#ffffff 75.1%,#ffffff 77.6%,#ffffff 80.1%,#ffffff 82.6%,#ffffff 85.1%,#ffffff 87.6%,#ffffff 90.1%,#ffffff 92.6%,#ffffff 95.1%,#ffffff 97.6%,#ffffff 100.0%)"></div><div style="height:3px;background:linear-gradient(90deg,#ffeeee 0.0%,#ffefef 2.5%,#fff0f0 5.0%,#fff1f1 7.5%,#fff2f2 10.0%,#fff2f2 12.5%,#fff3f3 15.0%,#fff3f3 17.5%,#fff4f4 20.0%,#fff5f5 22.5%,#fff6f6 25.0%,#fff7f7 27.5%,#fff7f7 30.0%,#fff7f7 32.5%,#fff7f7 35.0%,#fff7f7 37.5%,#fff8f8 40.0%,#fff9f9 42.5%,#fffafa 45.0%,#fffbfb 47.5%,#fffcfc 50.0%,#fffefe 52.5%,#fffefe 55.0%,#fffefe 57.5%,#ffffff 60.0%,#ffffff 62.5%,#ffffff 65.1%,#ffffff 67.6%,#ffffff 70.1%,#ffffff 72.6%,#ffffff 75.1%,#ffffff 77.6%,#ffffff 80.1%,#ffffff 82.6%,#ffffff 85.1%,#ffffff 87.6%,#ffffff 90.1%,#ffffff 92.6%,#ffffff 95.1%,#ffffff 97.6%,#ffffff 100.0%)"></div><div style="height:3px;background:linear-gradient(90deg,#ffecec 0.0%,#ffeded 2.5%,#ffefef 5.0%,#fff0f0 7.5%,#fff1f1 10.0%,#fff1f1 12.5%,#fff2f2 15.0%,#fff2f2 17.5%,#fff3f3 20.0%,#fff4f4 22.5%,#fff6f6 25.0%,#fff6f6 27.5%,#fff7f7 30.0%,#fff7f7 32.5%,#fff7f7 35.0%,#fff7f7 37.5%,#fff8f8 40.0%,#fff9f9 42.5%,#fff9f9 45.0%,#fffbfb 47.5%,#fffcfc 50.0%,#fffdfd 52.5%,#fffefe 55.0%,#fffefe 57.5%,#ffffff 60.0%,#ffffff 62.5%,#ffffff 65.1%,#ffffff 67.6%,#ffffff 70.1%,#ffffff 72.6%,#ffffff 75.1%,#ffffff 77.6%,#ffffff 80.1%,#ffffff 82.6%,#ffffff 85.1%,#ffffff 87.6%,#ffffff 90.1%,#ffffff 92.6%,#ffffff 95.1%,#ffffff 97.6%,#ffffff 100.0%)"></div><div style="height:3px;background:linear-gradient(90deg,#ffeaea 0.0%,#ffecec 2.5%,#ffeded 5.0%,#ffefef 7.5%,#fff0f0 10.0%,#fff0f0 12.5%,#fff1f1 15.0%,#fff2f2 17.5%,#fff2f2 20.0%,#fff4f4 22.5%,#fff5f5 25.0%,#fff6f6 27.5%,#fff6f6 30.0%,#fff6f6 32.5%,#fff7f7 35.0%,#fff7f7 37.5%,#fff7f7 40.0%,#fff8f8 42.5%,#fff9f9 45.0%,#fffafa 47.5%,#fffbfb 50.0%,#fffdfd 52.5%,#fffdfd 55.0%,#fffefe 57.5%,#ffffff 60.0%,#ffffff 62.5%,#ffffff 65.1%,#ffffff 67.6%,#ffffff 70.1%,#ffffff 72.6%,#ffffff 75.1%,#ffffff 77.6%,#ffffff 80.1%,#ffffff 82.6%,#ffffff 85.1%,#ffffff 87.6%,#ffffff 90.1%,#ffffff 92.6%,#ffffff 95.1%,#ffffff 97.6%,#ffffff 100.0%)"></div><div style="height:3px;background:linear-gradient(90deg,#ffe8e8 0.0%,#ffeaea 2.5%,#ffecec 5.0%,#ffeeee 7.5%,#ffefef 10.0%,#ffefef 12.5%,#fff0f0 15.0%,#fff1f1 17.5%,#fff1f1 20.0%,#fff3f3 22.5%,#fff4f4 25.0%,#fff5f5 27.5%,#fff5f5 30.0%,#fff6f6 32.5%,#fff6f6 35.0%,#fff6f6 37.5%,#fff7f7 40.0%,#fff8f8 42.5%,#fff8f8 45.0%,#fff9f9 47.5%,#fffbfb 50.0%,#fffcfc 52.5%,#fffdfd 55.0%,#fffefe 57.5%,#fffefe 60.0%,#ffffff 62.5%,#ffffff 65.1%,#ffffff 67.6%,#ffffff 70.1%,#ffffff 72.6%,#ffffff 75.1%,#ffffff 77.6%,#ffffff 80.1%,#ffffff 82.6%,#ffffff 85.1%,#ffffff 87.6%,#ffffff 90.1%,#ffffff 92.6%,#ffffff 95.1%,#ffffff 97.6%,#ffffff 100.0%)"></div><div style="height:3px;background:linear-gradient(90deg,#ffe6e6 0.0%,#ffe9e9 2.5%,#ffeaea 5.0%,#ffecec 7.5%,#ffeded 10.0%,#ffeeee 12.5%,#ffefef 15.0%,#ffefef 17.5%,#fff1f1 20.0%,#fff2f2 22.5%,#fff3f3 25.0%,#fff4f4 27.5%,#fff5f5 30.0%,#fff5f5 32.5%,#fff6f6 35.0%,#fff6f6 37.5%,#fff7f7 40.0%,#fff7f7 42.5%,#fff8f8 45.0%,#fff9f9 47.5%,#fffafa 50.0%,#fffbfb 52.5%,#fffcfc 55.0%,#fffdfd 57.5%,#fffefe 60.0%,#ffffff 62.5%,#ffffff 65.1%,#ffffff 67.6%,#ffffff 70.1%,#ffffff 72.6%,#ffffff 75.1%,#ffffff 77.6%,#ffffff 80.1%,#ffffff 82.6%,#ffffff 85.1%,#ffffff 87.6%,#ffffff 90.1%,#ffffff 92.6%,#ffffff 95.1%,#ffffff 97.6%,#ffffff 100.0%)"></div><div style="height:3px;background:linear-gradient(90deg,#ffe5e5 0.0%,#ffe7e7 2.5%,#ffe9e9 5.0%,#ffeaea 7.5%,#ffecec 10.0%,#ffeded 12.5%,#ffeded 15.0%,#ffeeee 17.5%,#ffefef 20.0%,#fff1f1 22.5%,#fff2f2 25.0%,#fff3f3 27.5%,#fff4f4 30.0%,#fff4f4 32.5%,#fff5f5 35.0%,#fff5f5 37.5%,#fff6f6 40.0%,#fff6f6 42.5%,#fff7f7 45.0%,#fff8f8 47.5%,#fff9f9 50.0%,#fffafa 52.5%,#fffcfc 55.0%,#fffdfd 57.5%,#fffefe 60.0%,#ffffff 62.5%,#ffffff 65.1%,#ffffff 67.6%,#ffffff 70.1%,#ffffff 72.6%,#ffffff 75.1%,#ffffff 77.6%,#ffffff 80.1%,#ffffff 82.6%,#ffffff 85.1%,#ffffff 87.6%,#ffffff 90.1%,#ffffff 92.6%,#ffffff 95.1%,#ffffff 97.6%,#ffffff 100.0%)"></div><div style="height:3px;background:linear-gradient(90deg,#ffe4e4 0.0%,#ffe5e5 2.5%,#ffe7e7 5.0%,#ffe8e8 7.5%,#ffe9e9 10.0%,#ffeaea 12.5%,#ffebeb 15.0%,#ffeded 17.5%,#ffeeee 20.0%,#fff0f0 22.5%,#fff1f1 25.0%,#fff2f2 27.5%,#fff2f2 30.0%,#fff3f3 32.5%,#fff3f3 35.0%,#fff3f3 37.5%,#fff4f4 40.0%,#fff4f4 42.5%,#fff5f5 45.0%,#fff6f6 47.5%,#fff7f7 50.0%,#fff8f8 52.5%,#fff9f9 55.0%,#fffbfb 57.5%,#fffdfd 60.0%,#fffefe 62.5%,#fffefe 65.1%,#fffefe 67.6%,#fffefe 70.1%,#ffffff 72.6%,#ffffff 75.1%,#ffffff 77.6%,#ffffff 80.1%,#ffffff 82.6%,#ffffff 85.1%,#ffffff 87.6%,#ffffff 90.1%,#ffffff 92.6%,#ffffff 95.1%,#ffffff 97.6%,#ffffff 100.0%)"></div><div style="height:3px;background:linear-gradient(90deg,#ffe3e3 0.0%,#ffe4e4 2.5%,#ffe5e5 5.0%,#ffe6e6 7.5%,#ffe7e7 10.0%,#ffe8e8 12.5%,#ffe9e9 15.0%,#ffeaea 17.5%,#ffecec 20.0%,#ffeeee 22.5%,#ffefef 25.0%,#fff0f0 27.5%,#fff1f1 30.0%,#fff1f1 32.5%,#fff1f1 35.0%,#fff1f1 37.5%,#fff1f1 40.0%,#fff1f1 42.5%,#fff2f2 45.0%,#fff3f3 47.5%,#fff4f4 50.0%,#fff5f5 52.5%,#fff6f6 55.0%,#fff8f8 57.5%,#fffafa 60.0%,#fffcfc 62.5%,#fffdfd 65.1%,#fffdfd 67.6%,#fffefe 70.1%,#fffefe 72.6%,#fffefe 75.1%,#ffffff 77.6%,#ffffff 80.1%,#ffffff 82.6%,#ffffff 85.1%,#ffffff 87.6%,#ffffff 90.1%,#ffffff 92.6%,#ffffff 95.1%,#ffffff 97.6%,#ffffff 100.0%)"></div><div style="height:3px;background:linear-gradient(90deg,#ffe1e1 0.0%,#ffe2e2 2.5%,#ffe3e3 5.0%,#ffe3e3 7.5%,#ffe4e4 10.0%,#ffe5e5 12.5%,#ffe7e7 15.0%,#ffe8e8 17.5%,#ffeaea 20.0%,#ffecec 22.5%,#ffeeee 25.0%,#ffeeee 27.5%,#ffeeee 30.0%,#ffeeee 32.5%,#ffeeee 35.0%,#ffeeee 37.5%,#ffeeee 40.0%,#ffefef 42.5%,#ffefef 45.0%,#fff0f0 47.5%,#fff0f0 50.0%,#fff1f1 52.5%,#fff2f2 55.0%,#fff5f5 57.5%,#fff8f8 60.0%,#fffafa 62.5%,#fffbfb 65.1%,#fffcfc 67.6%,#fffcfc 70.1%,#fffdfd 72.6%,#fffefe 75.1%,#fffefe 77.6%,#ffffff 80.1%,#ffffff 82.6%,#ffffff 85.1%,#ffffff 87.6%,#ffffff 90.1%,#ffffff 92.6%,#ffffff 95.1%,#ffffff 97.6%,#ffffff 100.0%)"></div><div style="height:3px;background:linear-gradient(90deg,#ffe0e0 0.0%,#ffe0e0 2.5%,#ffe0e0 5.0%,#ffe1e1 7.5%,#ffe2e2 10.0%,#ffe3e3 12.5%,#ffe4e4 15.0%,#ffe6e6 17.5%,#ffe8e8 20.0%,#ffeaea 22.5%,#ffecec 25.0%,#ffeded 27.5%,#ffecec 30.0%,#ffecec 32.5%,#ffecec 35.0%,#ffecec 37.5%,#ffeded 40.0%,#ffeded 42.5%,#ffeded 45.0%,#ffeeee 47.5%,#ffeeee 50.0%,#ffefef 52.5%,#fff0f0 55.0%,#fff2f2 57.5%,#fff6f6 60.0%,#fff8f8 62.5%,#fffafa 65.1%,#fffbfb 67.6%,#fffbfb 70.1%,#fffcfc 72.6%,#fffdfd 75.1%,#fffefe 77.6%,#ffffff 80.1%,#ffffff 82.6%,#ffffff 85.1%,#ffffff 87.6%,#ffffff 90.1%,#ffffff 92.6%,#ffffff 95.1%,#ffffff 97.6%,#ffffff 100.0%)"></div><div style="height:3px;background:linear-gradient(90deg,#ffdede 0.0%,#ffdede 2.5%,#ffdede 5.0%,#ffdfdf 7.5%,#ffdfdf 10.0%,#ffe0e0 12.5%,#ffe2e2 15.0%,#ffe4e4 17.5%,#ffe6e6 20.0%,#ffe8e8 22.5%,#ffeaea 25.0%,#ffebeb 27.5%,#ffebeb 30.0%,#ffebeb 32.5%,#ffebeb 35.0%,#ffebeb 37.5%,#ffecec 40.0%,#ffecec 42.5%,#ffeded 45.0%,#ffeded 47.5%,#ffeeee 50.0%,#ffeeee 52.5%,#ffefef 55.0%,#fff1f1 57.5%,#fff4f4 60.0%,#fff7f7 62.5%,#fff8f8 65.1%,#fff9f9 67.6%,#fffafa 70.1%,#fffbfb 72.6%,#fffcfc 75.1%,#fffdfd 77.6%,#fffefe 80.1%,#ffffff 82.6%,#ffffff 85.1%,#ffffff 87.6%,#ffffff 90.1%,#ffffff 92.6%,#ffffff 95.1%,#ffffff 97.6%,#ffffff 100.0%)"></div><div style="height:3px;background:linear-gradient(90deg,#ffdada 0.0%,#ffdbdb 2.5%,#ffdbdb 5.0%,#ffdcdc 7.5%,#ffdddd 10.0%,#ffdede 12.5%,#ffe0e0 15.0%,#ffe2e2 17.5%,#ffe4e4 20.0%,#ffe6e6 22.5%,#ffe8e8 25.0%,#ffe9e9 27.5%,#ffe9e9 30.0%,#ffeaea 32.5%,#ffeaea 35.0%,#ffebeb 37.5%,#ffebeb 40.0%,#ffecec 42.5%,#ffeded 45.0%,#ffeded 47.5%,#ffeded 50.0%,#ffeded 52.5%,#ffeeee 55.0%,#fff0f0 57.5%,#fff2f2 60.0%,#fff5f5 62.5%,#fff6f6 65.1%,#fff8f8 67.6%,#fff9f9 70.1%,#fffafa 72.6%,#fffbfb 75.1%,#fffcfc 77.6%,#fffdfd 80.1%,#fffdfd 82.6%,#fffdfd 85.1%,#fffdfd 87.6%,#fffefe 90.1%,#fffefe 92.6%,#fffefe 95.1%,#fffdfd 97.6%,#fffdfd 100.0%)"></div><div style="height:3px;background:linear-gradient(90deg,#ffd7d7 0.0%,#ffd8d8 2.5%,#ffd9d9 5.0%,#ffdada 7.5%,#ffdbdb 10.0%,#ffdcdc 12.5%,#ffdede 15.0%,#ffe0e0 17.5%,#ffe2e2 20.0%,#ffe4e4 22.5%,#ffe6e6 25.0%,#ffe7e7 27.5%,#ffe8e8 30.0%,#ffe9e9 32.5%,#ffeaea 35.0%,#ffebeb 37.5%,#ffebeb 40.0%,#ffecec 42.5%,#ffecec 45.0%,#ffeded 47.5%,#ffeded 50.0%,#ffeded 52.5%,#ffeded 55.0%,#ffefef 57.5%,#fff1f1 60.0%,#fff3f3 62.5%,#fff4f4 65.1%,#fff6f6 67.6%,#fff8f8 70.1%,#fff9f9 72.6%,#fff9f9 75.1%,#fffafa 77.6%,#fffbfb 80.1%,#fffbfb 82.6%,#fffbfb 85.1%,#fffbfb 87.6%,#fffcfc 90.1%,#fffcfc 92.6%,#fffcfc 95.1%,#fffbfb 97.6%,#fffbfb 100.0%)"></div><div style="height:3px;background:linear-gradient(90deg,#ffd3d3 0.0%,#ffd4d4 2.5%,#ffd6d6 5.0%,#ffd7d7 7.5%,#ffd9d9 10.0%,#ffdada 12.5%,#ffdcdc 15.0%,#ffdede 17.5%,#ffe0e0 20.0%,#ffe1e1 22.5%,#ffe3e3 25.0%,#ffe5e5 27.5%,#ffe6e6 30.0%,#ffe8e8 32.5%,#ffe9e9 35.0%,#ffeaea 37.5%,#ffebeb 40.0%,#ffecec 42.5%,#ffecec 45.0%,#ffecec 47.5%,#ffecec 50.0%,#ffeded 52.5%,#ffeded 55.0%,#ffeeee 57.5%,#ffefef 60.0%,#fff1f1 62.5%,#fff2f2 65.1%,#fff4f4 67.6%,#fff6f6 70.1%,#fff7f7 72.6%,#fff7f7 75.1%,#fff8f8 77.6%,#fff8f8 80.1%,#fff8f8 82.6%,#fff9f9 85.1%,#fff9f9 87.6%,#fffafa 90.1%,#fffafa 92.6%,#fff9f9 95.1%,#fff9f9 97.6%,#fff8f8 100.0%)"></div><div style="height:3px;background:linear-gradient(90deg,#ffd0d0 0.0%,#ffd1d1 2.5%,#ffd3d3 5.0%,#ffd5d5 7.5%,#ffd6d6 10.0%,#ffd8d8 12.5%,#ffdada 15.0%,#ffdcdc 17.5%,#ffdddd 20.0%,#ffdfdf 22.5%,#ffe1e1 25.0%,#ffe3e3 27.5%,#ffe5e5 30.0%,#ffe6e6 32.5%,#ffe8e8 35.0%,#ffe9e9 37.5%,#ffebeb 40.0%,#ffebeb 42.5%,#ffecec 45.0%,#ffecec 47.5%,#ffecec 50.0%,#ffecec 52.5%,#ffecec 55.0%,#ffeded 57.5%,#ffeeee 60.0%,#ffefef 62.5%,#fff0f0 65.1%,#fff2f2 67.6%,#fff5f5 70.1%,#fff6f6 72.6%,#fff6f6 75.1%,#fff6f6 77.6%,#fff6f6 80.1%,#fff6f6 82.6%,#fff6f6 85.1%,#fff7f7 87.6%,#fff8f8 90.1%,#fff8f8 92.6%,#fff7f7 95.1%,#fff7f7 97.6%,#fff6f6 100.0%)"></div><div style="height:3px;background:linear-gradient(90deg,#ffcdcd 0.0%,#ffcfcf 2.5%,#ffd0d0 5.0%,#ffd2d2 7.5%,#ffd4d4 10.0%,#ffd6d6 12.5%,#ffd8d8 15.0%,#ffd9d9 17.5%,#ffdbdb 20.0%,#ffdddd 22.5%,#ffdfdf 25.0%,#ffe1e1 27.5%,#ffe3e3 30.0%,#ffe5e5 32.5%,#ffe7e7 35.0%,#ffe8e8 37.5%,#ffe9e9 40.0%,#ffeaea 42.5%,#ffebeb 45.0%,#ffebeb 47.5%,#ffebeb 50.0%,#ffebeb 52.5%,#ffebeb 55.0%,#ffebeb 57.5%,#ffecec 60.0%,#ffeded 62.5%,#ffefef 65.1%,#fff1f1 67.6%,#fff3f3 70.1%,#fff4f4 72.6%,#fff4f4 75.1%,#fff4f4 77.6%,#fff4f4 80.1%,#fff4f4 82.6%,#fff4f4 85.1%,#fff5f5 87.6%,#fff5f5 90.1%,#fff5f5 92.6%,#fff5f5 95.1%,#fff5f5 97.6%,#fff4f4 100.0%)"></div><div style="height:3px;background:linear-gradient(90deg,#ffcaca 0.0%,#ffcccc 2.5%,#ffcece 5.0%,#ffd0d0 7.5%,#ffd2d2 10.0%,#ffd3d3 12.5%,#ffd5d5 15.0%,#ffd7d7 17.5%,#ffd9d9 20.0%,#ffdbdb 22.5%,#ffdddd 25.0%,#ffdfdf 27.5%,#ffe1e1 30.0%,#ffe3e3 32.5%,#ffe4e4 35.0%,#ffe6e6 37.5%,#ffe7e7 40.0%,#ffe9e9 42.5%,#ffe9e9 45.0%,#ffeaea 47.5%,#ffeaea 50.0%,#ffeaea 52.5%,#ffeaea 55.0%,#ffeaea 57.5%,#ffebeb 60.0%,#ffecec 62.5%,#ffeded 65.1%,#ffefef 67.6%,#fff1f1 70.1%,#fff2f2 72.6%,#fff2f2 75.1%,#fff2f2 77.6%,#fff2f2 80.1%,#fff2f2 82.6%,#fff2f2 85.1%,#fff3f3 87.6%,#fff3f3 90.1%,#fff3f3 92.6%,#fff3f3 95.1%,#fff3f3 97.6%,#fff2f2 100.0%)"></div><div style="height:3px;background:linear-gradient(90deg,#ffc8c8 0.0%,#ffcaca 2.5%,#ffcccc 5.0%,#ffcdcd 7.5%,#ffcfcf 10.0%,#ffd1d1 12.5%,#ffd3d3 15.0%,#ffd4d4 17.5%,#ffd6d6 20.0%,#ffd9d9 22.5%,#ffdbdb 25.0%,#ffdddd 27.5%,#ffdfdf 30.0%,#ffe0e0 32.5%,#ffe1e1 35.0%,#ffe3e3 37.5%,#ffe4e4 40.0%,#ffe6e6 42.5%,#ffe7e7 45.0%,#ffe8e8 47.5%,#ffe8e8 50.0%,#ffe8e8 52.5%,#ffe9e9 55.0%,#ffe9e9 57.5%,#ffeaea 60.0%,#ffebeb 62.5%,#ffecec 65.1%,#ffeeee 67.6%,#ffefef 70.1%,#fff0f0 72.6%,#fff0f0 75.1%,#fff0f0 77.6%,#fff0f0 80.1%,#fff0f0 82.6%,#fff0f0 85.1%,#fff0f0 87.6%,#fff1f1 90.1%,#fff1f1 92.6%,#fff1f1 95.1%,#fff1f1 97.6%,#fff1f1 100.0%)"></div><div style="height:3px;background:linear-gradient(90deg,#ffc5c5 0.0%,#ffc7c7 2.5%,#ffc9c9 5.0%,#ffcbcb 7.5%,#ffcccc 10.0%,#ffcece 12.5%,#ffd0d0 15.0%,#ffd1d1 17.5%,#ffd4d4 20.0%,#ffd7d7 22.5%,#ffd9d9 25.0%,#ffdbdb 27.5%,#ffdcdc 30.0%,#ffdddd 32.5%,#ffdede 35.0%,#ffdfdf 37.5%,#ffe1e1 40.0%,#ffe3e3 42.5%,#ffe4e4 45.0%,#ffe5e5 47.5%,#ffe6e6 50.0%,#ffe6e6 52.5%,#ffe7e7 55.0%,#ffe8e8 57.5%,#ffe9e9 60.0%,#ffeaea 62.5%,#ffebeb 65.1%,#ffecec 67.6%,#ffeded 70.1%,#ffeeee 72.6%,#ffeeee 75.1%,#ffeeee 77.6%,#ffeeee 80.1%,#ffeeee 82.6%,#ffeeee 85.1%,#ffeeee 87.6%,#ffeeee 90.1%,#ffeeee 92.6%,#ffeeee 95.1%,#ffefef 97.6%,#ffefef 100.0%)"></div><div style="height:3px;background:linear-gradient(90deg,#ffc2c2 0.0%,#ffc4c4 2.5%,#ffc5c5 5.0%,#ffc7c7 7.5%,#ffc9c9 10.0%,#ffcbcb 12.5%,#ffcccc 15.0%,#ffcece 17.5%,#ffd1d1 20.0%,#ffd4d4 22.5%,#ffd7d7 25.0%,#ffd9d9 27.5%,#ffdada 30.0%,#ffdada 32.5%,#ffdbdb 35.0%,#ffdcdc 37.5%,#ffdede 40.0%,#ffe0e0 42.5%,#ffe2e2 45.0%,#ffe3e3 47.5%,#ffe4e4 50.0%,#ffe5e5 52.5%,#ffe5e5 55.0%,#ffe6e6 57.5%,#ffe7e7 60.0%,#ffe8e8 62.5%,#ffe9e9 65.1%,#ffeaea 67.6%,#ffebeb 70.1%,#ffecec 72.6%,#ffecec 75.1%,#ffecec 77.6%,#ffecec 80.1%,#ffecec 82.6%,#ffecec 85.1%,#ffecec 87.6%,#ffecec 90.1%,#ffecec 92.6%,#ffecec 95.1%,#ffecec 97.6%,#ffeded 100.0%)"></div><div style="height:3px;background:linear-gradient(90deg,#ffbdbd 0.0%,#ffbfbf 2.5%,#ffc1c1 5.0%,#ffc3c3 7.5%,#ffc4c4 10.0%,#ffc6c6 12.5%,#ffc8c8 15.0%,#ffcaca 17.5%,#ffcdcd 20.0%,#ffd0d0 22.5%,#ffd3d3 25.0%,#ffd5d5 27.5%,#ffd6d6 30.0%,#ffd7d7 32.5%,#ffd8d8 35.0%,#ffd9d9 37.5%,#ffdbdb 40.0%,#ffdddd 42.5%,#ffdfdf 45.0%,#ffe0e0 47.5%,#ffe1e1 50.0%,#ffe2e2 52.5%,#ffe3e3 55.0%,#ffe4e4 57.5%,#ffe5e5 60.0%,#ffe6e6 62.5%,#ffe7e7 65.1%,#ffe8e8 67.6%,#ffe9e9 70.1%,#ffe9e9 72.6%,#ffe9e9 75.1%,#ffe9e9 77.6%,#ffe9e9 80.1%,#ffe9e9 82.6%,#ffe9e9 85.1%,#ffe9e9 87.6%,#ffe9e9 90.1%,#ffe9e9 92.6%,#ffe9e9 95.1%,#ffeaea 97.6%,#ffeaea 100.0%)"></div><div style="height:3px;background:linear-gradient(90deg,#ffb8b8 0.0%,#ffb9b9 2.5%,#ffbbbb 5.0%,#ffbdbd 7.5%,#ffbfbf 10.0%,#ffc1c1 12.5%,#ffc3c3 15.0%,#ffc5c5 17.5%,#ffc8c8 20.0%,#ffcbcb 22.5%,#ffcece 25.0%,#ffd0d0 27.5%,#ffd1d1 30.0%,#ffd3d3 32.5%,#ffd4d4 35.0%,#ffd6d6 37.5%,#ffd8d8 40.0%,#ffdada 42.5%,#ffdbdb 45.0%,#ffdddd 47.5%,#ffdede 50.0%,#ffe0e0 52.5%,#ffe1e1 55.0%,#ffe2e2 57.5%,#ffe3e3 60.0%,#ffe3e3 62.5%,#ffe4e4 65.1%,#ffe5e5 67.6%,#ffe6e6 70.1%,#ffe6e6 72.6%,#ffe6e6 75.1%,#ffe6e6 77.6%,#ffe7e7 80.1%,#ffe7e7 82.6%,#ffe6e6 85.1%,#ffe6e6 87.6%,#ffe6e6 90.1%,#ffe6e6 92.6%,#ffe7e7 95.1%,#ffe7e7 97.6%,#ffe7e7 100.0%)"></div><div style="height:3px;background:linear-gradient(90deg,#ffb2b2 0.0%,#ffb3b3 2.5%,#ffb5b5 5.0%,#ffb7b7 7.5%,#ffb9b9 10.0%,#ffbbbb 12.5%,#ffbdbd 15.0%,#ffc0c0 17.5%,#ffc2c2 20.0%,#ffc5c5 22.5%,#ffc8c8 25.0%,#ffcaca 27.5%,#ffcdcd 30.0%,#ffcece 32.5%,#ffd0d0 35.0%,#ffd2d2 37.5%,#ffd4d4 40.0%,#ffd6d6 42.5%,#ffd8d8 45.0%,#ffd9d9 47.5%,#ffdbdb 50.0%,#ffdddd 52.5%,#ffdede 55.0%,#ffdfdf 57.5%,#ffe0e0 60.0%,#ffe1e1 62.5%,#ffe1e1 65.1%,#ffe2e2 67.6%,#ffe3e3 70.1%,#ffe3e3 72.6%,#ffe3e3 75.1%,#ffe4e4 77.6%,#ffe4e4 80.1%,#ffe4e4 82.6%,#ffe4e4 85.1%,#ffe4e4 87.6%,#ffe4e4 90.1%,#ffe4e4 92.6%,#ffe4e4 95.1%,#ffe4e4 97.6%,#ffe4e4 100.0%)"></div><div style="height:3px;background:linear-gradient(90deg,#ffadad 0.0%,#ffaeae 2.5%,#ffafaf 5.0%,#ffb1b1 7.5%,#ffb3b3 10.0%,#ffb5b5 12.5%,#ffb8b8 15.0%,#ffbbbb 17.5%,#ffbdbd 20.0%,#ffc0c0 22.5%,#ffc3c3 25.0%,#ffc5c5 27.5%,#ffc8c8 30.0%,#ffcaca 32.5%,#ffcdcd 35.0%,#ffcfcf 37.5%,#ffd1d1 40.0%,#ffd2d2 42.5%,#ffd4d4 45.0%,#ffd6d6 47.5%,#ffd8d8 50.0%,#ffdada 52.5%,#ffdbdb 55.0%,#ffdcdc 57.5%,#ffdddd 60.0%,#ffdede 62.5%,#ffdede 65.1%,#ffdfdf 67.6%,#ffdfdf 70.1%,#ffe0e0 72.6%,#ffe0e0 75.1%,#ffe1e1 77.6%,#ffe1e1 80.1%,#ffe1e1 82.6%,#ffe1e1 85.1%,#ffe1e1 87.6%,#ffe1e1 90.1%,#ffe1e1 92.6%,#ffe1e1 95.1%,#ffe1e1 97.6%,#ffe1e1 100.0%)"></div><div style="height:3px;background:linear-gradient(90deg,#ffa9a9 0.0%,#ffaaaa 2.5%,#ffabab 5.0%,#ffadad 7.5%,#ffafaf 10.0%,#ffb1b1 12.5%,#ffb4b4 15.0%,#ffb7b7 17.5%,#ffb9b9 20.0%,#ffbcbc 22.5%,#ffbfbf 25.0%,#ffc1c1 27.5%,#ffc4c4 30.0%,#ffc7c7 32.5%,#ffcaca 35.0%,#ffcccc 37.5%,#ffcece 40.0%,#ffcfcf 42.5%,#ffd1d1 45.0%,#ffd3d3 47.5%,#ffd5d5 50.0%,#ffd7d7 52.5%,#ffd8d8 55.0%,#ffd9d9 57.5%,#ffdada 60.0%,#ffdbdb 62.5%,#ffdbdb 65.1%,#ffdcdc 67.6%,#ffdcdc 70.1%,#ffdddd 72.6%,#ffdddd 75.1%,#ffdede 77.6%,#ffdede 80.1%,#ffdede 82.6%,#ffdede 85.1%,#ffdede 87.6%,#ffdede 90.1%,#ffdede 92.6%,#ffdede 95.1%,#ffdede 97.6%,#ffdede 100.0%)"></div><div style="height:3px;background:linear-gradient(90deg,#ffa6a6 0.0%,#ffa7a7 2.5%,#ffa8a8 5.0%,#ffa9a9 7.5%,#ffabab 10.0%,#ffadad 12.5%,#ffb0b0 15.0%,#ffb3b3 17.5%,#ffb6b6 20.0%,#ffb8b8 22.5%,#ffbbbb 25.0%,#ffbebe 27.5%,#ffc1c1 30.0%,#ffc4c4 32.5%,#ffc7c7 35.0%,#ffc9c9 37.5%,#ffcbcb 40.0%,#ffcccc 42.5%,#ffcece 45.0%,#ffd0d0 47.5%,#ffd2d2 50.0%,#ffd3d3 52.5%,#ffd5d5 55.0%,#ffd6d6 57.5%,#ffd7d7 60.0%,#ffd7d7 62.5%,#ffd8d8 65.1%,#ffd8d8 67.6%,#ffd9d9 70.1%,#ffd9d9 72.6%,#ffd9d9 75.1%,#ffdada 77.6%,#ffdada 80.1%,#ffdada 82.6%,#ffdbdb 85.1%,#ffdbdb 87.6%,#ffdbdb 90.1%,#ffdbdb 92.6%,#ffdbdb 95.1%,#ffdbdb 97.6%,#ffdbdb 100.0%)"></div><div style="height:3px;background:linear-gradient(90deg,#ffa3a3 0.0%,#ffa4a4 2.5%,#ffa5a5 5.0%,#ffa6a6 7.5%,#ffa8a8 10.0%,#ffaaaa 12.5%,#ffadad 15.0%,#ffb0b0 17.5%,#ffb2b2 20.0%,#ffb5b5 22.5%,#ffb7b7 25.0%,#ffbaba 27.5%,#ffbebe 30.0%,#ffc1c1 32.5%,#ffc4c4 35.0%,#ffc7c7 37.5%,#ffc8c8 40.0%,#ffcaca 42.5%,#ffcbcb 45.0%,#ffcdcd 47.5%,#ffcece 50.0%,#ffd0d0 52.5%,#ffd1d1 55.0%,#ffd2d2 57.5%,#ffd3d3 60.0%,#ffd4d4 62.5%,#ffd4d4 65.1%,#ffd5d5 67.6%,#ffd5d5 70.1%,#ffd5d5 72.6%,#ffd5d5 75.1%,#ffd6d6 77.6%,#ffd6d6 80.1%,#ffd7d7 82.6%,#ffd7d7 85.1%,#ffd8d8 87.6%,#ffd8d8 90.1%,#ffd8d8 92.6%,#ffd8d8 95.1%,#ffd8d8 97.6%,#ffd8d8 100.0%)"></div><div style="height:3px;background:linear-gradient(90deg,#ffa0a0 0.0%,#ffa1a1 2.5%,#ffa2a2 5.0%,#ffa3a3 7.5%,#ffa4a4 10.0%,#ffa7a7 12.5%,#ffaaaa 15.0%,#ffacac 17.5%,#ffafaf 20.0%,#ffb2b2 22.5%,#ffb4b4 25.0%,#ffb7b7 27.5%,#ffbbbb 30.0%,#ffbfbf 32.5%,#ffc2c2 35.0%,#ffc4c4 37.5%,#ffc6c6 40.0%,#ffc7c7 42.5%,#ffc8c8 45.0%,#ffcaca 47.5%,#ffcbcb 50.0%,#ffcccc 52.5%,#ffcece 55.0%,#ffcfcf 57.5%,#ffd0d0 60.0%,#ffd0d0 62.5%,#ffd1d1 65.1%,#ffd1d1 67.6%,#ffd1d1 70.1%,#ffd1d1 72.6%,#ffd2d2 75.1%,#ffd2d2 77.6%,#ffd3d3 80.1%,#ffd3d3 82.6%,#ffd4d4 85.1%,#ffd5d5 87.6%,#ffd6d6 90.1%,#ffd6d6 92.6%,#ffd5d5 95.1%,#ffd5d5 97.6%,#ffd5d5 100.0%)"></div><div style="height:3px;background:linear-gradient(90deg,#ff9d9d 0.0%,#ff9e9e 2.5%,#ff9f9f 5.0%,#ffa0a0 7.5%,#ffa1a1 10.0%,#ffa4a4 12.5%,#ffa6a6 15.0%,#ffa9a9 17.5%,#ffacac 20.0%,#ffaeae 22.5%,#ffb1b1 25.0%,#ffb4b4 27.5%,#ffb8b8 30.0%,#ffbcbc 32.5%,#ffbfbf 35.0%,#ffc1c1 37.5%,#ffc3c3 40.0%,#ffc4c4 42.5%,#ffc5c5 45.0%,#ffc7c7 47.5%,#ffc8c8 50.0%,#ffc9c9 52.5%,#ffcaca 55.0%,#ffcbcb 57.5%,#ffcccc 60.0%,#ffcdcd 62.5%,#ffcdcd 65.1%,#ffcece 67.6%,#ffcece 70.1%,#ffcece 72.6%,#ffcfcf 75.1%,#ffcfcf 77.6%,#ffd0d0 80.1%,#ffd0d0 82.6%,#ffd1d1 85.1%,#ffd2d2 87.6%,#ffd3d3 90.1%,#ffd3d3 92.6%,#ffd3d3 95.1%,#ffd3d3 97.6%,#ffd3d3 100.0%)"></div><div style="height:3px;background:linear-gradient(90deg,#ff9a9a 0.0%,#ff9a9a 2.5%,#ff9b9b 5.0%,#ff9d9d 7.5%,#ff9e9e 10.0%,#ffa0a0 12.5%,#ffa3a3 15.0%,#ffa6a6 17.5%,#ffa9a9 20.0%,#ffacac 22.5%,#ffaeae 25.0%,#ffb1b1 27.5%,#ffb5b5 30.0%,#ffb8b8 32.5%,#ffbcbc 35.0%,#ffbebe 37.5%,#ffc0c0 40.0%,#ffc1c1 42.5%,#ffc2c2 45.0%,#ffc3c3 47.5%,#ffc5c5 50.0%,#ffc6c6 52.5%,#ffc7c7 55.0%,#ffc8c8 57.5%,#ffc9c9 60.0%,#ffcaca 62.5%,#ffcbcb 65.1%,#ffcbcb 67.6%,#ffcccc 70.1%,#ffcccc 72.6%,#ffcdcd 75.1%,#ffcdcd 77.6%,#ffcece 80.1%,#ffcece 82.6%,#ffcfcf 85.1%,#ffd0d0 87.6%,#ffd1d1 90.1%,#ffd1d1 92.6%,#ffd1d1 95.1%,#ffd2d2 97.6%,#ffd2d2 100.0%)"></div><div style="height:3px;background:linear-gradient(90deg,#ff9696 0.0%,#ff9797 2.5%,#ff9898 5.0%,#ff9999 7.5%,#ff9b9b 10.0%,#ff9d9d 12.5%,#ffa1a1 15.0%,#ffa4a4 17.5%,#ffa7a7 20.0%,#ffa9a9 22.5%,#ffacac 25.0%,#ffaeae 27.5%,#ffb2b2 30.0%,#ffb5b5 32.5%,#ffb8b8 35.0%,#ffbaba 37.5%,#ffbbbb 40.0%,#ffbdbd 42.5%,#ffbebe 45.0%,#ffc0c0 47.5%,#ffc2c2 50.0%,#ffc3c3 52.5%,#ffc5c5 55.0%,#ffc6c6 57.5%,#ffc6c6 60.0%,#ffc7c7 62.5%,#ffc8c8 65.1%,#ffc9c9 67.6%,#ffcaca 70.1%,#ffcaca 72.6%,#ffcbcb 75.1%,#ffcccc 77.6%,#ffcccc 80.1%,#ffcdcd 82.6%,#ffcece 85.1%,#ffcfcf 87.6%,#ffcfcf 90.1%,#ffd0d0 92.6%,#ffd0d0 95.1%,#ffd0d0 97.6%,#ffd1d1 100.0%)"></div><div style="height:3px;background:linear-gradient(90deg,#ff9292 0.0%,#ff9393 2.5%,#ff9494 5.0%,#ff9696 7.5%,#ff9898 10.0%,#ff9a9a 12.5%,#ff9e9e 15.0%,#ffa1a1 17.5%,#ffa4a4 20.0%,#ffa7a7 22.5%,#ffa9a9 25.0%,#ffacac 27.5%,#ffafaf 30.0%,#ffb1b1 32.5%,#ffb4b4 35.0%,#ffb5b5 37.5%,#ffb7b7 40.0%,#ffb9b9 42.5%,#ffbaba 45.0%,#ffbcbc 47.5%,#ffbebe 50.0%,#ffc1c1 52.5%,#ffc2c2 55.0%,#ffc3c3 57.5%,#ffc4c4 60.0%,#ffc4c4 62.5%,#ffc5c5 65.1%,#ffc7c7 67.6%,#ffc8c8 70.1%,#ffc9c9 72.6%,#ffcaca 75.1%,#ffcaca 77.6%,#ffcbcb 80.1%,#ffcccc 82.6%,#ffcccc 85.1%,#ffcdcd 87.6%,#ffcece 90.1%,#ffcece 92.6%,#ffcfcf 95.1%,#ffd0d0 97.6%,#ffd0d0 100.0%)"></div><div style="height:3px;background:linear-gradient(90deg,#ff8e8e 0.0%,#ff8f8f 2.5%,#ff9090 5.0%,#ff9292 7.5%,#ff9494 10.0%,#ff9797 12.5%,#ff9b9b 15.0%,#ff9f9f 17.5%,#ffa2a2 20.0%,#ffa4a4 22.5%,#ffa7a7 25.0%,#ffa9a9 27.5%,#ffacac 30.0%,#ffaeae 32.5%,#ffafaf 35.0%,#ffb1b1 37.5%,#ffb3b3 40.0%,#ffb4b4 42.5%,#ffb6b6 45.0%,#ffb8b8 47.5%,#ffbbbb 50.0%,#ffbebe 52.5%,#ffc0c0 55.0%,#ffc0c0 57.5%,#ffc1c1 60.0%,#ffc2c2 62.5%,#ffc3c3 65.1%,#ffc4c4 67.6%,#ffc6c6 70.1%,#ffc8c8 72.6%,#ffc8c8 75.1%,#ffc9c9 77.6%,#ffcaca 80.1%,#ffcbcb 82.6%,#ffcbcb 85.1%,#ffcccc 87.6%,#ffcccc 90.1%,#ffcdcd 92.6%,#ffcece 95.1%,#ffcfcf 97.6%,#ffd0d0 100.0%)"></div><div style="height:3px;background:linear-gradient(90deg,#ff8a8a 0.0%,#ff8b8b 2.5%,#ff8d8d 5.0%,#ff8f8f 7.5%,#ff9191 10.0%,#ff9494 12.5%,#ff9898 15.0%,#ff9c9c 17.5%,#ff9f9f 20.0%,#ffa2a2 22.5%,#ffa4a4 25.0%,#ffa6a6 27.5%,#ffa8a8 30.0%,#ffaaaa 32.5%,#ffacac 35.0%,#ffadad 37.5%,#ffafaf 40.0%,#ffb1b1 42.5%,#ffb3b3 45.0%,#ffb5b5 47.5%,#ffb8b8 50.0%,#ffbbbb 52.5%,#ffbdbd 55.0%,#ffbebe 57.5%,#ffbebe 60.0%,#ffbfbf 62.5%,#ffc0c0 65.1%,#ffc2c2 67.6%,#ffc4c4 70.1%,#ffc6c6 72.6%,#ffc7c7 75.1%,#ffc8c8 77.6%,#ffc9c9 80.1%,#ffc9c9 82.6%,#ffcaca 85.1%,#ffcaca 87.6%,#ffcbcb 90.1%,#ffcccc 92.6%,#ffcdcd 95.1%,#ffcece 97.6%,#ffcfcf 100.0%)"></div><div style="height:3px;background:linear-gradient(90deg,#ff8585 0.0%,#ff8787 2.5%,#ff8989 5.0%,#ff8b8b 7.5%,#ff8d8d 10.0%,#ff9191 12.5%,#ff9595 15.0%,#ff9898 17.5%,#ff9b9b 20.0%,#ff9e9e 22.5%,#ffa1a1 25.0%,#ffa3a3 27.5%,#ffa5a5 30.0%,#ffa7a7 32.5%,#ffa9a9 35.0%,#ffaaaa 37.5%,#ffacac 40.0%,#ffaeae 42.5%,#ffb0b0 45.0%,#ffb2b2 47.5%,#ffb5b5 50.0%,#ffb8b8 52.5%,#ffbaba 55.0%,#ffbbbb 57.5%,#ffbcbc 60.0%,#ffbdbd 62.5%,#ffbebe 65.1%,#ffc0c0 67.6%,#ffc2c2 70.1%,#ffc4c4 72.6%,#ffc5c5 75.1%,#ffc6c6 77.6%,#ffc7c7 80.1%,#ffc8c8 82.6%,#ffc8c8 85.1%,#ffc8c8 87.6%,#ffc9c9 90.1%,#ffcaca 92.6%,#ffcbcb 95.1%,#ffcdcd 97.6%,#ffcfcf 100.0%)"></div><div style="height:3px;background:linear-gradient(90deg,#ff8080 0.0%,#ff8282 2.5%,#ff8484 5.0%,#ff8787 7.5%,#ff8a8a 10.0%,#ff8d8d 12.5%,#ff9191 15.0%,#ff9595 17.5%,#ff9898 20.0%,#ff9a9a 22.5%,#ff9d9d 25.0%,#ff9f9f 27.5%,#ffa1a1 30.0%,#ffa4a4 32.5%,#ffa6a6 35.0%,#ffa8a8 37.5%,#ffa9a9 40.0%,#ffabab 42.5%,#ffadad 45.0%,#ffafaf 47.5%,#ffb1b1 50.0%,#ffb4b4 52.5%,#ffb6b6 55.0%,#ffb8b8 57.5%,#ffb9b9 60.0%,#ffbbbb 62.5%,#ffbcbc 65.1%,#ffbebe 67.6%,#ffbfbf 70.1%,#ffc1c1 72.6%,#ffc2c2 75.1%,#ffc4c4 77.6%,#ffc5c5 80.1%,#ffc6c6 82.6%,#ffc6c6 85.1%,#ffc6c6 87.6%,#ffc7c7 90.1%,#ffc8c8 92.6%,#ffc9c9 95.1%,#ffcbcb 97.6%,#ffcece 100.0%)"></div><div style="height:3px;background:linear-gradient(90deg,#ff7b7b 0.0%,#ff7e7e 2.5%,#ff8080 5.0%,#ff8383 7.5%,#ff8686 10.0%,#ff8989 12.5%,#ff8d8d 15.0%,#ff9191 17.5%,#ff9494 20.0%,#ff9696 22.5%,#ff9898 25.0%,#ff9b9b 27.5%,#ff9e9e 30.0%,#ffa1a1 32.5%,#ffa3a3 35.0%,#ffa5a5 37.5%,#ffa7a7 40.0%,#ffa9a9 42.5%,#ffaaaa 45.0%,#ffacac 47.5%,#ffaeae 50.0%,#ffb0b0 52.5%,#ffb2b2 55.0%,#ffb4b4 57.5%,#ffb7b7 60.0%,#ffb9b9 62.5%,#ffbaba 65.1%,#ffbbbb 67.6%,#ffbdbd 70.1%,#ffbebe 72.6%,#ffbfbf 75.1%,#ffc1c1 77.6%,#ffc3c3 80.1%,#ffc4c4 82.6%,#ffc4c4 85.1%,#ffc4c4 87.6%,#ffc4c4 90.1%,#ffc6c6 92.6%,#ffc8c8 95.1%,#ffcaca 97.6%,#ffcdcd 100.0%)"></div><div style="height:3px;background:linear-gradient(90deg,#ff7676 0.0%,#ff7878 2.5%,#ff7b7b 5.0%,#ff7e7e 7.5%,#ff8282 10.0%,#ff8585 12.5%,#ff8989 15.0%,#ff8c8c 17.5%,#ff8f8f 20.0%,#ff9292 22.5%,#ff9494 25.0%,#ff9797 27.5%,#ff9a9a 30.0%,#ff9d9d 32.5%,#ffa1a1 35.0%,#ffa3a3 37.5%,#ffa5a5 40.0%,#ffa6a6 42.5%,#ffa8a8 45.0%,#ffa9a9 47.5%,#ffabab 50.0%,#ffadad 52.5%,#ffafaf 55.0%,#ffb1b1 57.5%,#ffb4b4 60.0%,#ffb7b7 62.5%,#ffb8b8 65.1%,#ffb9b9 67.6%,#ffbaba 70.1%,#ffbbbb 72.6%,#ffbdbd 75.1%,#ffbfbf 77.6%,#ffc0c0 80.1%,#ffc2c2 82.6%,#ffc2c2 85.1%,#ffc2c2 87.6%,#ffc3c3 90.1%,#ffc4c4 92.6%,#ffc6c6 95.1%,#ffc9c9 97.6%,#ffcdcd 100.0%)"></div><div style="height:3px;background:linear-gradient(90deg,#ff6f6f 0.0%,#ff7272 2.5%,#ff7676 5.0%,#ff7a7a 7.5%,#ff7d7d 10.0%,#ff8181 12.5%,#ff8484 15.0%,#ff8888 17.5%,#ff8b8b 20.0%,#ff8d8d 22.5%,#ff9090 25.0%,#ff9393 27.5%,#ff9696 30.0%,#ff9a9a 32.5%,#ff9e9e 35.0%,#ffa0a0 37.5%,#ffa2a2 40.0%,#ffa4a4 42.5%,#ffa5a5 45.0%,#ffa7a7 47.5%,#ffa9a9 50.0%,#ffaaaa 52.5%,#ffacac 55.0%,#ffafaf 57.5%,#ffb2b2 60.0%,#ffb5b5 62.5%,#ffb6b6 65.1%,#ffb7b7 67.6%,#ffb8b8 70.1%,#ffb9b9 72.6%,#ffbaba 75.1%,#ffbcbc 77.6%,#ffbebe 80.1%,#ffbfbf 82.6%,#ffc0c0 85.1%,#ffc1c1 87.6%,#ffc2c2 90.1%,#ffc4c4 92.6%,#ffc6c6 95.1%,#ffc9c9 97.6%,#ffcccc 100.0%)"></div><div style="height:3px;background:linear-gradient(90deg,#ff6666 0.0%,#ff6b6b 2.5%,#ff7070 5.0%,#ff7474 7.5%,#ff7878 10.0%,#ff7c7c 12.5%,#ff7f7f 15.0%,#ff8383 17.5%,#ff8686 20.0%,#ff8989 22.5%,#ff8b8b 25.0%,#ff8f8f 27.5%,#ff9292 30.0%,#ff9797 32.5%,#ff9a9a 35.0%,#ff9d9d 37.5%,#ff9f9f 40.0%,#ffa1a1 42.5%,#ffa3a3 45.0%,#ffa5a5 47.5%,#ffa7a7 50.0%,#ffa9a9 52.5%,#ffabab 55.0%,#ffadad 57.5%,#ffb0b0 60.0%,#ffb3b3 62.5%,#ffb4b4 65.1%,#ffb5b5 67.6%,#ffb6b6 70.1%,#ffb6b6 72.6%,#ffb8b8 75.1%,#ffbaba 77.6%,#ffbbbb 80.1%,#ffbdbd 82.6%,#ffbebe 85.1%,#ffc0c0 87.6%,#ffc2c2 90.1%,#ffc4c4 92.6%,#ffc6c6 95.1%,#ffc9c9 97.6%,#ffcbcb 100.0%)"></div><div style="height:3px;background:linear-gradient(90deg,#ff5b5b 0.0%,#ff6262 2.5%,#ff6868 5.0%,#ff6e6e 7.5%,#ff7272 10.0%,#ff7676 12.5%,#ff7a7a 15.0%,#ff7d7d 17.5%,#ff8181 20.0%,#ff8484 22.5%,#ff8787 25.0%,#ff8b8b 27.5%,#ff8f8f 30.0%,#ff9393 32.5%,#ff9797 35.0%,#ff9a9a 37.5%,#ff9d9d 40.0%,#ff9f9f 42.5%,#ffa1a1 45.0%,#ffa3a3 47.5%,#ffa5a5 50.0%,#ffa7a7 52.5%,#ffaaaa 55.0%,#ffacac 57.5%,#ffafaf 60.0%,#ffb1b1 62.5%,#ffb2b2 65.1%,#ffb3b3 67.6%,#ffb3b3 70.1%,#ffb4b4 72.6%,#ffb5b5 75.1%,#ffb7b7 77.6%,#ffb8b8 80.1%,#ffbaba 82.6%,#ffbcbc 85.1%,#ffbfbf 87.6%,#ffc2c2 90.1%,#ffc4c4 92.6%,#ffc6c6 95.1%,#ffc8c8 97.6%,#ffcbcb 100.0%)"></div><div style="height:3px;background:linear-gradient(90deg,#ff4f4f 0.0%,#ff5858 2.5%,#ff6060 5.0%,#ff6767 7.5%,#ff6c6c 10.0%,#ff7070 12.5%,#ff7474 15.0%,#ff7878 17.5%,#ff7b7b 20.0%,#ff7f7f 22.5%,#ff8383 25.0%,#ff8787 27.5%,#ff8b8b 30.0%,#ff8f8f 32.5%,#ff9393 35.0%,#ff9797 37.5%,#ff9a9a 40.0%,#ff9d9d 42.5%,#ff9f9f 45.0%,#ffa2a2 47.5%,#ffa4a4 50.0%,#ffa6a6 52.5%,#ffa8a8 55.0%,#ffabab 57.5%,#ffadad 60.0%,#ffafaf 62.5%,#ffb0b0 65.1%,#ffb1b1 67.6%,#ffb1b1 70.1%,#ffb2b2 72.6%,#ffb3b3 75.1%,#ffb4b4 77.6%,#ffb6b6 80.1%,#ffb7b7 82.6%,#ffbaba 85.1%,#ffbebe 87.6%,#ffc2c2 90.1%,#ffc4c4 92.6%,#ffc6c6 95.1%,#ffc8c8 97.6%,#ffcaca 100.0%)"></div><div style="height:3px;background:linear-gradient(90deg,#ff4444 0.0%,#ff4e4e 2.5%,#ff5858 5.0%,#ff6060 7.5%,#ff6666 10.0%,#ff6a6a 12.5%,#ff6e6e 15.0%,#ff7272 17.5%,#ff7676 20.0%,#ff7a7a 22.5%,#ff7e7e 25.0%,#ff8383 27.5%,#ff8787 30.0%,#ff8b8b 32.5%,#ff9090 35.0%,#ff9393 37.5%,#ff9797 40.0%,#ff9a9a 42.5%,#ff9d9d 45.0%,#ffa0a0 47.5%,#ffa3a3 50.0%,#ffa5a5 52.5%,#ffa7a7 55.0%,#ffa9a9 57.5%,#ffabab 60.0%,#ffadad 62.5%,#ffaeae 65.1%,#ffafaf 67.6%,#ffb0b0 70.1%,#ffb0b0 72.6%,#ffb1b1 75.1%,#ffb2b2 77.6%,#ffb3b3 80.1%,#ffb4b4 82.6%,#ffb8b8 85.1%,#ffbdbd 87.6%,#ffc2c2 90.1%,#ffc4c4 92.6%,#ffc6c6 95.1%,#ffc8c8 97.6%,#ffc9c9 100.0%)"></div><div style="height:3px;background:linear-gradient(90deg,#ff3939 0.0%,#ff4545 2.5%,#ff5050 5.0%,#ff5959 7.5%,#ff6060 10.0%,#ff6565 12.5%,#ff6969 15.0%,#ff6d6d 17.5%,#ff7171 20.0%,#ff7676 22.5%,#ff7a7a 25.0%,#ff7f7f 27.5%,#ff8383 30.0%,#ff8888 32.5%,#ff8c8c 35.0%,#ff9090 37.5%,#ff9494 40.0%,#ff9898 42.5%,#ff9b9b 45.0%,#ff9e9e 47.5%,#ffa1a1 50.0%,#ffa3a3 52.5%,#ffa6a6 55.0%,#ffa8a8 57.5%,#ffa9a9 60.0%,#ffabab 62.5%,#ffacac 65.1%,#ffadad 67.6%,#ffaeae 70.1%,#ffafaf 72.6%,#ffafaf 75.1%,#ffb0b0 77.6%,#ffb1b1 80.1%,#ffb3b3 82.6%,#ffb7b7 85.1%,#ffbcbc 87.6%,#ffc1c1 90.1%,#ffc4c4 92.6%,#ffc6c6 95.1%,#ffc8c8 97.6%,#ffc8c8 100.0%)"></div><div style="height:3px;background:linear-gradient(90deg,#ff2e2e 0.0%,#ff3c3c 2.5%,#ff4848 5.0%,#ff5252 7.5%,#ff5959 10.0%,#ff5f5f 12.5%,#ff6363 15.0%,#ff6868 17.5%,#ff6c6c 20.0%,#ff7171 22.5%,#ff7676 25.0%,#ff7a7a 27.5%,#ff7f7f 30.0%,#ff8484 32.5%,#ff8989 35.0%,#ff8d8d 37.5%,#ff9191 40.0%,#ff9595 42.5%,#ff9898 45.0%,#ff9b9b 47.5%,#ff9e9e 50.0%,#ffa1a1 52.5%,#ffa3a3 55.0%,#ffa5a5 57.5%,#ffa7a7 60.0%,#ffa9a9 62.5%,#ffaaaa 65.1%,#ffabab 67.6%,#ffacac 70.1%,#ffadad 72.6%,#ffaeae 75.1%,#ffaeae 77.6%,#ffafaf 80.1%,#ffb1b1 82.6%,#ffb5b5 85.1%,#ffbbbb 87.6%,#ffc0c0 90.1%,#ffc3c3 92.6%,#ffc5c5 95.1%,#ffc7c7 97.6%,#ffc7c7 100.0%)"></div><div style="height:3px;background:linear-gradient(90deg,#ff2424 0.0%,#ff3333 2.5%,#ff4040 5.0%,#ff4b4b 7.5%,#ff5353 10.0%,#ff5959 12.5%,#ff5e5e 15.0%,#ff6363 17.5%,#ff6868 20.0%,#ff6d6d 22.5%,#ff7171 25.0%,#ff7676 27.5%,#ff7b7b 30.0%,#ff8080 32.5%,#ff8585 35.0%,#ff8989 37.5%,#ff8e8e 40.0%,#ff9191 42.5%,#ff9595 45.0%,#ff9898 47.5%,#ff9c9c 50.0%,#ff9f9f 52.5%,#ffa1a1 55.0%,#ffa3a3 57.5%,#ffa5a5 60.0%,#ffa6a6 62.5%,#ffa8a8 65.1%,#ffa9a9 67.6%,#ffabab 70.1%,#ffacac 72.6%,#ffacac 75.1%,#ffadad 77.6%,#ffadad 80.1%,#ffafaf 82.6%,#ffb3b3 85.1%,#ffb9b9 87.6%,#ffbfbf 90.1%,#ffc2c2 92.6%,#ffc4c4 95.1%,#ffc5c5 97.6%,#ffc6c6 100.0%)"></div><div style="height:3px;background:linear-gradient(90deg,#ff1a1a 0.0%,#ff2a2a 2.5%,#ff3838 5.0%,#ff4444 7.5%,#ff4c4c 10.0%,#ff5353 12.5%,#ff5959 15.0%,#ff5e5e 17.5%,#ff6363 20.0%,#ff6868 22.5%,#ff6d6d 25.0%,#ff7272 27.5%,#ff7777 30.0%,#ff7c7c 32.5%,#ff8282 35.0%,#ff8686 37.5%,#ff8a8a 40.0%,#ff8e8e 42.5%,#ff9292 45.0%,#ff9696 47.5%,#ff9999 50.0%,#ff9c9c 52.5%,#ff9f9f 55.0%,#ffa1a1 57.5%,#ffa2a2 60.0%,#ffa4a4 62.5%,#ffa6a6 65.1%,#ffa7a7 67.6%,#ffa9a9 70.1%,#ffaaaa 72.6%,#ffabab 75.1%,#ffabab 77.6%,#ffacac 80.1%,#ffaeae 82.6%,#ffb2b2 85.1%,#ffb8b8 87.6%,#ffbdbd 90.1%,#ffc0c0 92.6%,#ffc2c2 95.1%,#ffc4c4 97.6%,#ffc4c4 100.0%)"></div><div style="height:3px;background:linear-gradient(90deg,#ff1212 0.0%,#ff2222 2.5%,#ff3030 5.0%,#ff3c3c 7.5%,#ff4646 10.0%,#ff4d4d 12.5%,#ff5454 15.0%,#ff5959 17.5%,#ff5f5f 20.0%,#ff6464 22.5%,#ff6969 25.0%,#ff6e6e 27.5%,#ff7474 30.0%,#ff7979 32.5%,#ff7e7e 35.0%,#ff8383 37.5%,#ff8787 40.0%,#ff8c8c 42.5%,#ff9090 45.0%,#ff9393 47.5%,#ff9797 50.0%,#ff9b9b 52.5%,#ff9d9d 55.0%,#ff9f9f 57.5%,#ffa1a1 60.0%,#ffa2a2 62.5%,#ffa4a4 65.1%,#ffa6a6 67.6%,#ffa8a8 70.1%,#ffa9a9 72.6%,#ffaaaa 75.1%,#ffabab 77.6%,#ffabab 80.1%,#ffadad 82.6%,#ffb1b1 85.1%,#ffb6b6 87.6%,#ffbbbb 90.1%,#ffbebe 92.6%,#ffc0c0 95.1%,#ffc2c2 97.6%,#ffc3c3 100.0%)"></div><div style="height:3px;background:linear-gradient(90deg,#ff0d0d 0.0%,#ff1c1c 2.5%,#ff2a2a 5.0%,#ff3535 7.5%,#ff3f3f 10.0%,#ff4848 12.5%,#ff4f4f 15.0%,#ff5555 17.5%,#ff5b5b 20.0%,#ff6161 22.5%,#ff6666 25.0%,#ff6b6b 27.5%,#ff7171 30.0%,#ff7676 32.5%,#ff7b7b 35.0%,#ff8080 37.5%,#ff8585 40.0%,#ff8989 42.5%,#ff8e8e 45.0%,#ff9292 47.5%,#ff9696 50.0%,#ff9999 52.5%,#ff9c9c 55.0%,#ff9e9e 57.5%,#ffa0a0 60.0%,#ffa1a1 62.5%,#ffa3a3 65.1%,#ffa5a5 67.6%,#ffa7a7 70.1%,#ffa8a8 72.6%,#ffa9a9 75.1%,#ffaaaa 77.6%,#ffabab 80.1%,#ffadad 82.6%,#ffb1b1 85.1%,#ffb6b6 87.6%,#ffbbbb 90.1%,#ffbdbd 92.6%,#ffbfbf 95.1%,#ffc1c1 97.6%,#ffc2c2 100.0%)"></div><div style="height:3px;background:linear-gradient(90deg,#ff0808 0.0%,#ff1616 2.5%,#ff2323 5.0%,#ff2e2e 7.5%,#ff3939 10.0%,#ff4242 12.5%,#ff4a4a 15.0%,#ff5252 17.5%,#ff5858 20.0%,#ff5e5e 22.5%,#ff6363 25.0%,#ff6868 27.5%,#ff6e6e 30.0%,#ff7373 32.5%,#ff7878 35.0%,#ff7d7d 37.5%,#ff8383 40.0%,#ff8888 42.5%,#ff8c8c 45.0%,#ff9191 47.5%,#ff9595 50.0%,#ff9999 52.5%,#ff9b9b 55.0%,#ff9d9d 57.5%,#ff9f9f 60.0%,#ffa1a1 62.5%,#ffa2a2 65.1%,#ffa4a4 67.6%,#ffa6a6 70.1%,#ffa8a8 72.6%,#ffa9a9 75.1%,#ffaaaa 77.6%,#ffacac 80.1%,#ffadad 82.6%,#ffb1b1 85.1%,#ffb6b6 87.6%,#ffbaba 90.1%,#ffbcbc 92.6%,#ffbebe 95.1%,#ffc0c0 97.6%,#ffc1c1 100.0%)"></div><div style="height:3px;background:linear-gradient(90deg,#ff0404 0.0%,#ff1010 2.5%,#ff1c1c 5.0%,#ff2727 7.5%,#ff3232 10.0%,#ff3c3c 12.5%,#ff4646 15.0%,#ff4f4f 17.5%,#ff5656 20.0%,#ff5b5b 22.5%,#ff6161 25.0%,#ff6666 27.5%,#ff6b6b 30.0%,#ff7070 32.5%,#ff7575 35.0%,#ff7b7b 37.5%,#ff8080 40.0%,#ff8686 42.5%,#ff8b8b 45.0%,#ff9090 47.5%,#ff9494 50.0%,#ff9898 52.5%,#ff9b9b 55.0%,#ff9d9d 57.5%,#ff9f9f 60.0%,#ffa0a0 62.5%,#ffa2a2 65.1%,#ffa4a4 67.6%,#ffa5a5 70.1%,#ffa7a7 72.6%,#ffa9a9 75.1%,#ffabab 77.6%,#ffacac 80.1%,#ffaeae 82.6%,#ffb2b2 85.1%,#ffb6b6 87.6%,#ffb9b9 90.1%,#ffbcbc 92.6%,#ffbebe 95.1%,#ffbfbf 97.6%,#ffc0c0 100.0%)"></div><div style="height:3px;background:linear-gradient(90deg,#ff0101 0.0%,#ff0c0c 2.5%,#ff1616 5.0%,#ff2121 7.5%,#ff2b2b 10.0%,#ff3737 12.5%,#ff4242 15.0%,#ff4c4c 17.5%,#ff5353 20.0%,#ff5959 22.5%,#ff5e5e 25.0%,#ff6363 27.5%,#ff6969 30.0%,#ff6e6e 32.5%,#ff7373 35.0%,#ff7878 37.5%,#ff7e7e 40.0%,#ff8484 42.5%,#ff8a8a 45.0%,#ff8f8f 47.5%,#ff9494 50.0%,#ff9898 52.5%,#ff9a9a 55.0%,#ff9c9c 57.5%,#ff9e9e 60.0%,#ffa0a0 62.5%,#ffa1a1 65.1%,#ffa3a3 67.6%,#ffa5a5 70.1%,#ffa6a6 72.6%,#ffa8a8 75.1%,#ffabab 77.6%,#ffadad 80.1%,#ffafaf 82.6%,#ffb2b2 85.1%,#ffb6b6 87.6%,#ffb9b9 90.1%,#ffbbbb 92.6%,#ffbdbd 95.1%,#ffbebe 97.6%,#ffc0c0 100.0%)"></div><div style="height:3px;background:linear-gradient(90deg,#ff0000 0.0%,#ff0808 2.5%,#ff1111 5.0%,#ff1b1b 7.5%,#ff2525 10.0%,#ff3131 12.5%,#ff3d3d 15.0%,#ff4848 17.5%,#ff4f4f 20.0%,#ff5656 22.5%,#ff5b5b 25.0%,#ff6161 27.5%,#ff6666 30.0%,#ff6b6b 32.5%,#ff7070 35.0%,#ff7676 37.5%,#ff7c7c 40.0%,#ff8383 42.5%,#ff8888 45.0%,#ff8e8e 47.5%,#ff9393 50.0%,#ff9797 52.5%,#ff9a9a 55.0%,#ff9c9c 57.5%,#ff9d9d 60.0%,#ff9f9f 62.5%,#ffa0a0 65.1%,#ffa2a2 67.6%,#ffa4a4 70.1%,#ffa6a6 72.6%,#ffa8a8 75.1%,#ffabab 77.6%,#ffadad 80.1%,#ffb0b0 82.6%,#ffb3b3 85.1%,#ffb6b6 87.6%,#ffb8b8 90.1%,#ffbaba 92.6%,#ffbcbc 95.1%,#ffbebe 97.6%,#ffbfbf 100.0%)"></div><div style="height:3px;background:linear-gradient(90deg,#ff0000 0.0%,#ff0606 2.5%,#ff0d0d 5.0%,#ff1515 7.5%,#ff1e1e 10.0%,#ff2b2b 12.5%,#ff3838 15.0%,#ff4343 17.5%,#ff4b4b 20.0%,#ff5252 22.5%,#ff5858 25.0%,#ff5e5e 27.5%,#ff6363 30.0%,#ff6969 32.5%,#ff6e6e 35.0%,#ff7474 37.5%,#ff7a7a 40.0%,#ff8181 42.5%,#ff8787 45.0%,#ff8c8c 47.5%,#ff9191 50.0%,#ff9595 52.5%,#ff9898 55.0%,#ff9a9a 57.5%,#ff9c9c 60.0%,#ff9e9e 62.5%,#ff9f9f 65.1%,#ffa1a1 67.6%,#ffa3a3 70.1%,#ffa5a5 72.6%,#ffa8a8 75.1%,#ffabab 77.6%,#ffaeae 80.1%,#ffb1b1 82.6%,#ffb3b3 85.1%,#ffb6b6 87.6%,#ffb8b8 90.1%,#ffbaba 92.6%,#ffbcbc 95.1%,#ffbebe 97.6%,#ffbfbf 100.0%)"></div><div style="height:3px;background:linear-gradient(90deg,#ff0000 0.0%,#ff0404 2.5%,#ff0909 5.0%,#ff1010 7.5%,#ff1818 10.0%,#ff2424 12.5%,#ff3232 15.0%,#ff3e3e 17.5%,#ff4747 20.0%,#ff4e4e 22.5%,#ff5454 25.0%,#ff5b5b 27.5%,#ff6161 30.0%,#ff6666 32.5%,#ff6c6c 35.0%,#ff7272 37.5%,#ff7878 40.0%,#ff7f7f 42.5%,#ff8585 45.0%,#ff8a8a 47.5%,#ff8f8f 50.0%,#ff9393 52.5%,#ff9696 55.0%,#ff9898 57.5%,#ff9a9a 60.0%,#ff9c9c 62.5%,#ff9e9e 65.1%,#ffa0a0 67.6%,#ffa2a2 70.1%,#ffa4a4 72.6%,#ffa7a7 75.1%,#ffabab 77.6%,#ffaeae 80.1%,#ffb1b1 82.6%,#ffb3b3 85.1%,#ffb6b6 87.6%,#ffb8b8 90.1%,#ffb9b9 92.6%,#ffbbbb 95.1%,#ffbdbd 97.6%,#ffbfbf 100.0%)"></div><div style="height:3px;background:linear-gradient(90deg,#ff0000 0.0%,#ff0202 2.5%,#ff0606 5.0%,#ff0b0b 7.5%,#ff1111 10.0%,#ff1d1d 12.5%,#ff2b2b 15.0%,#ff3838 17.5%,#ff4242 20.0%,#ff4949 22.5%,#ff5050 25.0%,#ff5757 27.5%,#ff5e5e 30.0%,#ff6464 32.5%,#ff6a6a 35.0%,#ff7070 37.5%,#ff7676 40.0%,#ff7d7d 42.5%,#ff8282 45.0%,#ff8888 47.5%,#ff8c8c 50.0%,#ff9090 52.5%,#ff9494 55.0%,#ff9696 57.5%,#ff9898 60.0%,#ff9a9a 62.5%,#ff9c9c 65.1%,#ff9e9e 67.6%,#ffa1a1 70.1%,#ffa3a3 72.6%,#ffa7a7 75.1%,#ffabab 77.6%,#ffafaf 80.1%,#ffb2b2 82.6%,#ffb4b4 85.1%,#ffb6b6 87.6%,#ffb7b7 90.1%,#ffb9b9 92.6%,#ffbbbb 95.1%,#ffbdbd 97.6%,#ffbfbf 100.0%)"></div><div style="height:3px;background:linear-gradient(90deg,#ff0000 0.0%,#ff0101 2.5%,#ff0303 5.0%,#ff0707 7.5%,#ff0c0c 10.0%,#ff1717 12.5%,#ff2525 15.0%,#ff3333 17.5%,#ff3c3c 20.0%,#ff4545 22.5%,#ff4c4c 25.0%,#ff5454 27.5%,#ff5b5b 30.0%,#ff6161 32.5%,#ff6868 35.0%,#ff6e6e 37.5%,#ff7575 40.0%,#ff7b7b 42.5%,#ff8080 45.0%,#ff8585 47.5%,#ff8a8a 50.0%,#ff8e8e 52.5%,#ff9191 55.0%,#ff9494 57.5%,#ff9696 60.0%,#ff9999 62.5%,#ff9b9b 65.1%,#ff9d9d 67.6%,#ffa0a0 70.1%,#ffa3a3 72.6%,#ffa7a7 75.1%,#ffabab 77.6%,#ffb0b0 80.1%,#ffb2b2 82.6%,#ffb4b4 85.1%,#ffb6b6 87.6%,#ffb7b7 90.1%,#ffb9b9 92.6%,#ffbbbb 95.1%,#ffbdbd 97.6%,#ffbfbf 100.0%)"></div><div style="height:3px;background:linear-gradient(90deg,#ff0000 0.0%,#ff0101 2.5%,#ff0202 5.0%,#ff0404 7.5%,#ff0808 10.0%,#ff1212 12.5%,#ff1f1f 15.0%,#ff2d2d 17.5%,#ff3737 20.0%,#ff4040 22.5%,#ff4848 25.0%,#ff5050 27.5%,#ff5858 30.0%,#ff5f5f 32.5%,#ff6666 35.0%,#ff6c6c 37.5%,#ff7373 40.0%,#ff7979 42.5%,#ff7f7f 45.0%,#ff8484 47.5%,#ff8888 50.0%,#ff8c8c 52.5%,#ff9090 55.0%,#ff9393 57.5%,#ff9595 60.0%,#ff9898 62.5%,#ff9a9a 65.1%,#ff9d9d 67.6%,#ff9f9f 70.1%,#ffa2a2 72.6%,#ffa6a6 75.1%,#ffacac 77.6%,#ffb0b0 80.1%,#ffb3b3 82.6%,#ffb5b5 85.1%,#ffb6b6 87.6%,#ffb7b7 90.1%,#ffb9b9 92.6%,#ffbbbb 95.1%,#ffbdbd 97.6%,#ffbfbf 100.0%)"></div><div style="height:3px;background:linear-gradient(90deg,#ff0000 0.0%,#ff0000 2.5%,#ff0101 5.0%,#ff0303 7.5%,#ff0505 10.0%,#ff0e0e 12.5%,#ff1a1a 15.0%,#ff2626 17.5%,#ff3030 20.0%,#ff3a3a 22.5%,#ff4444 25.0%,#ff4d4d 27.5%,#ff5555 30.0%,#ff5c5c 32.5%,#ff6363 35.0%,#ff6a6a 37.5%,#ff7171 40.0%,#ff7777 42.5%,#ff7d7d 45.0%,#ff8282 47.5%,#ff8787 50.0%,#ff8b8b 52.5%,#ff8f8f 55.0%,#ff9292 57.5%,#ff9595 60.0%,#ff9898 62.5%,#ff9b9b 65.1%,#ff9d9d 67.6%,#ffa0a0 70.1%,#ffa4a4 72.6%,#ffa8a8 75.1%,#ffadad 77.6%,#ffb2b2 80.1%,#ffb4b4 82.6%,#ffb6b6 85.1%,#ffb6b6 87.6%,#ffb8b8 90.1%,#ffb9b9 92.6%,#ffbbbb 95.1%,#ffbdbd 97.6%,#ffc0c0 100.0%)"></div><div style="height:3px;background:linear-gradient(90deg,#ff0000 0.0%,#ff0000 2.5%,#ff0101 5.0%,#ff0202 7.5%,#ff0303 10.0%,#ff0a0a 12.5%,#ff1414 15.0%,#ff1f1f 17.5%,#ff2929 20.0%,#ff3434 22.5%,#ff3f3f 25.0%,#ff4949 27.5%,#ff5151 30.0%,#ff5959 32.5%,#ff6060 35.0%,#ff6767 37.5%,#ff6f6f 40.0%,#ff7676 42.5%,#ff7c7c 45.0%,#ff8181 47.5%,#ff8686 50.0%,#ff8b8b 52.5%,#ff8e8e 55.0%,#ff9292 57.5%,#ff9494 60.0%,#ff9797 62.5%,#ff9b9b 65.1%,#ff9e9e 67.6%,#ffa2a2 70.1%,#ffa6a6 72.6%,#ffaaaa 75.1%,#ffafaf 77.6%,#ffb4b4 80.1%,#ffb6b6 82.6%,#ffb7b7 85.1%,#ffb8b8 87.6%,#ffb9b9 90.1%,#ffbaba 92.6%,#ffbcbc 95.1%,#ffbebe 97.6%,#ffc1c1 100.0%)"></div><div style="height:3px;background:linear-gradient(90deg,#ff0000 0.0%,#ff0000 2.5%,#ff0000 5.0%,#ff0101 7.5%,#ff0202 10.0%,#ff0606 12.5%,#ff0f0f 15.0%,#ff1818 17.5%,#ff2121 20.0%,#ff2e2e 22.5%,#ff3a3a 25.0%,#ff4545 27.5%,#ff4e4e 30.0%,#ff5656 32.5%,#ff5d5d 35.0%,#ff6565 37.5%,#ff6d6d 40.0%,#ff7474 42.5%,#ff7a7a 45.0%,#ff8080 47.5%,#ff8585 50.0%,#ff8a8a 52.5%,#ff8e8e 55.0%,#ff9191 57.5%,#ff9494 60.0%,#ff9797 62.5%,#ff9b9b 65.1%,#ff9f9f 67.6%,#ffa4a4 70.1%,#ffa9a9 72.6%,#ffadad 75.1%,#ffb2b2 77.6%,#ffb6b6 80.1%,#ffb8b8 82.6%,#ffb9b9 85.1%,#ffb9b9 87.6%,#ffbaba 90.1%,#ffbcbc 92.6%,#ffbdbd 95.1%,#ffbfbf 97.6%,#ffc2c2 100.0%)"></div><div style="height:3px;background:linear-gradient(90deg,#ff0000 0.0%,#ff0000 2.5%,#ff0000 5.0%,#ff0000 7.5%,#ff0101 10.0%,#ff0404 12.5%,#ff0a0a 15.0%,#ff1212 17.5%,#ff1b1b 20.0%,#ff2727 22.5%,#ff3535 25.0%,#ff4141 27.5%,#ff4a4a 30.0%,#ff5252 32.5%,#ff5a5a 35.0%,#ff6262 37.5%,#ff6a6a 40.0%,#ff7272 42.5%,#ff7979 45.0%,#ff7f7f 47.5%,#ff8484 50.0%,#ff8989 52.5%,#ff8d8d 55.0%,#ff9191 57.5%,#ff9494 60.0%,#ff9797 62.5%,#ff9b9b 65.1%,#ffa0a0 67.6%,#ffa6a6 70.1%,#ffabab 72.6%,#ffb0b0 75.1%,#ffb4b4 77.6%,#ffb7b7 80.1%,#ffb9b9 82.6%,#ffbaba 85.1%,#ffbbbb 87.6%,#ffbbbb 90.1%,#ffbdbd 92.6%,#ffbebe 95.1%,#ffc0c0 97.6%,#ffc2c2 100.0%)"></div><div style="height:3px;background:linear-gradient(90deg,#ff0000 0.0%,#ff0000 2.5%,#ff0000 5.0%,#ff0000 7.5%,#ff0000 10.0%,#ff0303 12.5%,#ff0707 15.0%,#ff0d0d 17.5%,#ff1515 20.0%,#ff2222 22.5%,#ff3030 25.0%,#ff3c3c 27.5%,#ff4646 30.0%,#ff4f4f 32.5%,#ff5757 35.0%,#ff6060 37.5%,#ff6868 40.0%,#ff7070 42.5%,#ff7878 45.0%,#ff7e7e 47.5%,#ff8383 50.0%,#ff8989 52.5%,#ff8d8d 55.0%,#ff9191 57.5%,#ff9494 60.0%,#ff9797 62.5%,#ff9c9c 65.1%,#ffa1a1 67.6%,#ffa7a7 70.1%,#ffacac 72.6%,#ffb0b0 75.1%,#ffb4b4 77.6%,#ffb7b7 80.1%,#ffb9b9 82.6%,#ffbaba 85.1%,#ffbbbb 87.6%,#ffbcbc 90.1%,#ffbdbd 92.6%,#ffbfbf 95.1%,#ffc0c0 97.6%,#ffc2c2 100.0%)"></div><div style="height:3px;background:linear-gradient(90deg,#ff0000 0.0%,#ff0000 2.5%,#ff0000 5.0%,#ff0000 7.5%,#ff0000 10.0%,#ff0202 12.5%,#ff0505 15.0%,#ff0909 17.5%,#ff0f0f 20.0%,#ff1c1c 22.5%,#ff2a2a 25.0%,#ff3737 27.5%,#ff4141 30.0%,#ff4a4a 32.5%,#ff5454 35.0%,#ff5d5d 37.5%,#ff6565 40.0%,#ff6e6e 42.5%,#ff7676 45.0%,#ff7c7c 47.5%,#ff8282 50.0%,#ff8888 52.5%,#ff8d8d 55.0%,#ff9191 57.5%,#ff9595 60.0%,#ff9999 62.5%,#ff9e9e 65.1%,#ffa3a3 67.6%,#ffa8a8 70.1%,#ffacac 72.6%,#ffb0b0 75.1%,#ffb4b4 77.6%,#ffb7b7 80.1%,#ffb9b9 82.6%,#ffbaba 85.1%,#ffbbbb 87.6%,#ffbcbc 90.1%,#ffbdbd 92.6%,#ffbfbf 95.1%,#ffc0c0 97.6%,#ffc2c2 100.0%)"></div><div style="height:3px;background:linear-gradient(90deg,#ff0000 0.0%,#ff0000 2.5%,#ff0000 5.0%,#ff0000 7.5%,#ff0000 10.0%,#ff0101 12.5%,#ff0303 15.0%,#ff0505 17.5%,#ff0a0a 20.0%,#ff1616 22.5%,#ff2424 25.0%,#ff3131 27.5%,#ff3b3b 30.0%,#ff4646 32.5%,#ff5050 35.0%,#ff5a5a 37.5%,#ff6363 40.0%,#ff6b6b 42.5%,#ff7373 45.0%,#ff7a7a 47.5%,#ff8181 50.0%,#ff8787 52.5%,#ff8d8d 55.0%,#ff9292 57.5%,#ff9797 60.0%,#ff9c9c 62.5%,#ffa0a0 65.1%,#ffa5a5 67.6%,#ffa9a9 70.1%,#ffacac 72.6%,#ffb0b0 75.1%,#ffb4b4 77.6%,#ffb7b7 80.1%,#ffb9b9 82.6%,#ffbaba 85.1%,#ffbbbb 87.6%,#ffbcbc 90.1%,#ffbdbd 92.6%,#ffbfbf 95.1%,#ffc0c0 97.6%,#ffc2c2 100.0%)"></div><div style="height:3px;background:linear-gradient(90deg,#ff0000 0.0%,#ff0000 2.5%,#ff0000 5.0%,#ff0000 7.5%,#ff0000 10.0%,#ff0000 12.5%,#ff0101 15.0%,#ff0202 17.5%,#ff0606 20.0%,#ff1010 22.5%,#ff1e1e 25.0%,#ff2a2a 27.5%,#ff3535 30.0%,#ff4141 32.5%,#ff4c4c 35.0%,#ff5656 37.5%,#ff6060 40.0%,#ff6969 42.5%,#ff7171 45.0%,#ff7979 47.5%,#ff8080 50.0%,#ff8787 52.5%,#ff8d8d 55.0%,#ff9393 57.5%,#ff9999 60.0%,#ff9e9e 62.5%,#ffa3a3 65.1%,#ffa6a6 67.6%,#ffa9a9 70.1%,#ffacac 72.6%,#ffb0b0 75.1%,#ffb3b3 77.6%,#ffb7b7 80.1%,#ffb8b8 82.6%,#ffbaba 85.1%,#ffbbbb 87.6%,#ffbcbc 90.1%,#ffbdbd 92.6%,#ffbfbf 95.1%,#ffc0c0 97.6%,#ffc2c2 100.0%)"></div><div style="height:3px;background:linear-gradient(90deg,#ff0000 0.0%,#ff0000 2.5%,#ff0000 5.0%,#ff0000 7.5%,#ff0000 10.0%,#ff0000 12.5%,#ff0000 15.0%,#ff0000 17.5%,#ff0303 20.0%,#ff0c0c 22.5%,#ff1818 25.0%,#ff2424 27.5%,#ff2f2f 30.0%,#ff3c3c 32.5%,#ff4848 35.0%,#ff5353 37.5%,#ff5d5d 40.0%,#ff6666 42.5%,#ff6f6f 45.0%,#ff7777 47.5%,#ff7f7f 50.0%,#ff8787 52.5%,#ff8e8e 55.0%,#ff9494 57.5%,#ff9b9b 60.0%,#ffa0a0 62.5%,#ffa4a4 65.1%,#ffa7a7 67.6%,#ffa9a9 70.1%,#ffacac 72.6%,#ffafaf 75.1%,#ffb3b3 77.6%,#ffb6b6 80.1%,#ffb8b8 82.6%,#ffb9b9 85.1%,#ffbaba 87.6%,#ffbcbc 90.1%,#ffbdbd 92.6%,#ffbfbf 95.1%,#ffc1c1 97.6%,#ffc2c2 100.0%)"></div><div style="height:3px;background:linear-gradient(90deg,#ff0000 0.0%,#ff0000 2.5%,#ff0000 5.0%,#ff0000 7.5%,#ff0000 10.0%,#ff0000 12.5%,#ff0000 15.0%,#ff0000 17.5%,#ff0202 20.0%,#ff0909 22.5%,#ff1313 25.0%,#ff1d1d 27.5%,#ff2929 30.0%,#ff3737 32.5%,#ff4444 35.0%,#ff5050 37.5%,#ff5a5a 40.0%,#ff6464 42.5%,#ff6d6d 45.0%,#ff7676 47.5%,#ff7f7f 50.0%,#ff8686 52.5%,#ff8e8e 55.0%,#ff9595 57.5%,#ff9c9c 60.0%,#ffa1a1 62.5%,#ffa4a4 65.1%,#ffa7a7 67.6%,#ffa9a9 70.1%,#ffacac 72.6%,#ffafaf 75.1%,#ffb2b2 77.6%,#ffb6b6 80.1%,#ffb8b8 82.6%,#ffbaba 85.1%,#ffbbbb 87.6%,#ffbcbc 90.1%,#ffbdbd 92.6%,#ffbfbf 95.1%,#ffc1c1 97.6%,#ffc3c3 100.0%)"></div><div style="height:3px;background:linear-gradient(90deg,#ff0000 0.0%,#ff0000 2.5%,#ff0000 5.0%,#ff0000 7.5%,#ff0000 10.0%,#ff0000 12.5%,#ff0000 15.0%,#ff0000 17.5%,#ff0101 20.0%,#ff0606 22.5%,#ff0e0e 25.0%,#ff1616 27.5%,#ff2121 30.0%,#ff3131 32.5%,#ff4040 35.0%,#ff4c4c 37.5%,#ff5757 40.0%,#ff6262 42.5%,#ff6c6c 45.0%,#ff7575 47.5%,#ff7e7e 50.0%,#ff8686 52.5%,#ff8e8e 55.0%,#ff9595 57.5%,#ff9c9c 60.0%,#ffa1a1 62.5%,#ffa4a4 65.1%,#ffa6a6 67.6%,#ffa8a8 70.1%,#ffaaaa 72.6%,#ffadad 75.1%,#ffb1b1 77.6%,#ffb6b6 80.1%,#ffb9b9 82.6%,#ffbaba 85.1%,#ffbcbc 87.6%,#ffbdbd 90.1%,#ffbfbf 92.6%,#ffc1c1 95.1%,#ffc2c2 97.6%,#ffc4c4 100.0%)"></div><div style="height:3px;background:linear-gradient(90deg,#ff0000 0.0%,#ff0000 2.5%,#ff0000 5.0%,#ff0000 7.5%,#ff0000 10.0%,#ff0000 12.5%,#ff0000 15.0%,#ff0000 17.5%,#ff0101 20.0%,#ff0404 22.5%,#ff0909 25.0%,#ff0e0e 27.5%,#ff1919 30.0%,#ff2a2a 32.5%,#ff3b3b 35.0%,#ff4949 37.5%,#ff5555 40.0%,#ff6060 42.5%,#ff6a6a 45.0%,#ff7474 47.5%,#ff7e7e 50.0%,#ff8686 52.5%,#ff8e8e 55.0%,#ff9696 57.5%,#ff9d9d 60.0%,#ffa1a1 62.5%,#ffa3a3 65.1%,#ffa5a5 67.6%,#ffa6a6 70.1%,#ffa7a7 72.6%,#ffaaaa 75.1%,#ffb0b0 77.6%,#ffb5b5 80.1%,#ffb9b9 82.6%,#ffbbbb 85.1%,#ffbdbd 87.6%,#ffbfbf 90.1%,#ffc1c1 92.6%,#ffc3c3 95.1%,#ffc5c5 97.6%,#ffc7c7 100.0%)"></div><div style="height:3px;background:linear-gradient(90deg,#ff0000 0.0%,#ff0000 2.5%,#ff0000 5.0%,#ff0000 7.5%,#ff0000 10.0%,#ff0000 12.5%,#ff0000 15.0%,#ff0000 17.5%,#ff0000 20.0%,#ff0202 22.5%,#ff0404 25.0%,#ff0808 27.5%,#ff1212 30.0%,#ff2424 32.5%,#ff3737 35.0%,#ff4545 37.5%,#ff5252 40.0%,#ff5e5e 42.5%,#ff6969 45.0%,#ff7474 47.5%,#ff7d7d 50.0%,#ff8686 52.5%,#ff8e8e 55.0%,#ff9696 57.5%,#ff9d9d 60.0%,#ffa2a2 62.5%,#ffa3a3 65.1%,#ffa3a3 67.6%,#ffa3a3 70.1%,#ffa3a3 72.6%,#ffa7a7 75.1%,#ffaeae 77.6%,#ffb5b5 80.1%,#ffbaba 82.6%,#ffbcbc 85.1%,#ffbfbf 87.6%,#ffc1c1 90.1%,#ffc3c3 92.6%,#ffc5c5 95.1%,#ffc7c7 97.6%,#ffcaca 100.0%)"></div><div style="height:3px;background:linear-gradient(90deg,#ff0000 0.0%,#ff0000 2.5%,#ff0000 5.0%,#ff0000 7.5%,#ff0000 10.0%,#ff0000 12.5%,#ff0000 15.0%,#ff0000 17.5%,#ff0000 20.0%,#ff0101 22.5%,#ff0202 25.0%,#ff0404 27.5%,#ff0d0d 30.0%,#ff1f1f 32.5%,#ff3232 35.0%,#ff4141 37.5%,#ff4f4f 40.0%,#ff5c5c 42.5%,#ff6868 45.0%,#ff7373 47.5%,#ff7d7d 50.0%,#ff8686 52.5%,#ff8e8e 55.0%,#ff9696 57.5%,#ff9d9d 60.0%,#ffa2a2 62.5%,#ffa2a2 65.1%,#ffa2a2 67.6%,#ffa1a1 70.1%,#ffa0a0 72.6%,#ffa3a3 75.1%,#ffacac 77.6%,#ffb5b5 80.1%,#ffbaba 82.6%,#ffbdbd 85.1%,#ffbfbf 87.6%,#ffc2c2 90.1%,#ffc4c4 92.6%,#ffc7c7 95.1%,#ffc9c9 97.6%,#ffcccc 100.0%)"></div><div style="height:3px;background:linear-gradient(90deg,#ff0000 0.0%,#ff0000 2.5%,#ff0000 5.0%,#ff0000 7.5%,#ff0000 10.0%,#ff0000 12.5%,#ff0000 15.0%,#ff0000 17.5%,#ff0000 20.0%,#ff0101 22.5%,#ff0101 25.0%,#ff0202 27.5%,#ff0b0b 30.0%,#ff1b1b 32.5%,#ff2d2d 35.0%,#ff3c3c 37.5%,#ff4b4b 40.0%,#ff5959 42.5%,#ff6666 45.0%,#ff7171 47.5%,#ff7c7c 50.0%,#ff8585 52.5%,#ff8e8e 55.0%,#ff9696 57.5%,#ff9e9e 60.0%,#ffa2a2 62.5%,#ffa2a2 65.1%,#ffa1a1 67.6%,#ff9e9e 70.1%,#ff9d9d 72.6%,#ffa1a1 75.1%,#ffaaaa 77.6%,#ffb4b4 80.1%,#ffbaba 82.6%,#ffbdbd 85.1%,#ffbfbf 87.6%,#ffc2c2 90.1%,#ffc4c4 92.6%,#ffc7c7 95.1%,#ffcaca 97.6%,#ffcdcd 100.0%)"></div><div style="height:3px;background:linear-gradient(90deg,#ff0000 0.0%,#ff0000 2.5%,#ff0000 5.0%,#ff0000 7.5%,#ff0000 10.0%,#ff0000 12.5%,#ff0000 15.0%,#ff0000 17.5%,#ff0000 20.0%,#ff0000 22.5%,#ff0101 25.0%,#ff0101 27.5%,#ff0808 30.0%,#ff1616 32.5%,#ff2727 35.0%,#ff3636 37.5%,#ff4545 40.0%,#ff5555 42.5%,#ff6464 45.0%,#ff7070 47.5%,#ff7a7a 50.0%,#ff8484 52.5%,#ff8d8d 55.0%,#ff9696 57.5%,#ff9e9e 60.0%,#ffa3a3 62.5%,#ffa3a3 65.1%,#ffa0a0 67.6%,#ff9c9c 70.1%,#ff9a9a 72.6%,#ff9d9d 75.1%,#ffa7a7 77.6%,#ffb2b2 80.1%,#ffb8b8 82.6%,#ffbcbc 85.1%,#ffbfbf 87.6%,#ffc1c1 90.1%,#ffc5c5 92.6%,#ffc8c8 95.1%,#ffcbcb 97.6%,#ffcece 100.0%)"></div><div style="height:3px;background:linear-gradient(90deg,#ff0000 0.0%,#ff0000 2.5%,#ff0000 5.0%,#ff0000 7.5%,#ff0000 10.0%,#ff0000 12.5%,#ff0000 15.0%,#ff0000 17.5%,#ff0000 20.0%,#ff0000 22.5%,#ff0000 25.0%,#ff0101 27.5%,#ff0606 30.0%,#ff1212 32.5%,#ff2121 35.0%,#ff2f2f 37.5%,#ff4040 40.0%,#ff5252 42.5%,#ff6161 45.0%,#ff6e6e 47.5%,#ff7979 50.0%,#ff8383 52.5%,#ff8c8c 55.0%,#ff9696 57.5%,#ff9f9f 60.0%,#ffa4a4 62.5%,#ffa4a4 65.1%,#ff9f9f 67.6%,#ff9999 70.1%,#ff9696 72.6%,#ff9a9a 75.1%,#ffa4a4 77.6%,#ffafaf 80.1%,#ffb6b6 82.6%,#ffbbbb 85.1%,#ffbebe 87.6%,#ffc1c1 90.1%,#ffc5c5 92.6%,#ffc8c8 95.1%,#ffcbcb 97.6%,#ffcece 100.0%)"></div><div style="height:3px;background:linear-gradient(90deg,#ff0000 0.0%,#ff0000 2.5%,#ff0000 5.0%,#ff0000 7.5%,#ff0000 10.0%,#ff0000 12.5%,#ff0000 15.0%,#ff0000 17.5%,#ff0000 20.0%,#ff0000 22.5%,#ff0000 25.0%,#ff0000 27.5%,#ff0505 30.0%,#ff0f0f 32.5%,#ff1c1c 35.0%,#ff2a2a 37.5%,#ff3b3b 40.0%,#ff4e4e 42.5%,#ff5f5f 45.0%,#ff6c6c 47.5%,#ff7878 50.0%,#ff8282 52.5%,#ff8b8b 55.0%,#ff9595 57.5%,#ff9f9f 60.0%,#ffa5a5 62.5%,#ffa4a4 65.1%,#ff9e9e 67.6%,#ff9797 70.1%,#ff9393 72.6%,#ff9797 75.1%,#ffa2a2 77.6%,#ffadad 80.1%,#ffb5b5 82.6%,#ffbaba 85.1%,#ffbebe 87.6%,#ffc1c1 90.1%,#ffc5c5 92.6%,#ffc8c8 95.1%,#ffcccc 97.6%,#ffcfcf 100.0%)"></div><div style="height:3px;background:linear-gradient(90deg,#ff0000 0.0%,#ff0000 2.5%,#ff0000 5.0%,#ff0000 7.5%,#ff0000 10.0%,#ff0000 12.5%,#ff0000 15.0%,#ff0000 17.5%,#ff0000 20.0%,#ff0000 22.5%,#ff0000 25.0%,#ff0000 27.5%,#ff0404 30.0%,#ff0e0e 32.5%,#ff1919 35.0%,#ff2626 37.5%,#ff3838 40.0%,#ff4c4c 42.5%,#ff5d5d 45.0%,#ff6b6b 47.5%,#ff7777 50.0%,#ff8181 52.5%,#ff8b8b 55.0%,#ff9595 57.5%,#ff9f9f 60.0%,#ffa5a5 62.5%,#ffa4a4 65.1%,#ff9d9d 67.6%,#ff9494 70.1%,#ff8f8f 72.6%,#ff9494 75.1%,#ffa0a0 77.6%,#ffacac 80.1%,#ffb4b4 82.6%,#ffb9b9 85.1%,#ffbdbd 87.6%,#ffc1c1 90.1%,#ffc5c5 92.6%,#ffc9c9 95.1%,#ffcccc 97.6%,#ffcfcf 100.0%)"></div><div style="height:3px;background:linear-gradient(90deg,#ff0000 0.0%,#ff0000 2.5%,#ff0000 5.0%,#ff0000 7.5%,#ff0000 10.0%,#ff0000 12.5%,#ff0000 15.0%,#ff0000 17.5%,#ff0000 20.0%,#ff0000 22.5%,#ff0000 25.0%,#ff0000 27.5%,#ff0404 30.0%,#ff0d0d 32.5%,#ff1818 35.0%,#ff2424 37.5%,#ff3535 40.0%,#ff4a4a 42.5%,#ff5c5c 45.0%,#ff6969 47.5%,#ff7676 50.0%,#ff8181 52.5%,#ff8b8b 55.0%,#ff9595 57.5%,#ff9f9f 60.0%,#ffa5a5 62.5%,#ffa4a4 65.1%,#ff9c9c 67.6%,#ff9191 70.1%,#ff8c8c 72.6%,#ff9191 75.1%,#ff9e9e 77.6%,#ffacac 80.1%,#ffb5b5 82.6%,#ffbaba 85.1%,#ffbebe 87.6%,#ffc2c2 90.1%,#ffc6c6 92.6%,#ffc9c9 95.1%,#ffcdcd 97.6%,#ffcfcf 100.0%)"></div><div style="height:3px;background:linear-gradient(90deg,#ff0000 0.0%,#ff0000 2.5%,#ff0000 5.0%,#ff0000 7.5%,#ff0000 10.0%,#ff0000 12.5%,#ff0000 15.0%,#ff0000 17.5%,#ff0000 20.0%,#ff0000 22.5%,#ff0000 25.0%,#ff0000 27.5%,#ff0404 30.0%,#ff0c0c 32.5%,#ff1616 35.0%,#ff2222 37.5%,#ff3333 40.0%,#ff4848 42.5%,#ff5a5a 45.0%,#ff6868 47.5%,#ff7575 50.0%,#ff8181 52.5%,#ff8b8b 55.0%,#ff9595 57.5%,#ff9f9f 60.0%,#ffa5a5 62.5%,#ffa4a4 65.1%,#ff9a9a 67.6%,#ff8f8f 70.1%,#ff8989 72.6%,#ff8f8f 75.1%,#ff9d9d 77.6%,#ffadad 80.1%,#ffb5b5 82.6%,#ffbbbb 85.1%,#ffbfbf 87.6%,#ffc3c3 90.1%,#ffc6c6 92.6%,#ffcaca 95.1%,#ffcdcd 97.6%,#ffcfcf 100.0%)"></div><div style="height:3px;background:linear-gradient(90deg,#ff0000 0.0%,#ff0000 2.5%,#ff0000 5.0%,#ff0000 7.5%,#ff0000 10.0%,#ff0000 12.5%,#ff0000 15.0%,#ff0000 17.5%,#ff0000 20.0%,#ff0000 22.5%,#ff0000 25.0%,#ff0000 27.5%,#ff0303 30.0%,#ff0b0b 32.5%,#ff1515 35.0%,#ff2020 37.5%,#ff3232 40.0%,#ff4646 42.5%,#ff5959 45.0%,#ff6767 47.5%,#ff7474 50.0%,#ff8181 52.5%,#ff8b8b 55.0%,#ff9595 57.5%,#ff9f9f 60.0%,#ffa5a5 62.5%,#ffa4a4 65.1%,#ff9999 67.6%,#ff8c8c 70.1%,#ff8585 72.6%,#ff8c8c 75.1%,#ff9c9c 77.6%,#ffaeae 80.1%,#ffb7b7 82.6%,#ffbcbc 85.1%,#ffc1c1 87.6%,#ffc4c4 90.1%,#ffc8c8 92.6%,#ffcbcb 95.1%,#ffcece 97.6%,#ffcfcf 100.0%)"></div><div style="height:3px;background:linear-gradient(90deg,#ff0000 0.0%,#ff0000 2.5%,#ff0000 5.0%,#ff0000 7.5%,#ff0000 10.0%,#ff0000 12.5%,#ff0000 15.0%,#ff0000 17.5%,#ff0000 20.0%,#ff0000 22.5%,#ff0000 25.0%,#ff0000 27.5%,#ff0303 30.0%,#ff0b0b 32.5%,#ff1414 35.0%,#ff1f1f 37.5%,#ff3131 40.0%,#ff4545 42.5%,#ff5757 45.0%,#ff6666 47.5%,#ff7474 50.0%,#ff8080 52.5%,#ff8b8b 55.0%,#ff9696 57.5%,#ff9f9f 60.0%,#ffa5a5 62.5%,#ffa4a4 65.1%,#ff9898 67.6%,#ff8989 70.1%,#ff8282 72.6%,#ff8989 75.1%,#ff9c9c 77.6%,#ffafaf 80.1%,#ffb9b9 82.6%,#ffbfbf 85.1%,#ffc3c3 87.6%,#ffc6c6 90.1%,#ffc9c9 92.6%,#ffcccc 95.1%,#ffcece 97.6%,#ffcfcf 100.0%)"></div><div style="height:3px;background:linear-gradient(90deg,#ff0000 0.0%,#ff0000 2.5%,#ff0000 5.0%,#ff0000 7.5%,#ff0000 10.0%,#ff0000 12.5%,#ff0000 15.0%,#ff0000 17.5%,#ff0000 20.0%,#ff0000 22.5%,#ff0000 25.0%,#ff0000 27.5%,#ff0303 30.0%,#ff0b0b 32.5%,#ff1414 35.0%,#ff1f1f 37.5%,#ff3030 40.0%,#ff4444 42.5%,#ff5757 45.0%,#ff6666 47.5%,#ff7474 50.0%,#ff8080 52.5%,#ff8b8b 55.0%,#ff9696 57.5%,#ff9f9f 60.0%,#ffa5a5 62.5%,#ffa3a3 65.1%,#ff9797 67.6%,#ff8787 70.1%,#ff8080 72.6%,#ff8888 75.1%,#ff9c9c 77.6%,#ffb0b0 80.1%,#ffbbbb 82.6%,#ffc0c0 85.1%,#ffc5c5 87.6%,#ffc8c8 90.1%,#ffcaca 92.6%,#ffcdcd 95.1%,#ffcece 97.6%,#ffcfcf 100.0%)"></div></div></div>
<svg width="2000" height="1039" viewBox="0 0 2000 1039">
<rect x="67.00" y="32.00" width="360.50" height="415.50" fill="none" stroke="#000" stroke-width="2.20"/>
<line x1="67.00" y1="81.00" x2="77.00" y2="81.00" stroke="#000" stroke-width="2.00" />
<line x1="67.00" y1="129.90" x2="77.00" y2="129.90" stroke="#000" stroke-width="2.00" />
<line x1="67.00" y1="178.80" x2="77.00" y2="178.80" stroke="#000" stroke-width="2.00" />
<line x1="67.00" y1="227.70" x2="77.00" y2="227.70" stroke="#000" stroke-width="2.00" />
<line x1="67.00" y1="276.60" x2="77.00" y2="276.60" stroke="#000" stroke-width="2.00" />
<line x1="67.00" y1="325.50" x2="77.00" y2="325.50" stroke="#000" stroke-width="2.00" />
<line x1="67.00" y1="374.40" x2="77.00" y2="374.40" stroke="#000" stroke-width="2.00" />
<line x1="67.00" y1="423.30" x2="77.00" y2="423.30" stroke="#000" stroke-width="2.00" />
<line x1="67.00" y1="56.50" x2="73.00" y2="56.50" stroke="#000" stroke-width="2.00" />
<line x1="67.00" y1="105.40" x2="73.00" y2="105.40" stroke="#000" stroke-width="2.00" />
<line x1="67.00" y1="154.30" x2="73.00" y2="154.30" stroke="#000" stroke-width="2.00" />
<line x1="67.00" y1="203.20" x2="73.00" y2="203.20" stroke="#000" stroke-width="2.00" />
<line x1="67.00" y1="252.10" x2="73.00" y2="252.10" stroke="#000" stroke-width="2.00" />
<line x1="67.00" y1="301.00" x2="73.00" y2="301.00" stroke="#000" stroke-width="2.00" />
<line x1="67.00" y1="349.90" x2="73.00" y2="349.90" stroke="#000" stroke-width="2.00" />
<line x1="67.00" y1="398.80" x2="73.00" y2="398.80" stroke="#000" stroke-width="2.00" />
<line x1="103.05" y1="447.50" x2="103.05" y2="442.50" stroke="#000" stroke-width="2.00" />
<line x1="139.10" y1="447.50" x2="139.10" y2="438.50" stroke="#000" stroke-width="2.00" />
<line x1="175.15" y1="447.50" x2="175.15" y2="442.50" stroke="#000" stroke-width="2.00" />
<line x1="211.20" y1="447.50" x2="211.20" y2="438.50" stroke="#000" stroke-width="2.00" />
<line x1="247.25" y1="447.50" x2="247.25" y2="442.50" stroke="#000" stroke-width="2.00" />
<line x1="283.30" y1="447.50" x2="283.30" y2="438.50" stroke="#000" stroke-width="2.00" />
<line x1="319.35" y1="447.50" x2="319.35" y2="442.50" stroke="#000" stroke-width="2.00" />
<line x1="355.40" y1="447.50" x2="355.40" y2="438.50" stroke="#000" stroke-width="2.00" />
<line x1="391.45" y1="447.50" x2="391.45" y2="442.50" stroke="#000" stroke-width="2.00" />
<text x="67.00" y="478.70" font-size="26.50" text-anchor="middle" fill="#000" >0</text>
<text x="139.10" y="478.70" font-size="26.50" text-anchor="middle" fill="#000" >20</text>
<text x="211.20" y="478.70" font-size="26.50" text-anchor="middle" fill="#000" >40</text>
<text x="283.30" y="478.70" font-size="26.50" text-anchor="middle" fill="#000" >60</text>
<text x="355.40" y="478.70" font-size="26.50" text-anchor="middle" fill="#000" >80</text>
<text x="427.50" y="478.70" font-size="26.50" text-anchor="middle" fill="#000" >100</text>
<rect x="557.00" y="32.00" width="360.00" height="415.50" fill="none" stroke="#000" stroke-width="2.20"/>
<line x1="557.00" y1="81.00" x2="567.00" y2="81.00" stroke="#000" stroke-width="2.00" />
<line x1="557.00" y1="129.90" x2="567.00" y2="129.90" stroke="#000" stroke-width="2.00" />
<line x1="557.00" y1="178.80" x2="567.00" y2="178.80" stroke="#000" stroke-width="2.00" />
<line x1="557.00" y1="227.70" x2="567.00" y2="227.70" stroke="#000" stroke-width="2.00" />
<line x1="557.00" y1="276.60" x2="567.00" y2="276.60" stroke="#000" stroke-width="2.00" />
<line x1="557.00" y1="325.50" x2="567.00" y2="325.50" stroke="#000" stroke-width="2.00" />
<line x1="557.00" y1="374.40" x2="567.00" y2="374.40" stroke="#000" stroke-width="2.00" />
<line x1="557.00" y1="423.30" x2="567.00" y2="423.30" stroke="#000" stroke-width="2.00" />
<line x1="557.00" y1="56.50" x2="563.00" y2="56.50" stroke="#000" stroke-width="2.00" />
<line x1="557.00" y1="105.40" x2="563.00" y2="105.40" stroke="#000" stroke-width="2.00" />
<line x1="557.00" y1="154.30" x2="563.00" y2="154.30" stroke="#000" stroke-width="2.00" />
<line x1="557.00" y1="203.20" x2="563.00" y2="203.20" stroke="#000" stroke-width="2.00" />
<line x1="557.00" y1="252.10" x2="563.00" y2="252.10" stroke="#000" stroke-width="2.00" />
<line x1="557.00" y1="301.00" x2="563.00" y2="301.00" stroke="#000" stroke-width="2.00" />
<line x1="557.00" y1="349.90" x2="563.00" y2="349.90" stroke="#000" stroke-width="2.00" />
<line x1="557.00" y1="398.80" x2="563.00" y2="398.80" stroke="#000" stroke-width="2.00" />
<line x1="593.00" y1="447.50" x2="593.00" y2="442.50" stroke="#000" stroke-width="2.00" />
<line x1="629.00" y1="447.50" x2="629.00" y2="438.50" stroke="#000" stroke-width="2.00" />
<line x1="665.00" y1="447.50" x2="665.00" y2="442.50" stroke="#000" stroke-width="2.00" />
<line x1="701.00" y1="447.50" x2="701.00" y2="438.50" stroke="#000" stroke-width="2.00" />
<line x1="737.00" y1="447.50" x2="737.00" y2="442.50" stroke="#000" stroke-width="2.00" />
<line x1="773.00" y1="447.50" x2="773.00" y2="438.50" stroke="#000" stroke-width="2.00" />
<line x1="809.00" y1="447.50" x2="809.00" y2="442.50" stroke="#000" stroke-width="2.00" />
<line x1="845.00" y1="447.50" x2="845.00" y2="438.50" stroke="#000" stroke-width="2.00" />
<line x1="881.00" y1="447.50" x2="881.00" y2="442.50" stroke="#000" stroke-width="2.00" />
<text x="557.00" y="478.70" font-size="26.50" text-anchor="middle" fill="#000" >0</text>
<text x="629.00" y="478.70" font-size="26.50" text-anchor="middle" fill="#000" >20</text>
<text x="701.00" y="478.70" font-size="26.50" text-anchor="middle" fill="#000" >40</text>
<text x="773.00" y="478.70" font-size="26.50" text-anchor="middle" fill="#000" >60</text>
<text x="845.00" y="478.70" font-size="26.50" text-anchor="middle" fill="#000" >80</text>
<text x="917.00" y="478.70" font-size="26.50" text-anchor="middle" fill="#000" >100</text>
<rect x="1046.00" y="32.00" width="360.00" height="415.50" fill="none" stroke="#000" stroke-width="2.20"/>
<line x1="1046.00" y1="83.75" x2="1056.00" y2="83.75" stroke="#000" stroke-width="2.00" />
<line x1="1046.00" y1="135.75" x2="1056.00" y2="135.75" stroke="#000" stroke-width="2.00" />
<line x1="1046.00" y1="187.75" x2="1056.00" y2="187.75" stroke="#000" stroke-width="2.00" />
<line x1="1046.00" y1="239.75" x2="1056.00" y2="239.75" stroke="#000" stroke-width="2.00" />
<line x1="1046.00" y1="291.75" x2="1056.00" y2="291.75" stroke="#000" stroke-width="2.00" />
<line x1="1046.00" y1="343.75" x2="1056.00" y2="343.75" stroke="#000" stroke-width="2.00" />
<line x1="1046.00" y1="395.75" x2="1056.00" y2="395.75" stroke="#000" stroke-width="2.00" />
<line x1="1082.00" y1="447.50" x2="1082.00" y2="442.50" stroke="#000" stroke-width="2.00" />
<line x1="1118.00" y1="447.50" x2="1118.00" y2="438.50" stroke="#000" stroke-width="2.00" />
<line x1="1154.00" y1="447.50" x2="1154.00" y2="442.50" stroke="#000" stroke-width="2.00" />
<line x1="1190.00" y1="447.50" x2="1190.00" y2="438.50" stroke="#000" stroke-width="2.00" />
<line x1="1226.00" y1="447.50" x2="1226.00" y2="442.50" stroke="#000" stroke-width="2.00" />
<line x1="1262.00" y1="447.50" x2="1262.00" y2="438.50" stroke="#000" stroke-width="2.00" />
<line x1="1298.00" y1="447.50" x2="1298.00" y2="442.50" stroke="#000" stroke-width="2.00" />
<line x1="1334.00" y1="447.50" x2="1334.00" y2="438.50" stroke="#000" stroke-width="2.00" />
<line x1="1370.00" y1="447.50" x2="1370.00" y2="442.50" stroke="#000" stroke-width="2.00" />
<text x="1046.00" y="478.70" font-size="26.50" text-anchor="middle" fill="#000" >0</text>
<text x="1118.00" y="478.70" font-size="26.50" text-anchor="middle" fill="#000" >20</text>
<text x="1190.00" y="478.70" font-size="26.50" text-anchor="middle" fill="#000" >40</text>
<text x="1262.00" y="478.70" font-size="26.50" text-anchor="middle" fill="#000" >60</text>
<text x="1334.00" y="478.70" font-size="26.50" text-anchor="middle" fill="#000" >80</text>
<text x="1406.00" y="478.70" font-size="26.50" text-anchor="middle" fill="#000" >100</text>
<rect x="1596.00" y="32.00" width="360.50" height="415.50" fill="none" stroke="#000" stroke-width="2.20"/>
<line x1="1596.00" y1="107.40" x2="1606.00" y2="107.40" stroke="#000" stroke-width="2.00" />
<line x1="1596.00" y1="183.00" x2="1606.00" y2="183.00" stroke="#000" stroke-width="2.00" />
<line x1="1596.00" y1="258.60" x2="1606.00" y2="258.60" stroke="#000" stroke-width="2.00" />
<line x1="1596.00" y1="334.20" x2="1606.00" y2="334.20" stroke="#000" stroke-width="2.00" />
<line x1="1596.00" y1="409.80" x2="1606.00" y2="409.80" stroke="#000" stroke-width="2.00" />
<line x1="1596.00" y1="69.60" x2="1602.00" y2="69.60" stroke="#000" stroke-width="2.00" />
<line x1="1596.00" y1="145.20" x2="1602.00" y2="145.20" stroke="#000" stroke-width="2.00" />
<line x1="1596.00" y1="220.80" x2="1602.00" y2="220.80" stroke="#000" stroke-width="2.00" />
<line x1="1596.00" y1="296.40" x2="1602.00" y2="296.40" stroke="#000" stroke-width="2.00" />
<line x1="1596.00" y1="372.00" x2="1602.00" y2="372.00" stroke="#000" stroke-width="2.00" />
<line x1="1632.05" y1="447.50" x2="1632.05" y2="442.50" stroke="#000" stroke-width="2.00" />
<line x1="1668.10" y1="447.50" x2="1668.10" y2="438.50" stroke="#000" stroke-width="2.00" />
<line x1="1704.15" y1="447.50" x2="1704.15" y2="442.50" stroke="#000" stroke-width="2.00" />
<line x1="1740.20" y1="447.50" x2="1740.20" y2="438.50" stroke="#000" stroke-width="2.00" />
<line x1="1776.25" y1="447.50" x2="1776.25" y2="442.50" stroke="#000" stroke-width="2.00" />
<line x1="1812.30" y1="447.50" x2="1812.30" y2="438.50" stroke="#000" stroke-width="2.00" />
<line x1="1848.35" y1="447.50" x2="1848.35" y2="442.50" stroke="#000" stroke-width="2.00" />
<line x1="1884.40" y1="447.50" x2="1884.40" y2="438.50" stroke="#000" stroke-width="2.00" />
<line x1="1920.45" y1="447.50" x2="1920.45" y2="442.50" stroke="#000" stroke-width="2.00" />
<text x="1596.00" y="478.70" font-size="26.50" text-anchor="middle" fill="#000" >0</text>
<text x="1668.10" y="478.70" font-size="26.50" text-anchor="middle" fill="#000" >20</text>
<text x="1740.20" y="478.70" font-size="26.50" text-anchor="middle" fill="#000" >40</text>
<text x="1812.30" y="478.70" font-size="26.50" text-anchor="middle" fill="#000" >60</text>
<text x="1884.40" y="478.70" font-size="26.50" text-anchor="middle" fill="#000" >80</text>
<text x="1956.50" y="478.70" font-size="26.50" text-anchor="middle" fill="#000" >100</text>
<path d="M74.4 390.1 L76.0 388.7 L77.6 386.5 L79.2 384.0 L80.8 381.9 L82.4 379.2 L84.0 377.4 L85.6 375.7 L87.2 372.4 L88.8 370.0 L90.4 368.1 L92.0 365.5 L93.6 362.7 L95.2 359.2 L96.8 356.5 L98.4 353.6 L100.0 349.0 L101.6 345.8 L103.2 341.4 L104.8 337.9 L106.4 333.9 L108.0 330.9 L109.6 326.5 L111.2 323.5 L112.8 319.6 L114.4 315.7 L116.0 311.1 L117.6 309.1 L119.2 306.9 L120.8 305.3 L122.4 303.3 L124.0 303.2 L125.6 302.7 L127.2 302.9 L128.8 304.2 L130.4 303.9 L132.0 305.1 L133.6 306.6 L135.2 307.1 L136.8 308.6 L138.4 310.1 L140.0 311.6 L141.6 312.5 L143.2 314.8 L144.8 317.2 L146.4 317.5 L148.0 320.4 L149.6 321.7 L151.2 322.9 L152.8 325.7 L154.4 326.4 L156.0 326.8 L157.6 328.7 L159.2 330.2 L160.8 331.0 L162.4 332.6 L164.0 333.4 L165.6 334.9 L167.2 336.5 L168.8 336.5 L170.4 338.1 L172.0 338.9 L173.6 340.3 L175.2 340.7 L176.8 342.1 L178.4 343.3 L180.0 344.9 L181.6 346.0 L183.2 345.8 L184.8 347.1 L186.4 348.8 L188.0 348.5 L189.6 350.3 L191.2 351.4 L192.8 353.1 L194.4 353.8 L196.0 354.2 L197.6 355.1 L199.2 356.1 L200.8 357.9 L202.4 357.8 L204.0 358.8 L205.6 360.0 L207.2 360.6 L208.8 361.4 L210.4 361.7 L212.0 363.1 L213.6 363.6 L215.2 365.1 L216.8 365.6 L218.4 366.0 L220.0 367.0 L221.6 367.2 L223.2 368.6 L224.8 368.7 L226.4 369.7 L228.0 369.4 L229.6 370.9 L231.2 370.5 L232.8 371.0 L234.4 372.5 L236.0 372.8 L237.6 373.9 L239.2 375.5 L240.8 374.5 L242.4 375.1 L244.0 376.0 L245.6 376.6 L247.2 376.8 L248.8 377.2 L250.4 378.1 L252.0 378.4 L253.6 378.1 L255.2 379.0 L256.8 379.4 L258.4 379.3 L260.0 380.4 L261.6 380.2 L263.2 381.5 L264.8 381.6 L266.4 381.9 L268.0 382.0 L269.6 382.7 L271.2 382.2 L272.8 383.1 L274.4 384.4 L276.0 383.6 L277.6 385.6 L279.2 384.8 L280.8 386.5 L282.4 386.2 L284.0 387.5 L285.6 387.7 L287.2 387.3 L288.8 389.2 L290.4 389.8 L292.0 389.6 L293.6 389.9 L295.2 390.5 L296.8 390.5 L298.4 392.0 L300.0 391.7 L301.6 392.4 L303.2 392.4 L304.8 392.9 L306.4 393.1 L308.0 394.7 L309.6 394.5 L311.2 395.4 L312.8 395.4 L314.4 395.4 L316.0 396.0 L317.6 396.3 L319.2 397.0 L320.8 397.2 L322.4 397.6 L324.0 397.5 L325.6 398.1 L327.2 399.7 L328.8 398.9 L330.4 399.1 L332.0 400.2 L333.6 401.1 L335.2 400.0 L336.8 400.9 L338.4 401.1 L340.0 400.8 L341.6 402.4 L343.2 402.4 L344.8 402.7 L346.4 402.6 L348.0 403.5 L349.6 403.4 L351.2 403.9 L352.8 403.7 L354.4 403.9 L356.0 405.5 L357.6 404.9 L359.2 405.6 L360.8 405.7 L362.4 405.8 L364.0 406.1 L365.6 407.0 L367.2 406.8 L368.8 407.2 L370.4 407.6 L372.0 408.4 L373.6 408.5 L375.2 408.6 L376.8 408.5 L378.4 408.3 L380.0 409.8 L381.6 410.1 L383.2 409.8 L384.8 410.4 L386.4 410.8 L388.0 411.1 L389.6 411.4 L391.2 410.9 L392.8 412.2 L394.4 411.0 L396.0 412.3 L397.6 412.3 L399.2 412.8 L400.8 413.5 L402.4 413.5 L404.0 412.4 L405.6 412.3 L407.2 413.8 L408.8 413.0 L410.4 413.7 L412.0 414.4 L413.6 413.3 L415.2 413.2 L416.8 414.6 L418.4 414.7 L420.0 414.7 L421.6 415.0 L423.2 414.7 L424.8 414.5 L426.4 415.3 L427.0 414.9" fill="none" stroke="#ff0000" stroke-width="3.90" stroke-linejoin="round" stroke-linecap="round" opacity="1.00"/>
<path d="M564.4 396.1 L566.0 395.0 L567.6 391.9 L569.2 389.0 L570.8 385.0 L572.4 381.8 L574.0 378.4 L575.6 375.3 L577.2 372.8 L578.8 369.4 L580.4 367.0 L582.0 364.1 L583.6 362.0 L585.2 357.3 L586.8 355.4 L588.4 351.8 L590.0 348.7 L591.6 344.8 L593.2 342.0 L594.8 339.2 L596.4 335.3 L598.0 331.8 L599.6 328.1 L601.2 325.4 L602.8 321.4 L604.4 317.2 L606.0 315.1 L607.6 312.0 L609.2 309.3 L610.8 309.1 L612.4 308.8 L614.0 307.5 L615.6 306.6 L617.2 306.7 L618.8 308.1 L620.4 308.1 L622.0 308.8 L623.6 309.7 L625.2 310.8 L626.8 312.4 L628.4 313.7 L630.0 315.1 L631.6 316.1 L633.2 318.5 L634.8 319.5 L636.4 321.9 L638.0 322.2 L639.6 324.2 L641.2 325.7 L642.8 326.4 L644.4 329.2 L646.0 330.4 L647.6 330.6 L649.2 332.4 L650.8 333.3 L652.4 332.8 L654.0 335.2 L655.6 336.0 L657.2 337.1 L658.8 337.4 L660.4 338.8 L662.0 339.8 L663.6 341.5 L665.2 342.1 L666.8 343.0 L668.4 344.9 L670.0 345.0 L671.6 346.2 L673.2 346.7 L674.8 349.6 L676.4 350.5 L678.0 351.6 L679.6 352.6 L681.2 353.4 L682.8 354.4 L684.4 355.1 L686.0 355.9 L687.6 356.8 L689.2 358.2 L690.8 358.4 L692.4 358.7 L694.0 359.1 L695.6 359.7 L697.2 361.4 L698.8 361.4 L700.4 361.8 L702.0 362.3 L703.6 362.5 L705.2 363.7 L706.8 364.9 L708.4 365.0 L710.0 365.8 L711.6 366.6 L713.2 367.5 L714.8 367.4 L716.4 368.9 L718.0 369.4 L719.6 371.0 L721.2 370.9 L722.8 372.4 L724.4 373.6 L726.0 373.4 L727.6 374.0 L729.2 375.1 L730.8 375.7 L732.4 375.9 L734.0 377.4 L735.6 378.8 L737.2 378.4 L738.8 379.1 L740.4 379.3 L742.0 380.5 L743.6 380.3 L745.2 380.9 L746.8 382.6 L748.4 382.0 L750.0 383.5 L751.6 384.2 L753.2 384.0 L754.8 384.6 L756.4 385.7 L758.0 385.0 L759.6 385.2 L761.2 385.2 L762.8 386.2 L764.4 387.2 L766.0 387.1 L767.6 386.4 L769.2 386.5 L770.8 386.8 L772.4 387.3 L774.0 387.2 L775.6 387.6 L777.2 387.9 L778.8 388.1 L780.4 388.8 L782.0 389.7 L783.6 390.3 L785.2 391.2 L786.8 392.4 L788.4 392.2 L790.0 392.4 L791.6 392.1 L793.2 393.9 L794.8 393.6 L796.4 394.6 L798.0 396.5 L799.6 397.0 L801.2 397.0 L802.8 396.7 L804.4 397.8 L806.0 398.0 L807.6 398.9 L809.2 400.0 L810.8 399.3 L812.4 399.0 L814.0 399.1 L815.6 399.9 L817.2 400.0 L818.8 399.8 L820.4 400.6 L822.0 400.2 L823.6 401.5 L825.2 401.6 L826.8 401.8 L828.4 401.2 L830.0 401.9 L831.6 401.7 L833.2 401.7 L834.8 401.9 L836.4 401.6 L838.0 401.7 L839.6 403.0 L841.2 402.7 L842.8 403.2 L844.4 403.8 L846.0 402.6 L847.6 403.4 L849.2 404.1 L850.8 404.5 L852.4 404.4 L854.0 405.5 L855.6 405.5 L857.2 405.3 L858.8 405.9 L860.4 407.3 L862.0 407.7 L863.6 407.0 L865.2 409.1 L866.8 409.1 L868.4 409.8 L870.0 409.3 L871.6 409.6 L873.2 409.4 L874.8 411.5 L876.4 410.3 L878.0 411.4 L879.6 410.5 L881.2 411.1 L882.8 410.3 L884.4 411.1 L886.0 411.8 L887.6 410.8 L889.2 412.0 L890.8 411.5 L892.4 410.7 L894.0 410.7 L895.6 410.3 L897.2 410.1 L898.8 409.7 L900.4 409.8 L902.0 410.8 L903.6 411.7 L905.2 412.9 L906.8 414.7 L908.4 415.9 L910.0 415.0 L911.6 415.8 L913.2 415.3 L914.8 414.9 L916.4 415.6 L917.0 414.7" fill="none" stroke="#ff0000" stroke-width="3.90" stroke-linejoin="round" stroke-linecap="round" opacity="1.00"/>
<path d="M1053.8 419.1 L1055.3 402.3 L1056.9 391.7 L1058.5 381.0 L1060.1 371.4 L1061.7 365.0 L1063.3 358.5 L1064.9 354.3 L1066.5 349.8 L1068.1 345.1 L1069.7 341.9 L1071.3 338.2 L1072.9 335.5 L1074.5 331.4 L1076.1 329.8 L1077.7 326.7 L1079.3 326.3 L1080.9 322.7 L1082.5 319.5 L1084.1 317.9 L1085.7 316.2 L1087.3 312.1 L1088.9 310.4 L1090.5 308.8 L1092.1 307.0 L1093.7 306.8 L1095.3 304.9 L1096.9 303.9 L1098.5 304.0 L1100.1 302.4 L1101.7 302.7 L1103.3 301.2 L1104.9 300.6 L1106.5 299.8 L1108.1 302.1 L1109.7 300.3 L1111.3 300.4 L1112.9 300.0 L1114.5 299.9 L1116.1 299.6 L1117.7 300.7 L1119.3 298.4 L1120.9 297.9 L1122.5 298.1 L1124.1 297.8 L1125.7 299.1 L1127.3 299.1 L1128.9 297.8 L1130.5 297.4 L1132.1 298.2 L1133.7 299.4 L1135.3 296.5 L1136.9 298.8 L1138.5 297.8 L1140.1 299.3 L1141.7 297.9 L1143.3 298.5 L1144.9 297.7 L1146.5 298.2 L1148.1 299.9 L1149.7 299.6 L1151.3 298.8 L1152.9 298.6 L1154.5 298.0 L1156.1 299.1 L1157.7 299.5 L1159.3 299.6 L1160.9 299.7 L1162.5 299.2 L1164.1 300.2 L1165.7 300.4 L1167.3 301.6 L1168.9 302.2 L1170.5 300.9 L1172.1 300.7 L1173.7 301.3 L1175.3 301.0 L1176.9 301.0 L1178.5 301.5 L1180.1 300.8 L1181.7 301.9 L1183.3 301.4 L1184.9 301.7 L1186.5 301.4 L1188.1 301.0 L1189.7 300.8 L1191.3 301.3 L1192.9 301.1 L1194.5 301.7 L1196.1 301.5 L1197.7 300.5 L1199.3 301.6 L1200.9 300.6 L1202.5 301.2 L1204.1 301.5 L1205.7 300.4 L1207.3 302.1 L1208.9 302.3 L1210.5 302.3 L1212.1 302.3 L1213.7 302.5 L1215.3 302.3 L1216.9 303.0 L1218.5 303.0 L1220.1 303.7 L1221.7 303.0 L1223.3 304.2 L1224.9 304.4 L1226.5 304.5 L1228.1 304.5 L1229.7 305.5 L1231.3 304.2 L1232.9 306.0 L1234.5 306.1 L1236.1 306.4 L1237.7 306.7 L1239.3 306.2 L1240.9 306.8 L1242.5 307.7 L1244.1 307.8 L1245.7 308.0 L1247.3 307.1 L1248.9 308.8 L1250.5 309.5 L1252.1 309.7 L1253.7 309.4 L1255.3 308.4 L1256.9 310.3 L1258.5 309.7 L1260.1 308.2 L1261.7 310.3 L1263.3 308.9 L1264.9 309.0 L1266.5 309.4 L1268.1 310.6 L1269.7 309.3 L1271.3 309.6 L1272.9 310.4 L1274.5 310.1 L1276.1 308.6 L1277.7 308.3 L1279.3 307.3 L1280.9 307.5 L1282.5 308.1 L1284.1 307.8 L1285.7 307.4 L1287.3 307.9 L1288.9 306.5 L1290.5 306.9 L1292.1 307.4 L1293.7 307.2 L1295.3 307.6 L1296.9 307.2 L1298.5 306.8 L1300.1 307.4 L1301.7 306.6 L1303.3 306.3 L1304.9 308.1 L1306.5 307.9 L1308.1 308.4 L1309.7 307.3 L1311.3 308.5 L1312.9 308.6 L1314.5 308.7 L1316.1 308.0 L1317.7 309.7 L1319.3 310.8 L1320.9 310.7 L1322.5 310.2 L1324.1 310.9 L1325.7 311.6 L1327.3 309.4 L1328.9 311.4 L1330.5 312.1 L1332.1 312.4 L1333.7 313.3 L1335.3 313.1 L1336.9 312.7 L1338.5 312.9 L1340.1 313.5 L1341.7 312.8 L1343.3 313.3 L1344.9 314.2 L1346.5 315.1 L1348.1 313.8 L1349.7 314.1 L1351.3 314.4 L1352.9 315.4 L1354.5 314.6 L1356.1 315.8 L1357.7 314.2 L1359.3 314.9 L1360.9 315.0 L1362.5 315.7 L1364.1 316.0 L1365.7 314.2 L1367.3 314.7 L1368.9 315.5 L1370.5 314.8 L1372.1 314.1 L1373.7 315.9 L1375.3 315.4 L1376.9 315.3 L1378.5 314.5 L1380.1 315.4 L1381.7 314.4 L1383.3 315.2 L1384.9 313.6 L1386.5 313.5 L1388.1 314.1 L1389.7 313.3 L1391.3 314.2 L1392.9 313.8 L1394.5 312.8 L1396.1 313.4 L1397.7 313.0 L1399.3 313.9 L1400.9 312.8 L1402.5 313.2 L1404.1 316.1 L1405.7 319.0 L1406.0 319.4" fill="none" stroke="#ff0000" stroke-width="3.90" stroke-linejoin="round" stroke-linecap="round" opacity="1.00"/>
<path d="M74.4 297.7 L76.0 297.6 L77.6 298.2 L79.2 297.2 L80.8 296.5 L82.4 296.7 L84.0 296.4 L85.6 295.1 L87.2 293.9 L88.8 292.9 L90.4 292.7 L92.0 290.5 L93.6 289.1 L95.2 287.5 L96.8 285.7 L98.4 283.1 L100.0 281.2 L101.6 278.0 L103.2 275.6 L104.8 272.4 L106.4 270.4 L108.0 266.6 L109.6 262.9 L111.2 259.9 L112.8 257.2 L114.4 255.2 L116.0 252.2 L117.6 251.1 L119.2 250.7 L120.8 251.8 L122.4 251.2 L124.0 251.1 L125.6 252.1 L127.2 253.5 L128.8 253.2 L130.4 254.1 L132.0 255.8 L133.6 256.6 L135.2 257.8 L136.8 258.4 L138.4 261.0 L140.0 262.3 L141.6 263.3 L143.2 265.0 L144.8 265.4 L146.4 268.5 L148.0 269.8 L149.6 271.8 L151.2 273.5 L152.8 274.5 L154.4 275.3 L156.0 277.8 L157.6 278.6 L159.2 280.1 L160.8 281.3 L162.4 282.7 L164.0 283.0 L165.6 286.1 L167.2 286.8 L168.8 288.5 L170.4 290.2 L172.0 290.5 L173.6 290.8 L175.2 292.4 L176.8 293.4 L178.4 294.8 L180.0 296.2 L181.6 296.1 L183.2 298.3 L184.8 298.3 L186.4 300.1 L188.0 300.7 L189.6 301.5 L191.2 302.5 L192.8 303.2 L194.4 304.1 L196.0 304.5 L197.6 306.4 L199.2 308.3 L200.8 309.4 L202.4 310.1 L204.0 310.9 L205.6 311.2 L207.2 313.1 L208.8 313.3 L210.4 314.1 L212.0 314.7 L213.6 315.6 L215.2 316.1 L216.8 316.9 L218.4 317.0 L220.0 317.9 L221.6 319.9 L223.2 319.2 L224.8 319.7 L226.4 320.7 L228.0 321.3 L229.6 321.0 L231.2 322.0 L232.8 323.1 L234.4 323.4 L236.0 323.9 L237.6 325.2 L239.2 324.7 L240.8 325.7 L242.4 326.0 L244.0 327.6 L245.6 326.5 L247.2 327.7 L248.8 328.4 L250.4 329.7 L252.0 330.3 L253.6 331.3 L255.2 330.4 L256.8 332.2 L258.4 332.3 L260.0 332.7 L261.6 333.9 L263.2 333.8 L264.8 333.8 L266.4 335.3 L268.0 335.3 L269.6 336.2 L271.2 337.3 L272.8 337.8 L274.4 339.0 L276.0 338.6 L277.6 338.5 L279.2 339.4 L280.8 339.8 L282.4 340.2 L284.0 341.5 L285.6 341.5 L287.2 341.3 L288.8 343.2 L290.4 343.2 L292.0 343.9 L293.6 344.2 L295.2 344.9 L296.8 345.0 L298.4 346.0 L300.0 346.0 L301.6 346.4 L303.2 346.7 L304.8 346.1 L306.4 347.1 L308.0 347.3 L309.6 347.9 L311.2 347.4 L312.8 349.1 L314.4 348.7 L316.0 348.3 L317.6 348.3 L319.2 349.2 L320.8 349.6 L322.4 349.5 L324.0 350.2 L325.6 350.1 L327.2 351.0 L328.8 350.6 L330.4 351.2 L332.0 352.0 L333.6 353.1 L335.2 351.6 L336.8 352.2 L338.4 352.3 L340.0 353.5 L341.6 352.8 L343.2 353.5 L344.8 354.0 L346.4 353.9 L348.0 354.2 L349.6 354.8 L351.2 354.3 L352.8 354.9 L354.4 355.8 L356.0 356.4 L357.6 356.5 L359.2 356.0 L360.8 357.0 L362.4 357.9 L364.0 358.1 L365.6 358.1 L367.2 358.0 L368.8 359.1 L370.4 358.7 L372.0 358.7 L373.6 359.2 L375.2 360.6 L376.8 360.3 L378.4 361.1 L380.0 360.5 L381.6 361.5 L383.2 361.0 L384.8 361.5 L386.4 363.1 L388.0 362.5 L389.6 362.1 L391.2 362.6 L392.8 363.1 L394.4 363.8 L396.0 363.2 L397.6 362.8 L399.2 363.8 L400.8 364.1 L402.4 364.4 L404.0 365.3 L405.6 365.0 L407.2 365.5 L408.8 364.7 L410.4 366.0 L412.0 366.8 L413.6 366.4 L415.2 366.3 L416.8 366.5 L418.4 367.5 L420.0 366.4 L421.6 367.0 L423.2 367.4 L424.8 367.7 L426.4 367.3 L427.0 367.7" fill="none" stroke="#ff8000" stroke-width="3.90" stroke-linejoin="round" stroke-linecap="round" opacity="1.00"/>
<path d="M563.5 305.1 L565.1 305.1 L566.7 304.6 L568.3 303.7 L569.9 303.7 L571.5 303.4 L573.1 301.5 L574.7 300.7 L576.3 299.8 L577.9 297.3 L579.5 296.2 L581.1 293.7 L582.7 292.7 L584.3 291.1 L585.9 288.5 L587.5 284.9 L589.1 282.8 L590.7 279.7 L592.3 276.9 L593.9 274.7 L595.5 270.4 L597.1 268.7 L598.7 265.5 L600.3 263.7 L601.9 260.7 L603.5 258.1 L605.1 256.7 L606.7 255.5 L608.3 254.1 L609.9 253.7 L611.5 253.0 L613.1 252.3 L614.7 254.1 L616.3 254.5 L617.9 254.9 L619.5 255.6 L621.1 256.9 L622.7 257.1 L624.3 258.0 L625.9 259.4 L627.5 261.2 L629.1 261.2 L630.7 263.7 L632.3 264.1 L633.9 265.2 L635.5 267.7 L637.1 268.5 L638.7 269.3 L640.3 271.2 L641.9 273.3 L643.5 274.8 L645.1 275.4 L646.7 277.1 L648.3 278.5 L649.9 279.0 L651.5 280.7 L653.1 281.6 L654.7 282.5 L656.3 283.6 L657.9 284.9 L659.5 286.0 L661.1 286.8 L662.7 287.9 L664.3 289.8 L665.9 290.4 L667.5 291.8 L669.1 293.0 L670.7 293.8 L672.3 295.7 L673.9 295.2 L675.5 297.1 L677.1 297.6 L678.7 299.7 L680.3 300.6 L681.9 299.8 L683.5 301.4 L685.1 303.2 L686.7 304.3 L688.3 305.3 L689.9 305.9 L691.5 307.2 L693.1 308.3 L694.7 308.9 L696.3 310.4 L697.9 309.7 L699.5 312.1 L701.1 312.1 L702.7 313.9 L704.3 314.0 L705.9 314.4 L707.5 315.7 L709.1 315.6 L710.7 316.2 L712.3 316.5 L713.9 317.8 L715.5 318.6 L717.1 319.4 L718.7 319.3 L720.3 320.4 L721.9 320.4 L723.5 320.8 L725.1 321.7 L726.7 322.5 L728.3 322.4 L729.9 323.0 L731.5 323.6 L733.1 324.4 L734.7 324.5 L736.3 326.2 L737.9 326.1 L739.5 327.2 L741.1 327.2 L742.7 328.4 L744.3 329.0 L745.9 329.2 L747.5 331.1 L749.1 330.8 L750.7 332.1 L752.3 332.2 L753.9 332.0 L755.5 332.7 L757.1 333.6 L758.7 334.0 L760.3 334.5 L761.9 334.8 L763.5 334.6 L765.1 335.8 L766.7 335.3 L768.3 337.1 L769.9 337.0 L771.5 337.5 L773.1 338.2 L774.7 338.9 L776.3 338.5 L777.9 338.8 L779.5 339.6 L781.1 339.5 L782.7 340.5 L784.3 342.2 L785.9 341.3 L787.5 342.6 L789.1 342.0 L790.7 343.2 L792.3 343.3 L793.9 343.9 L795.5 344.6 L797.1 345.6 L798.7 345.2 L800.3 345.5 L801.9 345.3 L803.5 346.5 L805.1 346.4 L806.7 347.3 L808.3 347.3 L809.9 348.5 L811.5 347.0 L813.1 348.2 L814.7 349.1 L816.3 348.8 L817.9 348.9 L819.5 349.5 L821.1 349.2 L822.7 350.3 L824.3 351.8 L825.9 351.4 L827.5 350.6 L829.1 351.0 L830.7 351.6 L832.3 352.6 L833.9 352.0 L835.5 352.3 L837.1 353.4 L838.7 353.7 L840.3 353.4 L841.9 353.3 L843.5 353.4 L845.1 354.1 L846.7 353.6 L848.3 355.4 L849.9 355.0 L851.5 355.9 L853.1 356.9 L854.7 356.8 L856.3 355.9 L857.9 357.2 L859.5 357.6 L861.1 356.9 L862.7 357.1 L864.3 357.8 L865.9 357.3 L867.5 359.1 L869.1 357.4 L870.7 358.2 L872.3 358.9 L873.9 359.1 L875.5 359.5 L877.1 359.8 L878.7 359.7 L880.3 360.6 L881.9 359.1 L883.5 360.4 L885.1 360.2 L886.7 360.8 L888.3 361.1 L889.9 360.7 L891.5 361.0 L893.1 361.9 L894.7 361.9 L896.3 361.6 L897.9 363.2 L899.5 363.6 L901.1 361.9 L902.7 363.1 L904.3 364.4 L905.9 363.8 L907.5 363.8 L909.1 363.9 L910.7 364.0 L912.3 364.4 L913.9 364.5 L915.5 365.4 L917.0 365.0" fill="none" stroke="#ff8000" stroke-width="3.90" stroke-linejoin="round" stroke-linecap="round" opacity="1.00"/>
<path d="M1052.7 309.0 L1054.3 306.7 L1055.9 305.1 L1057.5 301.9 L1059.1 299.7 L1060.7 297.8 L1062.3 294.6 L1063.9 291.9 L1065.5 289.1 L1067.1 286.3 L1068.7 283.7 L1070.3 281.2 L1071.9 279.8 L1073.5 276.5 L1075.1 276.4 L1076.7 273.8 L1078.3 271.7 L1079.9 270.4 L1081.5 269.0 L1083.1 268.3 L1084.7 266.6 L1086.3 266.8 L1087.9 264.5 L1089.5 262.5 L1091.1 262.8 L1092.7 261.2 L1094.3 261.9 L1095.9 262.0 L1097.5 261.1 L1099.1 259.2 L1100.7 259.1 L1102.3 260.4 L1103.9 259.0 L1105.5 258.5 L1107.1 259.0 L1108.7 259.8 L1110.3 258.8 L1111.9 257.8 L1113.5 257.8 L1115.1 257.9 L1116.7 256.9 L1118.3 256.5 L1119.9 257.3 L1121.5 256.5 L1123.1 257.1 L1124.7 257.2 L1126.3 258.8 L1127.9 256.6 L1129.5 257.2 L1131.1 257.3 L1132.7 257.8 L1134.3 258.4 L1135.9 257.5 L1137.5 257.4 L1139.1 257.0 L1140.7 257.6 L1142.3 258.7 L1143.9 258.5 L1145.5 257.9 L1147.1 258.4 L1148.7 258.7 L1150.3 259.1 L1151.9 258.4 L1153.5 258.7 L1155.1 257.6 L1156.7 258.1 L1158.3 260.1 L1159.9 257.5 L1161.5 258.8 L1163.1 259.2 L1164.7 258.9 L1166.3 258.6 L1167.9 259.2 L1169.5 259.3 L1171.1 259.4 L1172.7 258.2 L1174.3 259.5 L1175.9 259.2 L1177.5 259.5 L1179.1 260.2 L1180.7 260.6 L1182.3 260.9 L1183.9 260.0 L1185.5 261.2 L1187.1 261.4 L1188.7 261.5 L1190.3 261.8 L1191.9 260.8 L1193.5 260.9 L1195.1 261.7 L1196.7 260.2 L1198.3 261.4 L1199.9 261.0 L1201.5 261.2 L1203.1 260.3 L1204.7 261.0 L1206.3 261.8 L1207.9 262.5 L1209.5 262.7 L1211.1 262.1 L1212.7 262.3 L1214.3 262.0 L1215.9 263.1 L1217.5 262.9 L1219.1 263.8 L1220.7 264.8 L1222.3 263.9 L1223.9 263.1 L1225.5 263.8 L1227.1 263.7 L1228.7 264.1 L1230.3 266.1 L1231.9 265.6 L1233.5 264.6 L1235.1 266.3 L1236.7 266.9 L1238.3 265.8 L1239.9 265.7 L1241.5 266.0 L1243.1 266.5 L1244.7 266.8 L1246.3 267.2 L1247.9 267.2 L1249.5 267.2 L1251.1 267.4 L1252.7 266.9 L1254.3 265.4 L1255.9 266.4 L1257.5 266.7 L1259.1 266.3 L1260.7 267.2 L1262.3 266.3 L1263.9 266.0 L1265.5 267.7 L1267.1 267.2 L1268.7 266.9 L1270.3 267.4 L1271.9 267.5 L1273.5 267.1 L1275.1 265.1 L1276.7 266.4 L1278.3 266.6 L1279.9 266.3 L1281.5 267.1 L1283.1 267.9 L1284.7 266.7 L1286.3 266.3 L1287.9 268.6 L1289.5 266.9 L1291.1 266.4 L1292.7 267.5 L1294.3 267.6 L1295.9 266.9 L1297.5 268.0 L1299.1 267.1 L1300.7 266.9 L1302.3 267.7 L1303.9 268.2 L1305.5 267.3 L1307.1 268.1 L1308.7 267.9 L1310.3 270.0 L1311.9 267.7 L1313.5 269.3 L1315.1 268.4 L1316.7 268.5 L1318.3 269.3 L1319.9 269.6 L1321.5 270.0 L1323.1 269.6 L1324.7 269.1 L1326.3 269.3 L1327.9 270.3 L1329.5 270.5 L1331.1 271.3 L1332.7 270.8 L1334.3 271.4 L1335.9 271.9 L1337.5 271.2 L1339.1 270.2 L1340.7 270.5 L1342.3 270.5 L1343.9 272.8 L1345.5 271.2 L1347.1 272.8 L1348.7 272.4 L1350.3 273.3 L1351.9 272.9 L1353.5 272.3 L1355.1 272.3 L1356.7 272.6 L1358.3 272.8 L1359.9 272.4 L1361.5 272.9 L1363.1 274.1 L1364.7 271.9 L1366.3 273.4 L1367.9 272.6 L1369.5 273.5 L1371.1 274.0 L1372.7 273.5 L1374.3 274.2 L1375.9 272.6 L1377.5 274.5 L1379.1 273.4 L1380.7 274.3 L1382.3 274.0 L1383.9 272.1 L1385.5 273.4 L1387.1 274.1 L1388.7 275.0 L1390.3 274.1 L1391.9 274.0 L1393.5 272.6 L1395.1 274.4 L1396.7 274.4 L1398.3 272.8 L1399.9 272.2 L1401.5 270.9 L1403.1 272.2 L1404.7 273.2 L1406.0 271.5" fill="none" stroke="#ff8000" stroke-width="3.90" stroke-linejoin="round" stroke-linecap="round" opacity="1.00"/>
<path d="M74.4 203.0 L76.0 202.7 L77.6 201.9 L79.2 203.1 L80.8 201.8 L82.4 202.3 L84.0 202.5 L85.6 202.8 L87.2 202.5 L88.8 202.3 L90.4 201.5 L92.0 200.8 L93.6 201.0 L95.2 199.9 L96.8 198.9 L98.4 198.1 L100.0 197.7 L101.6 196.2 L103.2 195.6 L104.8 194.7 L106.4 194.9 L108.0 194.5 L109.6 195.0 L111.2 193.3 L112.8 193.9 L114.4 195.1 L116.0 195.1 L117.6 195.8 L119.2 197.7 L120.8 197.7 L122.4 198.5 L124.0 199.7 L125.6 202.0 L127.2 203.5 L128.8 204.2 L130.4 206.1 L132.0 208.5 L133.6 210.3 L135.2 211.6 L136.8 214.1 L138.4 216.0 L140.0 216.8 L141.6 219.5 L143.2 221.7 L144.8 223.1 L146.4 224.0 L148.0 226.7 L149.6 228.8 L151.2 230.8 L152.8 230.4 L154.4 234.3 L156.0 233.9 L157.6 236.4 L159.2 237.9 L160.8 239.1 L162.4 240.1 L164.0 240.8 L165.6 243.0 L167.2 243.6 L168.8 243.9 L170.4 247.7 L172.0 247.8 L173.6 249.4 L175.2 249.0 L176.8 251.2 L178.4 252.1 L180.0 253.0 L181.6 253.0 L183.2 253.3 L184.8 254.6 L186.4 254.3 L188.0 255.3 L189.6 257.0 L191.2 257.1 L192.8 258.3 L194.4 259.0 L196.0 260.7 L197.6 261.0 L199.2 261.0 L200.8 262.2 L202.4 261.8 L204.0 262.6 L205.6 263.8 L207.2 263.3 L208.8 264.4 L210.4 264.5 L212.0 265.9 L213.6 267.3 L215.2 266.8 L216.8 268.0 L218.4 268.2 L220.0 268.8 L221.6 269.6 L223.2 271.8 L224.8 273.1 L226.4 273.0 L228.0 273.2 L229.6 274.8 L231.2 275.1 L232.8 276.6 L234.4 277.2 L236.0 278.0 L237.6 279.0 L239.2 279.2 L240.8 280.1 L242.4 280.2 L244.0 281.6 L245.6 281.9 L247.2 283.3 L248.8 283.7 L250.4 284.9 L252.0 285.8 L253.6 285.5 L255.2 286.5 L256.8 287.0 L258.4 288.5 L260.0 289.5 L261.6 289.6 L263.2 289.6 L264.8 291.0 L266.4 290.1 L268.0 292.1 L269.6 291.5 L271.2 290.9 L272.8 294.1 L274.4 294.0 L276.0 293.2 L277.6 294.2 L279.2 294.4 L280.8 295.0 L282.4 294.5 L284.0 295.3 L285.6 296.2 L287.2 296.4 L288.8 297.3 L290.4 297.0 L292.0 298.4 L293.6 297.2 L295.2 298.0 L296.8 297.2 L298.4 297.8 L300.0 299.4 L301.6 298.5 L303.2 299.6 L304.8 299.6 L306.4 299.4 L308.0 300.1 L309.6 300.3 L311.2 300.7 L312.8 301.7 L314.4 302.0 L316.0 301.7 L317.6 302.0 L319.2 302.9 L320.8 303.1 L322.4 304.1 L324.0 305.3 L325.6 304.8 L327.2 304.7 L328.8 305.0 L330.4 305.1 L332.0 305.4 L333.6 305.8 L335.2 306.5 L336.8 306.8 L338.4 307.8 L340.0 307.6 L341.6 308.0 L343.2 307.9 L344.8 309.7 L346.4 309.5 L348.0 310.5 L349.6 310.4 L351.2 311.1 L352.8 310.6 L354.4 311.4 L356.0 312.8 L357.6 311.2 L359.2 312.7 L360.8 313.3 L362.4 313.0 L364.0 313.5 L365.6 314.1 L367.2 313.5 L368.8 314.3 L370.4 314.0 L372.0 314.4 L373.6 314.7 L375.2 315.2 L376.8 315.6 L378.4 316.1 L380.0 315.4 L381.6 317.4 L383.2 317.2 L384.8 317.2 L386.4 316.9 L388.0 317.3 L389.6 317.9 L391.2 318.0 L392.8 317.2 L394.4 318.7 L396.0 320.0 L397.6 317.7 L399.2 319.4 L400.8 319.3 L402.4 319.2 L404.0 320.1 L405.6 319.0 L407.2 319.8 L408.8 320.7 L410.4 320.0 L412.0 320.0 L413.6 320.4 L415.2 320.3 L416.8 321.4 L418.4 320.3 L420.0 321.3 L421.6 320.3 L423.2 321.4 L424.8 321.1 L426.4 319.9 L426.7 321.3" fill="none" stroke="#008c00" stroke-width="3.90" stroke-linejoin="round" stroke-linecap="round" opacity="1.00"/>
<path d="M563.5 218.9 L565.1 219.0 L566.7 219.6 L568.3 217.8 L569.9 217.3 L571.5 218.0 L573.1 216.7 L574.7 216.7 L576.3 215.4 L577.9 214.0 L579.5 213.6 L581.1 213.4 L582.7 212.3 L584.3 210.8 L585.9 209.8 L587.5 208.7 L589.1 207.3 L590.7 207.5 L592.3 205.3 L593.9 203.6 L595.5 202.9 L597.1 202.7 L598.7 202.2 L600.3 201.6 L601.9 201.4 L603.5 202.2 L605.1 202.0 L606.7 203.0 L608.3 205.0 L609.9 205.4 L611.5 207.0 L613.1 208.6 L614.7 209.5 L616.3 210.4 L617.9 212.8 L619.5 213.5 L621.1 214.4 L622.7 216.4 L624.3 217.7 L625.9 218.6 L627.5 220.6 L629.1 221.9 L630.7 222.5 L632.3 224.8 L633.9 226.2 L635.5 227.5 L637.1 228.3 L638.7 230.3 L640.3 231.9 L641.9 233.3 L643.5 233.9 L645.1 236.1 L646.7 236.3 L648.3 238.0 L649.9 239.9 L651.5 240.0 L653.1 241.2 L654.7 243.1 L656.3 243.4 L657.9 244.5 L659.5 245.8 L661.1 247.2 L662.7 246.5 L664.3 248.2 L665.9 249.1 L667.5 250.0 L669.1 251.1 L670.7 252.0 L672.3 253.5 L673.9 253.9 L675.5 255.3 L677.1 256.3 L678.7 256.7 L680.3 258.0 L681.9 259.7 L683.5 259.9 L685.1 260.4 L686.7 261.6 L688.3 262.0 L689.9 263.6 L691.5 264.8 L693.1 264.8 L694.7 266.0 L696.3 267.5 L697.9 267.5 L699.5 268.7 L701.1 268.9 L702.7 269.7 L704.3 270.6 L705.9 272.7 L707.5 272.1 L709.1 272.7 L710.7 273.3 L712.3 274.2 L713.9 275.2 L715.5 275.6 L717.1 277.1 L718.7 276.8 L720.3 278.0 L721.9 278.0 L723.5 278.8 L725.1 278.4 L726.7 279.6 L728.3 280.2 L729.9 280.7 L731.5 280.4 L733.1 282.5 L734.7 282.5 L736.3 283.1 L737.9 283.8 L739.5 284.4 L741.1 285.3 L742.7 285.1 L744.3 285.8 L745.9 287.0 L747.5 287.6 L749.1 287.9 L750.7 288.4 L752.3 288.8 L753.9 289.8 L755.5 290.9 L757.1 290.4 L758.7 292.2 L760.3 292.4 L761.9 292.2 L763.5 293.4 L765.1 292.8 L766.7 293.1 L768.3 293.9 L769.9 294.8 L771.5 295.3 L773.1 295.7 L774.7 296.5 L776.3 295.9 L777.9 297.6 L779.5 297.1 L781.1 298.0 L782.7 298.5 L784.3 298.6 L785.9 298.9 L787.5 299.5 L789.1 300.4 L790.7 301.1 L792.3 301.5 L793.9 301.1 L795.5 301.6 L797.1 302.0 L798.7 303.0 L800.3 302.1 L801.9 304.2 L803.5 303.7 L805.1 303.9 L806.7 304.8 L808.3 305.5 L809.9 305.5 L811.5 306.2 L813.1 306.1 L814.7 307.0 L816.3 307.3 L817.9 307.0 L819.5 308.1 L821.1 307.8 L822.7 308.1 L824.3 307.9 L825.9 308.6 L827.5 309.5 L829.1 308.8 L830.7 310.1 L832.3 310.3 L833.9 310.6 L835.5 309.7 L837.1 311.1 L838.7 311.8 L840.3 311.5 L841.9 312.3 L843.5 311.4 L845.1 313.2 L846.7 312.9 L848.3 314.0 L849.9 313.0 L851.5 314.5 L853.1 314.4 L854.7 315.2 L856.3 314.6 L857.9 315.1 L859.5 316.8 L861.1 315.5 L862.7 315.8 L864.3 316.3 L865.9 316.2 L867.5 317.5 L869.1 318.0 L870.7 317.0 L872.3 316.7 L873.9 318.4 L875.5 318.6 L877.1 318.6 L878.7 319.0 L880.3 318.2 L881.9 318.8 L883.5 318.4 L885.1 318.6 L886.7 320.0 L888.3 319.3 L889.9 321.0 L891.5 320.1 L893.1 319.9 L894.7 320.8 L896.3 321.5 L897.9 321.0 L899.5 320.3 L901.1 321.2 L902.7 321.9 L904.3 321.1 L905.9 321.1 L907.5 322.1 L909.1 321.8 L910.7 321.3 L912.3 321.8 L913.9 321.7 L915.5 322.3 L916.7 322.3" fill="none" stroke="#008c00" stroke-width="3.90" stroke-linejoin="round" stroke-linecap="round" opacity="1.00"/>
<path d="M1052.7 242.5 L1054.3 241.6 L1055.9 239.3 L1057.5 239.8 L1059.1 239.2 L1060.7 237.9 L1062.3 237.4 L1063.9 235.4 L1065.5 234.2 L1067.1 234.5 L1068.7 232.2 L1070.3 230.5 L1071.9 231.7 L1073.5 229.5 L1075.1 228.9 L1076.7 227.2 L1078.3 226.4 L1079.9 225.7 L1081.5 225.5 L1083.1 225.2 L1084.7 222.6 L1086.3 224.0 L1087.9 221.9 L1089.5 221.2 L1091.1 221.7 L1092.7 220.5 L1094.3 218.9 L1095.9 220.7 L1097.5 218.3 L1099.1 218.7 L1100.7 218.4 L1102.3 219.1 L1103.9 217.7 L1105.5 218.6 L1107.1 217.4 L1108.7 218.7 L1110.3 217.5 L1111.9 217.8 L1113.5 219.4 L1115.1 218.3 L1116.7 218.2 L1118.3 219.8 L1119.9 218.5 L1121.5 217.7 L1123.1 218.9 L1124.7 217.6 L1126.3 219.2 L1127.9 219.3 L1129.5 218.1 L1131.1 218.1 L1132.7 218.7 L1134.3 218.6 L1135.9 218.0 L1137.5 219.1 L1139.1 217.3 L1140.7 218.5 L1142.3 218.6 L1143.9 218.7 L1145.5 219.2 L1147.1 218.2 L1148.7 219.6 L1150.3 219.1 L1151.9 218.9 L1153.5 218.6 L1155.1 218.8 L1156.7 220.0 L1158.3 219.2 L1159.9 220.1 L1161.5 220.9 L1163.1 221.0 L1164.7 221.5 L1166.3 220.2 L1167.9 219.8 L1169.5 221.3 L1171.1 220.8 L1172.7 221.5 L1174.3 220.7 L1175.9 221.6 L1177.5 221.4 L1179.1 221.3 L1180.7 221.2 L1182.3 221.2 L1183.9 221.1 L1185.5 221.2 L1187.1 221.8 L1188.7 220.8 L1190.3 222.5 L1191.9 221.3 L1193.5 222.2 L1195.1 221.6 L1196.7 221.6 L1198.3 223.4 L1199.9 221.9 L1201.5 221.4 L1203.1 222.0 L1204.7 222.5 L1206.3 224.4 L1207.9 223.2 L1209.5 223.9 L1211.1 222.7 L1212.7 223.9 L1214.3 224.3 L1215.9 225.3 L1217.5 223.8 L1219.1 225.0 L1220.7 225.0 L1222.3 224.3 L1223.9 225.3 L1225.5 225.3 L1227.1 224.1 L1228.7 226.4 L1230.3 226.5 L1231.9 226.0 L1233.5 225.5 L1235.1 227.6 L1236.7 226.9 L1238.3 227.4 L1239.9 227.7 L1241.5 226.3 L1243.1 227.2 L1244.7 226.3 L1246.3 226.3 L1247.9 226.1 L1249.5 226.0 L1251.1 226.6 L1252.7 225.7 L1254.3 225.4 L1255.9 225.2 L1257.5 225.6 L1259.1 224.7 L1260.7 225.0 L1262.3 225.4 L1263.9 225.2 L1265.5 225.6 L1267.1 225.4 L1268.7 227.4 L1270.3 227.1 L1271.9 226.7 L1273.5 226.6 L1275.1 228.4 L1276.7 227.3 L1278.3 227.3 L1279.9 227.8 L1281.5 228.0 L1283.1 229.0 L1284.7 228.1 L1286.3 229.8 L1287.9 227.9 L1289.5 229.2 L1291.1 228.1 L1292.7 230.2 L1294.3 228.9 L1295.9 229.2 L1297.5 230.1 L1299.1 230.4 L1300.7 228.9 L1302.3 229.6 L1303.9 229.0 L1305.5 230.2 L1307.1 230.2 L1308.7 230.2 L1310.3 230.1 L1311.9 230.4 L1313.5 230.3 L1315.1 231.3 L1316.7 232.1 L1318.3 229.8 L1319.9 231.2 L1321.5 231.1 L1323.1 231.9 L1324.7 231.0 L1326.3 231.6 L1327.9 231.1 L1329.5 232.4 L1331.1 232.1 L1332.7 232.0 L1334.3 232.4 L1335.9 232.1 L1337.5 231.2 L1339.1 232.8 L1340.7 232.7 L1342.3 232.4 L1343.9 233.3 L1345.5 233.5 L1347.1 232.0 L1348.7 232.3 L1350.3 234.0 L1351.9 234.0 L1353.5 232.5 L1355.1 232.3 L1356.7 232.7 L1358.3 232.9 L1359.9 232.2 L1361.5 233.4 L1363.1 232.6 L1364.7 232.8 L1366.3 234.3 L1367.9 233.3 L1369.5 233.8 L1371.1 234.4 L1372.7 234.7 L1374.3 234.0 L1375.9 234.4 L1377.5 233.9 L1379.1 235.8 L1380.7 235.2 L1382.3 234.1 L1383.9 235.0 L1385.5 235.6 L1387.1 235.6 L1388.7 236.6 L1390.3 236.5 L1391.9 235.3 L1393.5 235.7 L1395.1 235.0 L1396.7 236.3 L1398.3 236.4 L1399.9 238.3 L1401.5 236.6 L1403.1 235.2 L1404.7 236.4 L1406.0 237.0" fill="none" stroke="#008c00" stroke-width="3.90" stroke-linejoin="round" stroke-linecap="round" opacity="1.00"/>
<path d="M74.4 137.2 L76.0 137.3 L77.6 137.4 L79.2 137.7 L80.8 137.3 L82.4 136.8 L84.0 137.6 L85.6 136.9 L87.2 136.8 L88.8 136.4 L90.4 136.6 L92.0 137.4 L93.6 136.3 L95.2 137.1 L96.8 137.7 L98.4 137.4 L100.0 138.0 L101.6 137.8 L103.2 139.5 L104.8 139.9 L106.4 140.1 L108.0 139.9 L109.6 141.2 L111.2 143.2 L112.8 144.8 L114.4 145.4 L116.0 147.4 L117.6 148.0 L119.2 149.8 L120.8 151.6 L122.4 153.4 L124.0 154.0 L125.6 156.8 L127.2 158.5 L128.8 158.9 L130.4 160.4 L132.0 162.8 L133.6 163.9 L135.2 164.7 L136.8 167.9 L138.4 169.2 L140.0 170.5 L141.6 173.4 L143.2 174.0 L144.8 175.2 L146.4 177.2 L148.0 178.3 L149.6 180.0 L151.2 182.3 L152.8 183.4 L154.4 185.1 L156.0 187.8 L157.6 188.9 L159.2 190.4 L160.8 191.6 L162.4 192.9 L164.0 194.6 L165.6 195.1 L167.2 197.1 L168.8 196.8 L170.4 198.2 L172.0 198.8 L173.6 200.3 L175.2 201.8 L176.8 203.4 L178.4 203.4 L180.0 204.8 L181.6 205.7 L183.2 206.5 L184.8 207.3 L186.4 209.0 L188.0 209.1 L189.6 211.0 L191.2 211.9 L192.8 212.5 L194.4 213.3 L196.0 214.0 L197.6 216.5 L199.2 215.8 L200.8 218.1 L202.4 218.4 L204.0 218.8 L205.6 219.1 L207.2 221.0 L208.8 222.1 L210.4 221.5 L212.0 222.5 L213.6 223.8 L215.2 224.1 L216.8 225.6 L218.4 224.9 L220.0 226.1 L221.6 225.7 L223.2 228.0 L224.8 227.1 L226.4 226.9 L228.0 228.5 L229.6 229.1 L231.2 230.7 L232.8 230.1 L234.4 230.8 L236.0 231.7 L237.6 232.8 L239.2 232.5 L240.8 233.7 L242.4 234.0 L244.0 234.3 L245.6 235.1 L247.2 235.8 L248.8 236.0 L250.4 237.8 L252.0 237.2 L253.6 239.2 L255.2 239.7 L256.8 239.9 L258.4 240.2 L260.0 241.1 L261.6 242.0 L263.2 242.8 L264.8 243.1 L266.4 244.0 L268.0 243.7 L269.6 244.7 L271.2 244.3 L272.8 245.9 L274.4 246.1 L276.0 246.3 L277.6 247.6 L279.2 247.8 L280.8 246.5 L282.4 248.3 L284.0 248.0 L285.6 249.6 L287.2 250.7 L288.8 249.6 L290.4 250.2 L292.0 250.4 L293.6 251.0 L295.2 251.4 L296.8 252.0 L298.4 251.1 L300.0 252.7 L301.6 251.7 L303.2 252.6 L304.8 253.3 L306.4 253.3 L308.0 252.8 L309.6 253.2 L311.2 253.6 L312.8 254.1 L314.4 255.0 L316.0 254.1 L317.6 255.3 L319.2 255.8 L320.8 256.1 L322.4 256.5 L324.0 257.4 L325.6 257.4 L327.2 258.0 L328.8 258.3 L330.4 259.4 L332.0 258.0 L333.6 260.1 L335.2 259.7 L336.8 260.2 L338.4 260.2 L340.0 260.2 L341.6 261.3 L343.2 261.5 L344.8 262.4 L346.4 261.8 L348.0 263.5 L349.6 263.3 L351.2 263.3 L352.8 263.4 L354.4 263.6 L356.0 263.8 L357.6 264.3 L359.2 264.9 L360.8 265.1 L362.4 264.7 L364.0 265.6 L365.6 265.5 L367.2 266.3 L368.8 267.4 L370.4 267.0 L372.0 266.8 L373.6 266.4 L375.2 266.8 L376.8 266.9 L378.4 268.3 L380.0 267.8 L381.6 268.4 L383.2 268.2 L384.8 268.8 L386.4 269.7 L388.0 268.8 L389.6 269.2 L391.2 269.1 L392.8 270.2 L394.4 269.4 L396.0 269.6 L397.6 269.7 L399.2 269.9 L400.8 271.1 L402.4 272.4 L404.0 271.0 L405.6 272.3 L407.2 272.3 L408.8 272.0 L410.4 272.9 L412.0 273.3 L413.6 273.5 L415.2 275.2 L416.8 273.5 L418.4 274.8 L420.0 274.8 L421.6 274.1 L423.2 274.1 L424.8 274.0 L426.4 273.1 L426.7 272.9" fill="none" stroke="#1f4fff" stroke-width="3.90" stroke-linejoin="round" stroke-linecap="round" opacity="1.00"/>
<path d="M564.4 148.3 L566.0 148.0 L567.6 150.6 L569.2 151.5 L570.8 151.0 L572.4 150.8 L574.0 149.3 L575.6 149.6 L577.2 148.9 L578.8 148.5 L580.4 148.8 L582.0 147.4 L583.6 147.2 L585.2 145.7 L586.8 146.0 L588.4 145.7 L590.0 145.0 L591.6 144.8 L593.2 146.1 L594.8 144.8 L596.4 145.4 L598.0 146.1 L599.6 147.8 L601.2 149.1 L602.8 149.2 L604.4 149.7 L606.0 151.0 L607.6 153.1 L609.2 153.5 L610.8 156.2 L612.4 157.8 L614.0 158.7 L615.6 160.6 L617.2 162.3 L618.8 164.3 L620.4 164.6 L622.0 167.3 L623.6 168.2 L625.2 169.6 L626.8 171.6 L628.4 173.0 L630.0 174.2 L631.6 175.4 L633.2 177.2 L634.8 179.9 L636.4 181.6 L638.0 182.4 L639.6 184.1 L641.2 184.6 L642.8 186.1 L644.4 187.6 L646.0 188.2 L647.6 189.5 L649.2 191.3 L650.8 192.2 L652.4 193.0 L654.0 194.9 L655.6 195.7 L657.2 197.4 L658.8 198.0 L660.4 198.9 L662.0 200.2 L663.6 201.1 L665.2 201.9 L666.8 203.0 L668.4 204.6 L670.0 205.6 L671.6 206.9 L673.2 206.5 L674.8 208.1 L676.4 209.1 L678.0 210.3 L679.6 210.9 L681.2 211.8 L682.8 213.3 L684.4 213.9 L686.0 214.0 L687.6 216.1 L689.2 216.7 L690.8 216.6 L692.4 218.1 L694.0 218.0 L695.6 219.6 L697.2 219.7 L698.8 220.1 L700.4 221.0 L702.0 221.5 L703.6 222.6 L705.2 223.3 L706.8 223.9 L708.4 224.3 L710.0 223.4 L711.6 226.0 L713.2 225.6 L714.8 227.4 L716.4 228.5 L718.0 228.7 L719.6 229.0 L721.2 229.8 L722.8 230.5 L724.4 230.9 L726.0 231.5 L727.6 232.0 L729.2 233.7 L730.8 233.7 L732.4 234.8 L734.0 234.9 L735.6 235.7 L737.2 236.2 L738.8 237.1 L740.4 238.0 L742.0 238.3 L743.6 238.5 L745.2 239.0 L746.8 240.9 L748.4 240.5 L750.0 241.1 L751.6 242.5 L753.2 242.9 L754.8 243.2 L756.4 243.3 L758.0 245.2 L759.6 244.7 L761.2 245.3 L762.8 245.4 L764.4 245.2 L766.0 245.7 L767.6 247.0 L769.2 247.4 L770.8 247.6 L772.4 247.5 L774.0 247.8 L775.6 248.8 L777.2 248.6 L778.8 250.2 L780.4 250.7 L782.0 252.0 L783.6 251.4 L785.2 251.1 L786.8 251.3 L788.4 250.5 L790.0 252.3 L791.6 252.9 L793.2 253.9 L794.8 254.2 L796.4 254.6 L798.0 254.8 L799.6 255.5 L801.2 256.3 L802.8 255.5 L804.4 256.2 L806.0 256.2 L807.6 258.1 L809.2 258.3 L810.8 258.5 L812.4 257.9 L814.0 258.9 L815.6 259.1 L817.2 259.6 L818.8 259.8 L820.4 260.5 L822.0 260.4 L823.6 261.3 L825.2 261.3 L826.8 261.4 L828.4 261.7 L830.0 261.9 L831.6 262.8 L833.2 262.5 L834.8 263.0 L836.4 263.0 L838.0 262.7 L839.6 264.1 L841.2 263.4 L842.8 264.5 L844.4 264.6 L846.0 263.8 L847.6 264.4 L849.2 264.8 L850.8 264.9 L852.4 265.0 L854.0 266.2 L855.6 265.9 L857.2 266.5 L858.8 266.3 L860.4 266.9 L862.0 266.6 L863.6 267.2 L865.2 267.8 L866.8 267.7 L868.4 267.7 L870.0 267.7 L871.6 268.5 L873.2 268.9 L874.8 268.8 L876.4 268.8 L878.0 269.7 L879.6 270.9 L881.2 269.8 L882.8 270.3 L884.4 270.6 L886.0 269.4 L887.6 271.0 L889.2 270.8 L890.8 272.1 L892.4 271.5 L894.0 271.5 L895.6 272.0 L897.2 272.4 L898.8 272.3 L900.4 272.8 L902.0 272.3 L903.6 273.1 L905.2 273.9 L906.8 274.7 L908.4 274.3 L910.0 274.3 L911.6 275.0 L913.2 275.1 L914.8 275.6 L916.4 275.4 L916.7 274.9" fill="none" stroke="#0000ff" stroke-width="3.90" stroke-linejoin="round" stroke-linecap="round" opacity="1.00"/>
<path d="M1052.7 194.1 L1054.3 193.7 L1055.9 193.3 L1057.5 192.7 L1059.1 191.4 L1060.7 189.8 L1062.3 190.2 L1063.9 188.6 L1065.5 189.3 L1067.1 188.6 L1068.7 186.6 L1070.3 187.4 L1071.9 186.7 L1073.5 185.2 L1075.1 185.5 L1076.7 184.8 L1078.3 181.8 L1079.9 182.7 L1081.5 181.6 L1083.1 181.0 L1084.7 180.7 L1086.3 179.0 L1087.9 178.6 L1089.5 177.9 L1091.1 177.4 L1092.7 177.4 L1094.3 176.0 L1095.9 175.9 L1097.5 176.7 L1099.1 176.0 L1100.7 176.1 L1102.3 174.4 L1103.9 175.1 L1105.5 175.3 L1107.1 175.7 L1108.7 175.3 L1110.3 176.5 L1111.9 175.9 L1113.5 176.0 L1115.1 176.1 L1116.7 176.7 L1118.3 176.0 L1119.9 177.2 L1121.5 176.8 L1123.1 176.7 L1124.7 176.7 L1126.3 177.1 L1127.9 177.6 L1129.5 177.6 L1131.1 177.3 L1132.7 177.7 L1134.3 177.2 L1135.9 178.1 L1137.5 177.3 L1139.1 175.9 L1140.7 178.4 L1142.3 177.6 L1143.9 176.8 L1145.5 177.6 L1147.1 177.2 L1148.7 179.3 L1150.3 178.3 L1151.9 177.0 L1153.5 178.6 L1155.1 178.0 L1156.7 179.7 L1158.3 177.8 L1159.9 177.0 L1161.5 178.7 L1163.1 178.5 L1164.7 178.5 L1166.3 177.3 L1167.9 179.1 L1169.5 179.9 L1171.1 177.4 L1172.7 179.5 L1174.3 178.2 L1175.9 180.2 L1177.5 178.8 L1179.1 178.2 L1180.7 179.1 L1182.3 178.6 L1183.9 177.8 L1185.5 178.7 L1187.1 177.8 L1188.7 176.9 L1190.3 179.7 L1191.9 178.1 L1193.5 178.1 L1195.1 178.9 L1196.7 177.9 L1198.3 178.3 L1199.9 179.1 L1201.5 179.4 L1203.1 180.1 L1204.7 181.1 L1206.3 180.2 L1207.9 181.1 L1209.5 181.3 L1211.1 180.3 L1212.7 181.3 L1214.3 180.6 L1215.9 182.2 L1217.5 181.9 L1219.1 181.7 L1220.7 180.8 L1222.3 181.9 L1223.9 181.4 L1225.5 182.5 L1227.1 182.1 L1228.7 181.7 L1230.3 183.0 L1231.9 182.9 L1233.5 182.1 L1235.1 183.5 L1236.7 182.5 L1238.3 182.7 L1239.9 183.1 L1241.5 182.6 L1243.1 183.0 L1244.7 183.3 L1246.3 184.6 L1247.9 184.8 L1249.5 183.7 L1251.1 185.2 L1252.7 184.2 L1254.3 184.6 L1255.9 185.1 L1257.5 184.9 L1259.1 186.5 L1260.7 185.1 L1262.3 184.3 L1263.9 186.1 L1265.5 185.1 L1267.1 185.3 L1268.7 183.5 L1270.3 186.5 L1271.9 186.4 L1273.5 186.6 L1275.1 186.8 L1276.7 187.4 L1278.3 186.3 L1279.9 187.1 L1281.5 186.1 L1283.1 186.5 L1284.7 187.6 L1286.3 187.2 L1287.9 186.1 L1289.5 187.4 L1291.1 187.2 L1292.7 186.8 L1294.3 187.8 L1295.9 187.4 L1297.5 186.7 L1299.1 187.1 L1300.7 189.2 L1302.3 187.1 L1303.9 188.4 L1305.5 188.8 L1307.1 188.9 L1308.7 187.7 L1310.3 188.5 L1311.9 188.9 L1313.5 189.5 L1315.1 188.6 L1316.7 188.4 L1318.3 190.0 L1319.9 190.2 L1321.5 189.8 L1323.1 189.3 L1324.7 190.1 L1326.3 190.0 L1327.9 190.7 L1329.5 189.3 L1331.1 190.4 L1332.7 190.3 L1334.3 189.8 L1335.9 190.8 L1337.5 190.8 L1339.1 190.6 L1340.7 191.3 L1342.3 190.2 L1343.9 191.2 L1345.5 191.7 L1347.1 191.7 L1348.7 192.4 L1350.3 190.9 L1351.9 190.8 L1353.5 192.1 L1355.1 192.4 L1356.7 193.7 L1358.3 192.8 L1359.9 191.8 L1361.5 193.1 L1363.1 192.1 L1364.7 191.7 L1366.3 194.7 L1367.9 193.2 L1369.5 193.6 L1371.1 193.6 L1372.7 194.6 L1374.3 193.7 L1375.9 194.4 L1377.5 193.0 L1379.1 192.8 L1380.7 194.9 L1382.3 195.1 L1383.9 194.5 L1385.5 194.4 L1387.1 194.5 L1388.7 194.0 L1390.3 195.7 L1391.9 195.2 L1393.5 195.2 L1395.1 195.2 L1396.7 195.8 L1398.3 195.5 L1399.9 195.8 L1401.5 194.6 L1403.1 195.8 L1404.7 197.1 L1406.0 195.3" fill="none" stroke="#1f4fff" stroke-width="3.90" stroke-linejoin="round" stroke-linecap="round" opacity="1.00"/>
<path d="M74.4 82.1 L76.0 82.6 L77.6 82.7 L79.2 82.6 L80.8 81.5 L82.4 82.7 L84.0 82.0 L85.6 82.3 L87.2 83.1 L88.8 82.9 L90.4 83.7 L92.0 85.1 L93.6 84.2 L95.2 84.4 L96.8 84.0 L98.4 84.6 L100.0 85.1 L101.6 86.3 L103.2 87.1 L104.8 88.6 L106.4 90.2 L108.0 91.3 L109.6 92.6 L111.2 94.2 L112.8 96.8 L114.4 98.2 L116.0 100.4 L117.6 102.1 L119.2 103.2 L120.8 105.5 L122.4 106.2 L124.0 109.8 L125.6 110.9 L127.2 112.0 L128.8 113.2 L130.4 115.7 L132.0 116.3 L133.6 118.5 L135.2 120.9 L136.8 122.3 L138.4 123.6 L140.0 126.0 L141.6 126.6 L143.2 128.8 L144.8 130.0 L146.4 131.4 L148.0 133.6 L149.6 134.3 L151.2 137.2 L152.8 137.3 L154.4 139.9 L156.0 139.6 L157.6 141.7 L159.2 141.9 L160.8 143.0 L162.4 144.8 L164.0 146.1 L165.6 146.2 L167.2 148.5 L168.8 148.6 L170.4 150.2 L172.0 151.5 L173.6 152.9 L175.2 153.1 L176.8 156.2 L178.4 157.1 L180.0 158.0 L181.6 159.0 L183.2 159.7 L184.8 160.8 L186.4 162.6 L188.0 162.8 L189.6 163.0 L191.2 163.9 L192.8 165.5 L194.4 165.1 L196.0 165.6 L197.6 167.2 L199.2 167.4 L200.8 168.0 L202.4 168.5 L204.0 168.9 L205.6 170.0 L207.2 171.2 L208.8 172.3 L210.4 173.6 L212.0 174.6 L213.6 175.4 L215.2 176.3 L216.8 176.7 L218.4 177.1 L220.0 178.9 L221.6 179.6 L223.2 180.6 L224.8 181.6 L226.4 181.9 L228.0 182.7 L229.6 183.8 L231.2 184.5 L232.8 184.7 L234.4 185.7 L236.0 185.9 L237.6 185.9 L239.2 186.9 L240.8 188.3 L242.4 187.5 L244.0 189.0 L245.6 189.6 L247.2 190.2 L248.8 189.5 L250.4 191.5 L252.0 191.1 L253.6 191.4 L255.2 192.0 L256.8 192.9 L258.4 193.2 L260.0 193.6 L261.6 194.8 L263.2 194.3 L264.8 194.6 L266.4 196.0 L268.0 196.4 L269.6 197.0 L271.2 196.4 L272.8 197.9 L274.4 198.0 L276.0 199.1 L277.6 198.0 L279.2 199.1 L280.8 199.3 L282.4 199.0 L284.0 199.8 L285.6 201.1 L287.2 200.7 L288.8 200.9 L290.4 202.1 L292.0 202.5 L293.6 202.8 L295.2 202.3 L296.8 203.0 L298.4 203.8 L300.0 203.3 L301.6 203.5 L303.2 204.6 L304.8 205.3 L306.4 204.2 L308.0 203.8 L309.6 204.7 L311.2 205.2 L312.8 205.9 L314.4 206.6 L316.0 206.5 L317.6 206.6 L319.2 207.3 L320.8 207.1 L322.4 207.9 L324.0 207.9 L325.6 209.9 L327.2 209.3 L328.8 208.8 L330.4 209.1 L332.0 209.7 L333.6 209.4 L335.2 210.2 L336.8 210.5 L338.4 211.7 L340.0 211.4 L341.6 211.6 L343.2 211.7 L344.8 212.1 L346.4 213.0 L348.0 213.3 L349.6 214.4 L351.2 213.9 L352.8 215.1 L354.4 215.1 L356.0 215.3 L357.6 214.7 L359.2 215.5 L360.8 216.8 L362.4 217.5 L364.0 217.3 L365.6 217.9 L367.2 217.7 L368.8 218.0 L370.4 218.2 L372.0 219.3 L373.6 219.3 L375.2 219.2 L376.8 219.4 L378.4 220.1 L380.0 220.2 L381.6 219.9 L383.2 221.4 L384.8 220.9 L386.4 220.9 L388.0 221.9 L389.6 221.8 L391.2 221.5 L392.8 222.0 L394.4 221.4 L396.0 221.8 L397.6 221.2 L399.2 223.1 L400.8 221.8 L402.4 223.3 L404.0 222.8 L405.6 222.9 L407.2 223.5 L408.8 224.0 L410.4 224.4 L412.0 225.2 L413.6 224.7 L415.2 225.2 L416.8 224.8 L418.4 225.7 L420.0 225.6 L421.6 225.6 L423.2 226.0 L424.8 226.2 L426.4 226.5 L426.7 226.7" fill="none" stroke="#9900cc" stroke-width="3.90" stroke-linejoin="round" stroke-linecap="round" opacity="1.00"/>
<path d="M563.5 88.9 L565.1 88.7 L566.7 89.4 L568.3 88.0 L569.9 88.5 L571.5 89.5 L573.1 87.3 L574.7 88.3 L576.3 88.9 L577.9 87.7 L579.5 89.8 L581.1 87.3 L582.7 89.5 L584.3 89.8 L585.9 89.9 L587.5 90.0 L589.1 91.2 L590.7 91.6 L592.3 93.6 L593.9 93.8 L595.5 95.4 L597.1 97.3 L598.7 97.6 L600.3 99.3 L601.9 101.0 L603.5 101.7 L605.1 104.4 L606.7 105.5 L608.3 106.1 L609.9 108.3 L611.5 109.5 L613.1 111.2 L614.7 113.1 L616.3 114.4 L617.9 116.8 L619.5 117.6 L621.1 120.0 L622.7 121.1 L624.3 123.1 L625.9 124.0 L627.5 125.5 L629.1 126.7 L630.7 129.0 L632.3 130.7 L633.9 132.7 L635.5 133.7 L637.1 134.6 L638.7 135.7 L640.3 137.3 L641.9 138.4 L643.5 140.4 L645.1 141.3 L646.7 141.6 L648.3 142.8 L649.9 144.9 L651.5 145.5 L653.1 146.3 L654.7 148.0 L656.3 148.3 L657.9 149.5 L659.5 150.5 L661.1 150.8 L662.7 153.3 L664.3 153.4 L665.9 154.8 L667.5 155.8 L669.1 157.6 L670.7 158.2 L672.3 159.3 L673.9 159.5 L675.5 161.3 L677.1 161.5 L678.7 163.4 L680.3 164.3 L681.9 165.0 L683.5 167.0 L685.1 167.1 L686.7 168.0 L688.3 168.6 L689.9 169.3 L691.5 170.7 L693.1 171.6 L694.7 171.1 L696.3 173.1 L697.9 173.6 L699.5 174.5 L701.1 175.0 L702.7 174.8 L704.3 175.6 L705.9 177.7 L707.5 177.6 L709.1 177.4 L710.7 179.0 L712.3 179.3 L713.9 179.1 L715.5 179.5 L717.1 180.5 L718.7 182.1 L720.3 182.5 L721.9 183.0 L723.5 183.8 L725.1 184.6 L726.7 183.8 L728.3 185.3 L729.9 185.5 L731.5 185.9 L733.1 186.7 L734.7 187.5 L736.3 187.9 L737.9 187.9 L739.5 188.9 L741.1 190.6 L742.7 189.6 L744.3 189.8 L745.9 191.2 L747.5 191.9 L749.1 192.4 L750.7 192.1 L752.3 193.6 L753.9 193.2 L755.5 193.6 L757.1 194.3 L758.7 195.1 L760.3 195.9 L761.9 196.4 L763.5 196.5 L765.1 197.4 L766.7 197.4 L768.3 198.3 L769.9 197.5 L771.5 197.9 L773.1 199.5 L774.7 198.8 L776.3 199.7 L777.9 200.3 L779.5 200.5 L781.1 200.9 L782.7 202.3 L784.3 200.7 L785.9 202.9 L787.5 204.0 L789.1 203.3 L790.7 203.7 L792.3 204.6 L793.9 205.6 L795.5 204.6 L797.1 205.7 L798.7 206.0 L800.3 206.9 L801.9 207.2 L803.5 207.9 L805.1 207.8 L806.7 208.6 L808.3 208.7 L809.9 209.1 L811.5 209.8 L813.1 210.3 L814.7 210.2 L816.3 212.0 L817.9 211.5 L819.5 211.2 L821.1 212.8 L822.7 212.3 L824.3 213.2 L825.9 213.3 L827.5 213.7 L829.1 214.0 L830.7 213.9 L832.3 214.5 L833.9 215.7 L835.5 213.9 L837.1 215.3 L838.7 215.7 L840.3 215.3 L841.9 215.3 L843.5 217.4 L845.1 216.3 L846.7 217.8 L848.3 217.3 L849.9 217.3 L851.5 217.7 L853.1 218.0 L854.7 218.5 L856.3 218.3 L857.9 218.4 L859.5 218.7 L861.1 219.5 L862.7 219.4 L864.3 218.8 L865.9 219.2 L867.5 219.9 L869.1 219.7 L870.7 220.0 L872.3 220.0 L873.9 220.6 L875.5 221.2 L877.1 221.8 L878.7 221.5 L880.3 222.8 L881.9 222.0 L883.5 223.9 L885.1 223.0 L886.7 223.0 L888.3 222.7 L889.9 221.8 L891.5 223.3 L893.1 223.6 L894.7 224.6 L896.3 223.1 L897.9 224.8 L899.5 223.8 L901.1 224.4 L902.7 222.8 L904.3 224.2 L905.9 223.9 L907.5 224.4 L909.1 224.1 L910.7 223.5 L912.3 224.6 L913.9 224.4 L915.5 224.4 L916.7 224.6" fill="none" stroke="#8000ff" stroke-width="3.90" stroke-linejoin="round" stroke-linecap="round" opacity="1.00"/>
<path d="M1052.7 148.2 L1054.3 147.2 L1055.9 145.9 L1057.5 145.4 L1059.1 146.9 L1060.7 145.9 L1062.3 145.0 L1063.9 144.1 L1065.5 143.8 L1067.1 143.2 L1068.7 142.2 L1070.3 141.2 L1071.9 142.4 L1073.5 140.3 L1075.1 138.9 L1076.7 137.7 L1078.3 137.4 L1079.9 137.8 L1081.5 137.3 L1083.1 136.2 L1084.7 136.0 L1086.3 135.4 L1087.9 134.5 L1089.5 135.9 L1091.1 134.9 L1092.7 136.1 L1094.3 133.6 L1095.9 133.8 L1097.5 134.3 L1099.1 133.4 L1100.7 132.5 L1102.3 132.7 L1103.9 133.4 L1105.5 133.6 L1107.1 133.3 L1108.7 134.0 L1110.3 134.1 L1111.9 133.6 L1113.5 133.4 L1115.1 133.3 L1116.7 133.9 L1118.3 134.2 L1119.9 133.6 L1121.5 133.9 L1123.1 133.4 L1124.7 132.7 L1126.3 133.1 L1127.9 134.4 L1129.5 134.3 L1131.1 135.3 L1132.7 134.4 L1134.3 135.1 L1135.9 135.6 L1137.5 135.6 L1139.1 134.6 L1140.7 135.1 L1142.3 135.5 L1143.9 134.9 L1145.5 136.1 L1147.1 136.6 L1148.7 135.7 L1150.3 137.6 L1151.9 136.1 L1153.5 136.3 L1155.1 136.4 L1156.7 136.2 L1158.3 137.2 L1159.9 137.0 L1161.5 138.3 L1163.1 137.7 L1164.7 137.7 L1166.3 137.3 L1167.9 136.6 L1169.5 137.6 L1171.1 137.1 L1172.7 138.5 L1174.3 137.9 L1175.9 139.1 L1177.5 138.6 L1179.1 138.7 L1180.7 138.4 L1182.3 138.4 L1183.9 138.8 L1185.5 139.1 L1187.1 138.1 L1188.7 139.0 L1190.3 140.6 L1191.9 138.8 L1193.5 138.8 L1195.1 138.6 L1196.7 138.2 L1198.3 140.1 L1199.9 139.5 L1201.5 139.7 L1203.1 140.9 L1204.7 141.5 L1206.3 139.3 L1207.9 140.7 L1209.5 140.5 L1211.1 140.5 L1212.7 140.7 L1214.3 140.4 L1215.9 141.6 L1217.5 141.1 L1219.1 141.0 L1220.7 141.7 L1222.3 141.6 L1223.9 141.4 L1225.5 141.4 L1227.1 142.5 L1228.7 141.7 L1230.3 141.4 L1231.9 141.0 L1233.5 141.4 L1235.1 141.1 L1236.7 142.0 L1238.3 142.2 L1239.9 140.8 L1241.5 142.4 L1243.1 143.0 L1244.7 142.9 L1246.3 142.4 L1247.9 144.2 L1249.5 143.0 L1251.1 142.9 L1252.7 143.3 L1254.3 144.2 L1255.9 145.1 L1257.5 145.4 L1259.1 144.9 L1260.7 144.0 L1262.3 144.4 L1263.9 144.2 L1265.5 144.6 L1267.1 143.3 L1268.7 144.5 L1270.3 144.7 L1271.9 143.9 L1273.5 144.1 L1275.1 142.9 L1276.7 142.3 L1278.3 142.7 L1279.9 143.8 L1281.5 143.6 L1283.1 142.6 L1284.7 143.8 L1286.3 142.8 L1287.9 144.3 L1289.5 143.9 L1291.1 143.6 L1292.7 144.8 L1294.3 144.1 L1295.9 144.4 L1297.5 144.5 L1299.1 146.1 L1300.7 146.2 L1302.3 146.5 L1303.9 146.5 L1305.5 148.1 L1307.1 147.0 L1308.7 146.9 L1310.3 148.5 L1311.9 148.8 L1313.5 148.2 L1315.1 146.8 L1316.7 147.8 L1318.3 148.8 L1319.9 148.5 L1321.5 149.7 L1323.1 147.8 L1324.7 149.3 L1326.3 148.5 L1327.9 150.0 L1329.5 149.1 L1331.1 150.0 L1332.7 149.0 L1334.3 148.5 L1335.9 148.8 L1337.5 149.3 L1339.1 149.1 L1340.7 150.7 L1342.3 150.9 L1343.9 150.2 L1345.5 149.4 L1347.1 150.1 L1348.7 149.8 L1350.3 151.4 L1351.9 150.7 L1353.5 150.9 L1355.1 150.3 L1356.7 149.3 L1358.3 150.2 L1359.9 150.0 L1361.5 151.2 L1363.1 151.0 L1364.7 150.5 L1366.3 150.8 L1367.9 152.3 L1369.5 150.6 L1371.1 150.7 L1372.7 151.2 L1374.3 150.9 L1375.9 151.2 L1377.5 151.9 L1379.1 152.8 L1380.7 150.4 L1382.3 151.7 L1383.9 151.8 L1385.5 151.8 L1387.1 151.8 L1388.7 151.7 L1390.3 152.7 L1391.9 151.7 L1393.5 152.0 L1395.1 152.1 L1396.7 152.2 L1398.3 152.1 L1399.9 152.9 L1401.5 152.2 L1403.1 152.4 L1404.7 152.2 L1406.0 151.6" fill="none" stroke="#9900cc" stroke-width="3.90" stroke-linejoin="round" stroke-linecap="round" opacity="1.00"/>
<path d="M1604.4 368.1 L1606.0 364.5 L1607.6 360.5 L1609.2 355.3 L1610.8 350.5 L1612.4 346.8 L1614.0 342.7 L1615.6 337.7 L1617.2 335.1 L1618.8 330.3 L1620.4 326.0 L1622.0 322.1 L1623.6 317.1 L1625.2 312.0 L1626.8 308.4 L1628.4 301.9 L1630.0 297.4 L1631.6 292.9 L1633.2 287.0 L1634.8 282.3 L1636.4 277.0 L1638.0 272.2 L1639.6 264.7 L1641.2 258.8 L1642.8 252.7 L1644.4 246.2 L1646.0 240.1 L1647.6 236.5 L1649.2 233.3 L1650.8 231.6 L1652.4 230.9 L1654.0 230.5 L1655.6 230.3 L1657.2 230.6 L1658.8 230.7 L1660.4 231.9 L1662.0 233.1 L1663.6 233.9 L1665.2 235.4 L1666.8 236.5 L1668.4 239.3 L1670.0 241.4 L1671.6 242.2 L1673.2 244.8 L1674.8 246.8 L1676.4 249.9 L1678.0 252.0 L1679.6 254.3 L1681.2 256.5 L1682.8 259.0 L1684.4 260.7 L1686.0 263.6 L1687.6 265.0 L1689.2 267.6 L1690.8 269.5 L1692.4 271.9 L1694.0 273.3 L1695.6 275.6 L1697.2 276.6 L1698.8 279.0 L1700.4 280.4 L1702.0 282.2 L1703.6 283.8 L1705.2 285.8 L1706.8 286.0 L1708.4 288.6 L1710.0 289.4 L1711.6 292.1 L1713.2 292.2 L1714.8 294.2 L1716.4 295.4 L1718.0 298.4 L1719.6 298.6 L1721.2 300.7 L1722.8 301.9 L1724.4 302.8 L1726.0 304.9 L1727.6 306.8 L1729.2 307.8 L1730.8 309.6 L1732.4 310.3 L1734.0 311.7 L1735.6 312.7 L1737.2 314.2 L1738.8 316.0 L1740.4 316.4 L1742.0 317.5 L1743.6 318.2 L1745.2 319.2 L1746.8 321.2 L1748.4 321.2 L1750.0 322.3 L1751.6 323.8 L1753.2 324.8 L1754.8 327.0 L1756.4 326.3 L1758.0 328.7 L1759.6 330.0 L1761.2 330.4 L1762.8 331.8 L1764.4 333.4 L1766.0 335.0 L1767.6 334.9 L1769.2 335.6 L1770.8 337.7 L1772.4 338.8 L1774.0 338.8 L1775.6 338.7 L1777.2 341.1 L1778.8 341.1 L1780.4 342.4 L1782.0 342.6 L1783.6 343.1 L1785.2 343.7 L1786.8 345.3 L1788.4 346.0 L1790.0 345.1 L1791.6 346.3 L1793.2 348.2 L1794.8 348.0 L1796.4 348.3 L1798.0 349.6 L1799.6 350.3 L1801.2 351.0 L1802.8 351.6 L1804.4 352.4 L1806.0 353.1 L1807.6 354.2 L1809.2 354.5 L1810.8 355.5 L1812.4 356.4 L1814.0 357.8 L1815.6 358.2 L1817.2 358.7 L1818.8 359.8 L1820.4 360.5 L1822.0 361.6 L1823.6 362.0 L1825.2 363.4 L1826.8 363.9 L1828.4 364.0 L1830.0 364.5 L1831.6 365.7 L1833.2 366.2 L1834.8 366.5 L1836.4 366.5 L1838.0 367.0 L1839.6 368.6 L1841.2 369.3 L1842.8 369.9 L1844.4 369.6 L1846.0 371.2 L1847.6 371.0 L1849.2 372.0 L1850.8 372.5 L1852.4 372.5 L1854.0 373.1 L1855.6 372.9 L1857.2 374.0 L1858.8 374.0 L1860.4 375.5 L1862.0 375.8 L1863.6 376.7 L1865.2 376.8 L1866.8 376.8 L1868.4 377.7 L1870.0 377.8 L1871.6 378.6 L1873.2 378.9 L1874.8 378.7 L1876.4 379.5 L1878.0 379.9 L1879.6 380.1 L1881.2 381.1 L1882.8 381.8 L1884.4 381.2 L1886.0 381.6 L1887.6 381.1 L1889.2 382.4 L1890.8 382.6 L1892.4 382.1 L1894.0 383.6 L1895.6 384.1 L1897.2 383.8 L1898.8 384.4 L1900.4 384.5 L1902.0 385.7 L1903.6 385.0 L1905.2 386.0 L1906.8 387.4 L1908.4 387.0 L1910.0 387.6 L1911.6 387.8 L1913.2 387.7 L1914.8 388.6 L1916.4 389.1 L1918.0 388.8 L1919.6 389.7 L1921.2 390.4 L1922.8 390.5 L1924.4 389.5 L1926.0 389.9 L1927.6 389.6 L1929.2 390.7 L1930.8 390.2 L1932.4 389.8 L1934.0 388.5 L1935.6 387.8 L1937.2 387.9 L1938.8 387.7 L1940.4 387.3 L1942.0 388.0 L1943.6 388.7 L1945.2 389.2 L1946.8 389.6 L1948.4 390.2 L1950.0 392.4 L1951.6 394.0 L1953.2 395.2 L1954.8 396.3 L1955.2 397.0" fill="none" stroke="#ff4d4d" stroke-width="5.20" stroke-linejoin="round" stroke-linecap="round" opacity="1.00"/>
<g fill="#ff0000"><circle cx="1603.9" cy="358.8" r="2.9"/><circle cx="1606.1" cy="355.3" r="2.9"/><circle cx="1608.8" cy="347.2" r="2.9"/><circle cx="1610.8" cy="338.9" r="2.9"/><circle cx="1613.6" cy="333.3" r="2.9"/><circle cx="1616.6" cy="328.0" r="2.9"/><circle cx="1618.6" cy="321.5" r="2.9"/><circle cx="1621.1" cy="315.0" r="2.9"/><circle cx="1624.1" cy="307.0" r="2.9"/><circle cx="1627.5" cy="299.5" r="2.9"/><circle cx="1629.6" cy="292.3" r="2.9"/><circle cx="1632.8" cy="285.3" r="2.9"/><circle cx="1634.6" cy="276.0" r="2.9"/><circle cx="1637.1" cy="267.3" r="2.9"/><circle cx="1639.2" cy="259.6" r="2.9"/><circle cx="1642.2" cy="245.7" r="2.9"/><circle cx="1645.8" cy="234.1" r="2.9"/><circle cx="1647.9" cy="226.1" r="2.9"/><circle cx="1650.7" cy="223.8" r="2.9"/><circle cx="1653.3" cy="223.5" r="2.9"/><circle cx="1655.5" cy="222.9" r="2.9"/><circle cx="1658.0" cy="224.3" r="2.9"/><circle cx="1660.8" cy="224.8" r="2.9"/><circle cx="1663.6" cy="227.3" r="2.9"/><circle cx="1666.1" cy="231.2" r="2.9"/><circle cx="1668.7" cy="235.2" r="2.9"/><circle cx="1671.2" cy="238.7" r="2.9"/><circle cx="1673.3" cy="243.1" r="2.9"/><circle cx="1676.2" cy="245.4" r="2.9"/><circle cx="1678.4" cy="249.3" r="2.9"/><circle cx="1682.0" cy="253.9" r="2.9"/><circle cx="1683.0" cy="256.9" r="2.9"/><circle cx="1686.6" cy="260.6" r="2.9"/><circle cx="1690.5" cy="263.6" r="2.9"/><circle cx="1691.7" cy="268.9" r="2.9"/><circle cx="1693.9" cy="270.7" r="2.9"/><circle cx="1697.1" cy="275.2" r="2.9"/><circle cx="1700.3" cy="276.6" r="2.9"/><circle cx="1702.2" cy="281.4" r="2.9"/><circle cx="1705.2" cy="282.4" r="2.9"/><circle cx="1707.5" cy="286.4" r="2.9"/><circle cx="1709.9" cy="286.9" r="2.9"/><circle cx="1714.3" cy="290.3" r="2.9"/><circle cx="1715.3" cy="294.0" r="2.9"/><circle cx="1717.6" cy="294.9" r="2.9"/><circle cx="1720.3" cy="298.1" r="2.9"/><circle cx="1723.3" cy="300.1" r="2.9"/><circle cx="1725.9" cy="301.0" r="2.9"/><circle cx="1728.7" cy="305.3" r="2.9"/><circle cx="1731.0" cy="307.6" r="2.9"/><circle cx="1732.8" cy="308.4" r="2.9"/><circle cx="1736.4" cy="311.7" r="2.9"/><circle cx="1738.5" cy="312.5" r="2.9"/><circle cx="1741.2" cy="314.1" r="2.9"/><circle cx="1743.2" cy="316.6" r="2.9"/><circle cx="1746.2" cy="317.8" r="2.9"/><circle cx="1748.7" cy="322.0" r="2.9"/><circle cx="1751.7" cy="320.7" r="2.9"/><circle cx="1753.6" cy="324.4" r="2.9"/><circle cx="1756.9" cy="326.5" r="2.9"/><circle cx="1759.6" cy="326.1" r="2.9"/><circle cx="1761.5" cy="328.2" r="2.9"/><circle cx="1764.4" cy="331.9" r="2.9"/><circle cx="1766.9" cy="332.8" r="2.9"/><circle cx="1770.4" cy="335.1" r="2.9"/><circle cx="1771.2" cy="337.1" r="2.9"/><circle cx="1774.9" cy="337.2" r="2.9"/><circle cx="1776.9" cy="337.8" r="2.9"/><circle cx="1780.1" cy="337.6" r="2.9"/><circle cx="1783.3" cy="341.0" r="2.9"/><circle cx="1785.2" cy="341.2" r="2.9"/><circle cx="1788.2" cy="343.4" r="2.9"/><circle cx="1790.3" cy="344.6" r="2.9"/><circle cx="1794.3" cy="344.6" r="2.9"/><circle cx="1796.4" cy="348.5" r="2.9"/><circle cx="1799.1" cy="349.5" r="2.9"/><circle cx="1800.4" cy="350.7" r="2.9"/><circle cx="1803.1" cy="350.4" r="2.9"/><circle cx="1806.8" cy="352.3" r="2.9"/><circle cx="1808.8" cy="353.5" r="2.9"/><circle cx="1811.4" cy="354.9" r="2.9"/><circle cx="1814.3" cy="355.6" r="2.9"/><circle cx="1816.1" cy="358.1" r="2.9"/><circle cx="1819.7" cy="359.1" r="2.9"/><circle cx="1821.9" cy="360.4" r="2.9"/><circle cx="1824.7" cy="360.9" r="2.9"/><circle cx="1826.8" cy="363.5" r="2.9"/><circle cx="1830.0" cy="363.7" r="2.9"/><circle cx="1831.9" cy="362.4" r="2.9"/><circle cx="1835.4" cy="365.1" r="2.9"/><circle cx="1838.1" cy="366.6" r="2.9"/><circle cx="1840.6" cy="368.4" r="2.9"/><circle cx="1843.0" cy="368.3" r="2.9"/><circle cx="1845.6" cy="369.3" r="2.9"/><circle cx="1846.5" cy="369.8" r="2.9"/><circle cx="1850.9" cy="371.8" r="2.9"/><circle cx="1853.0" cy="371.7" r="2.9"/><circle cx="1855.7" cy="372.4" r="2.9"/><circle cx="1858.2" cy="373.1" r="2.9"/><circle cx="1860.2" cy="374.9" r="2.9"/><circle cx="1863.2" cy="374.8" r="2.9"/><circle cx="1866.4" cy="374.6" r="2.9"/><circle cx="1869.4" cy="377.1" r="2.9"/><circle cx="1871.0" cy="376.7" r="2.9"/><circle cx="1873.4" cy="378.2" r="2.9"/><circle cx="1877.2" cy="378.9" r="2.9"/><circle cx="1878.7" cy="380.1" r="2.9"/><circle cx="1882.7" cy="380.6" r="2.9"/><circle cx="1884.3" cy="379.9" r="2.9"/><circle cx="1886.5" cy="380.8" r="2.9"/><circle cx="1890.0" cy="380.4" r="2.9"/><circle cx="1892.9" cy="383.4" r="2.9"/><circle cx="1894.0" cy="383.0" r="2.9"/><circle cx="1898.1" cy="384.3" r="2.9"/><circle cx="1899.8" cy="383.5" r="2.9"/><circle cx="1903.2" cy="382.8" r="2.9"/><circle cx="1904.9" cy="386.3" r="2.9"/><circle cx="1906.9" cy="385.9" r="2.9"/><circle cx="1910.6" cy="386.6" r="2.9"/><circle cx="1913.4" cy="387.2" r="2.9"/><circle cx="1916.5" cy="388.3" r="2.9"/><circle cx="1919.0" cy="388.7" r="2.9"/><circle cx="1921.0" cy="387.5" r="2.9"/><circle cx="1923.2" cy="390.0" r="2.9"/><circle cx="1925.6" cy="388.9" r="2.9"/><circle cx="1928.4" cy="389.0" r="2.9"/><circle cx="1930.7" cy="390.3" r="2.9"/><circle cx="1933.6" cy="388.8" r="2.9"/><circle cx="1935.0" cy="386.8" r="2.9"/><circle cx="1939.0" cy="385.1" r="2.9"/><circle cx="1941.5" cy="386.8" r="2.9"/><circle cx="1945.4" cy="388.0" r="2.9"/><circle cx="1947.1" cy="388.8" r="2.9"/><circle cx="1949.1" cy="389.8" r="2.9"/><circle cx="1952.2" cy="392.6" r="2.9"/><circle cx="1953.9" cy="394.5" r="2.9"/><circle cx="1954.9" cy="396.8" r="2.9"/></g>
<path d="M1602.5 193.1 L1604.1 193.0 L1605.7 191.9 L1607.3 192.0 L1608.9 191.6 L1610.5 190.5 L1612.1 189.9 L1613.7 190.1 L1615.3 188.3 L1616.9 187.6 L1618.5 185.9 L1620.1 184.9 L1621.7 182.6 L1623.3 181.6 L1624.9 180.3 L1626.5 178.8 L1628.1 176.5 L1629.7 174.3 L1631.3 172.1 L1632.9 169.9 L1634.5 168.3 L1636.1 167.2 L1637.7 165.7 L1639.3 166.0 L1640.9 165.3 L1642.5 165.5 L1644.1 166.7 L1645.7 167.5 L1647.3 168.9 L1648.9 171.4 L1650.5 172.3 L1652.1 174.2 L1653.7 176.5 L1655.3 178.5 L1656.9 179.8 L1658.5 182.8 L1660.1 184.7 L1661.7 187.1 L1663.3 189.9 L1664.9 191.8 L1666.5 194.8 L1668.1 197.8 L1669.7 200.8 L1671.3 202.8 L1672.9 205.3 L1674.5 208.0 L1676.1 210.4 L1677.7 212.2 L1679.3 214.5 L1680.9 215.7 L1682.5 217.7 L1684.1 220.0 L1685.7 221.6 L1687.3 223.4 L1688.9 226.2 L1690.5 227.1 L1692.1 228.6 L1693.7 231.0 L1695.3 233.3 L1696.9 234.3 L1698.5 236.5 L1700.1 237.4 L1701.7 239.1 L1703.3 240.7 L1704.9 242.6 L1706.5 245.1 L1708.1 245.3 L1709.7 248.1 L1711.3 248.4 L1712.9 250.2 L1714.5 252.0 L1716.1 253.2 L1717.7 254.3 L1719.3 254.6 L1720.9 256.7 L1722.5 257.2 L1724.1 259.9 L1725.7 259.8 L1727.3 261.1 L1728.9 261.6 L1730.5 262.9 L1732.1 263.6 L1733.7 265.7 L1735.3 266.2 L1736.9 267.6 L1738.5 268.1 L1740.1 269.2 L1741.7 271.1 L1743.3 271.1 L1744.9 271.8 L1746.5 273.8 L1748.1 274.2 L1749.7 275.6 L1751.3 277.2 L1752.9 277.5 L1754.5 279.3 L1756.1 279.7 L1757.7 281.7 L1759.3 282.6 L1760.9 282.8 L1762.5 284.0 L1764.1 284.7 L1765.7 286.1 L1767.3 287.5 L1768.9 287.3 L1770.5 289.3 L1772.1 289.2 L1773.7 290.4 L1775.3 290.9 L1776.9 293.6 L1778.5 293.6 L1780.1 294.6 L1781.7 295.0 L1783.3 296.7 L1784.9 296.2 L1786.5 298.0 L1788.1 299.9 L1789.7 299.6 L1791.3 300.6 L1792.9 301.7 L1794.5 301.9 L1796.1 303.1 L1797.7 304.3 L1799.3 304.7 L1800.9 305.6 L1802.5 306.0 L1804.1 307.1 L1805.7 307.7 L1807.3 309.1 L1808.9 309.5 L1810.5 309.8 L1812.1 309.5 L1813.7 311.7 L1815.3 312.4 L1816.9 312.3 L1818.5 312.6 L1820.1 313.6 L1821.7 315.3 L1823.3 315.0 L1824.9 316.0 L1826.5 316.9 L1828.1 318.0 L1829.7 318.1 L1831.3 318.7 L1832.9 319.1 L1834.5 320.7 L1836.1 321.0 L1837.7 321.1 L1839.3 321.1 L1840.9 321.9 L1842.5 323.1 L1844.1 323.1 L1845.7 324.3 L1847.3 324.6 L1848.9 325.1 L1850.5 325.8 L1852.1 326.3 L1853.7 326.2 L1855.3 326.9 L1856.9 328.6 L1858.5 327.5 L1860.1 328.4 L1861.7 329.6 L1863.3 329.5 L1864.9 329.7 L1866.5 330.0 L1868.1 331.4 L1869.7 332.1 L1871.3 332.8 L1872.9 332.6 L1874.5 333.6 L1876.1 333.2 L1877.7 334.2 L1879.3 334.3 L1880.9 335.2 L1882.5 335.9 L1884.1 336.5 L1885.7 336.1 L1887.3 337.6 L1888.9 337.2 L1890.5 337.5 L1892.1 338.3 L1893.7 338.1 L1895.3 339.2 L1896.9 339.8 L1898.5 340.0 L1900.1 340.7 L1901.7 340.8 L1903.3 341.3 L1904.9 341.1 L1906.5 342.2 L1908.1 342.2 L1909.7 342.7 L1911.3 343.3 L1912.9 343.8 L1914.5 343.3 L1916.1 343.7 L1917.7 344.7 L1919.3 345.4 L1920.9 345.7 L1922.5 346.3 L1924.1 346.8 L1925.7 346.7 L1927.3 346.8 L1928.9 346.7 L1930.5 347.0 L1932.1 347.5 L1933.7 348.1 L1935.3 348.4 L1936.9 348.6 L1938.5 348.8 L1940.1 349.4 L1941.7 349.5 L1943.3 349.7 L1944.9 350.0 L1946.5 349.9 L1948.1 349.9 L1949.7 350.8 L1951.3 351.0 L1952.9 350.9 L1954.5 350.9 L1955.2 352.2" fill="none" stroke="#4cb04c" stroke-width="4.80" stroke-linejoin="round" stroke-linecap="round" opacity="1.00"/>
<g fill="#008800"><circle cx="1602.1" cy="167.7" r="2.6"/><circle cx="1605.0" cy="167.8" r="2.6"/><circle cx="1607.8" cy="168.3" r="2.6"/><circle cx="1609.7" cy="170.5" r="2.6"/><circle cx="1613.0" cy="167.8" r="2.6"/><circle cx="1616.4" cy="168.8" r="2.6"/><circle cx="1618.6" cy="166.3" r="2.6"/><circle cx="1621.0" cy="164.9" r="2.6"/><circle cx="1623.6" cy="163.0" r="2.6"/><circle cx="1626.0" cy="162.1" r="2.6"/><circle cx="1629.0" cy="157.8" r="2.6"/><circle cx="1631.0" cy="155.8" r="2.6"/><circle cx="1633.5" cy="153.2" r="2.6"/><circle cx="1636.4" cy="154.1" r="2.6"/><circle cx="1639.4" cy="153.6" r="2.6"/><circle cx="1641.7" cy="155.2" r="2.6"/><circle cx="1644.4" cy="155.4" r="2.6"/><circle cx="1645.7" cy="158.1" r="2.6"/><circle cx="1649.9" cy="162.5" r="2.6"/><circle cx="1653.1" cy="165.2" r="2.6"/><circle cx="1655.2" cy="169.2" r="2.6"/><circle cx="1656.9" cy="171.7" r="2.6"/><circle cx="1659.3" cy="173.7" r="2.6"/><circle cx="1662.4" cy="176.2" r="2.6"/><circle cx="1664.4" cy="182.5" r="2.6"/><circle cx="1667.9" cy="186.6" r="2.6"/><circle cx="1669.8" cy="191.6" r="2.6"/><circle cx="1673.2" cy="193.3" r="2.6"/><circle cx="1676.0" cy="197.5" r="2.6"/><circle cx="1676.9" cy="200.8" r="2.6"/><circle cx="1680.6" cy="205.4" r="2.6"/><circle cx="1682.8" cy="210.3" r="2.6"/><circle cx="1685.0" cy="213.2" r="2.6"/><circle cx="1688.0" cy="216.0" r="2.6"/><circle cx="1690.8" cy="219.2" r="2.6"/><circle cx="1694.0" cy="222.8" r="2.6"/><circle cx="1695.3" cy="225.0" r="2.6"/><circle cx="1699.2" cy="228.6" r="2.6"/><circle cx="1702.3" cy="231.5" r="2.6"/><circle cx="1704.2" cy="232.8" r="2.6"/><circle cx="1706.8" cy="237.3" r="2.6"/><circle cx="1709.1" cy="241.7" r="2.6"/><circle cx="1711.1" cy="243.2" r="2.6"/><circle cx="1714.6" cy="246.1" r="2.6"/><circle cx="1717.1" cy="248.4" r="2.6"/><circle cx="1719.9" cy="251.0" r="2.6"/><circle cx="1723.4" cy="254.8" r="2.6"/><circle cx="1725.1" cy="256.1" r="2.6"/><circle cx="1727.5" cy="257.8" r="2.6"/><circle cx="1730.7" cy="258.4" r="2.6"/><circle cx="1731.8" cy="262.6" r="2.6"/><circle cx="1734.5" cy="263.6" r="2.6"/><circle cx="1737.5" cy="265.8" r="2.6"/><circle cx="1740.0" cy="269.9" r="2.6"/><circle cx="1743.2" cy="271.7" r="2.6"/><circle cx="1745.3" cy="271.5" r="2.6"/><circle cx="1749.0" cy="275.5" r="2.6"/><circle cx="1751.5" cy="277.0" r="2.6"/><circle cx="1753.7" cy="277.7" r="2.6"/><circle cx="1755.7" cy="280.6" r="2.6"/><circle cx="1758.8" cy="280.3" r="2.6"/><circle cx="1761.5" cy="282.2" r="2.6"/><circle cx="1763.2" cy="283.7" r="2.6"/><circle cx="1766.5" cy="285.5" r="2.6"/><circle cx="1769.3" cy="288.6" r="2.6"/><circle cx="1771.6" cy="288.4" r="2.6"/><circle cx="1774.9" cy="290.1" r="2.6"/><circle cx="1777.3" cy="291.8" r="2.6"/><circle cx="1778.9" cy="294.2" r="2.6"/><circle cx="1782.0" cy="295.2" r="2.6"/><circle cx="1784.1" cy="297.6" r="2.6"/><circle cx="1787.4" cy="297.8" r="2.6"/><circle cx="1789.3" cy="298.7" r="2.6"/><circle cx="1792.8" cy="300.7" r="2.6"/><circle cx="1795.1" cy="302.5" r="2.6"/><circle cx="1798.0" cy="303.0" r="2.6"/><circle cx="1800.0" cy="305.2" r="2.6"/><circle cx="1802.0" cy="307.7" r="2.6"/><circle cx="1806.2" cy="307.0" r="2.6"/><circle cx="1807.8" cy="308.7" r="2.6"/><circle cx="1811.2" cy="311.0" r="2.6"/><circle cx="1813.3" cy="310.5" r="2.6"/><circle cx="1816.0" cy="311.5" r="2.6"/><circle cx="1819.2" cy="312.5" r="2.6"/><circle cx="1821.1" cy="314.8" r="2.6"/><circle cx="1824.2" cy="316.0" r="2.6"/><circle cx="1825.4" cy="316.5" r="2.6"/><circle cx="1829.1" cy="317.7" r="2.6"/><circle cx="1831.2" cy="319.8" r="2.6"/><circle cx="1833.8" cy="320.4" r="2.6"/><circle cx="1836.5" cy="319.6" r="2.6"/><circle cx="1839.3" cy="321.6" r="2.6"/><circle cx="1842.5" cy="322.6" r="2.6"/><circle cx="1843.4" cy="324.0" r="2.6"/><circle cx="1846.9" cy="324.1" r="2.6"/><circle cx="1849.1" cy="324.7" r="2.6"/><circle cx="1852.7" cy="325.7" r="2.6"/><circle cx="1854.5" cy="325.4" r="2.6"/><circle cx="1857.5" cy="327.7" r="2.6"/><circle cx="1859.7" cy="328.0" r="2.6"/><circle cx="1862.8" cy="329.7" r="2.6"/><circle cx="1865.6" cy="329.3" r="2.6"/><circle cx="1867.5" cy="330.6" r="2.6"/><circle cx="1870.3" cy="331.0" r="2.6"/><circle cx="1872.2" cy="331.7" r="2.6"/><circle cx="1875.7" cy="334.0" r="2.6"/><circle cx="1878.5" cy="333.8" r="2.6"/><circle cx="1880.4" cy="335.4" r="2.6"/><circle cx="1883.9" cy="334.9" r="2.6"/><circle cx="1884.9" cy="336.6" r="2.6"/><circle cx="1887.6" cy="336.0" r="2.6"/><circle cx="1890.4" cy="337.7" r="2.6"/><circle cx="1893.5" cy="338.4" r="2.6"/><circle cx="1896.3" cy="339.9" r="2.6"/><circle cx="1898.9" cy="340.3" r="2.6"/><circle cx="1901.5" cy="340.7" r="2.6"/><circle cx="1904.5" cy="342.2" r="2.6"/><circle cx="1906.5" cy="342.3" r="2.6"/><circle cx="1908.7" cy="343.2" r="2.6"/><circle cx="1911.3" cy="344.0" r="2.6"/><circle cx="1915.6" cy="344.0" r="2.6"/><circle cx="1915.9" cy="344.4" r="2.6"/><circle cx="1919.6" cy="345.5" r="2.6"/><circle cx="1923.0" cy="345.4" r="2.6"/><circle cx="1925.1" cy="346.6" r="2.6"/><circle cx="1927.1" cy="347.7" r="2.6"/><circle cx="1930.1" cy="348.0" r="2.6"/><circle cx="1933.1" cy="347.5" r="2.6"/><circle cx="1935.9" cy="347.2" r="2.6"/><circle cx="1937.5" cy="348.7" r="2.6"/><circle cx="1940.9" cy="349.0" r="2.6"/><circle cx="1943.2" cy="350.4" r="2.6"/><circle cx="1946.3" cy="349.6" r="2.6"/><circle cx="1949.0" cy="350.2" r="2.6"/><circle cx="1950.7" cy="351.3" r="2.6"/><circle cx="1952.8" cy="350.6" r="2.6"/><circle cx="1955.4" cy="351.1" r="2.6"/></g>
<path d="M1602.5 82.6 L1604.1 82.2 L1605.7 81.5 L1607.3 81.1 L1608.9 80.3 L1610.5 80.8 L1612.1 80.4 L1613.7 80.4 L1615.3 80.0 L1616.9 80.2 L1618.5 80.2 L1620.1 80.7 L1621.7 81.6 L1623.3 81.6 L1624.9 81.4 L1626.5 82.6 L1628.1 83.2 L1629.7 84.6 L1631.3 86.4 L1632.9 87.7 L1634.5 88.7 L1636.1 90.6 L1637.7 91.8 L1639.3 93.2 L1640.9 95.0 L1642.5 97.2 L1644.1 100.2 L1645.7 101.0 L1647.3 104.3 L1648.9 106.7 L1650.5 108.4 L1652.1 111.0 L1653.7 113.6 L1655.3 116.8 L1656.9 120.1 L1658.5 122.9 L1660.1 126.3 L1661.7 129.1 L1663.3 131.2 L1664.9 133.5 L1666.5 135.3 L1668.1 137.3 L1669.7 138.5 L1671.3 140.9 L1672.9 142.7 L1674.5 144.3 L1676.1 147.8 L1677.7 148.7 L1679.3 151.2 L1680.9 154.2 L1682.5 155.6 L1684.1 158.5 L1685.7 160.4 L1687.3 162.8 L1688.9 165.2 L1690.5 167.3 L1692.1 169.6 L1693.7 171.2 L1695.3 173.2 L1696.9 174.6 L1698.5 175.9 L1700.1 178.2 L1701.7 179.1 L1703.3 180.7 L1704.9 183.3 L1706.5 184.5 L1708.1 185.8 L1709.7 187.6 L1711.3 189.2 L1712.9 189.6 L1714.5 191.7 L1716.1 192.6 L1717.7 194.7 L1719.3 195.7 L1720.9 198.0 L1722.5 198.9 L1724.1 199.6 L1725.7 201.2 L1727.3 201.9 L1728.9 203.6 L1730.5 205.0 L1732.1 206.0 L1733.7 206.1 L1735.3 208.0 L1736.9 209.4 L1738.5 210.4 L1740.1 211.9 L1741.7 211.8 L1743.3 213.7 L1744.9 214.3 L1746.5 215.8 L1748.1 217.0 L1749.7 218.2 L1751.3 218.7 L1752.9 220.1 L1754.5 220.6 L1756.1 221.6 L1757.7 223.5 L1759.3 224.3 L1760.9 224.7 L1762.5 226.0 L1764.1 227.5 L1765.7 229.2 L1767.3 230.0 L1768.9 230.9 L1770.5 230.7 L1772.1 232.5 L1773.7 233.8 L1775.3 234.7 L1776.9 235.7 L1778.5 236.4 L1780.1 238.3 L1781.7 239.1 L1783.3 239.3 L1784.9 239.8 L1786.5 242.0 L1788.1 241.7 L1789.7 243.2 L1791.3 244.3 L1792.9 243.7 L1794.5 244.9 L1796.1 245.2 L1797.7 246.2 L1799.3 246.8 L1800.9 248.1 L1802.5 248.2 L1804.1 248.6 L1805.7 249.8 L1807.3 249.8 L1808.9 250.5 L1810.5 252.4 L1812.1 251.7 L1813.7 252.6 L1815.3 253.5 L1816.9 253.8 L1818.5 254.0 L1820.1 256.1 L1821.7 256.0 L1823.3 256.8 L1824.9 257.6 L1826.5 258.0 L1828.1 258.7 L1829.7 259.9 L1831.3 261.6 L1832.9 261.5 L1834.5 262.1 L1836.1 261.7 L1837.7 263.0 L1839.3 263.1 L1840.9 264.6 L1842.5 264.8 L1844.1 265.5 L1845.7 266.1 L1847.3 266.5 L1848.9 266.7 L1850.5 268.2 L1852.1 267.9 L1853.7 268.6 L1855.3 269.5 L1856.9 269.9 L1858.5 270.9 L1860.1 271.8 L1861.7 272.0 L1863.3 272.5 L1864.9 272.9 L1866.5 273.7 L1868.1 273.0 L1869.7 274.5 L1871.3 274.4 L1872.9 274.7 L1874.5 275.7 L1876.1 275.9 L1877.7 276.8 L1879.3 277.5 L1880.9 276.4 L1882.5 277.8 L1884.1 279.1 L1885.7 279.0 L1887.3 279.7 L1888.9 279.5 L1890.5 279.2 L1892.1 279.7 L1893.7 281.0 L1895.3 281.5 L1896.9 281.1 L1898.5 281.7 L1900.1 282.4 L1901.7 281.9 L1903.3 282.9 L1904.9 284.2 L1906.5 284.8 L1908.1 284.2 L1909.7 285.5 L1911.3 284.8 L1912.9 285.1 L1914.5 284.8 L1916.1 286.6 L1917.7 286.4 L1919.3 288.0 L1920.9 287.4 L1922.5 287.7 L1924.1 287.1 L1925.7 289.0 L1927.3 288.4 L1928.9 288.8 L1930.5 288.2 L1932.1 289.9 L1933.7 290.2 L1935.3 289.8 L1936.9 290.4 L1938.5 290.8 L1940.1 291.3 L1941.7 291.2 L1943.3 292.2 L1944.9 291.5 L1946.5 291.6 L1948.1 291.9 L1949.7 291.2 L1951.3 292.2 L1952.9 293.2 L1954.5 293.0 L1955.2 292.6" fill="none" stroke="#a455ff" stroke-width="4.80" stroke-linejoin="round" stroke-linecap="round" opacity="1.00"/>
<g fill="#8000ff"><circle cx="1604.5" cy="70.6" r="2.6"/><circle cx="1606.0" cy="72.0" r="2.6"/><circle cx="1609.4" cy="72.2" r="2.6"/><circle cx="1612.4" cy="71.2" r="2.6"/><circle cx="1615.1" cy="71.8" r="2.6"/><circle cx="1617.0" cy="73.8" r="2.6"/><circle cx="1620.4" cy="74.8" r="2.6"/><circle cx="1623.5" cy="73.0" r="2.6"/><circle cx="1625.0" cy="74.9" r="2.6"/><circle cx="1628.1" cy="76.8" r="2.6"/><circle cx="1629.6" cy="79.4" r="2.6"/><circle cx="1632.0" cy="80.2" r="2.6"/><circle cx="1635.9" cy="84.8" r="2.6"/><circle cx="1638.2" cy="88.3" r="2.6"/><circle cx="1640.9" cy="94.8" r="2.6"/><circle cx="1643.1" cy="97.2" r="2.6"/><circle cx="1645.8" cy="100.6" r="2.6"/><circle cx="1649.0" cy="104.2" r="2.6"/><circle cx="1652.0" cy="109.3" r="2.6"/><circle cx="1653.7" cy="113.1" r="2.6"/><circle cx="1655.5" cy="116.1" r="2.6"/><circle cx="1659.6" cy="121.7" r="2.6"/><circle cx="1661.9" cy="124.8" r="2.6"/><circle cx="1664.5" cy="129.3" r="2.6"/><circle cx="1666.9" cy="132.7" r="2.6"/><circle cx="1670.5" cy="136.3" r="2.6"/><circle cx="1672.0" cy="140.3" r="2.6"/><circle cx="1674.8" cy="143.9" r="2.6"/><circle cx="1676.2" cy="149.5" r="2.6"/><circle cx="1679.5" cy="154.4" r="2.6"/><circle cx="1682.0" cy="157.7" r="2.6"/><circle cx="1685.0" cy="160.6" r="2.6"/><circle cx="1687.7" cy="165.3" r="2.6"/><circle cx="1689.8" cy="165.9" r="2.6"/><circle cx="1693.6" cy="168.7" r="2.6"/><circle cx="1694.8" cy="173.6" r="2.6"/><circle cx="1697.7" cy="176.2" r="2.6"/><circle cx="1700.7" cy="179.1" r="2.6"/><circle cx="1702.5" cy="180.7" r="2.6"/><circle cx="1706.1" cy="182.5" r="2.6"/><circle cx="1708.7" cy="185.7" r="2.6"/><circle cx="1710.8" cy="189.2" r="2.6"/><circle cx="1714.5" cy="190.7" r="2.6"/><circle cx="1716.2" cy="193.3" r="2.6"/><circle cx="1718.9" cy="195.2" r="2.6"/><circle cx="1720.9" cy="197.8" r="2.6"/><circle cx="1723.1" cy="201.7" r="2.6"/><circle cx="1726.3" cy="203.7" r="2.6"/><circle cx="1729.0" cy="204.6" r="2.6"/><circle cx="1731.5" cy="206.8" r="2.6"/><circle cx="1734.8" cy="209.3" r="2.6"/><circle cx="1735.8" cy="212.3" r="2.6"/><circle cx="1739.0" cy="212.9" r="2.6"/><circle cx="1741.3" cy="215.6" r="2.6"/><circle cx="1745.4" cy="215.9" r="2.6"/><circle cx="1747.1" cy="218.5" r="2.6"/><circle cx="1749.7" cy="221.6" r="2.6"/><circle cx="1752.0" cy="223.7" r="2.6"/><circle cx="1755.6" cy="223.8" r="2.6"/><circle cx="1757.6" cy="225.7" r="2.6"/><circle cx="1760.5" cy="228.5" r="2.6"/><circle cx="1762.0" cy="228.9" r="2.6"/><circle cx="1766.2" cy="230.0" r="2.6"/><circle cx="1768.4" cy="231.9" r="2.6"/><circle cx="1771.1" cy="232.7" r="2.6"/><circle cx="1774.0" cy="234.7" r="2.6"/><circle cx="1775.9" cy="236.0" r="2.6"/><circle cx="1778.5" cy="236.7" r="2.6"/><circle cx="1781.5" cy="239.0" r="2.6"/><circle cx="1784.0" cy="240.9" r="2.6"/><circle cx="1786.3" cy="241.6" r="2.6"/><circle cx="1789.0" cy="243.4" r="2.6"/><circle cx="1791.3" cy="246.1" r="2.6"/><circle cx="1794.5" cy="245.0" r="2.6"/><circle cx="1797.2" cy="247.8" r="2.6"/><circle cx="1799.4" cy="248.1" r="2.6"/><circle cx="1802.9" cy="248.6" r="2.6"/><circle cx="1803.8" cy="250.1" r="2.6"/><circle cx="1807.1" cy="251.1" r="2.6"/><circle cx="1810.6" cy="252.8" r="2.6"/><circle cx="1812.2" cy="252.7" r="2.6"/><circle cx="1814.2" cy="254.0" r="2.6"/><circle cx="1818.3" cy="255.1" r="2.6"/><circle cx="1820.4" cy="258.0" r="2.6"/><circle cx="1822.2" cy="258.5" r="2.6"/><circle cx="1825.8" cy="258.2" r="2.6"/><circle cx="1827.5" cy="259.8" r="2.6"/><circle cx="1829.9" cy="260.6" r="2.6"/><circle cx="1833.1" cy="262.2" r="2.6"/><circle cx="1835.5" cy="263.4" r="2.6"/><circle cx="1837.8" cy="266.1" r="2.6"/><circle cx="1840.8" cy="263.9" r="2.6"/><circle cx="1843.1" cy="267.2" r="2.6"/><circle cx="1846.2" cy="267.7" r="2.6"/><circle cx="1848.8" cy="267.7" r="2.6"/><circle cx="1851.7" cy="269.1" r="2.6"/><circle cx="1853.7" cy="269.8" r="2.6"/><circle cx="1855.9" cy="271.2" r="2.6"/><circle cx="1858.5" cy="272.8" r="2.6"/><circle cx="1861.7" cy="271.7" r="2.6"/><circle cx="1865.1" cy="274.8" r="2.6"/><circle cx="1867.4" cy="274.2" r="2.6"/><circle cx="1869.3" cy="276.5" r="2.6"/><circle cx="1872.6" cy="276.4" r="2.6"/><circle cx="1874.2" cy="277.8" r="2.6"/><circle cx="1877.9" cy="277.9" r="2.6"/><circle cx="1879.8" cy="279.0" r="2.6"/><circle cx="1883.0" cy="278.9" r="2.6"/><circle cx="1885.5" cy="278.8" r="2.6"/><circle cx="1887.6" cy="280.7" r="2.6"/><circle cx="1890.5" cy="281.4" r="2.6"/><circle cx="1892.4" cy="283.2" r="2.6"/><circle cx="1895.5" cy="280.5" r="2.6"/><circle cx="1898.7" cy="282.6" r="2.6"/><circle cx="1902.8" cy="284.3" r="2.6"/><circle cx="1903.7" cy="283.1" r="2.6"/><circle cx="1906.0" cy="284.6" r="2.6"/><circle cx="1908.1" cy="287.2" r="2.6"/><circle cx="1911.7" cy="287.3" r="2.6"/><circle cx="1912.9" cy="286.1" r="2.6"/><circle cx="1916.0" cy="288.5" r="2.6"/><circle cx="1919.2" cy="288.9" r="2.6"/><circle cx="1921.0" cy="289.2" r="2.6"/><circle cx="1924.9" cy="289.4" r="2.6"/><circle cx="1927.3" cy="289.7" r="2.6"/><circle cx="1929.1" cy="289.3" r="2.6"/><circle cx="1931.7" cy="290.0" r="2.6"/><circle cx="1933.9" cy="291.4" r="2.6"/><circle cx="1936.5" cy="291.2" r="2.6"/><circle cx="1940.0" cy="293.0" r="2.6"/><circle cx="1942.7" cy="291.5" r="2.6"/><circle cx="1945.2" cy="290.2" r="2.6"/><circle cx="1947.7" cy="292.1" r="2.6"/><circle cx="1949.9" cy="292.9" r="2.6"/><circle cx="1953.0" cy="293.2" r="2.6"/><circle cx="1954.4" cy="293.1" r="2.6"/></g>
<text x="409.80" y="205.40" font-size="26.00" text-anchor="end" fill="#9900cc" font-weight="bold" >65 kOe</text>
<text x="409.80" y="254.90" font-size="26.00" text-anchor="end" fill="#0000ff" font-weight="bold" >55 kOe</text>
<text x="409.80" y="299.20" font-size="26.00" text-anchor="end" fill="#008800" font-weight="bold" >45 kOe</text>
<text x="409.80" y="342.30" font-size="26.00" text-anchor="end" fill="#ff8000" font-weight="bold" >25 kOe</text>
<text x="409.80" y="387.80" font-size="26.00" text-anchor="end" fill="#ff0000" font-weight="bold" >10 kOe</text>
<text x="899.00" y="201.00" font-size="26.00" text-anchor="end" fill="#8000ff" font-weight="bold" >65 kOe</text>
<text x="899.00" y="247.20" font-size="26.00" text-anchor="end" fill="#0000ff" font-weight="bold" >55 kOe</text>
<text x="899.00" y="297.30" font-size="26.00" text-anchor="end" fill="#008800" font-weight="bold" >45 kOe</text>
<text x="899.00" y="341.90" font-size="26.00" text-anchor="end" fill="#ff8000" font-weight="bold" >25 kOe</text>
<text x="899.00" y="392.40" font-size="26.00" text-anchor="end" fill="#ff0000" font-weight="bold" >10 kOe</text>
<text x="1388.30" y="137.50" font-size="26.00" text-anchor="end" fill="#9900cc" font-weight="bold" >65 kOe</text>
<text x="1388.30" y="177.70" font-size="26.00" text-anchor="end" fill="#0000ff" font-weight="bold" >55 kOe</text>
<text x="1388.30" y="221.10" font-size="26.00" text-anchor="end" fill="#008800" font-weight="bold" >45 kOe</text>
<text x="1388.30" y="259.80" font-size="26.00" text-anchor="end" fill="#ff8000" font-weight="bold" >25 kOe</text>
<text x="1388.30" y="297.30" font-size="26.00" text-anchor="end" fill="#ff0000" font-weight="bold" >10 kOe</text>
<text x="1951.00" y="263.50" font-size="26.00" text-anchor="end" fill="#9900cc" font-weight="bold" >65 kOe</text>
<text x="1951.00" y="321.00" font-size="26.00" text-anchor="end" fill="#008800" font-weight="bold" >45 kOe</text>
<text x="1951.00" y="373.50" font-size="26.00" text-anchor="end" fill="#ff0000" font-weight="bold" >10 kOe</text>
<text x="408.50" y="73.00" font-size="26.00" text-anchor="end" fill="#000" font-weight="bold" >H // bond</text>
<text y="75.3" font-size="26" font-weight="bold"><tspan x="787.1">H</tspan><tspan font-family="DejaVu Sans, sans-serif" font-weight="normal" x="811.2">&#8869;</tspan><tspan x="838.8">bond</tspan></text>
<text y="75.2" font-size="26" font-weight="bold"><tspan x="1226">H</tspan><tspan font-family="DejaVu Sans, sans-serif" font-weight="normal" x="1250.7">&#8869;</tspan><tspan x="1279.3" font-style="italic">ab</tspan><tspan x="1315.4">plane</tspan></text>
<text transform="translate(40.80 333.50) rotate(-90)" x="0" y="0" font-size="26.00"><tspan font-family="DejaVu Serif, serif" font-style="italic">&#967;</tspan><tspan font-size="18" dy="6">bond//</tspan><tspan dy="-6"> (arb.units)</tspan></text>
<text transform="translate(524.50 334.00) rotate(-90)" x="0" y="0" font-size="26.00"><tspan font-family="DejaVu Serif, serif" font-style="italic">&#967;</tspan><tspan font-size="18" dy="6">bond&#8869;</tspan><tspan dy="-6" dx="-6"> (arb.units)</tspan></text>
<text transform="translate(1015.80 316.00) rotate(-90)" x="0" y="0" font-size="25.60"><tspan font-family="DejaVu Serif, serif" font-style="italic">&#967;</tspan><tspan font-size="18" dy="6" font-style="italic">c</tspan><tspan dy="-6"> (arb. units)</tspan></text>
<text transform="translate(1574.50 310.50) rotate(-90)" x="0" y="0" font-size="26.00"><tspan font-family="DejaVu Serif, serif" font-style="italic">&#967;</tspan><tspan dx="4"> (arb.units)</tspan></text>
<text x="737.5" y="523" font-size="26.5" text-anchor="middle"><tspan font-style="italic">T</tspan> (K)</text>
<text x="1227" y="513.5" font-size="26.5" text-anchor="middle"><tspan font-style="italic">T</tspan> (K)</text>
<text x="11.00" y="19.50" font-size="27.00" text-anchor="start" fill="#000" font-weight="bold" >a</text>
<text x="495.00" y="19.50" font-size="27.00" text-anchor="start" fill="#000" font-weight="bold" >b</text>
<text x="998.00" y="19.50" font-size="27.00" text-anchor="start" fill="#000" font-weight="bold" >c</text>
<text x="1552.50" y="19.50" font-size="27.00" text-anchor="start" fill="#000" font-weight="bold" >g</text>
<text x="6.00" y="523.50" font-size="27.00" text-anchor="start" fill="#000" font-weight="bold" >d</text>
<text x="498.00" y="523.50" font-size="27.00" text-anchor="start" fill="#000" font-weight="bold" >e</text>
<text x="990.50" y="523.50" font-size="27.00" text-anchor="start" fill="#000" font-weight="bold" >f</text>
<text x="1552.50" y="523.50" font-size="27.00" text-anchor="start" fill="#000" font-weight="bold" >h</text>
<rect x="68.00" y="557.00" width="319.00" height="399.70" fill="none" stroke="#000" stroke-width="1.90"/>
<line x1="59.00" y1="557.00" x2="68.00" y2="557.00" stroke="#000" stroke-width="2.00" />
<text x="54.00" y="566.30" font-size="26.50" text-anchor="end" fill="#000" >30</text>
<line x1="59.00" y1="628.38" x2="68.00" y2="628.38" stroke="#000" stroke-width="2.00" />
<text x="54.00" y="637.67" font-size="26.50" text-anchor="end" fill="#000" >25</text>
<line x1="59.00" y1="699.75" x2="68.00" y2="699.75" stroke="#000" stroke-width="2.00" />
<text x="54.00" y="709.05" font-size="26.50" text-anchor="end" fill="#000" >20</text>
<line x1="59.00" y1="771.12" x2="68.00" y2="771.12" stroke="#000" stroke-width="2.00" />
<text x="54.00" y="780.42" font-size="26.50" text-anchor="end" fill="#000" >15</text>
<line x1="59.00" y1="842.50" x2="68.00" y2="842.50" stroke="#000" stroke-width="2.00" />
<text x="54.00" y="851.80" font-size="26.50" text-anchor="end" fill="#000" >10</text>
<line x1="59.00" y1="913.88" x2="68.00" y2="913.88" stroke="#000" stroke-width="2.00" />
<text x="54.00" y="923.17" font-size="26.50" text-anchor="end" fill="#000" >5</text>
<line x1="63.50" y1="592.69" x2="68.00" y2="592.69" stroke="#000" stroke-width="2.00" />
<line x1="63.50" y1="664.06" x2="68.00" y2="664.06" stroke="#000" stroke-width="2.00" />
<line x1="63.50" y1="735.44" x2="68.00" y2="735.44" stroke="#000" stroke-width="2.00" />
<line x1="63.50" y1="806.81" x2="68.00" y2="806.81" stroke="#000" stroke-width="2.00" />
<line x1="63.50" y1="878.19" x2="68.00" y2="878.19" stroke="#000" stroke-width="2.00" />
<line x1="63.50" y1="949.56" x2="68.00" y2="949.56" stroke="#000" stroke-width="2.00" />
<line x1="68.00" y1="956.70" x2="68.00" y2="966.70" stroke="#000" stroke-width="2.00" />
<text x="68.00" y="993.80" font-size="26.50" text-anchor="middle" fill="#000" >10</text>
<line x1="97.00" y1="956.70" x2="97.00" y2="961.70" stroke="#000" stroke-width="2.00" />
<line x1="126.00" y1="956.70" x2="126.00" y2="966.70" stroke="#000" stroke-width="2.00" />
<text x="126.00" y="993.80" font-size="26.50" text-anchor="middle" fill="#000" >20</text>
<line x1="155.00" y1="956.70" x2="155.00" y2="961.70" stroke="#000" stroke-width="2.00" />
<line x1="184.00" y1="956.70" x2="184.00" y2="966.70" stroke="#000" stroke-width="2.00" />
<text x="184.00" y="993.80" font-size="26.50" text-anchor="middle" fill="#000" >30</text>
<line x1="213.00" y1="956.70" x2="213.00" y2="961.70" stroke="#000" stroke-width="2.00" />
<line x1="242.00" y1="956.70" x2="242.00" y2="966.70" stroke="#000" stroke-width="2.00" />
<text x="242.00" y="993.80" font-size="26.50" text-anchor="middle" fill="#000" >40</text>
<line x1="271.00" y1="956.70" x2="271.00" y2="961.70" stroke="#000" stroke-width="2.00" />
<line x1="300.00" y1="956.70" x2="300.00" y2="966.70" stroke="#000" stroke-width="2.00" />
<text x="300.00" y="993.80" font-size="26.50" text-anchor="middle" fill="#000" >50</text>
<line x1="329.00" y1="956.70" x2="329.00" y2="961.70" stroke="#000" stroke-width="2.00" />
<line x1="358.00" y1="956.70" x2="358.00" y2="966.70" stroke="#000" stroke-width="2.00" />
<text x="358.00" y="993.80" font-size="26.50" text-anchor="middle" fill="#000" >60</text>
<line x1="387.00" y1="956.70" x2="387.00" y2="961.70" stroke="#000" stroke-width="2.00" />
<text x="228.50" y="1033.3" font-size="26.5" text-anchor="middle"><tspan font-style="italic">H</tspan> (kOe)</text>
<rect x="558.75" y="557.00" width="319.00" height="399.70" fill="none" stroke="#000" stroke-width="1.90"/>
<line x1="549.75" y1="557.00" x2="558.75" y2="557.00" stroke="#000" stroke-width="2.00" />
<text x="544.75" y="566.30" font-size="26.50" text-anchor="end" fill="#000" >30</text>
<line x1="549.75" y1="628.38" x2="558.75" y2="628.38" stroke="#000" stroke-width="2.00" />
<text x="544.75" y="637.67" font-size="26.50" text-anchor="end" fill="#000" >25</text>
<line x1="549.75" y1="699.75" x2="558.75" y2="699.75" stroke="#000" stroke-width="2.00" />
<text x="544.75" y="709.05" font-size="26.50" text-anchor="end" fill="#000" >20</text>
<line x1="549.75" y1="771.12" x2="558.75" y2="771.12" stroke="#000" stroke-width="2.00" />
<text x="544.75" y="780.42" font-size="26.50" text-anchor="end" fill="#000" >15</text>
<line x1="549.75" y1="842.50" x2="558.75" y2="842.50" stroke="#000" stroke-width="2.00" />
<text x="544.75" y="851.80" font-size="26.50" text-anchor="end" fill="#000" >10</text>
<line x1="549.75" y1="913.88" x2="558.75" y2="913.88" stroke="#000" stroke-width="2.00" />
<text x="544.75" y="923.17" font-size="26.50" text-anchor="end" fill="#000" >5</text>
<line x1="554.25" y1="592.69" x2="558.75" y2="592.69" stroke="#000" stroke-width="2.00" />
<line x1="554.25" y1="664.06" x2="558.75" y2="664.06" stroke="#000" stroke-width="2.00" />
<line x1="554.25" y1="735.44" x2="558.75" y2="735.44" stroke="#000" stroke-width="2.00" />
<line x1="554.25" y1="806.81" x2="558.75" y2="806.81" stroke="#000" stroke-width="2.00" />
<line x1="554.25" y1="878.19" x2="558.75" y2="878.19" stroke="#000" stroke-width="2.00" />
<line x1="554.25" y1="949.56" x2="558.75" y2="949.56" stroke="#000" stroke-width="2.00" />
<line x1="558.75" y1="956.70" x2="558.75" y2="966.70" stroke="#000" stroke-width="2.00" />
<text x="558.75" y="993.80" font-size="26.50" text-anchor="middle" fill="#000" >10</text>
<line x1="587.75" y1="956.70" x2="587.75" y2="961.70" stroke="#000" stroke-width="2.00" />
<line x1="616.75" y1="956.70" x2="616.75" y2="966.70" stroke="#000" stroke-width="2.00" />
<text x="616.75" y="993.80" font-size="26.50" text-anchor="middle" fill="#000" >20</text>
<line x1="645.75" y1="956.70" x2="645.75" y2="961.70" stroke="#000" stroke-width="2.00" />
<line x1="674.75" y1="956.70" x2="674.75" y2="966.70" stroke="#000" stroke-width="2.00" />
<text x="674.75" y="993.80" font-size="26.50" text-anchor="middle" fill="#000" >30</text>
<line x1="703.75" y1="956.70" x2="703.75" y2="961.70" stroke="#000" stroke-width="2.00" />
<line x1="732.75" y1="956.70" x2="732.75" y2="966.70" stroke="#000" stroke-width="2.00" />
<text x="732.75" y="993.80" font-size="26.50" text-anchor="middle" fill="#000" >40</text>
<line x1="761.75" y1="956.70" x2="761.75" y2="961.70" stroke="#000" stroke-width="2.00" />
<line x1="790.75" y1="956.70" x2="790.75" y2="966.70" stroke="#000" stroke-width="2.00" />
<text x="790.75" y="993.80" font-size="26.50" text-anchor="middle" fill="#000" >50</text>
<line x1="819.75" y1="956.70" x2="819.75" y2="961.70" stroke="#000" stroke-width="2.00" />
<line x1="848.75" y1="956.70" x2="848.75" y2="966.70" stroke="#000" stroke-width="2.00" />
<text x="848.75" y="993.80" font-size="26.50" text-anchor="middle" fill="#000" >60</text>
<line x1="877.75" y1="956.70" x2="877.75" y2="961.70" stroke="#000" stroke-width="2.00" />
<text x="719.25" y="1033.3" font-size="26.5" text-anchor="middle"><tspan font-style="italic">H</tspan> (kOe)</text>
<rect x="1048.25" y="557.00" width="319.75" height="399.70" fill="none" stroke="#000" stroke-width="1.90"/>
<line x1="1039.25" y1="557.00" x2="1048.25" y2="557.00" stroke="#000" stroke-width="2.00" />
<text x="1034.25" y="566.30" font-size="26.50" text-anchor="end" fill="#000" >30</text>
<line x1="1039.25" y1="629.67" x2="1048.25" y2="629.67" stroke="#000" stroke-width="2.00" />
<text x="1034.25" y="638.97" font-size="26.50" text-anchor="end" fill="#000" >25</text>
<line x1="1039.25" y1="702.35" x2="1048.25" y2="702.35" stroke="#000" stroke-width="2.00" />
<text x="1034.25" y="711.65" font-size="26.50" text-anchor="end" fill="#000" >20</text>
<line x1="1039.25" y1="775.02" x2="1048.25" y2="775.02" stroke="#000" stroke-width="2.00" />
<text x="1034.25" y="784.32" font-size="26.50" text-anchor="end" fill="#000" >15</text>
<line x1="1039.25" y1="847.69" x2="1048.25" y2="847.69" stroke="#000" stroke-width="2.00" />
<text x="1034.25" y="856.99" font-size="26.50" text-anchor="end" fill="#000" >10</text>
<line x1="1039.25" y1="920.36" x2="1048.25" y2="920.36" stroke="#000" stroke-width="2.00" />
<text x="1034.25" y="929.66" font-size="26.50" text-anchor="end" fill="#000" >5</text>
<line x1="1043.75" y1="593.34" x2="1048.25" y2="593.34" stroke="#000" stroke-width="2.00" />
<line x1="1043.75" y1="666.01" x2="1048.25" y2="666.01" stroke="#000" stroke-width="2.00" />
<line x1="1043.75" y1="738.68" x2="1048.25" y2="738.68" stroke="#000" stroke-width="2.00" />
<line x1="1043.75" y1="811.35" x2="1048.25" y2="811.35" stroke="#000" stroke-width="2.00" />
<line x1="1043.75" y1="884.03" x2="1048.25" y2="884.03" stroke="#000" stroke-width="2.00" />
<line x1="1043.75" y1="956.70" x2="1048.25" y2="956.70" stroke="#000" stroke-width="2.00" />
<line x1="1048.25" y1="956.70" x2="1048.25" y2="966.70" stroke="#000" stroke-width="2.00" />
<text x="1048.25" y="993.80" font-size="26.50" text-anchor="middle" fill="#000" >10</text>
<line x1="1077.32" y1="956.70" x2="1077.32" y2="961.70" stroke="#000" stroke-width="2.00" />
<line x1="1106.39" y1="956.70" x2="1106.39" y2="966.70" stroke="#000" stroke-width="2.00" />
<text x="1106.39" y="993.80" font-size="26.50" text-anchor="middle" fill="#000" >20</text>
<line x1="1135.45" y1="956.70" x2="1135.45" y2="961.70" stroke="#000" stroke-width="2.00" />
<line x1="1164.52" y1="956.70" x2="1164.52" y2="966.70" stroke="#000" stroke-width="2.00" />
<text x="1164.52" y="993.80" font-size="26.50" text-anchor="middle" fill="#000" >30</text>
<line x1="1193.59" y1="956.70" x2="1193.59" y2="961.70" stroke="#000" stroke-width="2.00" />
<line x1="1222.66" y1="956.70" x2="1222.66" y2="966.70" stroke="#000" stroke-width="2.00" />
<text x="1222.66" y="993.80" font-size="26.50" text-anchor="middle" fill="#000" >40</text>
<line x1="1251.73" y1="956.70" x2="1251.73" y2="961.70" stroke="#000" stroke-width="2.00" />
<line x1="1280.80" y1="956.70" x2="1280.80" y2="966.70" stroke="#000" stroke-width="2.00" />
<text x="1280.80" y="993.80" font-size="26.50" text-anchor="middle" fill="#000" >50</text>
<line x1="1309.86" y1="956.70" x2="1309.86" y2="961.70" stroke="#000" stroke-width="2.00" />
<line x1="1338.93" y1="956.70" x2="1338.93" y2="966.70" stroke="#000" stroke-width="2.00" />
<text x="1338.93" y="993.80" font-size="26.50" text-anchor="middle" fill="#000" >60</text>
<line x1="1368.00" y1="956.70" x2="1368.00" y2="961.70" stroke="#000" stroke-width="2.00" />
<text x="1209.12" y="1033.3" font-size="26.5" text-anchor="middle"><tspan font-style="italic">H</tspan> (kOe)</text>
<defs>
<linearGradient id="cbd" x1="0" y1="0" x2="0" y2="1"><stop offset="0" stop-color="#ff0000"/><stop offset="0.010" stop-color="#ff0000"/><stop offset="0.500" stop-color="#ffffff"/><stop offset="0.989" stop-color="#0000ff"/><stop offset="1" stop-color="#0000ff"/></linearGradient>
<linearGradient id="cbe" x1="0" y1="0" x2="0" y2="1"><stop offset="0" stop-color="#ff0000"/><stop offset="0.014" stop-color="#ff0000"/><stop offset="0.502" stop-color="#ffffff"/><stop offset="0.991" stop-color="#0000ff"/><stop offset="1" stop-color="#0000ff"/></linearGradient>
<linearGradient id="cbf" x1="0" y1="0" x2="0" y2="1"><stop offset="0" stop-color="#ff0000"/><stop offset="0.020" stop-color="#ff0000"/><stop offset="0.500" stop-color="#ffffff"/><stop offset="0.980" stop-color="#0000ff"/><stop offset="1" stop-color="#0000ff"/></linearGradient>
</defs>
<rect x="397.00" y="633.00" width="16.00" height="280.00" fill="url(#cbd)" stroke="#000" stroke-width="2"/>
<line x1="413.00" y1="635.75" x2="422.50" y2="635.75" stroke="#000" stroke-width="2.00" />
<text x="432.50" y="645.05" font-size="26.50" text-anchor="start" fill="#000" >4</text>
<line x1="413.00" y1="704.31" x2="422.50" y2="704.31" stroke="#000" stroke-width="2.00" />
<text x="432.50" y="713.61" font-size="26.50" text-anchor="start" fill="#000" >2</text>
<line x1="413.00" y1="772.88" x2="422.50" y2="772.88" stroke="#000" stroke-width="2.00" />
<text x="432.50" y="782.17" font-size="26.50" text-anchor="start" fill="#000" >0</text>
<line x1="413.00" y1="841.44" x2="422.50" y2="841.44" stroke="#000" stroke-width="2.00" />
<text x="432.50" y="850.74" font-size="26.50" text-anchor="start" fill="#000" >-2</text>
<line x1="413.00" y1="910.00" x2="422.50" y2="910.00" stroke="#000" stroke-width="2.00" />
<text x="432.50" y="919.30" font-size="26.50" text-anchor="start" fill="#000" >-4</text>
<rect x="886.00" y="632.50" width="17.30" height="281.10" fill="url(#cbe)" stroke="#000" stroke-width="2"/>
<line x1="903.30" y1="636.30" x2="912.80" y2="636.30" stroke="#000" stroke-width="2.00" />
<text x="922.80" y="645.60" font-size="26.50" text-anchor="start" fill="#000" >4</text>
<line x1="903.30" y1="704.97" x2="912.80" y2="704.97" stroke="#000" stroke-width="2.00" />
<text x="922.80" y="714.27" font-size="26.50" text-anchor="start" fill="#000" >2</text>
<line x1="903.30" y1="773.65" x2="912.80" y2="773.65" stroke="#000" stroke-width="2.00" />
<text x="922.80" y="782.95" font-size="26.50" text-anchor="start" fill="#000" >0</text>
<line x1="903.30" y1="842.33" x2="912.80" y2="842.33" stroke="#000" stroke-width="2.00" />
<text x="922.80" y="851.62" font-size="26.50" text-anchor="start" fill="#000" >-2</text>
<line x1="903.30" y1="911.00" x2="912.80" y2="911.00" stroke="#000" stroke-width="2.00" />
<text x="922.80" y="920.30" font-size="26.50" text-anchor="start" fill="#000" >-4</text>
<rect x="1374.50" y="626.60" width="17.30" height="286.90" fill="url(#cbf)" stroke="#000" stroke-width="2"/>
<line x1="1391.80" y1="632.40" x2="1401.30" y2="632.40" stroke="#000" stroke-width="2.00" />
<text x="1411.30" y="641.70" font-size="26.50" text-anchor="start" fill="#000" >4</text>
<line x1="1391.80" y1="701.23" x2="1401.30" y2="701.23" stroke="#000" stroke-width="2.00" />
<text x="1411.30" y="710.52" font-size="26.50" text-anchor="start" fill="#000" >2</text>
<line x1="1391.80" y1="770.05" x2="1401.30" y2="770.05" stroke="#000" stroke-width="2.00" />
<text x="1411.30" y="779.35" font-size="26.50" text-anchor="start" fill="#000" >0</text>
<line x1="1391.80" y1="838.88" x2="1401.30" y2="838.88" stroke="#000" stroke-width="2.00" />
<text x="1411.30" y="848.17" font-size="26.50" text-anchor="start" fill="#000" >-2</text>
<line x1="1391.80" y1="907.70" x2="1401.30" y2="907.70" stroke="#000" stroke-width="2.00" />
<text x="1411.30" y="917.00" font-size="26.50" text-anchor="start" fill="#000" >-4</text>
<text x="396.4" y="609.3" font-size="26.7">x10<tspan font-size="19" dy="-11">-3</tspan></text>
<text x="886.6" y="606" font-size="26.7">x 10<tspan font-size="19" dy="-10.6">-3</tspan></text>
<text x="1376.2" y="606" font-size="26.7">x 10<tspan font-size="19" dy="-10.6">-3</tspan></text>
<text transform="translate(19.00 773.5) rotate(-90)" font-size="26.5" text-anchor="middle"><tspan font-style="italic">T</tspan> (K)</text>
<text transform="translate(509.30 773.5) rotate(-90)" font-size="26.5" text-anchor="middle"><tspan font-style="italic">T</tspan> (K)</text>
<text transform="translate(999.00 773.5) rotate(-90)" font-size="26.5" text-anchor="middle"><tspan font-style="italic">T</tspan> (K)</text>
<text transform="translate(462.30 775.00) rotate(90)" font-size="25.5" text-anchor="middle">d<tspan font-style="italic" font-family="DejaVu Serif, serif">&#967;</tspan><tspan font-size="19" dy="5" font-style="italic">bond //</tspan><tspan dy="-5">/d</tspan><tspan font-style="italic">T</tspan></text>
<text transform="translate(952.00 775.00) rotate(90)" font-size="25.5" text-anchor="middle">d<tspan font-style="italic" font-family="DejaVu Serif, serif">&#967;</tspan><tspan font-size="19" dy="5" font-style="italic">bond&#8869;</tspan><tspan dy="-5">/d</tspan><tspan font-style="italic">T</tspan></text>
<text transform="translate(1433.00 758.00) rotate(90)" font-size="25.5" text-anchor="middle">d<tspan font-style="italic" font-family="DejaVu Serif, serif">&#967;</tspan><tspan font-size="19" dy="5" font-style="italic">c</tspan><tspan dy="-5"> /d</tspan><tspan font-style="italic">T</tspan></text>
<text x="370" y="590" font-size="26" text-anchor="end" font-weight="bold" fill="#fff"><tspan font-style="italic">H</tspan> // bond</text>
<text y="593.6" font-size="26" font-weight="bold" fill="#fff"><tspan x="749.1" font-style="italic">H</tspan><tspan font-family="DejaVu Sans, sans-serif" font-weight="normal" x="772.1">&#8869;</tspan><tspan x="799.1">bond</tspan></text>
<text y="593.9" font-size="26" font-weight="bold"><tspan x="1201" font-style="italic">H</tspan><tspan font-family="DejaVu Sans, sans-serif" font-weight="normal" x="1224.0">&#8869;</tspan><tspan x="1252.4" font-style="italic">ab</tspan><tspan x="1287.4">plane</tspan></text>
<line x1="1595.60" y1="557.00" x2="1932.50" y2="557.00" stroke="#000" stroke-width="2.20" />
<line x1="1595.60" y1="555.90" x2="1595.60" y2="958.40" stroke="#000" stroke-width="2.20" />
<line x1="1595.60" y1="957.30" x2="1932.50" y2="957.30" stroke="#000" stroke-width="2.20" />
<line x1="1932.50" y1="555.90" x2="1932.50" y2="958.40" stroke="#ff0000" stroke-width="2.20" />
<line x1="1595.60" y1="956.30" x2="1605.60" y2="956.30" stroke="#000" stroke-width="2.00" />
<text x="1585.60" y="965.60" font-size="26.50" text-anchor="end" fill="#000" >0</text>
<line x1="1595.60" y1="796.70" x2="1605.60" y2="796.70" stroke="#000" stroke-width="2.00" />
<text x="1585.60" y="806.00" font-size="26.50" text-anchor="end" fill="#000" >1</text>
<line x1="1595.60" y1="637.10" x2="1605.60" y2="637.10" stroke="#000" stroke-width="2.00" />
<text x="1585.60" y="646.40" font-size="26.50" text-anchor="end" fill="#000" >2</text>
<line x1="1595.60" y1="876.50" x2="1600.60" y2="876.50" stroke="#000" stroke-width="2.00" />
<line x1="1595.60" y1="716.90" x2="1600.60" y2="716.90" stroke="#000" stroke-width="2.00" />
<line x1="1596.00" y1="957.30" x2="1596.00" y2="947.80" stroke="#000" stroke-width="2.00" />
<text x="1596.00" y="987.80" font-size="26.50" text-anchor="middle" fill="#000" >0</text>
<line x1="1620.85" y1="957.30" x2="1620.85" y2="952.80" stroke="#000" stroke-width="2.00" />
<line x1="1645.70" y1="957.30" x2="1645.70" y2="947.80" stroke="#000" stroke-width="2.00" />
<text x="1645.70" y="987.80" font-size="26.50" text-anchor="middle" fill="#000" >10</text>
<line x1="1670.55" y1="957.30" x2="1670.55" y2="952.80" stroke="#000" stroke-width="2.00" />
<line x1="1695.40" y1="957.30" x2="1695.40" y2="947.80" stroke="#000" stroke-width="2.00" />
<text x="1695.40" y="987.80" font-size="26.50" text-anchor="middle" fill="#000" >20</text>
<line x1="1720.25" y1="957.30" x2="1720.25" y2="952.80" stroke="#000" stroke-width="2.00" />
<line x1="1745.10" y1="957.30" x2="1745.10" y2="947.80" stroke="#000" stroke-width="2.00" />
<text x="1745.10" y="987.80" font-size="26.50" text-anchor="middle" fill="#000" >30</text>
<line x1="1769.95" y1="957.30" x2="1769.95" y2="952.80" stroke="#000" stroke-width="2.00" />
<line x1="1794.80" y1="957.30" x2="1794.80" y2="947.80" stroke="#000" stroke-width="2.00" />
<text x="1794.80" y="987.80" font-size="26.50" text-anchor="middle" fill="#000" >40</text>
<line x1="1819.65" y1="957.30" x2="1819.65" y2="952.80" stroke="#000" stroke-width="2.00" />
<line x1="1844.50" y1="957.30" x2="1844.50" y2="947.80" stroke="#000" stroke-width="2.00" />
<text x="1844.50" y="987.80" font-size="26.50" text-anchor="middle" fill="#000" >50</text>
<line x1="1869.35" y1="957.30" x2="1869.35" y2="952.80" stroke="#000" stroke-width="2.00" />
<line x1="1894.20" y1="957.30" x2="1894.20" y2="947.80" stroke="#000" stroke-width="2.00" />
<text x="1894.20" y="987.80" font-size="26.50" text-anchor="middle" fill="#000" >60</text>
<line x1="1919.05" y1="957.30" x2="1919.05" y2="952.80" stroke="#000" stroke-width="2.00" />
<line x1="1932.50" y1="957.50" x2="1922.50" y2="957.50" stroke="#ff0000" stroke-width="2.00" />
<text x="1942.50" y="966.80" font-size="26.50" text-anchor="start" fill="#ff0000" >1</text>
<line x1="1932.50" y1="868.20" x2="1922.50" y2="868.20" stroke="#ff0000" stroke-width="2.00" />
<text x="1942.50" y="877.50" font-size="26.50" text-anchor="start" fill="#ff0000" >2</text>
<line x1="1932.50" y1="778.90" x2="1922.50" y2="778.90" stroke="#ff0000" stroke-width="2.00" />
<text x="1942.50" y="788.20" font-size="26.50" text-anchor="start" fill="#ff0000" >3</text>
<line x1="1932.50" y1="689.60" x2="1922.50" y2="689.60" stroke="#ff0000" stroke-width="2.00" />
<text x="1942.50" y="698.90" font-size="26.50" text-anchor="start" fill="#ff0000" >4</text>
<line x1="1932.50" y1="600.30" x2="1922.50" y2="600.30" stroke="#ff0000" stroke-width="2.00" />
<text x="1942.50" y="609.60" font-size="26.50" text-anchor="start" fill="#ff0000" >5</text>
<line x1="1932.50" y1="912.85" x2="1927.50" y2="912.85" stroke="#ff0000" stroke-width="2.00" />
<line x1="1932.50" y1="823.55" x2="1927.50" y2="823.55" stroke="#ff0000" stroke-width="2.00" />
<line x1="1932.50" y1="734.25" x2="1927.50" y2="734.25" stroke="#ff0000" stroke-width="2.00" />
<line x1="1932.50" y1="644.95" x2="1927.50" y2="644.95" stroke="#ff0000" stroke-width="2.00" />
<text x="1943" y="573" font-size="26.7" fill="#ff0000">x10<tspan font-size="19" dy="-10.5">-5</tspan></text>
<text x="1764.2" y="1032.2" font-size="26.5" text-anchor="middle">Magnetic field (kOe)</text>
<text transform="translate(1555.5 756.5) rotate(-90)" font-size="26.5" text-anchor="middle"><tspan font-style="italic">M</tspan> (<tspan font-style="italic">&#956;</tspan><tspan font-size="17.5" dy="4">B</tspan><tspan dy="-4">/Co</tspan><tspan font-size="17.5" dy="-11">2+</tspan><tspan dy="11">)</tspan></text>
<text transform="translate(1968.5 759) rotate(90)" font-size="26.5" text-anchor="middle" fill="#ff0000">d<tspan font-style="italic">M</tspan>/d<tspan font-style="italic">H</tspan></text>
<line x1="1819.65" y1="558.00" x2="1819.65" y2="956.30" stroke="#ff0000" stroke-width="2.00" stroke-dasharray="10.5 7.5"/>
<line x1="1894.20" y1="559.00" x2="1894.20" y2="956.30" stroke="#ff0000" stroke-width="2.00" stroke-dasharray="3 6"/>
<line x1="1603.56" y1="952.42" x2="1638.14" y2="934.65" stroke="#000" stroke-width="2.00" />
<line x1="1652.85" y1="926.17" x2="1663.40" y2="919.40" stroke="#000" stroke-width="2.00" />
<line x1="1677.28" y1="909.62" x2="1688.67" y2="900.84" stroke="#000" stroke-width="2.00" />
<line x1="1701.33" y1="889.56" x2="1714.32" y2="876.21" stroke="#000" stroke-width="2.00" />
<line x1="1725.99" y1="863.85" x2="1739.36" y2="849.25" stroke="#000" stroke-width="2.00" />
<line x1="1750.01" y1="836.05" x2="1765.04" y2="814.81" stroke="#000" stroke-width="2.00" />
<line x1="1774.86" y1="800.93" x2="1789.89" y2="779.70" stroke="#000" stroke-width="2.00" />
<line x1="1799.29" y1="765.54" x2="1815.16" y2="740.08" stroke="#000" stroke-width="2.00" />
<line x1="1824.39" y1="725.80" x2="1839.76" y2="702.89" stroke="#000" stroke-width="2.00" />
<line x1="1849.31" y1="688.82" x2="1864.54" y2="666.61" stroke="#000" stroke-width="2.00" />
<line x1="1874.25" y1="652.65" x2="1889.30" y2="631.28" stroke="#000" stroke-width="2.00" />
<line x1="1899.52" y1="617.70" x2="1913.73" y2="600.00" stroke="#000" stroke-width="2.00" />
<line x1="1603.75" y1="952.81" x2="1637.95" y2="937.44" stroke="#000" stroke-width="2.00" />
<line x1="1652.75" y1="929.20" x2="1663.50" y2="921.95" stroke="#000" stroke-width="2.00" />
<line x1="1677.18" y1="911.88" x2="1688.77" y2="902.57" stroke="#000" stroke-width="2.00" />
<line x1="1701.72" y1="891.56" x2="1713.93" y2="880.59" stroke="#000" stroke-width="2.00" />
<line x1="1726.27" y1="868.91" x2="1739.08" y2="856.16" stroke="#000" stroke-width="2.00" />
<line x1="1750.75" y1="843.82" x2="1764.30" y2="828.59" stroke="#000" stroke-width="2.00" />
<line x1="1774.86" y1="815.30" x2="1789.89" y2="794.06" stroke="#000" stroke-width="2.00" />
<line x1="1800.02" y1="780.42" x2="1814.43" y2="761.91" stroke="#000" stroke-width="2.00" />
<line x1="1824.32" y1="748.10" x2="1839.83" y2="724.48" stroke="#000" stroke-width="2.00" />
<line x1="1849.38" y1="710.42" x2="1864.47" y2="688.91" stroke="#000" stroke-width="2.00" />
<line x1="1873.95" y1="674.80" x2="1889.60" y2="650.47" stroke="#000" stroke-width="2.00" />
<line x1="1898.88" y1="636.23" x2="1914.37" y2="612.75" stroke="#000" stroke-width="2.00" />
<polygon points="1596.0,948.5 1588.5,961.5 1603.5,961.5" fill="#000" stroke="#000" stroke-width="1.5"/>
<polygon points="1645.7,923.0 1638.2,936.0 1653.2,936.0" fill="#000" stroke="#000" stroke-width="1.5"/>
<polygon points="1670.5,907.0 1663.0,920.0 1678.0,920.0" fill="#000" stroke="#000" stroke-width="1.5"/>
<polygon points="1695.4,887.9 1687.9,900.8 1702.9,900.8" fill="#000" stroke="#000" stroke-width="1.5"/>
<polygon points="1720.2,862.3 1712.8,875.3 1727.8,875.3" fill="#000" stroke="#000" stroke-width="1.5"/>
<polygon points="1745.1,835.2 1737.6,848.2 1752.6,848.2" fill="#000" stroke="#000" stroke-width="1.5"/>
<polygon points="1770.0,800.1 1762.5,813.1 1777.5,813.1" fill="#000" stroke="#000" stroke-width="1.5"/>
<polygon points="1794.8,765.0 1787.3,778.0 1802.3,778.0" fill="#000" stroke="#000" stroke-width="1.5"/>
<polygon points="1819.7,725.1 1812.2,738.1 1827.2,738.1" fill="#000" stroke="#000" stroke-width="1.5"/>
<polygon points="1844.5,688.0 1837.0,701.0 1852.0,701.0" fill="#000" stroke="#000" stroke-width="1.5"/>
<polygon points="1869.3,651.8 1861.8,664.8 1876.8,664.8" fill="#000" stroke="#000" stroke-width="1.5"/>
<polygon points="1894.2,616.5 1886.7,629.5 1901.7,629.5" fill="#000" stroke="#000" stroke-width="1.5"/>
<polygon points="1919.0,585.6 1911.5,598.6 1926.5,598.6" fill="#000" stroke="#000" stroke-width="1.5"/>
<polygon points="1596.0,948.5 1588.5,961.5 1603.5,961.5" fill="#fff" stroke="#000" stroke-width="1.5"/>
<polygon points="1645.7,926.2 1638.2,939.2 1653.2,939.2" fill="#fff" stroke="#000" stroke-width="1.5"/>
<polygon points="1670.5,909.4 1663.0,922.4 1678.0,922.4" fill="#fff" stroke="#000" stroke-width="1.5"/>
<polygon points="1695.4,889.5 1687.9,902.4 1702.9,902.4" fill="#fff" stroke="#000" stroke-width="1.5"/>
<polygon points="1720.2,867.1 1712.8,880.1 1727.8,880.1" fill="#fff" stroke="#000" stroke-width="1.5"/>
<polygon points="1745.1,842.4 1737.6,855.4 1752.6,855.4" fill="#fff" stroke="#000" stroke-width="1.5"/>
<polygon points="1770.0,814.4 1762.5,827.4 1777.5,827.4" fill="#fff" stroke="#000" stroke-width="1.5"/>
<polygon points="1794.8,779.3 1787.3,792.3 1802.3,792.3" fill="#fff" stroke="#000" stroke-width="1.5"/>
<polygon points="1819.7,747.4 1812.2,760.4 1827.2,760.4" fill="#fff" stroke="#000" stroke-width="1.5"/>
<polygon points="1844.5,709.6 1837.0,722.6 1852.0,722.6" fill="#fff" stroke="#000" stroke-width="1.5"/>
<polygon points="1869.3,674.2 1861.8,687.1 1876.8,687.1" fill="#fff" stroke="#000" stroke-width="1.5"/>
<polygon points="1894.2,635.5 1886.7,648.5 1901.7,648.5" fill="#fff" stroke="#000" stroke-width="1.5"/>
<polygon points="1919.0,597.9 1911.5,610.9 1926.5,610.9" fill="#fff" stroke="#000" stroke-width="1.5"/>
<line x1="1603.04" y1="917.98" x2="1638.66" y2="898.79" stroke="#ff0000" stroke-width="2.00" />
<line x1="1649.47" y1="887.94" x2="1666.78" y2="855.61" stroke="#ff0000" stroke-width="2.00" />
<line x1="1675.53" y1="842.29" x2="1690.42" y2="823.56" stroke="#ff0000" stroke-width="2.00" />
<line x1="1700.05" y1="810.79" x2="1715.60" y2="788.98" stroke="#ff0000" stroke-width="2.00" />
<line x1="1724.74" y1="775.85" x2="1740.61" y2="752.48" stroke="#ff0000" stroke-width="2.00" />
<line x1="1749.05" y1="738.90" x2="1766.00" y2="709.06" stroke="#ff0000" stroke-width="2.00" />
<line x1="1775.69" y1="696.53" x2="1789.06" y2="683.56" stroke="#ff0000" stroke-width="2.00" />
<line x1="1801.30" y1="673.32" x2="1813.15" y2="664.80" stroke="#ff0000" stroke-width="2.00" />
<line x1="1825.71" y1="654.91" x2="1838.44" y2="643.92" stroke="#ff0000" stroke-width="2.00" />
<line x1="1852.19" y1="636.49" x2="1861.66" y2="633.77" stroke="#ff0000" stroke-width="2.00" />
<line x1="1877.17" y1="629.87" x2="1886.38" y2="627.88" stroke="#ff0000" stroke-width="2.00" />
<line x1="1902.07" y1="627.61" x2="1911.18" y2="629.25" stroke="#ff0000" stroke-width="2.00" />
<line x1="1603.04" y1="904.59" x2="1638.66" y2="885.39" stroke="#ff0000" stroke-width="2.00" />
<line x1="1649.65" y1="874.64" x2="1666.60" y2="844.79" stroke="#ff0000" stroke-width="2.00" />
<line x1="1676.19" y1="832.16" x2="1689.76" y2="818.51" stroke="#ff0000" stroke-width="2.00" />
<line x1="1699.23" y1="805.81" x2="1716.42" y2="774.31" stroke="#ff0000" stroke-width="2.00" />
<line x1="1722.88" y1="759.74" x2="1742.47" y2="703.41" stroke="#ff0000" stroke-width="2.00" />
<line x1="1749.75" y1="689.34" x2="1765.30" y2="667.54" stroke="#ff0000" stroke-width="2.00" />
<line x1="1775.02" y1="654.83" x2="1789.73" y2="636.85" stroke="#ff0000" stroke-width="2.00" />
<line x1="1802.05" y1="627.28" x2="1812.40" y2="622.44" stroke="#ff0000" stroke-width="2.00" />
<line x1="1826.59" y1="623.04" x2="1837.56" y2="629.35" stroke="#ff0000" stroke-width="2.00" />
<line x1="1850.89" y1="638.16" x2="1862.96" y2="647.28" stroke="#ff0000" stroke-width="2.00" />
<line x1="1873.84" y1="658.71" x2="1889.71" y2="682.09" stroke="#ff0000" stroke-width="2.00" />
<line x1="1901.03" y1="692.88" x2="1912.22" y2="699.72" stroke="#ff0000" stroke-width="2.00" />
<circle cx="1596.0" cy="908.4" r="6.4" fill="#ff0000"/>
<circle cx="1645.7" cy="881.6" r="6.4" fill="#ff0000"/>
<circle cx="1670.5" cy="837.8" r="6.4" fill="#ff0000"/>
<circle cx="1695.4" cy="812.8" r="6.4" fill="#ff0000"/>
<circle cx="1720.2" cy="767.3" r="6.4" fill="#ff0000"/>
<circle cx="1745.1" cy="695.9" r="6.4" fill="#ff0000"/>
<circle cx="1770.0" cy="661.0" r="6.4" fill="#ff0000"/>
<circle cx="1794.8" cy="630.7" r="6.4" fill="#ff0000"/>
<circle cx="1819.7" cy="619.1" r="6.4" fill="#ff0000"/>
<circle cx="1844.5" cy="633.3" r="6.4" fill="#ff0000"/>
<circle cx="1869.3" cy="652.1" r="6.4" fill="#ff0000"/>
<circle cx="1894.2" cy="688.7" r="6.4" fill="#ff0000"/>
<circle cx="1919.0" cy="703.9" r="6.4" fill="#ff0000"/>
<circle cx="1596.0" cy="921.8" r="5.6" fill="#fff" stroke="#ff0000" stroke-width="1.6"/>
<circle cx="1645.7" cy="895.0" r="5.6" fill="#fff" stroke="#ff0000" stroke-width="1.6"/>
<circle cx="1670.5" cy="848.6" r="5.6" fill="#fff" stroke="#ff0000" stroke-width="1.6"/>
<circle cx="1695.4" cy="817.3" r="5.6" fill="#fff" stroke="#ff0000" stroke-width="1.6"/>
<circle cx="1720.2" cy="782.5" r="5.6" fill="#fff" stroke="#ff0000" stroke-width="1.6"/>
<circle cx="1745.1" cy="745.9" r="5.6" fill="#fff" stroke="#ff0000" stroke-width="1.6"/>
<circle cx="1770.0" cy="702.1" r="5.6" fill="#fff" stroke="#ff0000" stroke-width="1.6"/>
<circle cx="1794.8" cy="678.0" r="5.6" fill="#fff" stroke="#ff0000" stroke-width="1.6"/>
<circle cx="1819.7" cy="660.1" r="5.6" fill="#fff" stroke="#ff0000" stroke-width="1.6"/>
<circle cx="1844.5" cy="638.7" r="5.6" fill="#fff" stroke="#ff0000" stroke-width="1.6"/>
<circle cx="1869.3" cy="631.6" r="5.6" fill="#fff" stroke="#ff0000" stroke-width="1.6"/>
<circle cx="1894.2" cy="626.2" r="5.6" fill="#fff" stroke="#ff0000" stroke-width="1.6"/>
<circle cx="1919.0" cy="630.7" r="5.6" fill="#fff" stroke="#ff0000" stroke-width="1.6"/>
<line x1="1892.70" y1="905.10" x2="1829.40" y2="905.10" stroke="#ff0000" stroke-width="2.00" />
<polygon points="1809.4,905.1 1831.4,894.6 1831.4,915.6" fill="#ff0000"/>
<line x1="1820.30" y1="935.00" x2="1800.60" y2="935.00" stroke="#ff0000" stroke-width="2.00" />
<polygon points="1780.6,935.0 1802.6,924.5 1802.6,945.5" fill="#ff0000"/>
<text x="1712" y="904.7" font-size="26" fill="#ff0000"><tspan font-style="italic">H</tspan><tspan font-size="18.3" dy="7"><tspan font-style="italic">C</tspan>, bond&#8869;</tspan></text>
<text x="1687.5" y="933.1" font-size="26" fill="#ff0000"><tspan font-style="italic">H</tspan><tspan font-size="18.3" dy="7"><tspan font-style="italic">C</tspan>, bond//</tspan></text>
<line x1="1605.80" y1="584.30" x2="1635.30" y2="584.30" stroke="#ff0000" stroke-width="2.00" />
<circle cx="1620.4" cy="584.3" r="6.2" fill="#ff0000"/>
<line x1="1605.80" y1="625.00" x2="1635.30" y2="625.00" stroke="#ff0000" stroke-width="2.00" />
<circle cx="1620.4" cy="625.0" r="5.6" fill="#fff" stroke="#ff0000" stroke-width="1.6"/>
<line x1="1605.80" y1="663.50" x2="1635.30" y2="663.50" stroke="#000" stroke-width="2.00" />
<polygon points="1620.4,656.2 1612.9,669.2 1627.9,669.2" fill="#000" stroke="#000" stroke-width="1.5"/>
<line x1="1605.80" y1="704.70" x2="1635.30" y2="704.70" stroke="#000" stroke-width="2.00" />
<polygon points="1620.4,697.4 1612.9,710.4 1627.9,710.4" fill="#fff" stroke="#000" stroke-width="1.5"/>
<text x="1644" y="593" font-size="26">d<tspan font-style="italic">M</tspan><tspan font-size="18" dy="6.5">bond//</tspan><tspan dy="-6.5">/d</tspan><tspan font-style="italic">H</tspan></text>
<text x="1644" y="633.6" font-size="26">d<tspan font-style="italic">M</tspan><tspan font-size="18" dy="6.5">bond&#8869;</tspan><tspan dy="-6.5">/d</tspan><tspan font-style="italic">H</tspan></text>
<text x="1644" y="673.2" font-size="26"><tspan font-style="italic">M</tspan><tspan font-size="18" dy="6.5">bond//</tspan></text>
<text x="1644" y="713.2" font-size="26"><tspan font-style="italic">M</tspan><tspan font-size="18" dy="6.5">bond&#8869;</tspan></text>
</svg></div></body></html>
